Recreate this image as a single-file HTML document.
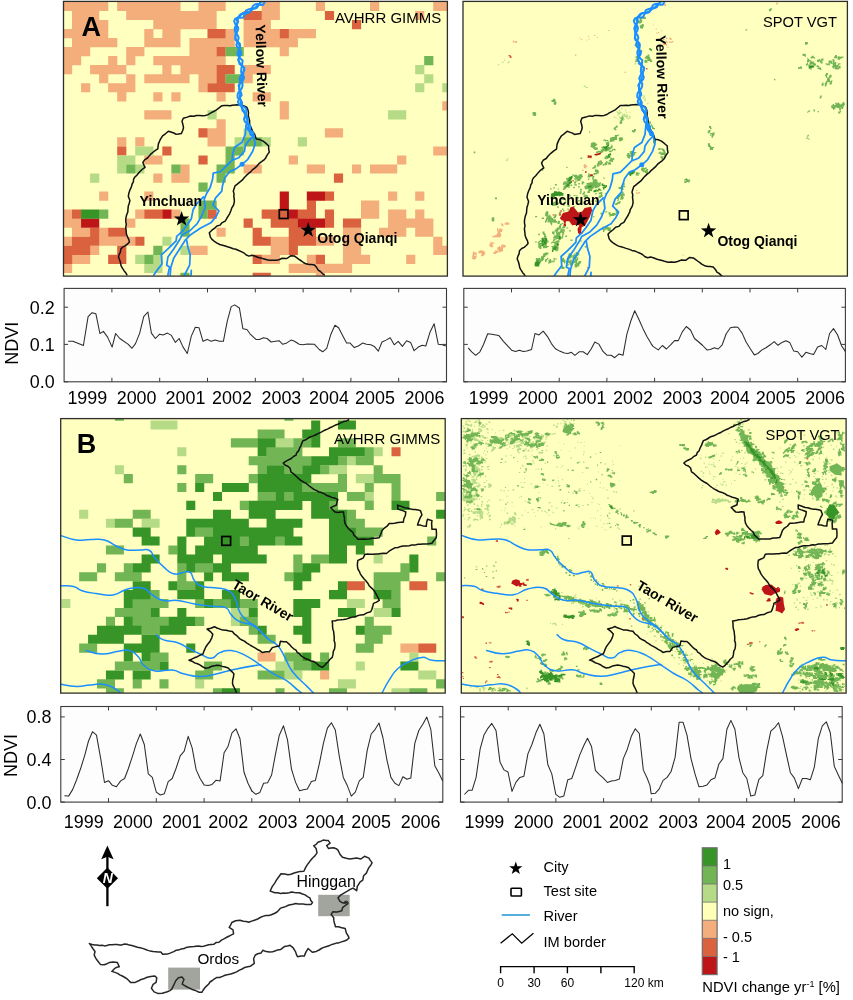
<!DOCTYPE html>
<html><head><meta charset="utf-8"><title>NDVI change maps</title>
<style>html,body{margin:0;padding:0;background:#fff}svg{display:block}text{font-family:'Liberation Sans', Arial, sans-serif}</style>
</head><body>
<svg width="853" height="1000" viewBox="0 0 853 1000">
<rect width="853" height="1000" fill="#fff"/>
<defs><clipPath id="cAL"><rect x="63.5" y="1.4" width="383.9" height="274.7"/></clipPath><clipPath id="cAR"><rect x="463.0" y="1.4" width="384.4" height="274.7"/></clipPath><clipPath id="cBL"><rect x="60.7" y="418.6" width="384.5" height="274.5"/></clipPath><clipPath id="cBR"><rect x="461.3" y="418.6" width="384.8" height="274.5"/></clipPath></defs>
<g id="mapAL">
<rect x="63.5" y="1.4" width="383.9" height="274.7" fill="#ffffc0"/>
<g clip-path="url(#cAL)">
<path fill="#f3ae7b" d="M63.00 1.90h45.30v9.18h-45.30zM117.18 1.90h63.36v9.18h-63.36zM198.45 1.90h27.24v9.18h-27.24zM261.66 1.90h18.21v9.18h-18.21zM315.84 1.90h9.18v9.18h-9.18zM370.02 1.90h9.18v9.18h-9.18zM433.23 1.90h18.21v9.18h-18.21zM72.03 10.93h27.24v9.18h-27.24zM126.21 10.93h90.45v9.18h-90.45zM261.66 10.93h18.21v9.18h-18.21zM415.17 10.93h9.18v9.18h-9.18zM72.03 19.96h36.27v9.18h-36.27zM153.30 19.96h63.36v9.18h-63.36zM243.60 19.96h27.24v9.18h-27.24zM63.00 28.99h45.30v9.18h-45.30zM144.27 28.99h9.18v9.18h-9.18zM162.33 28.99h18.21v9.18h-18.21zM225.54 28.99h9.18v9.18h-9.18zM243.60 28.99h36.27v9.18h-36.27zM288.75 28.99h27.24v9.18h-27.24zM72.03 38.02h45.30v9.18h-45.30zM144.27 38.02h36.27v9.18h-36.27zM189.42 38.02h45.30v9.18h-45.30zM243.60 38.02h54.33v9.18h-54.33zM63.00 47.05h27.24v9.18h-27.24zM126.21 47.05h18.21v9.18h-18.21zM189.42 47.05h27.24v9.18h-27.24zM279.72 47.05h9.18v9.18h-9.18zM63.00 56.08h18.21v9.18h-18.21zM108.15 56.08h9.18v9.18h-9.18zM126.21 56.08h9.18v9.18h-9.18zM153.30 56.08h72.39v9.18h-72.39zM63.00 65.11h9.18v9.18h-9.18zM90.09 65.11h36.27v9.18h-36.27zM162.33 65.11h9.18v9.18h-9.18zM180.39 65.11h36.27v9.18h-36.27zM243.60 65.11h27.24v9.18h-27.24zM99.12 74.14h9.18v9.18h-9.18zM126.21 74.14h9.18v9.18h-9.18zM144.27 74.14h45.30v9.18h-45.30zM198.45 74.14h18.21v9.18h-18.21zM243.60 74.14h9.18v9.18h-9.18zM81.06 83.17h9.18v9.18h-9.18zM108.15 83.17h27.24v9.18h-27.24zM198.45 83.17h9.18v9.18h-9.18zM117.18 92.20h9.18v9.18h-9.18zM153.30 92.20h9.18v9.18h-9.18zM171.36 92.20h9.18v9.18h-9.18zM216.51 92.20h9.18v9.18h-9.18zM252.63 92.20h18.21v9.18h-18.21zM279.72 101.23h9.18v9.18h-9.18zM442.26 101.23h9.18v9.18h-9.18zM144.27 110.26h27.24v9.18h-27.24zM279.72 110.26h9.18v9.18h-9.18zM216.51 119.29h9.18v9.18h-9.18zM207.48 128.32h18.21v9.18h-18.21zM324.87 128.32h18.21v9.18h-18.21zM117.18 137.35h9.18v9.18h-9.18zM135.24 137.35h9.18v9.18h-9.18zM207.48 137.35h18.21v9.18h-18.21zM433.23 146.38h18.21v9.18h-18.21zM144.27 155.41h18.21v9.18h-18.21zM288.75 155.41h9.18v9.18h-9.18zM397.11 155.41h9.18v9.18h-9.18zM180.39 164.44h9.18v9.18h-9.18zM243.60 164.44h18.21v9.18h-18.21zM306.81 164.44h18.21v9.18h-18.21zM351.96 164.44h9.18v9.18h-9.18zM370.02 164.44h27.24v9.18h-27.24zM153.30 173.47h9.18v9.18h-9.18zM171.36 173.47h18.21v9.18h-18.21zM99.12 191.53h9.18v9.18h-9.18zM144.27 191.53h9.18v9.18h-9.18zM388.08 191.53h9.18v9.18h-9.18zM415.17 191.53h9.18v9.18h-9.18zM360.99 200.56h18.21v9.18h-18.21zM63.00 209.59h9.18v9.18h-9.18zM135.24 209.59h9.18v9.18h-9.18zM171.36 209.59h9.18v9.18h-9.18zM360.99 209.59h18.21v9.18h-18.21zM388.08 209.59h18.21v9.18h-18.21zM415.17 209.59h9.18v9.18h-9.18zM63.00 218.62h18.21v9.18h-18.21zM126.21 218.62h9.18v9.18h-9.18zM388.08 218.62h45.30v9.18h-45.30zM72.03 227.65h18.21v9.18h-18.21zM99.12 227.65h9.18v9.18h-9.18zM216.51 227.65h9.18v9.18h-9.18zM342.93 227.65h18.21v9.18h-18.21zM379.05 227.65h27.24v9.18h-27.24zM415.17 227.65h18.21v9.18h-18.21zM63.00 236.68h9.18v9.18h-9.18zM99.12 236.68h36.27v9.18h-36.27zM270.69 236.68h18.21v9.18h-18.21zM315.84 236.68h18.21v9.18h-18.21zM342.93 236.68h18.21v9.18h-18.21zM433.23 236.68h9.18v9.18h-9.18zM90.09 245.71h9.18v9.18h-9.18zM189.42 245.71h18.21v9.18h-18.21zM270.69 245.71h18.21v9.18h-18.21zM342.93 245.71h18.21v9.18h-18.21zM433.23 245.71h18.21v9.18h-18.21zM72.03 254.74h18.21v9.18h-18.21zM261.66 254.74h18.21v9.18h-18.21zM306.81 254.74h9.18v9.18h-9.18zM342.93 254.74h27.24v9.18h-27.24zM406.14 254.74h9.18v9.18h-9.18zM63.00 263.77h9.18v9.18h-9.18zM288.75 263.77h63.36v9.18h-63.36zM315.84 272.80h9.18v9.18h-9.18z"/>
<path fill="#da623e" d="M243.60 10.93h18.21v9.18h-18.21zM324.87 10.93h9.18v9.18h-9.18zM351.96 19.96h9.18v9.18h-9.18zM207.48 28.99h18.21v9.18h-18.21zM279.72 28.99h9.18v9.18h-9.18zM216.51 47.05h9.18v9.18h-9.18zM216.51 65.11h18.21v9.18h-18.21zM216.51 74.14h9.18v9.18h-9.18zM207.48 83.17h27.24v9.18h-27.24zM198.45 128.32h9.18v9.18h-9.18zM117.18 146.38h9.18v9.18h-9.18zM162.33 146.38h9.18v9.18h-9.18zM198.45 155.41h9.18v9.18h-9.18zM333.90 173.47h9.18v9.18h-9.18zM324.87 191.53h9.18v9.18h-9.18zM306.81 200.56h9.18v9.18h-9.18zM72.03 209.59h9.18v9.18h-9.18zM144.27 209.59h18.21v9.18h-18.21zM207.48 209.59h9.18v9.18h-9.18zM261.66 209.59h27.24v9.18h-27.24zM297.78 209.59h18.21v9.18h-18.21zM324.87 209.59h9.18v9.18h-9.18zM243.60 218.62h9.18v9.18h-9.18zM270.69 218.62h27.24v9.18h-27.24zM324.87 218.62h9.18v9.18h-9.18zM342.93 218.62h18.21v9.18h-18.21zM90.09 227.65h9.18v9.18h-9.18zM108.15 227.65h18.21v9.18h-18.21zM252.63 227.65h9.18v9.18h-9.18zM288.75 227.65h27.24v9.18h-27.24zM72.03 236.68h27.24v9.18h-27.24zM135.24 236.68h9.18v9.18h-9.18zM252.63 236.68h18.21v9.18h-18.21zM288.75 236.68h27.24v9.18h-27.24zM63.00 245.71h27.24v9.18h-27.24zM117.18 245.71h9.18v9.18h-9.18zM288.75 245.71h9.18v9.18h-9.18zM63.00 254.74h9.18v9.18h-9.18zM108.15 254.74h18.21v9.18h-18.21zM252.63 254.74h9.18v9.18h-9.18zM315.84 254.74h9.18v9.18h-9.18zM252.63 272.80h18.21v9.18h-18.21z"/>
<path fill="#be1519" d="M279.72 191.53h9.18v9.18h-9.18zM306.81 191.53h18.21v9.18h-18.21zM279.72 200.56h9.18v9.18h-9.18zM162.33 209.59h9.18v9.18h-9.18zM288.75 209.59h9.18v9.18h-9.18zM81.06 218.62h18.21v9.18h-18.21zM297.78 218.62h27.24v9.18h-27.24z"/>
<path fill="#b5db86" d="M415.17 65.11h9.18v9.18h-9.18zM424.20 74.14h9.18v9.18h-9.18zM415.17 83.17h9.18v9.18h-9.18zM442.26 83.17h9.18v9.18h-9.18zM207.48 110.26h9.18v9.18h-9.18zM388.08 110.26h18.21v9.18h-18.21zM243.60 128.32h9.18v9.18h-9.18zM234.57 137.35h9.18v9.18h-9.18zM261.66 137.35h9.18v9.18h-9.18zM297.78 137.35h9.18v9.18h-9.18zM135.24 146.38h18.21v9.18h-18.21zM117.18 155.41h18.21v9.18h-18.21zM117.18 164.44h9.18v9.18h-9.18zM135.24 164.44h9.18v9.18h-9.18zM90.09 173.47h9.18v9.18h-9.18zM162.33 236.68h9.18v9.18h-9.18zM180.39 245.71h9.18v9.18h-9.18zM135.24 254.74h9.18v9.18h-9.18zM153.30 254.74h9.18v9.18h-9.18zM144.27 263.77h18.21v9.18h-18.21z"/>
<path fill="#72b554" d="M225.54 47.05h18.21v9.18h-18.21zM424.20 56.08h9.18v9.18h-9.18zM225.54 74.14h18.21v9.18h-18.21zM243.60 137.35h18.21v9.18h-18.21zM225.54 146.38h18.21v9.18h-18.21zM225.54 155.41h9.18v9.18h-9.18zM126.21 164.44h9.18v9.18h-9.18zM171.36 164.44h9.18v9.18h-9.18zM216.51 164.44h18.21v9.18h-18.21zM216.51 173.47h9.18v9.18h-9.18zM198.45 182.50h9.18v9.18h-9.18zM198.45 200.56h18.21v9.18h-18.21zM99.12 209.59h9.18v9.18h-9.18zM198.45 209.59h9.18v9.18h-9.18zM180.39 218.62h9.18v9.18h-9.18zM180.39 227.65h9.18v9.18h-9.18zM153.30 245.71h9.18v9.18h-9.18zM144.27 254.74h9.18v9.18h-9.18zM180.39 272.80h9.18v9.18h-9.18z"/>
<path fill="#379427" d="M81.06 209.59h18.21v9.18h-18.21z"/>
<g fill="none" stroke="#111" stroke-width="1.5" stroke-linejoin="round" stroke-linecap="round">
<path d="M240.6 105.0L237.7 104.8L235.1 105.0L232.1 105.3L230.2 105.8L227.3 105.4L224.4 105.6L221.6 105.8L218.7 108.2L216.5 109.9L213.6 111.5L210.6 113.0L208.2 114.6L205.4 115.5L202.4 115.8L199.4 115.5L196.4 115.5L193.9 116.3L190.5 116.0L187.2 117.1L183.3 118.2L182.0 121.3L182.9 124.5L183.5 127.7L182.8 130.2L181.4 133.5L178.5 133.9L175.8 134.2L173.8 133.0L170.8 132.0L168.4 131.2L165.4 133.8L162.6 135.8L160.2 139.7L158.4 143.9L157.8 148.9L155.4 150.3L153.3 152.0L151.1 153.8L149.6 155.4L147.5 158.0L144.6 159.8L142.9 162.4L143.9 165.1L145.1 167.3L142.0 169.5L139.3 172.3L137.0 175.1L134.9 177.0L133.6 179.2L133.4 181.8L132.1 184.0L131.5 186.7L130.1 189.6L128.9 192.9L128.3 196.3L129.9 200.6L129.1 203.8L128.3 206.1L128.0 208.8L127.8 212.0L126.6 215.0L125.9 218.1L125.7 221.4L126.3 224.4L125.7 227.3L126.1 230.4L126.4 233.8L127.1 236.1L128.8 239.3L129.4 242.0L127.6 243.9L125.4 245.7L123.0 246.9L120.8 249.0L120.4 252.1L119.1 254.6L118.5 257.3L119.7 260.0L120.5 262.9L121.1 265.9L122.4 268.2L124.2 270.9L125.5 272.4L126.9 274.9"/>
<path d="M242.3 105.2L246.8 107.3L248.1 110.3L248.5 113.2L248.2 115.4L249.0 118.1L249.6 120.9L249.6 124.4L250.9 127.0L251.6 129.1L253.1 132.2L254.6 134.2L256.3 139.0L259.6 139.6L262.7 140.9L265.4 142.9L268.6 145.7L268.7 149.2L269.3 152.1L267.1 155.1L265.7 157.9L263.7 160.2L261.2 161.9L258.7 163.9L256.6 166.4L254.4 168.4L252.3 169.9L250.7 171.9L248.2 173.7L246.4 175.4L244.6 177.3L242.2 180.2L239.7 182.1L237.3 184.1L235.0 185.9L234.0 188.9L233.3 191.2L234.1 194.1L233.8 196.2L234.2 199.2L234.4 201.6L233.6 205.0L231.7 208.1L230.9 210.8L229.6 213.8L228.0 216.4L226.7 218.5L225.2 221.1L222.2 222.6L220.1 225.1L216.9 226.0L214.7 228.1L211.9 230.2L209.3 232.8L210.5 237.4L212.3 239.7L214.4 241.3L217.1 243.1L219.8 244.5L222.4 245.2L224.5 245.8L227.4 246.8L230.0 247.5L233.2 248.7L235.9 249.2L238.1 250.2L241.3 251.6L243.7 252.8L246.3 255.0L249.0 256.1L251.9 255.3L254.6 256.0L258.4 257.5L261.2 258.1L264.2 259.0L266.8 259.8L269.4 260.3L272.5 260.3L276.0 260.3L278.9 259.7L282.3 258.3L286.9 258.5L291.0 255.7L294.6 256.1L297.0 257.9L298.9 259.3L301.5 261.0L303.4 262.5L305.9 263.8L309.2 264.5L311.7 264.6L314.5 265.0L316.7 267.5L318.2 270.2L320.4 271.5L322.5 273.5L324.3 275.0"/>
</g>
<g fill="none" stroke="#1b8fff" stroke-width="2.0" stroke-linejoin="round" stroke-linecap="round">
<path d="M266.0 0.9L263.1 0.1L261.0 0.8L259.8 3.0L258.5 5.2L257.1 7.5L255.0 8.5L252.4 8.6L250.2 9.1L248.0 9.6L246.1 10.4L245.4 13.0L244.4 15.2L243.3 17.5L240.8 17.7L238.0 17.4L235.1 19.0L234.1 21.3L235.1 23.7L237.4 26.1L238.3 28.2L237.7 30.8L236.2 33.4L235.4 35.9L235.1 38.6L235.9 40.5L238.2 42.1L239.8 43.8L240.2 45.7L239.7 48.0L238.5 50.4L237.6 52.7L237.8 54.9L239.0 57.1L240.7 58.8L242.6 60.5L242.3 63.1L242.1 65.7L241.5 67.6L241.3 69.9L241.1 72.1L242.4 74.6L244.1 77.1L243.6 79.3L241.8 81.4L239.9 83.4L238.6 85.5L239.2 87.9L239.9 90.2L241.1 92.8L241.6 95.3L240.1 97.1L238.8 99.5L238.0 101.8L238.9 104.4L241.0 105.9L244.0 106.8L245.9 108.4L246.6 111.4L245.8 114.0L244.8 116.5L244.0 119.1L244.9 121.9L247.1 123.3L249.4 124.7L250.4 126.7L250.1 129.0L249.9 132.1L250.6 134.7L253.5 135.8"/>
<path d="M265.6 0.2L264.4 2.5L263.2 4.7L260.9 5.0L257.9 4.1L255.3 4.3L253.3 5.5L252.0 8.0L251.0 10.2L249.9 12.1L248.0 13.1L245.8 13.5L243.1 13.2L241.0 14.0L239.4 15.5L238.2 17.8L237.7 19.2L238.1 21.5L237.1 23.8L235.5 26.0L234.6 28.5L235.1 31.0L236.1 33.4L237.9 35.7L238.7 37.9L238.0 40.1L237.3 42.3L236.4 44.5L236.8 46.5L238.4 48.1L239.8 50.3L241.2 52.4L240.9 54.7L239.3 57.1L238.3 59.8L239.0 62.0L239.7 64.2L242.0 65.8L244.3 68.0L244.3 70.2L243.3 72.4L241.4 74.5L240.4 76.6L239.5 78.8L240.4 81.2L242.5 83.7L242.5 86.0L241.8 88.2L240.4 90.3L238.5 92.4L237.6 94.6L237.6 97.6L239.9 99.3L241.3 101.1L242.1 102.5L241.9 105.3L241.8 108.2L242.5 110.5L243.7 111.7L244.9 114.1L246.8 116.3L247.9 118.7L247.6 120.8L246.9 123.4L246.1 126.0L247.2 127.9L248.4 130.1L251.6 131.0L253.3 132.9L253.5 135.8"/>
<path d="M265.4 -0.2L261.5 1.8L258.3 4.8L255.6 7.1L252.8 9.2L250.1 11.3L246.8 12.6L243.1 13.2L240.9 15.1L238.8 17.3L236.4 19.1L237.5 22.3L236.9 25.3L236.3 28.4L235.4 31.8L235.6 35.1L235.7 38.5L237.1 41.6L239.0 44.6L239.7 48.0L239.5 51.8L239.3 55.6L238.3 59.8L239.6 62.6L241.8 65.0L244.2 67.9L243.4 71.7L243.1 75.5L241.5 79.1L240.0 82.7L239.4 86.4L239.2 90.1L240.1 93.9L239.8 97.1L240.9 100.1L240.4 103.5L241.2 106.6L243.0 109.2L244.7 111.6L245.8 114.8L246.2 118.0L247.4 120.9L247.9 123.8L248.4 126.7L248.5 130.0L250.6 133.2L253.5 135.8" stroke-width="1.8"/>
<path d="M253.5 135.8L248.6 140.8L245.3 145.6L244.5 151.2L238.8 157.7L232.2 160.2L227.3 165.0L220.7 171.5L213.3 173.1L212.5 179.6L210.1 187.7L206.6 193.5L204.2 199.2L205.2 207.3L201.9 215.5L197.2 223.6L190.2 230.5L182.0 235.1L179.6 239.8L173.7 248.9L167.9 257.1L166.7 265.2L169.6 266.9L167.9 275.0" stroke-width="1.75"/>
<path d="M253.5 135.8L255.2 143.9L252.7 151.2L247.8 159.3L242.1 164.3L235.5 169.1L229.7 171.5L224.8 178.0L222.4 186.1L221.8 191.1L215.4 198.1L213.0 205.0L218.9 210.8L216.0 216.6L211.3 222.4L200.7 228.1L190.2 235.1L185.5 239.8L179.6 248.9L173.7 258.2L170.8 267.5L170.2 275.0" stroke-width="1.75"/>
<path d="M246.2 125.0L245.3 134.3L242.1 142.3L234.7 147.2L232.7 153.7L232.2 160.2" stroke-width="1.75"/>
<path d="M203.6 196.9L196.6 203.8L193.1 209.7L191.3 218.9L186.6 225.8L182.0 231.7L176.7 236.3L176.1 240.8L167.9 248.9L161.4 254.8L162.0 264.0L157.3 269.9L153.8 275.0" stroke-width="1.75"/>
<path d="M186.6 239.8L187.8 246.7L190.2 254.8L189.6 265.2L184.5 275.0" stroke-width="1.75"/>
<path d="M191.3 270.4L191.1 275.0" stroke-width="1.75"/>
<circle cx="242.1" cy="164.3" r="2.5" fill="#1b8fff" stroke="none"/>
</g>
</g>
<rect x="279.3" y="209.8" width="8.7" height="8.7" fill="none" stroke="#000" stroke-width="1.7"/>
<path d="M181.6 210.9L183.5 216.4L189.3 216.5L184.7 220.0L186.4 225.6L181.6 222.2L176.8 225.6L178.5 220.0L173.9 216.5L179.7 216.4z" fill="#000"/>
<path d="M308.2 222.1L310.1 227.6L315.9 227.7L311.3 231.2L313.0 236.8L308.2 233.4L303.4 236.8L305.1 231.2L300.5 227.7L306.3 227.6z" fill="#000"/>
<text x="139.6" y="205.5" font-size="14" font-weight="bold">Yinchuan</text>
<text x="317.3" y="242.6" font-size="14" font-weight="bold">Otog Qianqi</text>
<text transform="translate(255.4,24.6) rotate(88.3)" font-size="14" font-weight="bold">Yellow River</text>
<text x="441.3" y="23.3" font-size="15" text-anchor="end">AVHRR GIMMS</text>
<text x="81.5" y="36" font-size="27" font-weight="bold">A</text>
<rect x="63.5" y="1.4" width="383.9" height="274.7" fill="none" stroke="#2e2e2a" stroke-width="1.3"/>
</g>
<g id="mapAR">
<rect x="463.0" y="1.4" width="384.4" height="274.7" fill="#ffffc0"/>
<g clip-path="url(#cAR)">
<path fill="#b5db86" d="M502.1 61.7h1.4v1.2h-1.4zM507.6 61.9h1.1v1.3h-1.1zM504.1 59.6h1.0v1.2h-1.0zM498.1 63.9h1.1v1.4h-1.1zM508.0 61.4h1.7v1.1h-1.7zM585.4 86.5h1.0v1.1h-1.0zM583.7 85.5h1.5v1.5h-1.5zM586.1 87.0h1.7v1.0h-1.7zM625.3 115.5h0.9v1.0h-0.9zM622.2 119.5h1.4v0.9h-1.4zM618.3 112.9h0.9v1.4h-0.9zM621.6 117.1h0.9v1.2h-0.9zM626.2 111.7h1.2v1.0h-1.2zM627.1 115.8h1.4v1.0h-1.4zM618.5 112.8h1.7v1.3h-1.7zM621.7 121.9h0.8v1.1h-0.8zM619.1 116.6h0.9v1.3h-0.9zM626.2 115.8h1.7v0.9h-1.7zM623.1 119.3h1.3v1.2h-1.3zM622.4 113.8h1.1v1.0h-1.1zM629.2 117.3h1.6v1.3h-1.6zM628.9 115.7h1.5v1.1h-1.5zM621.3 112.3h1.0v0.9h-1.0zM621.6 116.2h1.1v1.3h-1.1zM618.6 110.1h1.5v1.0h-1.5zM617.2 114.4h1.6v1.1h-1.6zM620.6 119.8h1.8v0.9h-1.8zM622.0 115.2h1.1v1.0h-1.1zM620.9 108.3h1.5v1.0h-1.5zM624.1 113.5h1.0v1.4h-1.0zM617.1 111.9h1.5v1.4h-1.5zM613.7 116.4h1.5v1.3h-1.5zM615.4 117.4h1.4v1.0h-1.4zM622.9 119.4h0.9v1.4h-0.9zM622.1 115.9h0.9v1.4h-0.9zM620.3 117.0h0.8v0.8h-0.8zM619.3 111.4h1.5v1.3h-1.5zM626.3 116.9h1.2v1.3h-1.2zM625.1 109.6h0.9v1.4h-0.9zM629.8 111.8h0.9v0.9h-0.9zM622.0 115.9h1.6v1.3h-1.6zM616.3 111.3h1.4v1.0h-1.4zM622.7 116.3h1.6v0.9h-1.6zM619.8 118.4h0.8v1.0h-0.8zM620.1 120.2h1.2v1.0h-1.2zM625.8 114.6h1.7v1.2h-1.7zM625.4 116.0h1.2v1.3h-1.2zM617.8 119.4h1.3v0.9h-1.3zM622.3 114.5h1.6v0.9h-1.6zM623.9 115.3h1.6v1.4h-1.6zM626.0 115.4h1.3v1.3h-1.3zM623.3 118.5h1.1v1.3h-1.1zM620.8 122.7h1.1v0.9h-1.1zM620.1 112.0h0.9v1.2h-0.9zM627.4 117.9h1.5v1.3h-1.5zM618.8 113.4h1.2v1.1h-1.2zM622.5 114.8h1.7v0.8h-1.7zM622.0 117.7h1.7v1.1h-1.7zM641.8 68.4h1.6v1.5h-1.6zM636.5 50.0h1.8v1.5h-1.8zM640.5 66.5h1.5v1.4h-1.5zM634.4 63.3h1.6v1.2h-1.6zM639.4 62.2h1.5v1.0h-1.5zM637.9 59.9h1.5v1.3h-1.5zM634.7 56.8h1.0v1.5h-1.0zM636.0 60.5h1.7v1.5h-1.7zM637.2 63.2h2.0v1.0h-2.0zM637.2 53.9h1.0v1.4h-1.0zM637.0 48.7h1.3v1.6h-1.3zM636.2 59.1h1.9v1.0h-1.9zM647.3 102.8h1.1v1.5h-1.1zM644.3 99.7h1.7v1.1h-1.7zM644.4 98.0h1.1v1.5h-1.1zM643.5 95.6h1.7v1.1h-1.7zM642.6 96.9h1.5v1.6h-1.5zM505.8 159.6h1.1v1.1h-1.1zM507.2 158.1h1.2v1.1h-1.2zM506.6 159.5h1.0v1.4h-1.0z"/>
<path fill="#72b554" d="M806.9 62.7h1.1v1.7h-1.1zM805.9 63.8h1.1v1.7h-1.1zM807.2 64.4h1.6v1.1h-1.6zM808.5 64.7h1.6v2.1h-1.6zM809.5 65.4h1.8v1.5h-1.8zM811.4 64.9h1.1v2.1h-1.1zM810.9 66.8h1.2v1.2h-1.2zM809.8 68.2h2.1v1.2h-2.1zM808.6 67.2h1.8v1.5h-1.8zM810.0 61.6h1.9v1.6h-1.9zM809.5 63.0h1.8v1.6h-1.8zM810.7 56.7h1.7v1.7h-1.7zM811.7 55.8h1.9v1.4h-1.9zM813.0 63.3h1.2v1.6h-1.2zM814.1 63.5h1.9v2.0h-1.9zM812.6 63.1h2.1v1.4h-2.1zM812.2 61.5h1.8v1.8h-1.8zM810.6 61.8h2.1v2.2h-2.1zM807.0 59.9h1.8v2.3h-1.8zM807.9 59.0h1.4v1.5h-1.4zM807.3 57.7h1.0v1.6h-1.0zM808.0 59.4h1.2v1.1h-1.2zM811.0 63.1h2.1v1.1h-2.1zM809.8 63.0h1.7v2.1h-1.7zM810.3 62.0h2.1v1.4h-2.1zM800.5 66.2h1.2v1.2h-1.2zM800.7 67.5h1.3v1.6h-1.3zM799.3 67.0h1.3v1.0h-1.3zM798.0 67.3h1.5v1.7h-1.5zM799.4 66.8h1.9v1.7h-1.9zM807.1 60.0h2.0v2.1h-2.0zM807.8 58.9h1.5v1.5h-1.5zM808.8 60.1h1.8v1.1h-1.8zM810.4 60.7h1.3v1.2h-1.3zM809.6 62.1h1.1v1.0h-1.1zM812.5 62.8h2.1v1.8h-2.1zM813.8 64.2h1.3v1.5h-1.3zM816.6 65.3h1.6v1.6h-1.6zM818.1 66.1h1.1v1.4h-1.1zM817.4 67.7h2.1v1.2h-2.1zM818.8 67.6h2.2v1.7h-2.2zM819.8 69.0h1.7v1.0h-1.7zM820.2 60.5h1.3v1.5h-1.3zM820.6 61.7h2.0v1.7h-2.0zM821.1 60.3h1.4v1.3h-1.4zM821.2 58.5h2.3v2.1h-2.3zM812.3 56.8h1.7v1.5h-1.7zM814.1 57.1h1.0v1.4h-1.0zM802.6 53.8h2.2v2.3h-2.2zM804.4 53.9h1.5v1.3h-1.5zM804.7 55.4h1.3v1.3h-1.3zM819.8 60.3h1.0v2.3h-1.0zM818.6 59.1h1.7v2.2h-1.7zM817.0 59.8h2.1v2.1h-2.1zM838.7 63.3h1.8v1.3h-1.8zM837.7 63.6h1.2v2.2h-1.2zM836.6 65.0h1.6v1.8h-1.6zM837.7 56.3h1.7v1.7h-1.7zM839.3 56.7h1.6v1.2h-1.6zM840.5 56.7h2.0v1.2h-2.0zM838.9 56.7h1.9v1.7h-1.9zM838.3 58.0h1.7v1.7h-1.7zM839.2 66.5h1.4v2.0h-1.4zM837.5 66.5h1.7v2.0h-1.7zM838.9 65.8h1.6v1.8h-1.6zM837.5 57.8h1.7v1.6h-1.7zM838.8 57.0h1.9v2.1h-1.9zM840.5 56.7h1.3v1.7h-1.3zM841.4 56.5h2.1v1.2h-2.1zM832.8 61.8h1.1v1.9h-1.1zM832.6 60.6h2.2v1.2h-2.2zM832.4 59.2h1.9v1.2h-1.9zM834.0 65.6h1.5v1.6h-1.5zM835.2 65.7h2.1v1.2h-2.1zM834.0 66.2h1.7v1.4h-1.7zM834.6 67.4h1.4v1.9h-1.4zM835.9 67.7h1.7v1.6h-1.7zM837.5 67.6h1.4v1.8h-1.4zM836.0 67.2h1.1v2.3h-1.1zM832.7 64.6h1.1v2.0h-1.1zM832.4 66.4h1.2v1.5h-1.2zM833.3 65.6h2.1v1.3h-2.1zM833.0 67.4h1.1v1.1h-1.1zM832.2 66.0h1.6v1.1h-1.6zM833.5 65.0h1.8v2.0h-1.8zM834.6 66.4h2.1v1.1h-2.1zM835.8 65.1h1.6v1.4h-1.6zM833.9 64.8h2.2v1.3h-2.2zM829.9 60.9h1.2v1.1h-1.2zM830.3 62.2h1.4v1.4h-1.4zM830.4 60.5h1.4v1.7h-1.4zM832.8 62.6h1.0v2.0h-1.0zM831.3 62.3h1.2v1.6h-1.2zM832.8 61.5h1.1v2.1h-1.1zM834.0 56.4h1.7v1.9h-1.7zM835.7 56.2h1.4v2.1h-1.4zM835.0 55.0h1.8v1.5h-1.8zM834.4 56.5h1.1v1.2h-1.1zM833.8 62.8h1.1v2.1h-1.1zM834.4 62.1h1.9v1.4h-1.9zM834.7 63.5h1.4v1.6h-1.4zM828.6 60.6h2.3v1.7h-2.3zM828.7 62.2h2.3v1.4h-2.3zM828.4 63.3h1.0v1.5h-1.0zM826.6 63.5h1.7v1.3h-1.7zM825.5 63.3h1.0v1.3h-1.0zM826.7 64.1h1.5v1.1h-1.5zM828.4 64.1h1.4v1.3h-1.4zM829.4 74.7h1.9v2.1h-1.9zM829.1 76.0h1.4v2.3h-1.4zM830.5 75.1h1.1v2.1h-1.1zM825.9 76.0h1.2v1.7h-1.2zM825.1 74.4h2.1v1.8h-2.1zM826.0 73.1h1.9v1.9h-1.9zM825.5 81.8h1.7v1.8h-1.7zM826.3 80.7h1.9v1.6h-1.9zM827.8 80.2h1.7v1.7h-1.7zM828.8 78.9h1.1v2.0h-1.1zM824.8 83.1h2.3v1.6h-2.3zM824.8 84.5h1.6v1.9h-1.6zM825.9 83.5h1.1v1.2h-1.1zM827.0 79.0h1.0v1.1h-1.0zM827.2 77.5h1.9v1.4h-1.9zM828.7 76.8h1.6v1.6h-1.6zM819.7 96.5h1.6v2.1h-1.6zM820.3 95.4h1.6v1.3h-1.6zM829.4 83.2h2.2v1.2h-2.2zM830.3 81.4h1.7v2.2h-1.7zM830.9 80.6h1.6v1.0h-1.6zM822.3 82.5h1.2v1.4h-1.2zM821.6 83.6h2.0v2.1h-2.0zM828.9 81.0h1.4v1.5h-1.4zM827.9 79.7h1.5v1.6h-1.5zM826.7 80.2h1.1v1.1h-1.1zM827.6 79.0h1.3v1.3h-1.3zM837.9 106.2h2.1v2.1h-2.1zM836.8 105.0h2.2v2.2h-2.2zM835.6 105.2h1.9v1.1h-1.9zM835.7 103.3h1.6v2.0h-1.6zM835.0 102.7h1.4v1.1h-1.4zM840.6 106.0h1.4v2.0h-1.4zM842.2 105.9h1.3v1.9h-1.3zM841.4 107.5h1.7v1.5h-1.7zM838.2 105.8h1.6v1.3h-1.6zM839.1 104.8h2.3v1.6h-2.3zM840.5 106.3h1.3v1.1h-1.3zM839.7 107.4h1.1v1.3h-1.1zM839.2 108.4h1.7v2.2h-1.7zM831.4 105.6h1.5v1.4h-1.5zM832.9 105.8h1.4v2.3h-1.4zM833.7 107.1h1.7v1.8h-1.7zM834.8 106.1h1.3v1.4h-1.3zM831.1 105.5h2.1v2.1h-2.1zM833.2 105.8h1.0v1.9h-1.0zM834.0 105.0h1.6v1.8h-1.6zM835.4 104.8h1.5v2.2h-1.5zM835.6 103.5h2.1v2.3h-2.1zM838.5 104.8h1.9v2.2h-1.9zM838.3 103.4h1.8v2.0h-1.8zM836.9 104.4h1.7v1.1h-1.7zM837.5 102.4h1.3v2.2h-1.3zM835.1 105.3h1.8v1.9h-1.8zM836.7 106.4h1.1v1.7h-1.1zM835.1 105.8h1.5v1.3h-1.5zM840.5 104.2h2.2v1.8h-2.2zM842.0 103.5h1.6v1.3h-1.6zM841.6 104.7h2.2v1.9h-2.2zM842.6 104.7h1.5v1.3h-1.5zM841.5 103.4h2.2v1.3h-2.2zM843.4 103.7h1.4v1.5h-1.4zM842.9 102.1h1.3v2.0h-1.3zM832.6 103.9h1.4v2.1h-1.4zM832.8 105.5h1.3v2.0h-1.3zM831.9 107.0h2.2v1.6h-2.2zM833.0 108.3h1.3v1.5h-1.3zM831.7 107.0h2.2v1.2h-2.2zM839.9 111.0h1.1v1.1h-1.1zM838.2 111.4h2.2v2.1h-2.2zM840.3 104.5h2.2v1.2h-2.2zM842.3 104.0h1.3v1.5h-1.3zM842.5 102.6h2.1v1.6h-2.1zM808.2 110.6h1.9v1.1h-1.9zM807.3 111.6h1.0v1.2h-1.0zM813.4 109.3h1.0v1.0h-1.0zM817.6 110.9h1.3v1.4h-1.3zM813.6 109.8h1.3v1.6h-1.3zM805.1 43.3h1.8v1.5h-1.8zM805.0 42.3h1.5v1.5h-1.5zM805.8 42.1h2.0v2.1h-2.0zM805.0 41.9h2.1v1.2h-2.1zM805.3 42.4h1.7v2.2h-1.7zM806.3 42.5h1.6v1.5h-1.6zM707.7 131.3h2.0v2.0h-2.0zM708.4 130.1h2.0v1.8h-2.0zM710.0 134.4h1.1v1.3h-1.1zM710.0 132.9h1.3v1.1h-1.3zM711.3 133.2h1.7v1.4h-1.7zM712.5 132.6h2.1v2.3h-2.1zM712.7 134.8h1.1v1.1h-1.1zM710.0 127.4h1.5v1.8h-1.5zM709.0 125.9h2.0v2.1h-2.0zM711.5 135.9h1.7v1.5h-1.7zM711.6 134.5h1.3v1.3h-1.3zM711.7 135.6h1.2v2.1h-1.2zM709.7 148.6h1.7v1.3h-1.7zM710.2 146.7h1.8v2.3h-1.8zM711.5 147.8h1.6v2.1h-1.6zM711.9 147.0h2.2v1.1h-2.2zM711.9 148.5h1.2v1.2h-1.2zM707.9 143.3h2.1v1.6h-2.1zM707.9 144.5h2.0v2.2h-2.0zM709.2 145.6h1.8v1.8h-1.8zM710.0 147.1h1.3v1.8h-1.3zM709.1 146.3h1.3v1.0h-1.3zM807.1 135.6h1.3v1.1h-1.3zM807.8 134.7h1.1v1.1h-1.1zM806.2 137.6h1.6v1.1h-1.6zM808.1 138.4h1.4v1.2h-1.4zM770.3 8.0h1.4v2.0h-1.4zM769.8 9.1h1.7v1.5h-1.7zM768.9 9.3h1.9v2.0h-1.9zM745.5 29.2h1.6v1.2h-1.6zM774.0 79.1h1.4v1.2h-1.4zM685.9 180.4h1.1v1.6h-1.1zM685.9 179.1h2.3v1.3h-2.3zM686.9 179.8h2.2v2.3h-2.2zM685.9 180.0h1.1v2.2h-1.1zM684.2 181.2h2.2v1.8h-2.2zM688.1 180.4h1.5v2.1h-1.5zM689.0 179.5h1.2v1.3h-1.2zM684.4 178.9h1.3v1.9h-1.3zM685.7 178.1h1.1v1.7h-1.1zM551.5 100.1h2.4v1.8h-2.4zM552.6 100.0h2.3v1.4h-2.3zM552.9 99.0h2.3v1.3h-2.3zM552.2 99.9h2.1v1.4h-2.1zM553.4 98.8h1.5v2.2h-1.5zM553.9 99.7h1.8v2.3h-1.8zM554.2 101.1h1.5v1.8h-1.5zM553.8 102.3h1.2v1.4h-1.2zM553.7 102.8h2.3v2.0h-2.3zM555.0 101.9h1.4v2.1h-1.4zM534.4 113.3h1.8v2.0h-1.8zM533.5 114.2h2.2v1.9h-2.2zM532.6 113.9h2.3v1.3h-2.3zM533.9 113.7h2.0v1.7h-2.0zM534.4 112.3h1.5v2.4h-1.5zM533.5 112.0h1.6v2.1h-1.6zM532.7 112.4h1.4v2.1h-1.4zM533.4 113.1h2.2v1.5h-2.2zM532.6 112.1h2.4v1.9h-2.4zM620.2 122.3h1.6v1.7h-1.6zM620.0 120.7h2.0v1.8h-2.0zM619.4 122.3h1.4v1.2h-1.4zM621.5 117.9h1.6v2.0h-1.6zM620.4 117.4h1.2v1.6h-1.2zM621.5 116.6h1.3v1.2h-1.3zM622.3 117.6h1.2v1.3h-1.2zM621.3 119.0h1.7v1.2h-1.7zM620.9 119.7h1.2v2.3h-1.2zM641.3 25.6h1.9v1.8h-1.9zM641.5 27.2h1.6v1.6h-1.6zM640.4 26.0h1.5v1.9h-1.5zM642.0 25.3h1.2v1.9h-1.2zM642.1 23.9h1.5v1.6h-1.5zM641.8 24.6h2.0v2.2h-2.0zM640.7 24.7h1.1v1.7h-1.1zM639.6 21.2h2.1v1.7h-2.1zM638.2 22.2h2.2v1.3h-2.2zM638.0 20.5h1.5v2.0h-1.5zM638.8 21.8h2.3v1.5h-2.3zM640.0 26.7h1.5v1.5h-1.5zM639.6 25.4h1.5v1.3h-1.5zM637.2 44.5h1.3v2.0h-1.3zM636.0 45.9h1.3v1.2h-1.3zM635.9 44.0h2.1v1.8h-2.1zM634.6 44.6h1.7v1.3h-1.7zM635.7 58.7h2.1v1.6h-2.1zM635.4 60.4h1.7v1.2h-1.7zM636.3 58.6h1.5v2.1h-1.5zM636.1 60.5h1.5v1.3h-1.5zM634.9 61.2h1.2v1.0h-1.2zM637.0 57.2h1.6v1.6h-1.6zM635.9 56.1h1.9v1.5h-1.9zM637.2 55.6h2.1v1.1h-2.1zM639.1 50.2h2.1v1.8h-2.1zM641.2 50.1h1.0v2.2h-1.0zM637.3 55.8h1.3v2.0h-1.3zM636.5 57.0h1.2v2.2h-1.2zM647.2 55.8h2.1v1.5h-2.1zM646.0 55.8h1.7v2.0h-1.7zM646.5 57.5h1.6v1.5h-1.6zM644.8 57.0h2.1v1.4h-2.1zM645.7 60.5h1.7v2.3h-1.7zM644.7 59.7h2.0v1.4h-2.0zM644.4 61.0h1.4v1.8h-1.4zM648.1 58.4h2.2v1.7h-2.2zM649.9 59.3h1.4v1.0h-1.4zM650.0 60.3h2.2v1.8h-2.2zM649.1 58.7h2.0v2.2h-2.0zM648.0 57.9h1.8v1.8h-1.8zM647.6 56.4h1.8v1.9h-1.8zM647.1 57.0h1.1v1.2h-1.1zM648.1 56.9h2.0v2.2h-2.0zM647.4 55.6h1.5v2.1h-1.5zM647.6 54.6h1.7v1.3h-1.7zM647.2 56.1h1.5v1.4h-1.5zM645.7 56.4h1.8v2.2h-1.8zM647.3 58.8h2.1v1.7h-2.1zM648.9 58.5h1.6v1.0h-1.6zM647.6 58.9h1.8v2.2h-1.8zM643.5 16.9h2.3v2.1h-2.3zM642.2 17.4h1.7v1.3h-1.7zM639.6 18.0h2.1v2.3h-2.1zM640.1 20.0h1.0v1.3h-1.0zM640.7 21.4h1.1v1.1h-1.1zM638.8 20.4h2.1v1.6h-2.1zM640.2 20.1h2.2v1.1h-2.2zM643.5 17.4h1.3v1.7h-1.3zM642.1 16.2h2.2v1.9h-2.2zM641.3 17.5h1.6v1.2h-1.6zM642.5 17.2h2.3v1.3h-2.3zM644.5 17.5h1.3v1.5h-1.3zM491.7 217.6h1.5v1.8h-1.5zM492.6 217.2h1.7v2.1h-1.7zM492.6 218.3h1.6v1.9h-1.6zM492.8 219.1h1.5v2.1h-1.5zM491.5 219.4h2.0v1.4h-2.0zM492.2 220.2h1.6v1.4h-1.6zM473.7 151.6h1.6v1.6h-1.6zM494.9 197.5h2.1v1.8h-2.1zM567.2 179.3h1.9v1.5h-1.9zM566.6 180.1h1.1v2.2h-1.1zM566.5 181.7h2.2v1.9h-2.2zM567.7 180.8h1.6v1.1h-1.6zM563.7 185.8h1.2v2.0h-1.2zM565.1 185.8h1.3v1.7h-1.3zM566.0 184.9h1.8v1.7h-1.8zM565.0 186.3h1.5v1.3h-1.5zM564.0 187.0h1.2v1.9h-1.2zM562.9 188.4h1.7v1.6h-1.7zM563.6 187.0h1.5v1.4h-1.5zM564.8 185.6h1.4v2.1h-1.4zM565.2 184.7h2.0v1.2h-2.0zM564.6 185.8h2.0v2.1h-2.0zM564.7 187.6h1.4v1.5h-1.4zM566.7 183.1h1.1v1.4h-1.1zM565.0 183.4h1.5v1.2h-1.5zM565.9 182.4h2.0v1.1h-2.0zM566.8 181.0h2.3v1.7h-2.3zM565.9 181.7h1.2v1.7h-1.2zM564.1 182.4h2.2v1.8h-2.2zM564.5 181.2h1.3v1.3h-1.3zM569.2 180.1h1.4v1.2h-1.4zM569.4 178.2h1.2v2.0h-1.2zM569.0 177.0h2.0v1.4h-2.0zM567.9 177.8h1.5v1.7h-1.5zM566.1 178.1h2.1v1.3h-2.1zM567.8 177.5h2.1v1.9h-2.1zM568.9 176.8h2.2v1.6h-2.2zM568.5 178.6h1.8v1.1h-1.8zM569.8 177.3h1.2v1.6h-1.2zM568.4 178.5h1.6v1.2h-1.6zM569.1 179.2h2.0v1.6h-2.0zM570.1 177.9h1.5v1.4h-1.5zM568.4 177.9h1.9v2.1h-1.9zM567.4 179.0h1.6v1.7h-1.6zM566.9 180.7h1.3v1.1h-1.3zM567.2 178.7h2.2v2.1h-2.2zM568.7 178.3h2.3v1.8h-2.3zM570.0 177.5h1.8v1.4h-1.8zM570.5 176.2h2.2v1.6h-2.2zM569.8 178.0h2.2v1.0h-2.2zM563.0 183.2h1.9v1.5h-1.9zM563.5 181.7h1.7v1.5h-1.7zM563.0 182.9h1.2v2.2h-1.2zM563.7 182.0h1.3v1.1h-1.3zM566.6 184.4h1.3v1.7h-1.3zM568.0 183.9h1.1v1.5h-1.1zM566.4 184.3h1.6v2.1h-1.6zM566.5 182.7h1.1v2.3h-1.1zM567.2 181.5h1.1v2.1h-1.1zM567.5 180.3h1.7v2.0h-1.7zM566.2 181.9h2.0v1.1h-2.0zM565.3 183.1h1.8v1.3h-1.8zM575.5 175.4h1.8v2.1h-1.8zM573.9 174.8h2.2v2.1h-2.2zM574.9 176.5h2.0v1.4h-2.0zM575.1 174.7h1.9v2.1h-1.9zM576.4 175.8h1.5v2.0h-1.5zM577.6 175.8h1.9v1.1h-1.9zM578.5 178.0h1.1v2.2h-1.1zM577.7 177.1h1.3v1.3h-1.3zM575.9 177.4h2.1v1.8h-2.1zM577.7 178.8h1.0v1.1h-1.0zM578.1 177.0h1.2v1.7h-1.2zM577.4 178.7h1.9v1.5h-1.9zM577.7 175.6h2.1v2.2h-2.1zM579.6 176.2h1.4v1.2h-1.4zM577.6 175.8h2.1v2.0h-2.1zM579.5 176.1h1.2v2.1h-1.2zM578.7 174.9h1.5v1.6h-1.5zM595.4 183.8h1.8v1.1h-1.8zM596.5 182.8h1.8v1.1h-1.8zM595.1 182.7h1.5v1.6h-1.5zM594.7 184.0h1.0v1.8h-1.0zM593.7 185.2h1.0v1.6h-1.0zM591.9 185.7h1.9v1.4h-1.9zM590.9 186.4h1.7v1.3h-1.7zM591.2 185.0h2.3v1.0h-2.3zM592.5 183.2h2.0v2.1h-2.0zM594.3 183.0h1.5v1.4h-1.5zM594.2 181.1h2.1v2.2h-2.1zM595.4 180.4h2.0v1.7h-2.0zM590.5 187.3h1.1v1.4h-1.1zM590.1 188.9h1.5v1.3h-1.5zM589.8 187.4h1.5v1.2h-1.5zM588.8 185.9h1.6v1.7h-1.6zM587.7 187.0h1.2v1.1h-1.2zM588.7 185.5h1.7v2.2h-1.7zM587.0 185.7h2.2v1.8h-2.2zM588.6 185.7h2.3v1.5h-2.3zM585.9 186.7h1.6v2.2h-1.6zM584.9 188.0h1.2v1.3h-1.2zM586.4 187.8h1.3v1.5h-1.3zM587.6 187.6h1.8v1.3h-1.8zM588.7 187.9h2.3v1.8h-2.3zM596.6 184.3h1.7v2.1h-1.7zM597.9 184.5h2.2v1.3h-2.2zM598.9 182.8h1.5v1.9h-1.5zM597.7 182.4h1.1v1.5h-1.1zM596.0 181.7h1.6v1.8h-1.6zM594.5 182.6h1.6v1.0h-1.6zM591.0 188.0h1.4v1.1h-1.4zM589.6 187.9h1.2v2.0h-1.2zM588.1 187.2h1.7v1.8h-1.7zM589.7 187.4h1.9v1.8h-1.9zM589.0 188.7h1.9v2.0h-1.9zM590.7 189.3h1.4v2.0h-1.4zM589.1 188.8h1.7v2.2h-1.7zM588.3 189.9h1.0v1.6h-1.0zM587.2 191.4h2.3v1.3h-2.3zM588.0 189.8h1.1v1.0h-1.1zM589.3 189.1h1.7v1.2h-1.7zM591.5 185.8h2.0v2.2h-2.0zM593.2 185.1h1.3v2.3h-1.3zM591.5 186.1h1.8v1.4h-1.8zM589.8 186.7h2.2v1.1h-2.2zM590.9 184.8h1.1v1.8h-1.1zM590.8 186.6h1.7v1.5h-1.7zM598.6 184.4h1.3v1.3h-1.3zM597.5 185.4h2.0v1.8h-2.0zM595.9 186.1h2.3v1.3h-2.3zM597.0 184.8h2.1v1.3h-2.1zM598.3 183.8h2.1v1.4h-2.1zM599.7 182.3h1.2v1.9h-1.2zM588.3 185.7h1.3v2.1h-1.3zM588.7 184.2h1.2v2.1h-1.2zM590.0 185.5h1.4v1.0h-1.4zM588.6 184.2h2.2v1.2h-2.2zM590.3 185.3h1.1v1.2h-1.1zM588.5 185.9h2.2v1.9h-2.2zM589.4 185.2h2.3v1.0h-2.3zM591.4 184.4h1.0v1.7h-1.0zM589.8 183.7h1.6v1.1h-1.6zM589.5 182.3h2.1v1.2h-2.1zM588.4 182.7h1.2v1.6h-1.2zM586.5 182.9h2.0v1.7h-2.0zM590.4 187.2h1.5v1.3h-1.5zM591.4 188.4h1.4v1.2h-1.4zM590.5 189.6h1.1v1.1h-1.1zM590.8 188.0h1.5v1.0h-1.5zM591.9 186.9h1.8v1.7h-1.8zM591.7 185.2h2.1v1.9h-2.1zM591.0 186.6h1.4v1.5h-1.4zM589.4 186.6h1.5v1.2h-1.5zM590.9 185.4h1.0v1.8h-1.0zM592.2 185.7h1.5v1.3h-1.5zM591.2 186.4h1.2v2.1h-1.2zM589.3 187.1h1.9v1.4h-1.9zM590.2 184.5h1.0v2.0h-1.0zM591.1 184.8h2.3v1.3h-2.3zM591.7 183.3h2.0v1.5h-2.0zM592.9 182.2h1.8v1.9h-1.8zM592.2 183.8h1.8v1.7h-1.8zM590.4 184.4h2.2v1.6h-2.2zM592.0 185.1h1.7v1.6h-1.7zM593.3 184.4h1.7v1.7h-1.7zM594.4 184.4h2.1v1.3h-2.1zM592.8 183.9h1.8v2.1h-1.8zM593.7 185.3h2.1v1.1h-2.1zM594.1 183.7h1.2v1.2h-1.2zM592.5 183.1h1.1v1.5h-1.1zM588.5 186.9h1.9v1.6h-1.9zM586.9 186.9h2.0v2.0h-2.0zM585.6 187.1h1.7v1.3h-1.7zM584.5 186.5h1.4v1.5h-1.4zM586.4 186.6h1.1v1.2h-1.1zM587.7 185.8h1.4v1.4h-1.4zM586.2 186.2h1.8v2.1h-1.8zM585.4 185.2h1.6v2.0h-1.6zM584.7 186.8h1.6v1.5h-1.6zM585.9 185.6h1.4v1.5h-1.4zM585.5 187.0h1.5v1.8h-1.5zM585.8 185.2h1.2v2.3h-1.2zM587.1 184.9h1.4v1.1h-1.4zM589.4 186.7h2.2v2.0h-2.2zM588.3 186.0h1.6v2.1h-1.6zM586.9 186.6h1.6v2.2h-1.6zM587.2 185.3h2.1v1.9h-2.1zM589.1 185.4h1.5v1.1h-1.5zM589.8 184.3h2.0v1.2h-2.0zM589.9 185.4h1.1v2.1h-1.1zM591.0 185.6h1.7v1.1h-1.7zM599.6 189.6h1.9v1.5h-1.9zM598.1 188.5h2.3v2.1h-2.3zM601.3 191.9h1.0v2.3h-1.0zM600.9 193.9h1.3v1.4h-1.3zM600.5 195.2h2.1v1.7h-2.1zM599.3 195.2h1.5v1.1h-1.5zM598.6 196.0h2.1v2.0h-2.1zM600.1 192.3h1.7v1.5h-1.7zM598.7 192.5h1.6v1.8h-1.6zM592.2 145.1h1.7v1.1h-1.7zM591.6 146.3h1.7v1.5h-1.7zM590.4 145.7h1.4v1.4h-1.4zM590.9 143.9h1.4v1.9h-1.4zM591.3 142.7h1.8v1.6h-1.8zM592.8 141.9h1.6v2.1h-1.6zM594.2 142.8h1.6v1.8h-1.6zM595.3 143.7h2.1v1.1h-2.1zM593.5 147.5h2.0v1.6h-2.0zM592.9 146.3h1.9v1.4h-1.9zM593.2 147.9h2.1v1.2h-2.1zM594.9 147.2h1.3v1.1h-1.3zM595.8 147.5h2.0v2.2h-2.0zM594.4 148.8h1.9v1.3h-1.9zM591.2 145.2h1.9v1.1h-1.9zM592.2 143.8h1.4v1.3h-1.4zM590.9 142.9h1.4v1.7h-1.4zM593.5 144.8h1.2v2.0h-1.2zM594.9 145.1h1.5v1.0h-1.5zM593.5 146.0h1.8v1.3h-1.8zM592.4 145.4h1.1v1.6h-1.1zM592.0 143.8h1.6v1.9h-1.6zM593.0 145.2h2.1v1.2h-2.1zM594.2 143.9h2.3v2.2h-2.3zM593.1 144.1h1.4v1.5h-1.4zM599.4 151.2h1.6v2.1h-1.6zM599.1 153.0h1.2v1.4h-1.2zM599.5 151.6h2.1v1.3h-2.1zM600.8 151.0h2.3v1.4h-2.3zM604.8 150.1h1.6v1.3h-1.6zM606.2 149.5h1.4v1.1h-1.4zM607.1 147.9h1.1v1.7h-1.1zM605.6 148.5h1.0v1.7h-1.0zM605.0 150.3h1.8v1.2h-1.8zM603.8 149.9h2.2v1.4h-2.2zM604.8 148.6h2.1v1.6h-2.1zM606.7 148.2h1.2v1.6h-1.2zM608.0 147.8h1.2v1.6h-1.2zM608.0 149.4h1.3v1.2h-1.3zM606.1 149.4h2.1v1.7h-2.1zM607.8 148.6h1.6v2.0h-1.6zM608.9 148.1h1.9v1.3h-1.9zM608.0 148.8h1.0v1.5h-1.0zM608.7 147.3h1.4v2.2h-1.4zM607.1 144.8h1.1v1.3h-1.1zM607.1 143.5h2.3v1.1h-2.3zM607.8 141.6h1.4v2.1h-1.4zM606.9 143.7h2.2v1.0h-2.2zM605.9 143.4h1.1v1.3h-1.1zM606.7 142.5h1.9v1.2h-1.9zM605.9 143.5h1.3v1.4h-1.3zM606.9 143.0h2.3v2.0h-2.3zM605.7 157.4h1.3v1.8h-1.3zM606.0 156.3h2.0v1.1h-2.0zM604.6 157.0h2.3v1.9h-2.3zM605.8 155.5h1.2v2.1h-1.2zM606.3 156.8h2.1v2.0h-2.1zM607.2 155.4h1.6v2.1h-1.6zM605.3 156.0h2.2v1.7h-2.2zM610.2 158.8h1.3v2.1h-1.3zM608.9 159.7h1.3v1.6h-1.3zM610.2 159.5h1.9v1.9h-1.9zM610.3 157.8h1.9v2.2h-1.9zM612.0 158.8h1.5v1.1h-1.5zM611.3 159.8h1.8v2.1h-1.8zM611.6 158.4h1.0v1.6h-1.0zM612.7 158.1h1.5v1.8h-1.5zM611.3 159.1h1.4v1.3h-1.4zM608.9 150.7h1.9v1.6h-1.9zM610.3 150.6h2.0v1.2h-2.0zM611.9 149.6h1.2v1.4h-1.2zM612.8 148.7h1.5v1.3h-1.5zM614.1 149.0h1.5v1.6h-1.5zM597.5 150.8h2.1v1.2h-2.1zM596.1 151.4h2.2v1.6h-2.2zM597.9 150.7h1.3v1.5h-1.3zM599.3 151.0h1.7v1.5h-1.7zM608.0 147.1h1.8v1.6h-1.8zM609.5 147.3h1.8v1.5h-1.8zM610.6 146.0h1.9v2.2h-1.9zM611.4 144.7h1.1v2.1h-1.1zM602.4 149.3h2.2v1.9h-2.2zM601.5 149.9h1.2v2.2h-1.2zM602.8 149.1h1.2v1.8h-1.2zM601.2 150.1h2.0v1.8h-2.0zM600.0 151.2h2.0v1.4h-2.0zM600.8 149.3h1.8v2.0h-1.8zM602.2 148.2h1.5v2.3h-1.5zM601.3 149.6h1.2v1.7h-1.2zM605.8 146.9h1.7v2.1h-1.7zM604.4 147.3h1.4v1.1h-1.4zM603.1 146.1h1.5v2.3h-1.5zM601.3 146.8h2.2v1.3h-2.2zM611.5 139.8h1.5v1.5h-1.5zM609.7 139.6h2.2v1.6h-2.2zM611.4 138.8h1.8v2.0h-1.8zM612.9 138.4h1.6v1.7h-1.6zM614.2 138.7h2.0v1.4h-2.0zM619.6 137.9h2.0v1.1h-2.0zM621.1 138.3h1.7v1.5h-1.7zM619.9 138.0h1.1v1.7h-1.1zM620.9 137.5h1.9v1.5h-1.9zM619.3 137.4h1.8v2.3h-1.8zM610.1 137.5h2.2v2.0h-2.2zM611.8 137.0h1.5v1.2h-1.5zM613.1 137.1h1.7v1.7h-1.7zM612.0 138.5h1.4v1.1h-1.4zM611.3 139.4h1.7v2.1h-1.7zM610.0 140.5h1.7v1.4h-1.7zM614.5 136.4h1.9v2.0h-1.9zM614.8 134.9h2.0v2.1h-2.0zM616.1 135.0h2.1v1.2h-2.1zM617.8 134.4h1.4v1.1h-1.4zM614.6 138.3h1.3v1.1h-1.3zM615.5 136.8h1.5v1.9h-1.5zM615.0 138.6h2.1v1.4h-2.1zM614.0 138.1h1.4v1.1h-1.4zM606.1 139.9h2.1v1.1h-2.1zM604.9 139.8h1.4v1.7h-1.4zM603.3 139.4h2.0v1.3h-2.0zM607.5 142.4h1.7v1.6h-1.7zM605.9 142.3h1.8v1.9h-1.8zM607.2 141.7h1.8v1.3h-1.8zM620.4 137.5h1.4v2.3h-1.4zM618.8 137.4h1.6v1.9h-1.6zM620.4 137.6h1.6v1.4h-1.6zM619.1 137.5h1.3v2.0h-1.3zM620.5 138.1h1.6v1.3h-1.6zM619.0 138.3h1.7v1.9h-1.7zM620.2 137.3h2.0v2.2h-2.0zM622.0 138.5h1.1v1.3h-1.1zM620.2 139.0h2.1v1.9h-2.1zM619.3 139.8h1.2v1.8h-1.2zM612.9 139.3h1.5v2.2h-1.5zM611.6 139.9h1.1v1.2h-1.1zM612.5 138.3h1.6v2.3h-1.6zM610.9 138.2h2.1v1.2h-2.1zM614.7 127.0h1.3v1.0h-1.3zM615.7 125.6h1.9v2.2h-1.9zM613.7 127.6h2.1v2.1h-2.1zM615.3 129.1h1.0v1.3h-1.0zM613.7 128.4h1.5v1.0h-1.5zM632.0 130.2h2.0v1.7h-2.0zM633.5 129.9h1.3v1.5h-1.3zM633.9 129.1h2.1v1.7h-2.1zM633.2 130.2h2.1v1.6h-2.1zM632.7 131.3h1.8v1.3h-1.8zM633.4 130.2h1.8v1.9h-1.8zM550.4 220.6h1.6v1.5h-1.6zM550.1 221.9h1.8v1.9h-1.8zM551.0 223.1h1.2v2.2h-1.2zM547.7 220.5h2.0v2.1h-2.0zM548.4 219.6h2.0v1.0h-2.0zM550.3 220.2h1.0v1.1h-1.0zM548.1 220.3h2.2v1.3h-2.2zM547.9 218.8h2.2v1.3h-2.2zM549.4 219.8h1.0v2.0h-1.0zM550.6 220.9h1.7v1.1h-1.7zM551.9 220.3h2.2v2.2h-2.2zM553.4 220.8h2.1v1.7h-2.1zM554.1 219.2h1.8v2.0h-1.8zM548.3 217.6h2.0v1.0h-2.0zM549.6 216.6h2.1v1.6h-2.1zM548.4 217.5h1.6v1.1h-1.6zM546.7 217.0h1.9v2.1h-1.9zM546.0 218.2h1.4v2.0h-1.4zM545.4 219.5h1.8v2.3h-1.8zM545.0 220.9h1.1v1.9h-1.1zM546.5 217.6h1.8v1.8h-1.8zM547.8 217.2h2.2v2.1h-2.2zM548.3 215.8h1.0v1.9h-1.0zM549.3 214.7h1.2v2.2h-1.2zM548.8 216.8h1.9v1.3h-1.9zM548.6 218.2h1.1v1.6h-1.1zM546.0 211.2h2.1v2.3h-2.1zM545.5 213.1h1.5v1.0h-1.5zM545.2 214.0h2.2v2.2h-2.2zM545.2 212.4h2.2v2.0h-2.2zM547.3 212.1h1.1v2.1h-1.1zM546.7 213.5h1.7v2.3h-1.7zM545.2 214.0h1.7v1.8h-1.7zM546.1 214.8h2.2v1.9h-2.2zM548.8 219.8h2.2v1.0h-2.2zM549.9 218.1h1.2v1.6h-1.2zM551.1 217.9h1.9v2.0h-1.9zM550.6 219.3h1.0v1.9h-1.0zM550.3 220.6h1.3v2.3h-1.3zM541.1 241.1h1.1v1.1h-1.1zM539.8 240.0h1.5v1.2h-1.5zM538.4 241.0h1.9v1.4h-1.9zM537.8 242.2h1.2v1.1h-1.2zM538.3 243.1h1.6v1.9h-1.6zM543.5 243.6h1.0v2.1h-1.0zM542.7 245.5h1.9v1.4h-1.9zM544.4 245.5h1.2v2.2h-1.2zM543.0 247.0h1.9v1.2h-1.9zM544.8 245.8h1.1v2.3h-1.1zM546.0 247.0h1.3v1.1h-1.3zM546.7 245.9h2.1v1.2h-2.1zM545.8 246.3h1.2v2.0h-1.2zM545.2 244.9h1.5v1.7h-1.5zM543.0 244.6h1.3v1.3h-1.3zM544.1 243.6h1.5v1.5h-1.5zM545.2 244.6h1.1v1.9h-1.1zM546.2 246.0h1.3v1.0h-1.3zM545.0 244.5h1.9v1.1h-1.9zM545.4 243.0h1.6v1.2h-1.6zM545.7 241.4h1.1v1.5h-1.1zM546.3 240.7h2.2v1.7h-2.2zM542.3 238.9h2.1v1.1h-2.1zM543.6 239.9h1.7v1.3h-1.7zM545.1 239.0h1.1v1.3h-1.1zM543.2 238.4h1.6v2.0h-1.6zM544.6 237.6h1.3v1.9h-1.3zM545.3 236.1h1.2v2.3h-1.2zM544.0 235.3h1.8v1.7h-1.8zM544.1 233.8h1.6v2.0h-1.6zM543.0 232.9h1.8v1.8h-1.8zM542.5 231.5h2.0v2.2h-2.0zM539.6 246.7h1.8v2.2h-1.8zM539.4 245.9h1.3v1.0h-1.3zM538.3 244.3h2.0v1.8h-2.0zM538.3 245.8h1.5v1.9h-1.5zM539.3 247.1h1.6v1.7h-1.6zM538.5 245.5h1.3v2.1h-1.3zM539.9 244.8h1.3v2.2h-1.3zM538.8 246.5h1.5v1.4h-1.5zM538.8 244.6h1.2v2.1h-1.2zM538.2 243.6h1.8v1.3h-1.8zM539.9 244.2h1.2v1.3h-1.2zM539.9 242.9h2.2v1.2h-2.2zM556.4 235.8h1.5v1.9h-1.5zM556.8 237.5h1.2v1.6h-1.2zM555.2 237.3h1.5v2.3h-1.5zM555.8 236.2h2.1v1.8h-2.1zM556.1 234.6h1.3v2.0h-1.3zM556.4 236.1h1.3v2.1h-1.3zM555.5 235.1h1.8v1.3h-1.8zM552.3 241.4h1.1v1.0h-1.1zM551.0 242.2h1.3v1.3h-1.3zM552.0 241.9h2.3v1.0h-2.3zM554.1 241.7h1.2v1.4h-1.2zM555.4 241.4h1.4v1.5h-1.4zM555.3 243.6h1.8v1.9h-1.8zM554.2 244.7h2.0v1.9h-2.0zM554.0 246.3h2.2v1.7h-2.2zM553.2 246.7h1.2v1.9h-1.2zM557.2 244.0h1.8v1.2h-1.8zM556.3 242.2h2.0v2.0h-2.0zM557.3 241.4h1.7v1.2h-1.7zM556.2 242.7h1.8v1.1h-1.8zM554.4 238.7h1.0v1.9h-1.0zM553.0 239.8h1.4v1.8h-1.4zM553.5 238.5h1.3v1.4h-1.3zM553.1 237.1h1.3v1.2h-1.3zM553.8 235.5h1.9v2.2h-1.9zM555.6 236.0h1.4v1.4h-1.4zM556.4 235.0h1.1v1.1h-1.1zM556.7 233.2h1.2v2.2h-1.2zM553.7 244.6h1.5v1.9h-1.5zM554.7 244.2h2.0v1.1h-2.0zM553.7 244.6h1.3v1.9h-1.3zM552.6 245.9h1.4v1.6h-1.4zM552.1 247.0h1.6v2.2h-1.6zM551.4 246.0h1.8v1.1h-1.8zM552.3 246.9h1.0v2.3h-1.0zM556.8 244.9h1.4v1.1h-1.4zM556.2 246.0h1.1v1.5h-1.1zM556.4 247.5h2.3v1.1h-2.3zM556.6 248.8h1.1v1.1h-1.1zM554.8 248.2h1.7v2.1h-1.7zM555.9 247.2h1.6v1.4h-1.6zM555.0 247.6h1.3v2.3h-1.3zM555.9 247.2h2.2v1.8h-2.2zM556.7 248.5h1.6v1.9h-1.6zM555.6 250.2h2.2v1.1h-2.2zM556.4 248.5h1.4v1.3h-1.4zM557.2 246.7h1.2v2.1h-1.2zM555.7 247.3h1.2v2.0h-1.2zM556.6 244.6h1.0v2.0h-1.0zM555.2 243.2h2.2v2.2h-2.2zM555.6 242.1h1.3v1.5h-1.3zM554.1 242.3h1.5v1.5h-1.5zM555.3 241.2h1.5v1.8h-1.5zM556.2 240.6h2.0v1.3h-2.0zM557.7 240.3h1.9v2.0h-1.9zM560.9 237.3h2.1v1.2h-2.1zM559.7 236.5h1.4v2.1h-1.4zM558.6 237.8h2.1v2.1h-2.1zM560.3 236.6h1.2v2.2h-1.2zM559.3 231.5h2.1v1.7h-2.1zM558.2 231.8h1.4v2.0h-1.4zM562.5 233.4h1.3v1.1h-1.3zM562.0 234.3h1.0v2.0h-1.0zM562.2 236.2h1.1v1.1h-1.1zM562.0 234.3h1.3v1.6h-1.3zM563.1 229.2h1.8v2.2h-1.8zM561.4 229.6h2.2v2.0h-2.2zM560.9 231.1h2.1v1.7h-2.1zM562.4 231.8h1.8v2.1h-1.8zM558.5 234.6h1.9v1.3h-1.9zM557.7 235.2h1.5v2.2h-1.5zM557.4 233.8h1.2v2.2h-1.2zM558.6 234.4h1.8v1.6h-1.8zM558.4 233.2h1.6v1.1h-1.6zM556.7 232.6h2.1v2.0h-2.1zM540.5 260.0h1.2v1.8h-1.2zM541.8 259.2h1.3v1.8h-1.3zM541.1 257.6h2.0v1.9h-2.0zM541.0 256.2h1.4v2.1h-1.4zM542.4 255.6h1.1v2.2h-1.1zM540.9 258.9h1.9v1.2h-1.9zM539.4 258.7h1.8v2.3h-1.8zM538.6 260.5h2.0v1.3h-2.0zM539.6 261.7h1.2v1.5h-1.2zM538.5 260.7h1.4v1.2h-1.4zM539.1 262.1h1.1v1.3h-1.1zM538.6 257.8h1.6v2.3h-1.6zM536.8 258.3h2.2v1.6h-2.2zM537.6 259.9h1.8v1.2h-1.8zM538.7 260.8h1.1v1.9h-1.1zM538.4 259.4h1.5v1.9h-1.5zM537.3 260.2h1.2v2.1h-1.2zM536.1 259.5h1.0v2.1h-1.0zM535.8 258.1h1.5v1.8h-1.5zM538.0 259.6h1.7v1.9h-1.7zM537.6 258.4h2.2v1.2h-2.2zM536.6 259.2h2.1v2.0h-2.1zM569.3 211.6h1.7v1.5h-1.7zM570.2 212.7h1.2v2.2h-1.2zM570.7 211.5h1.0v1.4h-1.0zM568.9 211.7h1.6v1.5h-1.6zM570.2 210.7h1.5v1.7h-1.5zM568.8 211.4h1.5v1.8h-1.5zM569.2 210.0h1.3v1.5h-1.3zM568.0 210.7h1.5v2.2h-1.5zM570.1 214.8h1.2v1.9h-1.2zM571.6 215.4h1.3v1.1h-1.3zM572.1 213.9h1.2v1.3h-1.2zM573.3 214.2h1.3v2.0h-1.3zM572.4 212.6h2.2v2.2h-2.2zM575.2 256.6h1.6v1.3h-1.6zM574.5 257.4h1.1v2.1h-1.1zM573.7 255.8h1.8v2.3h-1.8zM573.1 257.1h1.0v1.9h-1.0zM574.1 256.2h1.1v1.2h-1.1zM574.8 255.1h2.3v1.5h-2.3zM576.5 254.7h1.6v1.5h-1.6zM577.0 253.3h2.3v1.9h-2.3zM574.6 259.5h2.0v1.1h-2.0zM575.0 260.6h1.6v2.0h-1.6zM575.7 259.1h1.6v2.1h-1.6zM575.0 260.6h2.2v2.1h-2.2zM575.7 259.5h1.7v1.2h-1.7zM576.4 264.7h1.7v1.0h-1.7zM577.3 263.0h1.5v1.9h-1.5zM577.1 264.4h2.2v2.2h-2.2zM577.7 263.4h1.8v1.4h-1.8zM578.0 261.7h2.0v2.0h-2.0zM578.9 260.9h2.3v1.9h-2.3zM578.7 262.9h1.8v1.2h-1.8zM572.4 257.1h1.1v2.2h-1.1zM573.0 255.9h1.7v2.2h-1.7zM573.6 254.5h1.6v2.2h-1.6zM572.1 255.5h1.4v1.1h-1.4zM573.3 254.5h1.6v1.9h-1.6zM574.3 253.5h1.1v1.6h-1.1zM575.7 253.4h1.3v1.9h-1.3zM575.8 252.0h2.2v2.3h-2.2zM570.1 253.8h1.6v2.1h-1.6zM570.9 255.3h1.2v2.0h-1.2zM569.0 256.0h1.9v1.1h-1.9zM570.9 255.0h1.2v1.8h-1.2zM570.0 256.2h1.3v2.1h-1.3zM568.2 256.6h2.1v2.2h-2.1zM567.5 257.8h1.6v1.6h-1.6zM570.0 259.8h2.1v1.2h-2.1zM569.5 261.0h1.7v1.4h-1.7zM567.9 261.5h2.0v1.3h-2.0zM574.8 265.6h2.3v2.0h-2.3zM575.5 264.5h1.6v1.1h-1.6zM575.5 262.7h2.0v1.9h-2.0zM574.6 263.9h2.1v2.3h-2.1zM575.4 262.7h1.2v1.9h-1.2zM575.2 264.5h1.2v1.6h-1.2zM573.7 260.9h2.0v1.8h-2.0zM572.2 261.3h2.2v2.3h-2.2zM571.0 261.4h1.8v2.3h-1.8zM571.3 263.3h1.0v1.3h-1.0zM570.0 263.7h1.4v1.8h-1.4zM569.4 262.1h1.5v2.2h-1.5zM569.5 255.0h1.5v1.8h-1.5zM568.8 256.8h2.3v1.1h-2.3zM567.6 256.2h1.7v1.3h-1.7zM568.1 254.4h1.9v1.9h-1.9zM568.9 253.2h2.3v1.9h-2.3zM568.4 254.3h1.6v2.3h-1.6zM567.5 256.3h1.7v1.0h-1.7zM577.1 257.3h1.2v2.1h-1.2zM575.8 258.9h2.2v1.3h-2.2zM574.5 259.5h2.3v1.5h-2.3zM575.5 257.7h1.1v2.1h-1.1zM551.9 203.7h1.9v2.2h-1.9zM553.2 203.9h2.3v1.8h-2.3zM552.8 202.6h1.2v1.9h-1.2zM553.8 201.7h1.2v1.2h-1.2zM554.4 202.5h1.8v2.0h-1.8zM555.2 203.9h1.7v1.7h-1.7zM556.6 202.1h1.1v1.5h-1.1zM556.3 203.7h2.0v1.3h-2.0zM553.9 204.3h1.5v1.4h-1.5zM554.1 202.6h1.3v1.9h-1.3zM554.7 201.5h1.6v1.7h-1.6zM585.3 194.5h1.1v1.4h-1.1zM586.2 195.3h1.8v1.6h-1.8zM583.6 191.8h1.2v1.4h-1.2zM582.5 192.9h2.2v1.9h-2.2zM583.6 195.3h2.1v1.8h-2.1zM584.6 197.0h1.8v1.1h-1.8zM577.1 197.0h1.9v1.5h-1.9zM583.5 191.4h1.8v1.3h-1.8zM573.5 194.9h2.1v1.0h-2.1zM564.9 199.7h1.2v1.1h-1.2zM598.5 184.8h1.4v1.2h-1.4zM541.8 169.3h1.5v1.5h-1.5zM571.1 184.6h1.1v1.4h-1.1zM545.3 242.6h1.1v1.4h-1.1zM578.0 186.2h1.8v1.4h-1.8zM567.6 205.1h2.1v1.6h-2.1zM569.3 183.2h1.6v1.1h-1.6zM580.0 188.7h1.7v1.7h-1.7zM535.1 216.1h2.0v1.1h-2.0zM578.1 200.1h1.7v1.5h-1.7zM586.2 185.2h1.4v1.5h-1.4zM591.7 201.0h1.5v1.0h-1.5zM584.8 246.0h2.0v1.5h-2.0zM566.4 227.4h1.9v1.1h-1.9zM604.8 192.9h1.0v1.0h-1.0zM598.5 184.8h2.2v1.2h-2.2zM570.5 239.5h2.0v1.4h-2.0zM541.8 217.6h2.1v1.4h-2.1zM562.9 204.5h1.6v1.3h-1.6zM595.1 193.1h1.7v1.2h-1.7zM583.6 202.4h1.6v1.3h-1.6zM588.8 202.7h1.6v1.2h-1.6zM562.2 198.5h1.9v1.4h-1.9zM553.3 187.2h1.6v1.3h-1.6zM600.5 212.8h1.9v1.6h-1.9zM603.4 177.5h1.3v1.3h-1.3zM580.2 190.7h1.4v1.6h-1.4zM579.9 203.2h1.3v1.6h-1.3zM574.3 178.2h1.8v1.5h-1.8zM557.7 188.6h1.4v1.0h-1.4zM559.8 223.8h1.8v1.7h-1.8zM564.9 201.6h1.4v1.1h-1.4zM557.4 202.4h1.6v1.3h-1.6zM554.9 183.9h1.9v1.7h-1.9zM569.3 230.1h1.5v1.3h-1.5zM566.3 166.8h1.2v1.1h-1.2zM605.2 211.3h2.0v1.3h-2.0zM580.5 240.4h1.5v1.1h-1.5zM550.3 188.1h1.1v1.7h-1.1zM572.2 174.5h1.7v1.2h-1.7zM562.8 220.7h1.5v1.0h-1.5zM587.9 178.6h1.4v1.5h-1.4zM591.4 200.6h1.0v1.5h-1.0zM574.4 183.7h1.2v1.7h-1.2zM557.1 206.3h1.7v1.4h-1.7zM568.3 193.9h1.4v1.5h-1.4zM586.6 183.7h1.1v1.2h-1.1zM568.1 186.2h1.4v1.7h-1.4zM554.2 247.2h1.3v1.7h-1.3zM593.0 216.2h1.5v1.0h-1.5zM579.8 219.5h1.3v1.6h-1.3zM589.1 131.5h1.1v1.3h-1.1zM572.9 205.9h1.9v1.6h-1.9zM599.1 193.2h2.0v1.1h-2.0zM569.2 194.8h1.5v1.8h-1.5zM578.4 230.2h1.3v1.0h-1.3zM573.5 210.9h1.4v1.3h-1.4zM584.5 186.0h1.8v1.4h-1.8zM562.9 210.1h1.6v1.4h-1.6zM588.3 173.2h1.3v1.7h-1.3zM594.9 200.4h1.7v1.4h-1.7zM580.2 203.4h2.1v1.3h-2.1zM561.7 223.0h1.6v1.2h-1.6zM594.1 190.2h1.4v1.3h-1.4zM579.0 229.9h1.5v1.1h-1.5zM578.3 183.1h1.5v1.3h-1.5zM554.3 192.6h1.5v1.6h-1.5zM606.5 192.3h1.0v1.2h-1.0zM565.3 235.6h1.8v1.4h-1.8zM575.6 184.2h1.2v1.5h-1.2zM575.9 195.4h1.8v1.1h-1.8zM568.9 185.0h1.6v1.2h-1.6zM573.2 186.7h1.6v1.5h-1.6zM561.8 208.4h1.8v1.4h-1.8zM595.2 180.8h1.7v1.2h-1.7zM580.5 157.4h1.7v1.6h-1.7zM587.8 191.3h2.2v1.6h-2.2zM584.1 201.1h1.7v1.0h-1.7zM535.0 241.4h1.9v1.2h-1.9zM554.1 197.2h2.0v1.4h-2.0zM538.3 233.6h1.5v1.6h-1.5zM579.4 192.5h2.0v1.2h-2.0zM548.9 203.7h1.0v1.3h-1.0zM560.3 201.6h1.7v1.1h-1.7zM567.4 208.6h1.3v1.7h-1.3zM557.4 235.8h2.2v1.3h-2.2zM628.3 154.7h2.1v2.0h-2.1zM629.0 156.1h1.1v2.2h-1.1zM627.2 155.6h1.8v2.1h-1.8zM628.1 157.0h1.9v1.6h-1.9zM628.6 155.6h1.6v1.3h-1.6zM630.2 154.8h1.4v2.0h-1.4zM630.9 153.5h1.3v1.9h-1.3zM629.1 154.5h1.5v1.7h-1.5zM627.8 154.3h1.0v2.0h-1.0zM627.3 153.1h2.1v1.5h-2.1zM628.1 154.4h1.5v2.0h-1.5zM627.3 153.2h1.5v1.7h-1.5zM627.9 154.6h2.2v1.6h-2.2zM626.5 154.7h2.0v1.3h-2.0zM631.4 150.8h1.4v1.8h-1.4zM629.8 151.0h1.5v1.8h-1.5zM632.5 153.8h1.3v2.1h-1.3zM630.9 153.4h1.8v1.8h-1.8zM631.9 154.8h2.0v1.4h-2.0zM632.9 153.3h2.0v1.9h-2.0zM633.7 152.0h1.6v1.9h-1.6zM635.2 152.0h1.2v1.1h-1.2zM630.0 152.5h2.1v1.5h-2.1zM631.3 153.6h1.2v1.8h-1.2zM631.6 155.0h1.6v1.7h-1.6zM637.4 172.7h2.2v1.5h-2.2zM637.4 173.7h1.1v2.2h-1.1zM635.6 173.9h1.6v1.6h-1.6zM635.7 172.3h2.1v1.6h-2.1zM644.8 167.5h1.9v1.7h-1.9zM643.4 168.1h1.7v1.3h-1.7zM641.9 167.6h2.1v1.1h-2.1zM641.0 168.2h2.1v2.3h-2.1zM646.5 168.9h1.6v1.2h-1.6zM645.9 170.0h1.9v1.9h-1.9zM646.4 171.4h1.8v1.9h-1.8zM646.0 170.2h1.0v1.6h-1.0zM645.0 171.5h1.8v1.4h-1.8zM646.0 172.5h1.9v1.4h-1.9zM642.4 169.4h1.2v2.0h-1.2zM643.2 170.5h2.2v1.0h-2.2zM643.3 168.8h1.5v1.2h-1.5zM642.0 169.7h1.7v1.5h-1.7zM643.0 170.8h1.7v1.4h-1.7zM644.6 170.3h1.5v1.6h-1.5zM662.2 152.8h2.1v1.5h-2.1zM662.6 151.5h1.4v1.1h-1.4zM664.0 151.5h1.6v2.1h-1.6zM664.4 153.1h1.6v2.0h-1.6zM664.2 154.7h1.2v1.7h-1.2zM660.4 156.2h1.7v1.5h-1.7zM661.9 156.2h1.6v2.2h-1.6zM661.3 157.7h1.8v1.9h-1.8zM659.3 151.8h1.9v1.0h-1.9zM658.6 152.5h1.2v1.6h-1.2zM660.2 152.8h1.2v1.3h-1.2zM661.5 153.5h1.1v1.3h-1.1zM660.5 154.0h1.3v1.3h-1.3zM661.4 152.4h1.1v2.0h-1.1zM662.1 153.5h2.2v1.5h-2.2zM660.8 152.9h2.1v1.1h-2.1zM662.9 148.8h1.4v1.6h-1.4zM663.4 150.3h1.6v1.4h-1.6zM662.2 149.5h1.4v1.4h-1.4zM661.4 147.9h1.1v2.0h-1.1zM659.9 148.5h1.3v1.1h-1.3zM658.3 148.0h1.7v1.9h-1.7zM647.0 122.4h2.3v2.2h-2.3zM648.5 122.7h2.2v1.3h-2.2zM649.3 121.4h1.8v1.3h-1.8zM651.1 124.2h1.1v2.1h-1.1zM651.7 125.7h1.3v1.8h-1.3zM652.0 127.0h1.6v1.9h-1.6zM653.1 128.1h1.9v1.1h-1.9zM647.2 124.6h1.2v2.2h-1.2zM645.9 126.0h1.6v1.5h-1.6zM618.4 195.0h1.6v1.9h-1.6zM618.6 187.1h2.3v1.9h-2.3zM622.2 191.8h1.4v1.7h-1.4zM621.8 184.2h1.4v1.8h-1.4zM622.8 185.8h2.4v1.5h-2.4zM621.1 185.2h1.8v1.5h-1.8zM623.5 183.1h1.2v2.0h-1.2zM621.5 184.8h1.3v1.8h-1.3zM621.8 187.8h1.6v2.1h-1.6zM619.2 201.1h1.4v1.9h-1.4zM619.6 193.7h2.2v1.7h-2.2zM614.9 203.5h1.6v1.6h-1.6zM620.9 195.5h2.3v1.8h-2.3zM616.2 202.8h2.0v1.5h-2.0zM616.0 202.9h1.7v1.8h-1.7zM617.5 201.9h2.5v1.9h-2.5zM617.0 196.2h1.6v1.3h-1.6zM615.7 209.3h1.9v2.2h-1.9zM617.1 210.6h1.2v1.6h-1.2zM615.7 211.5h2.2v2.3h-2.2zM613.0 213.1h2.3v1.2h-2.3zM614.7 213.9h1.6v1.0h-1.6zM613.1 213.5h1.5v2.2h-1.5zM613.3 214.3h1.3v1.4h-1.3zM611.7 214.2h1.5v1.8h-1.5zM610.3 214.2h1.4v1.8h-1.4zM612.0 214.3h1.3v1.4h-1.3zM613.7 214.6h1.1v1.1h-1.1zM612.8 213.7h2.1v1.8h-2.1zM612.0 213.1h1.0v1.5h-1.0zM611.6 214.9h1.8v1.1h-1.8zM610.4 214.2h1.5v1.6h-1.5zM609.4 214.8h1.1v2.0h-1.1zM609.8 213.7h1.8v1.2h-1.8zM608.5 212.3h2.1v2.3h-2.1zM603.0 229.9h1.4v2.2h-1.4zM603.3 228.9h2.2v1.3h-2.2zM602.3 228.3h1.5v1.4h-1.5zM602.2 226.8h1.8v1.4h-1.8zM607.6 228.6h1.7v2.3h-1.7zM609.2 229.2h1.6v1.7h-1.6zM608.5 227.6h2.3v1.8h-2.3zM607.2 227.9h1.8v1.7h-1.8zM606.6 226.9h2.2v1.0h-2.2zM605.1 227.5h1.0v1.8h-1.0zM605.4 226.2h1.3v1.5h-1.3zM605.3 227.7h1.9v1.7h-1.9zM604.3 226.7h1.4v1.8h-1.4zM605.5 226.1h2.0v2.2h-2.0zM561.3 217.3h1.7v2.0h-1.7zM561.9 215.7h1.4v2.2h-1.4zM560.8 217.4h1.4v1.2h-1.4zM557.2 222.5h2.2v1.0h-2.2zM557.9 220.9h2.1v1.5h-2.1zM557.7 222.6h1.9v1.3h-1.9zM558.2 220.7h1.2v1.9h-1.2zM557.9 222.7h1.4v1.2h-1.4zM563.9 225.3h2.1v1.2h-2.1zM563.4 226.5h2.0v1.6h-2.0zM562.0 227.2h2.2v1.4h-2.2zM562.7 225.8h2.2v1.3h-2.2zM555.7 231.5h1.8v1.1h-1.8zM555.7 229.5h1.1v2.0h-1.1zM556.3 228.3h1.5v2.0h-1.5zM555.8 230.2h2.2v1.5h-2.2zM553.8 221.7h1.6v1.1h-1.6zM555.2 221.1h1.9v1.6h-1.9zM557.2 234.0h1.8v1.0h-1.8zM558.6 232.9h1.6v1.8h-1.6zM557.1 234.2h2.2v1.4h-2.2zM557.4 235.2h1.2v2.3h-1.2zM556.0 232.5h1.2v1.5h-1.2zM556.2 231.0h1.0v1.5h-1.0zM554.8 229.5h2.2v2.1h-2.2zM556.9 229.4h1.1v1.9h-1.1zM559.2 211.7h2.1v1.5h-2.1zM558.8 213.0h1.3v1.6h-1.3zM554.2 216.1h1.3v1.0h-1.3zM553.3 217.3h1.4v1.2h-1.4zM553.9 215.4h1.6v2.1h-1.6zM554.7 214.3h1.9v2.0h-1.9zM554.3 216.0h1.7v1.8h-1.7zM561.2 229.5h2.0v2.3h-2.0zM560.1 230.5h1.9v2.0h-1.9zM561.3 229.7h2.0v1.7h-2.0zM560.5 228.4h1.9v1.8h-1.9zM560.3 230.0h2.0v1.7h-2.0zM563.1 216.0h1.5v1.6h-1.5zM561.5 217.2h2.3v1.1h-2.3zM560.3 216.8h1.6v1.8h-1.6zM558.9 225.5h2.2v1.4h-2.2zM558.8 226.7h2.2v2.1h-2.2zM558.3 227.8h1.3v1.9h-1.3zM557.2 228.7h1.3v2.0h-1.3zM556.9 227.5h2.1v1.1h-2.1zM551.0 220.7h2.0v1.1h-2.0zM552.0 219.2h1.9v1.6h-1.9zM552.0 231.5h1.3v2.2h-1.3zM553.4 231.2h1.2v1.3h-1.2zM552.9 232.3h1.6v2.1h-1.6zM580.7 175.8h2.2v1.4h-2.2zM580.0 176.8h1.8v1.8h-1.8zM579.5 178.2h1.0v1.2h-1.0zM578.4 178.9h1.8v2.2h-1.8zM579.8 177.8h1.3v1.8h-1.3zM594.5 179.1h1.2v1.3h-1.2zM592.9 179.0h1.3v1.4h-1.3zM592.7 180.5h1.6v1.5h-1.6zM594.0 180.3h2.2v1.6h-2.2zM595.7 179.6h1.7v1.9h-1.7zM581.8 181.2h1.5v1.9h-1.5zM581.6 182.9h1.2v1.4h-1.2zM582.7 182.3h1.7v1.0h-1.7zM581.9 183.3h1.3v1.3h-1.3zM582.0 181.6h1.7v1.4h-1.7zM587.9 174.9h1.9v2.2h-1.9zM589.7 175.7h1.1v1.1h-1.1zM590.6 174.7h2.1v1.8h-2.1zM589.3 174.9h1.3v2.3h-1.3zM587.6 176.3h2.3v1.3h-2.3zM589.5 183.2h2.2v1.4h-2.2zM590.8 182.4h2.3v1.8h-2.3zM592.6 182.0h1.4v1.4h-1.4zM592.7 176.1h1.6v2.2h-1.6zM592.1 177.6h1.2v1.8h-1.2zM575.4 180.5h1.3v1.7h-1.3zM574.2 181.6h1.7v1.9h-1.7zM577.5 179.5h1.2v1.8h-1.2zM578.6 178.6h1.2v1.4h-1.2zM576.7 178.6h1.9v2.0h-1.9zM588.2 184.3h1.2v1.2h-1.2zM587.0 185.2h1.7v1.7h-1.7zM585.6 186.2h2.0v1.1h-2.0zM596.3 185.1h2.0v1.7h-2.0zM596.0 186.8h1.3v1.1h-1.3zM594.5 187.2h1.7v1.1h-1.7zM595.1 185.4h2.0v2.0h-2.0zM578.1 179.8h1.4v1.2h-1.4zM578.0 177.9h1.6v2.1h-1.6zM578.6 176.7h2.0v2.1h-2.0zM579.5 175.3h2.0v1.7h-2.0zM580.3 174.2h2.0v1.4h-2.0zM579.2 174.3h1.3v2.3h-1.3zM580.4 175.2h1.7v1.7h-1.7zM579.0 176.1h1.7v1.1h-1.7zM597.9 161.2h1.9v2.2h-1.9zM598.2 163.2h1.0v1.3h-1.0zM598.9 162.3h2.0v1.2h-2.0zM599.6 160.5h2.2v2.0h-2.2zM599.0 162.0h2.2v2.0h-2.2zM596.3 170.4h2.0v1.5h-2.0zM594.9 170.1h1.7v2.0h-1.7zM595.1 169.2h2.2v1.0h-2.2zM594.3 165.3h1.9v2.1h-1.9zM593.2 166.7h2.3v1.8h-2.3zM592.2 167.4h1.7v1.4h-1.7zM597.0 164.7h2.1v1.7h-2.1zM597.9 163.0h1.5v2.3h-1.5zM599.0 162.4h1.9v2.1h-1.9zM597.9 163.4h1.2v1.5h-1.2zM598.7 162.3h2.1v2.2h-2.1zM602.8 163.9h1.4v1.9h-1.4zM603.9 163.4h1.8v1.4h-1.8zM605.0 162.2h1.6v1.6h-1.6zM605.2 163.8h1.1v1.6h-1.1zM597.0 170.1h1.6v1.2h-1.6zM596.8 171.1h2.0v2.3h-2.0zM595.8 172.2h1.5v1.8h-1.5zM594.4 173.1h2.1v1.4h-2.1zM593.5 172.9h1.2v2.3h-1.2zM599.8 162.6h2.0v2.3h-2.0zM598.3 163.5h2.3v1.7h-2.3zM599.9 162.7h1.3v1.0h-1.3zM601.3 162.0h1.5v1.8h-1.5zM608.6 161.8h2.1v1.0h-2.1zM609.5 162.9h1.5v1.8h-1.5zM607.7 162.7h1.9v1.8h-1.9zM605.8 162.6h1.1v2.3h-1.1zM606.0 161.3h1.6v2.0h-1.6zM596.9 163.3h1.9v1.9h-1.9zM598.6 163.4h1.5v1.7h-1.5zM600.1 162.7h1.0v1.7h-1.0zM600.7 161.2h1.2v2.2h-1.2zM599.5 163.0h1.8v1.6h-1.8zM551.3 260.4h1.3v2.0h-1.3zM550.0 260.8h1.0v2.0h-1.0zM547.0 257.7h1.3v1.8h-1.3zM545.4 258.9h1.9v1.1h-1.9zM545.0 259.7h1.6v2.3h-1.6zM549.6 259.1h1.4v2.0h-1.4zM548.5 260.0h1.1v1.8h-1.1zM549.1 261.0h2.0v1.9h-2.0zM548.4 261.9h1.2v1.8h-1.2zM544.0 255.0h1.2v1.6h-1.2zM543.2 253.2h2.2v2.3h-2.2zM543.3 255.0h1.8v2.0h-1.8zM542.7 243.1h2.2v1.6h-2.2zM543.4 244.3h1.4v2.3h-1.4zM544.1 245.9h1.4v1.6h-1.4zM543.2 257.1h1.0v1.6h-1.0zM542.2 258.3h1.7v1.8h-1.7zM552.8 261.0h1.7v1.3h-1.7zM553.7 259.6h1.0v1.3h-1.0zM553.6 258.1h1.0v1.4h-1.0zM554.6 258.5h2.1v1.1h-2.1zM544.0 253.1h2.2v2.2h-2.2zM545.2 252.6h1.9v1.2h-1.9zM546.7 252.6h1.8v1.4h-1.8zM545.4 253.6h2.2v1.7h-2.2zM544.5 254.1h1.1v2.3h-1.1zM621.5 193.5h1.1v1.9h-1.1zM622.4 192.8h1.2v1.0h-1.2zM622.6 193.7h2.1v2.1h-2.1zM620.8 198.1h2.3v1.5h-2.3zM621.8 196.8h2.0v1.8h-2.0zM621.1 196.7h1.3v1.4h-1.3zM620.2 198.3h2.3v1.1h-2.3zM620.7 196.3h1.6v1.9h-1.6zM621.2 195.2h2.0v1.4h-2.0zM620.6 193.9h2.2v1.4h-2.2zM621.0 186.6h1.7v1.1h-1.7zM620.3 187.4h1.1v1.9h-1.1zM620.9 186.4h1.8v1.3h-1.8zM618.6 195.5h1.3v1.2h-1.3zM619.6 194.1h1.8v2.2h-1.8zM620.7 193.3h1.1v1.4h-1.1zM617.8 195.6h1.8v1.8h-1.8zM616.9 196.9h2.3v2.0h-2.3zM617.7 198.7h1.1v1.3h-1.1zM617.2 200.2h1.6v1.0h-1.6zM620.6 197.1h1.3v1.3h-1.3zM620.4 198.7h1.4v1.0h-1.4zM621.2 186.9h1.3v2.2h-1.3zM620.8 185.9h2.2v1.2h-2.2zM563.7 260.5h1.8v1.9h-1.8zM564.1 262.4h1.1v1.0h-1.1zM563.5 260.3h2.1v2.2h-2.1zM567.3 259.8h2.1v2.1h-2.1zM566.1 261.2h2.2v1.3h-2.2zM566.9 262.7h1.5v1.1h-1.5zM567.3 261.1h1.2v1.2h-1.2zM567.6 259.1h1.7v2.1h-1.7zM566.3 265.0h1.3v1.2h-1.3zM567.3 264.2h1.9v1.1h-1.9zM562.3 259.1h1.1v1.7h-1.1zM562.7 257.7h1.3v1.8h-1.3zM561.3 267.3h1.6v1.7h-1.6zM562.8 267.0h1.7v1.9h-1.7zM561.2 266.0h2.2v2.3h-2.2zM563.3 259.0h1.3v1.9h-1.3zM562.2 260.2h1.6v1.9h-1.6zM562.3 258.9h2.0v1.3h-2.0zM561.1 258.1h1.6v2.2h-1.6zM561.2 259.9h1.6v1.7h-1.6z"/>
<path fill="#379427" d="M808.9 66.0h2.1v2.0h-2.1zM810.2 65.7h1.3v1.9h-1.3zM810.8 65.7h2.0v2.0h-2.0zM811.8 65.5h1.5v2.0h-1.5zM812.6 65.8h1.6v1.6h-1.6zM811.7 65.5h1.3v1.4h-1.3zM812.2 65.4h2.0v1.3h-2.0zM649.2 48.2h1.6v1.5h-1.6zM649.9 48.9h1.7v1.4h-1.7zM650.7 49.7h1.2v1.2h-1.2zM558.0 191.5h2.0v2.9h-2.0zM559.0 192.2h2.9v1.9h-2.9zM557.6 191.9h2.8v2.2h-2.8zM559.2 192.1h2.4v2.0h-2.4zM558.1 192.3h1.8v2.7h-1.8zM559.2 192.0h2.2v2.0h-2.2zM560.1 192.7h1.9v3.0h-1.9zM561.4 192.9h2.0v2.8h-2.0zM559.5 192.8h2.7v2.5h-2.7zM558.6 193.3h1.9v3.0h-1.9zM556.8 193.5h2.7v1.8h-2.7zM558.0 192.4h2.1v1.7h-2.1zM556.9 193.1h2.0v1.8h-2.0zM555.1 193.1h3.1v2.8h-3.1zM556.2 192.5h3.0v1.8h-3.0zM557.8 191.8h2.7v2.2h-2.7zM556.4 191.8h2.7v2.7h-2.7zM555.1 192.7h2.6v1.9h-2.6zM554.0 191.2h3.1v2.8h-3.1zM553.5 192.2h1.9v1.9h-1.9zM552.3 193.0h2.2v1.7h-2.2zM551.1 193.4h2.9v2.5h-2.9zM553.2 194.1h2.0v2.3h-2.0zM551.8 194.5h2.9v2.8h-2.9zM551.7 195.3h1.7v3.0h-1.7zM550.8 195.9h1.8v2.9h-1.8zM544.3 242.8h1.2v1.8h-1.2zM543.8 241.1h1.5v2.2h-1.5zM545.2 241.9h1.3v2.2h-1.3zM543.8 242.1h1.1v2.2h-1.1zM543.3 240.6h1.5v1.7h-1.5zM542.2 239.2h2.0v1.8h-2.0zM541.6 238.0h1.9v1.8h-1.9zM541.6 239.4h2.2v2.3h-2.2zM541.7 241.5h1.7v1.2h-1.7zM541.4 242.8h1.3v1.3h-1.3zM542.7 243.4h1.1v2.0h-1.1zM541.3 244.3h1.6v1.9h-1.6zM543.3 240.2h1.2v2.2h-1.2zM544.7 240.7h1.3v1.6h-1.3zM545.1 239.2h2.3v2.2h-2.3zM544.9 238.1h2.0v1.5h-2.0zM543.9 237.4h1.3v1.3h-1.3zM542.5 237.4h1.0v1.2h-1.0zM534.6 263.7h1.8v2.6h-1.8zM535.0 262.3h1.8v2.8h-1.8zM536.2 262.7h2.2v2.1h-2.2zM535.4 261.6h2.9v1.8h-2.9zM535.3 262.6h2.0v2.6h-2.0zM535.6 264.1h2.3v2.3h-2.3zM535.2 262.5h1.7v2.9h-1.7zM536.2 262.7h2.3v2.7h-2.3zM536.4 264.2h2.9v2.3h-2.9zM536.4 263.0h2.8v2.0h-2.8zM538.0 262.7h1.8v1.5h-1.8zM535.9 262.1h2.8v2.9h-2.8zM537.4 261.7h2.3v2.9h-2.3zM536.3 261.6h1.7v2.4h-1.7zM536.4 260.4h2.1v2.4h-2.1zM536.4 262.1h1.9v2.1h-1.9zM534.8 262.3h2.2v1.6h-2.2zM536.2 262.0h2.0v2.6h-2.0zM629.9 171.7h2.1v2.6h-2.1zM628.7 173.0h2.7v1.7h-2.7zM630.3 172.9h2.2v1.7h-2.2zM631.5 171.8h1.8v2.4h-1.8zM632.4 171.3h1.9v2.1h-1.9zM630.8 171.4h2.3v2.4h-2.3zM632.3 170.8h1.5v2.6h-1.5zM633.4 170.9h1.5v1.7h-1.5zM631.8 171.5h2.1v1.8h-2.1zM630.7 172.1h2.0v1.9h-2.0zM629.8 173.0h1.7v1.4h-1.7zM629.6 173.7h1.6v2.4h-1.6zM654.0 140.1h1.9v1.9h-1.9zM653.3 140.7h1.8v1.7h-1.8zM653.5 141.3h2.1v2.2h-2.1zM653.7 140.6h2.2v1.7h-2.2zM654.6 139.6h1.4v1.9h-1.4zM568.3 183.4h1.9v1.2h-1.9zM568.9 181.9h2.0v1.4h-2.0zM570.4 180.8h1.6v2.1h-1.6zM569.3 182.2h1.1v1.5h-1.1zM567.7 183.3h2.0v1.1h-2.0zM566.7 184.3h2.1v1.5h-2.1zM566.3 185.3h1.3v2.0h-1.3zM567.0 184.3h2.0v1.7h-2.0zM566.4 185.7h1.4v1.4h-1.4zM567.2 184.2h1.3v1.4h-1.3zM568.0 180.0h2.2v1.6h-2.2zM569.1 179.0h2.1v1.3h-2.1zM570.1 178.0h2.0v1.2h-2.0zM568.6 178.8h2.3v1.6h-2.3zM569.0 177.6h1.5v1.2h-1.5zM570.2 176.8h2.0v2.2h-2.0zM571.1 175.9h1.4v1.6h-1.4zM601.7 183.6h1.6v2.3h-1.6zM602.8 184.7h2.1v1.5h-2.1zM604.4 185.3h1.0v2.1h-1.0zM605.6 184.9h1.3v2.0h-1.3zM604.7 186.6h1.5v1.3h-1.5zM602.7 186.7h2.3v1.3h-2.3zM603.0 187.9h1.5v1.7h-1.5zM589.8 185.5h1.7v1.8h-1.7zM588.0 186.0h2.3v1.5h-2.3zM598.2 188.8h1.6v1.3h-1.6zM597.1 189.9h1.6v1.6h-1.6zM596.1 189.4h1.1v1.2h-1.1zM594.5 189.8h2.0v2.2h-2.0zM593.4 190.6h1.7v1.7h-1.7zM609.6 153.3h1.5v2.2h-1.5zM608.1 153.9h1.7v1.9h-1.7zM607.7 155.3h1.1v1.6h-1.1zM608.9 156.1h1.4v1.6h-1.4zM607.6 156.6h1.2v1.2h-1.2zM603.6 147.1h1.9v1.5h-1.9zM605.2 147.4h1.2v2.3h-1.2zM606.1 146.6h1.1v1.4h-1.1zM605.1 148.3h2.1v1.0h-2.1zM604.6 146.6h1.9v1.4h-1.9zM605.7 147.8h1.5v2.0h-1.5zM605.5 146.1h1.5v2.3h-1.5zM604.5 148.2h2.1v1.0h-2.1zM605.5 146.6h1.4v1.3h-1.4zM606.5 145.4h1.7v2.0h-1.7zM607.8 144.7h1.3v1.6h-1.3zM554.9 246.6h1.8v1.6h-1.8zM554.4 247.9h1.7v1.8h-1.7zM554.1 246.6h1.3v1.4h-1.3zM553.2 247.9h1.9v1.8h-1.9zM552.3 249.2h2.0v1.2h-2.0zM551.9 250.2h1.3v1.7h-1.3zM558.5 237.3h2.0v1.9h-2.0zM558.5 236.3h2.2v1.0h-2.2zM558.4 237.6h1.4v1.3h-1.4zM556.7 243.6h2.2v1.4h-2.2zM557.1 245.1h1.2v1.5h-1.2z"/>
<path fill="#f3ae7b" d="M776.2 3.8h1.2v1.0h-1.2zM776.4 2.6h1.8v1.2h-1.8zM776.7 2.6h1.2v1.0h-1.2zM515.3 41.1h1.6v1.8h-1.6zM512.8 40.7h1.8v1.7h-1.8zM597.1 37.0h0.9v0.9h-0.9zM594.3 35.1h1.2v0.9h-1.2zM586.3 39.7h0.9v0.9h-0.9zM581.2 39.1h1.0v1.1h-1.0zM579.2 37.7h1.2v0.9h-1.2zM588.7 38.5h1.0v1.0h-1.0zM588.2 36.0h1.1v1.0h-1.1zM575.0 54.6h1.4v1.2h-1.4zM624.4 71.7h1.4v1.1h-1.4zM608.1 30.0h1.2v1.1h-1.2zM666.9 46.8h1.8v0.8h-1.8zM670.6 41.8h1.9v0.9h-1.9zM666.0 44.2h1.0v1.6h-1.0zM666.5 41.4h1.3v1.4h-1.3zM664.0 42.3h1.0v1.6h-1.0zM664.8 43.6h1.7v1.2h-1.7zM663.6 43.5h2.1v1.6h-2.1zM665.7 40.5h0.9v1.7h-0.9zM666.0 37.7h1.3v1.4h-1.3zM671.8 40.9h1.6v1.1h-1.6zM662.6 43.1h1.3v1.5h-1.3zM662.8 38.9h1.9v1.1h-1.9zM669.3 41.3h1.4v1.4h-1.4zM669.7 37.4h0.9v1.6h-0.9zM669.1 37.7h1.6v1.1h-1.6zM669.8 38.2h1.8v1.7h-1.8zM655.7 28.5h1.1v1.0h-1.1zM657.9 32.3h1.3v0.9h-1.3zM652.9 24.8h1.0v0.8h-1.0zM656.3 32.5h1.2v0.9h-1.2zM661.0 30.4h1.2v0.9h-1.2zM664.3 4.9h1.4v1.3h-1.4zM661.9 4.5h1.1v1.0h-1.1zM664.9 3.8h1.1v1.4h-1.1zM663.4 3.5h1.6v1.2h-1.6zM501.6 224.4h1.9v1.9h-1.9zM500.6 223.5h2.2v1.1h-2.2zM497.0 229.3h1.4v1.7h-1.4zM497.2 227.9h1.1v1.4h-1.1zM497.1 229.4h1.1v1.6h-1.1zM497.8 231.0h1.3v1.2h-1.3zM497.2 229.2h1.0v1.9h-1.0zM504.8 222.8h2.1v2.0h-2.1zM506.5 222.1h1.2v1.5h-1.2zM507.2 222.8h2.1v2.0h-2.1zM497.4 234.6h1.6v1.8h-1.6zM498.5 236.2h1.3v1.1h-1.3zM497.9 234.6h1.7v1.2h-1.7zM499.1 233.3h1.3v1.5h-1.3zM499.9 234.4h1.3v2.0h-1.3zM499.1 235.9h1.2v1.6h-1.2zM500.1 229.2h1.1v2.1h-1.1zM499.3 228.2h1.3v1.6h-1.3zM499.0 229.9h1.3v1.2h-1.3zM497.6 230.5h2.2v2.2h-2.2zM499.6 230.2h1.1v1.3h-1.1zM500.8 229.0h1.1v1.9h-1.1zM499.8 230.9h2.2v1.0h-2.2zM498.8 232.6h2.0v1.6h-2.0zM499.6 233.8h1.5v2.1h-1.5zM497.6 232.8h1.9v1.9h-1.9zM498.5 234.6h1.1v1.1h-1.1zM497.1 233.5h1.6v1.3h-1.6zM495.2 235.3h1.7v1.2h-1.7zM496.5 235.7h1.9v1.5h-1.9zM496.6 234.0h1.1v2.0h-1.1zM495.3 235.3h2.0v2.0h-2.0zM494.3 235.3h1.0v2.1h-1.0zM492.3 235.9h2.0v1.3h-2.0zM499.5 228.8h1.4v1.7h-1.4zM500.9 228.9h1.6v1.5h-1.6zM499.6 228.6h1.1v1.9h-1.1zM502.5 244.6h1.5v1.9h-1.5zM503.7 245.1h2.0v2.1h-2.0zM502.3 245.3h1.6v1.6h-1.6zM501.1 244.7h1.0v2.2h-1.0zM501.3 246.7h1.2v1.1h-1.2zM501.0 248.2h2.0v1.0h-2.0zM499.9 247.3h1.7v1.7h-1.7zM498.4 247.3h1.8v1.1h-1.8zM500.7 247.1h1.6v1.6h-1.6zM500.7 248.7h1.1v1.5h-1.1zM501.4 249.5h1.7v2.0h-1.7zM495.6 251.0h2.0v2.1h-2.0zM494.7 252.1h1.5v2.0h-1.5zM493.3 251.7h1.5v2.1h-1.5zM500.5 248.7h1.5v2.2h-1.5zM500.8 247.4h2.1v2.0h-2.1zM502.1 246.4h1.1v1.6h-1.1zM503.0 246.3h2.1v1.3h-2.1zM498.8 248.7h1.1v1.5h-1.1zM497.3 248.8h1.0v1.2h-1.0zM498.4 248.0h1.9v2.1h-1.9zM497.4 246.9h2.0v2.1h-2.0zM499.0 246.1h1.0v1.8h-1.0zM499.2 247.6h2.1v1.7h-2.1zM499.4 249.2h1.6v1.5h-1.6zM501.0 248.8h1.3v1.4h-1.3zM500.1 247.3h1.1v1.7h-1.1zM501.3 247.1h1.6v1.3h-1.6zM499.6 249.0h1.2v1.4h-1.2zM498.2 249.9h1.3v1.3h-1.3zM499.4 250.3h1.7v2.0h-1.7zM496.4 250.8h1.9v1.6h-1.9zM495.0 250.4h1.7v1.6h-1.7zM494.7 252.0h1.3v1.3h-1.3zM474.5 255.5h1.4v2.0h-1.4zM474.5 257.3h1.7v1.6h-1.7zM481.9 252.1h1.2v1.1h-1.2zM482.8 251.0h1.5v1.1h-1.5zM481.6 251.6h1.5v1.9h-1.5zM482.9 252.5h1.3v2.2h-1.3zM482.8 251.3h1.2v1.4h-1.2zM481.5 252.4h1.8v1.7h-1.8zM479.8 251.0h1.9v1.9h-1.9zM478.3 251.2h1.9v1.9h-1.9zM480.0 250.3h1.2v2.0h-1.2zM481.2 250.6h1.9v1.7h-1.9zM479.5 250.6h2.2v1.7h-2.2zM478.3 251.2h1.9v2.0h-1.9zM475.0 255.4h1.9v1.4h-1.9zM473.9 256.3h1.7v1.5h-1.7zM473.2 257.4h1.9v2.0h-1.9zM472.0 257.7h1.5v1.2h-1.5zM482.3 252.9h1.1v2.1h-1.1zM481.1 254.3h2.0v2.0h-2.0zM483.0 254.1h1.2v1.5h-1.2zM484.4 253.5h1.0v1.1h-1.0zM482.6 252.4h1.6v2.1h-1.6zM482.8 250.9h1.7v2.2h-1.7zM482.0 252.2h1.6v2.0h-1.6zM482.9 253.4h1.4v2.2h-1.4zM483.5 252.5h1.6v1.1h-1.6zM474.3 252.3h2.1v1.5h-2.1zM475.5 253.5h1.3v1.6h-1.3zM474.0 253.6h1.2v1.2h-1.2zM472.8 252.3h1.7v1.4h-1.7zM474.4 252.4h1.8v1.1h-1.8zM473.0 253.1h1.9v1.4h-1.9zM473.0 251.6h1.0v1.4h-1.0zM472.5 254.2h1.6v1.7h-1.6zM472.3 255.8h1.8v1.6h-1.8zM473.8 255.7h1.7v1.5h-1.7zM493.3 242.6h1.1v1.2h-1.1zM491.4 242.2h1.8v1.6h-1.8zM490.6 242.0h1.3v1.7h-1.3zM489.8 243.4h1.2v1.3h-1.2zM490.7 244.1h1.9v1.6h-1.9zM490.0 245.3h1.4v1.4h-1.4zM491.2 245.6h1.9v1.6h-1.9zM489.2 244.4h1.0v1.9h-1.0zM490.0 243.2h1.3v1.9h-1.3zM636.1 189.9h1.1v1.2h-1.1zM636.1 192.2h1.4v1.2h-1.4zM638.1 192.6h1.2v1.2h-1.2zM636.6 193.0h1.1v1.1h-1.1zM638.9 192.1h1.1v0.9h-1.1zM636.1 192.3h1.4v1.1h-1.4zM629.8 212.2h1.1v0.8h-1.1zM630.2 211.8h0.9v1.1h-0.9zM682.7 254.6h1.0v1.1h-1.0zM588.4 264.9h1.3v1.0h-1.3zM588.7 262.0h1.4v0.9h-1.4zM587.4 266.8h1.0v1.0h-1.0zM584.0 164.2h1.8v1.0h-1.8zM584.8 167.4h1.4v1.2h-1.4zM582.3 169.8h1.4v1.3h-1.4zM585.6 165.6h1.6v1.5h-1.6zM583.9 166.8h2.0v1.3h-2.0zM583.8 166.0h1.7v1.2h-1.7zM583.5 165.1h1.9v1.2h-1.9zM600.5 159.8h0.9v1.2h-0.9zM598.6 164.5h1.2v1.2h-1.2zM599.6 162.6h0.9v1.0h-0.9z"/>
<path fill="#da623e" d="M508.5 54.9h1.8v1.3h-1.8zM509.4 55.4h1.7v1.4h-1.7zM509.7 56.6h1.9v1.3h-1.9zM510.5 56.2h1.1v1.1h-1.1zM645.8 67.9h1.5v1.1h-1.5zM646.5 68.6h1.1v1.1h-1.1zM587.3 266.9h1.5v1.1h-1.5zM587.6 267.3h1.1v1.4h-1.1zM590.3 156.9h1.3v1.3h-1.3zM587.4 156.5h1.7v1.5h-1.7zM588.4 156.5h1.2v1.5h-1.2zM590.0 156.2h1.6v1.4h-1.6zM569.6 180.7h1.1v1.1h-1.1zM572.4 179.9h1.4v1.5h-1.4zM552.6 214.3h1.7v1.1h-1.7zM559.4 214.0h1.7v1.5h-1.7zM559.7 213.0h1.0v1.7h-1.0zM558.9 214.6h2.0v1.1h-2.0zM560.3 210.2h1.7v1.5h-1.7zM591.2 203.7h1.9v1.2h-1.9zM589.2 202.8h2.0v1.4h-2.0zM592.2 203.6h1.3v1.3h-1.3z"/>
<path fill="#be1519" d="M593.8 154.2L601.6 152.4L600.2 154.6L596 155.8zM587.5 155.3L592 155.8L591.2 157.8L588.3 157.2zM589.8 174.2L593 174.4L592.6 176.3L590.6 175.9zM585.0 171.3h1.6v1.5h-1.6zM560.0 218.4L562.9 213.1L568.8 211.4L570.5 207.3L573.4 206.7L578.1 212.5L582.2 211.4L584.6 207.9L591.0 206.7L592.2 210.2L589.9 216.7L587.5 221.3L585.2 225.4L581.7 227.2L581.1 231.9L578.1 233.1L577.5 229.0L579.3 225.4L575.8 224.3L572.3 225.4L569.3 221.3L565.2 221.3L561.7 220.2zM576.2 217.6h3.2v2.2h-3.2zM575.6 215.2h2.5v2.1h-2.5zM576.4 218.7h3.3v2.4h-3.3zM566.5 216.3h3.2v2.7h-3.2zM572.0 216.4h3.2v1.7h-3.2zM573.9 219.0h2.5v2.3h-2.5zM568.6 217.9h1.8v2.4h-1.8zM569.2 215.8h3.2v2.7h-3.2zM587.0 211.6h1.6v2.0h-1.6zM569.8 217.6h3.0v2.7h-3.0zM577.1 220.3h3.4v2.7h-3.4zM571.6 217.5h2.4v2.2h-2.4zM574.7 214.1h2.1v2.8h-2.1zM581.0 217.2h1.7v2.5h-1.7zM563.9 220.9h1.9v2.6h-1.9zM574.4 218.4h1.7v1.6h-1.7zM563.7 223.7h2.2v2.4h-2.2zM579.6 218.2h2.6v1.6h-2.6zM569.2 214.6h2.2v2.6h-2.2zM573.2 215.3h1.7v1.6h-1.7zM572.7 222.3h3.4v2.8h-3.4zM575.2 215.2h3.1v2.5h-3.1zM580.0 232.1h2.1v1.9h-2.1zM578.8 232.0h1.7v1.8h-1.7zM579.4 232.4h1.8v1.9h-1.8zM578.1 231.7h2.5v1.8h-2.5z"/>
<g fill="none" stroke="#111" stroke-width="1.5" stroke-linejoin="round" stroke-linecap="round">
<path d="M639.3 104.8L636.4 104.6L633.8 104.7L630.8 105.1L628.9 105.6L626.0 105.2L623.1 105.4L620.3 105.6L617.4 108.0L615.2 109.8L612.3 111.3L609.3 112.9L606.9 114.5L604.1 115.4L601.1 115.8L598.1 115.4L595.1 115.4L592.6 116.2L589.2 115.9L585.9 117.1L582.0 118.1L580.7 121.3L581.6 124.5L582.2 127.7L581.5 130.3L580.1 133.6L577.2 134.0L574.5 134.4L572.5 133.1L569.5 132.1L567.1 131.3L564.1 133.9L561.3 136.0L558.9 139.9L557.1 144.1L556.5 149.2L554.1 150.7L552.0 152.4L549.8 154.3L548.3 155.8L546.2 158.5L543.3 160.2L541.6 162.9L542.6 165.7L543.8 167.9L540.7 170.1L538.0 172.9L535.7 175.8L533.6 177.7L532.3 180.0L532.1 182.6L530.8 184.8L530.2 187.6L528.8 190.5L527.6 193.8L527.0 197.3L528.6 201.6L527.8 204.8L527.0 207.2L526.7 210.0L526.5 213.1L525.3 216.2L524.6 219.4L524.4 222.7L525.0 225.7L524.4 228.7L524.8 231.8L525.1 235.3L525.8 237.6L527.5 240.9L528.1 243.6L526.3 245.5L524.1 247.3L521.7 248.5L519.5 250.7L519.1 253.8L517.8 256.3L517.2 259.0L518.4 261.8L519.2 264.8L519.8 267.8L521.1 270.1L522.9 272.9L524.2 274.3L525.6 276.9"/>
<path d="M641.0 105.0L645.5 107.1L646.8 110.1L647.2 113.0L646.9 115.3L647.7 118.0L648.3 120.9L648.3 124.4L649.6 127.0L650.3 129.2L651.8 132.3L653.3 134.3L655.0 139.2L658.3 139.8L661.4 141.1L664.1 143.2L667.3 146.0L667.4 149.6L668.0 152.4L665.8 155.6L664.4 158.4L662.4 160.6L659.9 162.4L657.4 164.4L655.3 166.9L653.1 168.9L651.0 170.6L649.4 172.5L646.9 174.4L645.1 176.1L643.3 178.0L640.9 180.9L638.4 182.9L636.0 184.9L633.7 186.7L632.7 189.8L632.0 192.1L632.8 195.0L632.5 197.2L632.9 200.2L633.1 202.7L632.3 206.1L630.4 209.3L629.6 212.0L628.3 215.0L626.7 217.6L625.4 219.7L623.9 222.4L620.9 223.9L618.8 226.4L615.6 227.3L613.4 229.5L610.6 231.6L608.0 234.3L609.2 238.9L611.0 241.2L613.1 242.8L615.8 244.7L618.5 246.1L621.1 246.8L623.2 247.4L626.1 248.4L628.7 249.1L631.9 250.4L634.6 250.9L636.8 251.9L640.0 253.2L642.4 254.5L645.0 256.7L647.7 257.8L650.6 257.1L653.3 257.8L657.1 259.2L659.9 259.9L662.9 260.7L665.5 261.6L668.1 262.2L671.2 262.1L674.7 262.2L677.6 261.5L681.0 260.1L685.6 260.3L689.7 257.4L693.3 257.9L695.7 259.6L697.6 261.0L700.2 262.8L702.1 264.3L704.6 265.7L707.9 266.4L710.4 266.4L713.2 266.9L715.4 269.4L716.9 272.2L719.1 273.4L721.2 275.4L723.0 277.0"/>
</g>
<g fill="none" stroke="#1b8fff" stroke-width="2.0" stroke-linejoin="round" stroke-linecap="round">
<path d="M665.7 0.6L662.8 -0.2L660.7 0.5L659.5 2.7L658.2 4.9L656.8 7.2L654.7 8.2L652.1 8.3L649.9 8.8L647.7 9.3L645.8 10.1L645.1 12.7L644.1 14.9L643.0 17.2L640.5 17.4L637.7 17.1L634.8 18.7L633.8 21.0L634.8 23.4L637.1 25.8L638.0 27.9L637.4 30.5L635.9 33.1L635.1 35.6L634.8 38.3L635.6 40.2L637.9 41.8L639.5 43.5L639.9 45.4L639.4 47.7L638.2 50.1L637.3 52.4L637.5 54.6L638.7 56.8L640.4 58.5L642.3 60.2L642.0 62.8L641.8 65.4L641.2 67.3L641.0 69.6L640.8 71.8L642.1 74.3L643.8 76.8L643.3 79.0L641.5 81.1L639.6 83.1L638.3 85.2L638.9 87.6L639.6 89.9L640.8 92.5L641.3 95.0L639.8 96.8L638.5 99.2L637.7 101.5L638.6 104.1L640.7 105.7L643.7 106.6L645.6 108.3L646.3 111.3L645.5 113.8L644.5 116.4L643.7 119.0L644.6 121.8L646.8 123.3L649.1 124.8L650.1 126.8L649.8 129.1L649.6 132.2L650.3 134.8L653.2 136.0"/>
<path d="M665.3 -0.1L664.1 2.2L662.9 4.4L660.6 4.7L657.6 3.8L655.0 4.0L653.0 5.2L651.7 7.7L650.7 9.9L649.6 11.8L647.7 12.8L645.5 13.2L642.8 12.9L640.7 13.7L639.1 15.2L637.9 17.5L637.4 18.9L637.8 21.2L636.8 23.5L635.2 25.7L634.3 28.2L634.8 30.7L635.8 33.1L637.6 35.4L638.4 37.6L637.7 39.8L637.0 42.0L636.1 44.2L636.5 46.2L638.1 47.8L639.5 50.0L640.9 52.1L640.6 54.4L639.0 56.8L638.0 59.5L638.7 61.7L639.4 63.9L641.7 65.5L644.0 67.7L644.0 69.9L643.0 72.1L641.1 74.2L640.1 76.3L639.2 78.5L640.1 80.9L642.2 83.4L642.2 85.7L641.5 87.9L640.1 90.0L638.2 92.1L637.3 94.3L637.3 97.3L639.6 99.0L641.0 100.9L641.8 102.2L641.6 105.1L641.5 108.0L642.2 110.3L643.4 111.5L644.6 113.9L646.5 116.3L647.6 118.7L647.3 120.8L646.6 123.4L645.8 126.1L646.9 128.0L648.1 130.2L651.3 131.1L653.0 133.1L653.2 136.0"/>
<path d="M665.1 -0.5L661.2 1.5L658.0 4.5L655.3 6.8L652.5 8.9L649.8 11.0L646.5 12.3L642.8 12.9L640.6 14.8L638.5 17.0L636.1 18.8L637.2 22.0L636.6 25.0L636.0 28.1L635.1 31.5L635.3 34.8L635.4 38.2L636.8 41.3L638.7 44.3L639.4 47.7L639.2 51.5L639.0 55.3L638.0 59.5L639.3 62.3L641.5 64.7L643.9 67.6L643.1 71.4L642.8 75.2L641.2 78.8L639.7 82.4L639.1 86.1L638.9 89.8L639.8 93.6L639.5 96.8L640.6 99.9L640.1 103.2L640.9 106.4L642.7 109.1L644.4 111.5L645.5 114.7L645.9 118.0L647.1 120.8L647.6 123.8L648.1 126.8L648.2 130.0L650.3 133.3L653.2 136.0" stroke-width="1.8"/>
<path d="M653.2 136.0L648.3 141.0L645.0 145.9L644.2 151.6L638.5 158.2L631.9 160.7L627.0 165.6L620.4 172.1L613.0 173.8L612.2 180.3L609.8 188.6L606.3 194.4L603.9 200.2L604.9 208.4L601.6 216.7L596.9 224.9L589.9 231.9L581.7 236.6L579.3 241.3L573.4 250.6L567.6 258.9L566.4 267.1L569.3 268.8L567.6 277.0" stroke-width="1.75"/>
<path d="M653.2 136.0L654.9 144.2L652.4 151.6L647.5 159.8L641.8 164.8L635.2 169.7L629.4 172.1L624.5 178.7L622.1 186.9L621.5 192.0L615.1 199.1L612.7 206.1L618.6 212.0L615.7 217.8L611.0 223.7L600.4 229.5L589.9 236.6L585.2 241.3L579.3 250.6L573.4 260.0L570.5 269.4L569.9 277.0" stroke-width="1.75"/>
<path d="M645.9 125.0L645.0 134.4L641.8 142.6L634.4 147.5L632.4 154.1L631.9 160.7" stroke-width="1.75"/>
<path d="M603.3 197.9L596.3 204.9L592.8 210.8L591.0 220.2L586.3 227.2L581.7 233.1L576.4 237.8L575.8 242.4L567.6 250.6L561.1 256.5L561.7 265.9L557.0 271.8L553.5 277.0" stroke-width="1.75"/>
<path d="M586.3 241.3L587.5 248.3L589.9 256.5L589.3 267.1L584.2 277.0" stroke-width="1.75"/>
<path d="M591.0 272.3L590.8 277.0" stroke-width="1.75"/>
<circle cx="641.8" cy="164.8" r="2.5" fill="#1b8fff" stroke="none"/>
</g>
</g>
<rect x="679.4" y="210.9" width="8.7" height="8.7" fill="none" stroke="#000" stroke-width="1.7"/>
<path d="M580.5 211.7L582.4 217.2L588.2 217.3L583.6 220.8L585.3 226.4L580.5 223.0L575.7 226.4L577.4 220.8L572.8 217.3L578.6 217.2z" fill="#000"/>
<path d="M708.6 222.8L710.5 228.3L716.3 228.4L711.7 231.9L713.4 237.5L708.6 234.1L703.8 237.5L705.5 231.9L700.9 228.4L706.7 228.3z" fill="#000"/>
<text x="537.2" y="204.9" font-size="14" font-weight="bold">Yinchuan</text>
<text x="717.4" y="246.0" font-size="14" font-weight="bold">Otog Qianqi</text>
<text transform="translate(655.7,35.2) rotate(88.3)" font-size="14.2" font-weight="bold">Yellow River</text>
<text x="836.9" y="26.6" font-size="14.7" text-anchor="end">SPOT VGT</text>
<rect x="463.0" y="1.4" width="384.4" height="274.7" fill="none" stroke="#2e2e2a" stroke-width="1.3"/>
</g>
<g id="chartsA">
<rect x="64.1" y="288.4" width="382.4" height="93.4" fill="#fdfdfd" stroke="#3a3a3a" stroke-width="1.1"/>
<path d="M111.9 288.4v4M111.9 381.8v-4M159.7 288.4v4M159.7 381.8v-4M207.5 288.4v4M207.5 381.8v-4M255.3 288.4v4M255.3 381.8v-4M303.1 288.4v4M303.1 381.8v-4M350.9 288.4v4M350.9 381.8v-4M398.7 288.4v4M398.7 381.8v-4M64.1 307.2h4M446.5 307.2h-4M64.1 344.4h4M446.5 344.4h-4M64.1 381.8h4M446.5 381.8h-4" stroke="#3a3a3a" stroke-width="1" fill="none"/>
<path d="M68.2 341.3L72.9 341.3L83.4 345.5L88.1 316.7L92.1 312.7L95.9 313.8L99.9 333.5L103.4 331.4L107.6 337.1L112.1 347.1L115.6 333.5L119.8 338.5L128.0 344.1L132.0 348.3L135.5 343.6L139.7 333.1L143.7 316.7L147.9 312.0L151.4 333.1L155.4 338.5L159.6 334.2L163.2 334.9L167.4 333.1L171.4 335.4L175.4 342.4L179.1 338.5L183.1 347.1L187.3 353.5L191.3 336.1L195.3 327.2L199.0 327.7L203.0 341.3L207.2 339.4L211.2 341.3L215.2 340.1L219.4 341.3L223.4 341.3L227.2 321.3L231.2 306.6L234.7 304.9L239.4 308.0L242.9 328.8L246.9 329.5L250.0 333.8L255.9 339.4L259.4 339.4L263.4 337.8L267.1 338.5L271.1 342.0L275.3 341.3L279.3 340.8L282.8 344.3L286.8 342.9L291.0 340.1L294.5 341.3L299.2 344.3L302.8 344.8L307.4 344.1L314.5 344.3L319.2 349.5L322.7 351.8L326.7 348.3L330.9 334.2L334.9 325.3L338.6 327.7L342.6 335.4L346.6 342.9L350.1 343.1L354.3 347.6L358.3 346.0L362.5 343.1L366.5 344.3L370.8 344.8L374.3 346.4L378.3 351.1L382.0 342.0L386.0 340.1L390.2 337.8L394.2 344.8L398.2 341.3L402.4 346.4L406.6 340.8L410.6 342.4L414.1 350.7L418.3 347.1L422.3 345.3L425.8 346.0L430.1 331.9L434.1 323.7L438.3 344.3L442.3 344.8L445.8 346.0" stroke="#2b2b2b" stroke-width="1.05" fill="none" stroke-linejoin="round"/>
<text x="87.3" y="404.3" font-size="17.9" text-anchor="middle">1999</text>
<text x="136.6" y="404.3" font-size="17.9" text-anchor="middle">2000</text>
<text x="185.5" y="404.3" font-size="17.9" text-anchor="middle">2001</text>
<text x="232.0" y="404.3" font-size="17.9" text-anchor="middle">2002</text>
<text x="281.4" y="404.3" font-size="17.9" text-anchor="middle">2003</text>
<text x="329.0" y="404.3" font-size="17.9" text-anchor="middle">2004</text>
<text x="375.0" y="404.3" font-size="17.9" text-anchor="middle">2005</text>
<text x="424.5" y="404.3" font-size="17.9" text-anchor="middle">2006</text>
<text x="54.7" y="313.6" font-size="17.9" text-anchor="end">0.2</text>
<text x="54.7" y="350.8" font-size="17.9" text-anchor="end">0.1</text>
<text x="54.7" y="388.2" font-size="17.9" text-anchor="end">0.0</text>
<text transform="translate(18.0,343.3) rotate(-90)" font-size="18" text-anchor="middle">NDVI</text>
<rect x="463.8" y="288.4" width="381.6" height="93.4" fill="#fdfdfd" stroke="#3a3a3a" stroke-width="1.1"/>
<path d="M511.5 288.4v4M511.5 381.8v-4M559.2 288.4v4M559.2 381.8v-4M606.9 288.4v4M606.9 381.8v-4M654.6 288.4v4M654.6 381.8v-4M702.3 288.4v4M702.3 381.8v-4M750.0 288.4v4M750.0 381.8v-4M797.7 288.4v4M797.7 381.8v-4M463.8 307.2h4M845.4 307.2h-4M463.8 344.4h4M845.4 344.4h-4M463.8 381.8h4M845.4 381.8h-4" stroke="#3a3a3a" stroke-width="1" fill="none"/>
<path d="M468.2 347.8L471.7 351.8L475.7 355.3L479.9 351.8L483.4 344.8L487.7 333.8L491.7 334.2L498.7 335.4L503.4 341.3L508.1 346.4L511.6 350.2L515.6 351.4L519.3 350.2L523.3 351.6L526.8 351.1L531.5 349.5L535.0 333.5L539.0 334.9L543.2 331.2L547.5 336.6L551.4 343.6L555.4 348.8L559.6 351.1L564.3 353.0L567.9 353.5L571.4 352.3L574.9 355.3L579.1 351.8L583.1 351.8L587.3 354.6L591.3 348.8L594.8 342.0L598.8 344.1L603.0 351.4L607.2 355.3L611.2 355.3L614.7 357.7L619.0 353.9L623.0 355.3L626.9 334.2L630.7 321.3L634.7 310.8L638.7 319.0L642.9 328.4L646.9 336.6L651.1 343.6L653.0 346.4L658.2 349.9L662.4 345.5L666.4 349.0L670.6 344.8L674.6 340.6L678.3 340.6L682.3 331.9L686.3 326.5L690.5 330.0L694.5 338.5L698.7 342.0L702.7 345.5L706.9 349.9L710.4 349.5L714.4 347.8L718.2 349.0L722.2 344.8L726.2 333.8L730.4 327.7L734.4 327.0L737.9 327.2L742.1 333.1L746.1 342.0L750.3 348.8L754.3 354.9L757.8 353.5L762.0 349.9L766.0 347.8L770.2 344.8L774.2 341.7L778.0 345.3L782.0 342.4L785.9 340.8L789.7 342.4L793.7 351.1L797.7 351.8L801.9 357.2L805.9 352.3L809.6 353.5L813.6 354.6L817.6 347.1L821.8 345.5L825.8 349.5L829.6 333.5L833.5 328.6L837.5 334.7L841.7 346.0L845.3 351.4" stroke="#2b2b2b" stroke-width="1.05" fill="none" stroke-linejoin="round"/>
<text x="488.6" y="404.3" font-size="17.9" text-anchor="middle">1999</text>
<text x="537.8" y="404.3" font-size="17.9" text-anchor="middle">2000</text>
<text x="586.6" y="404.3" font-size="17.9" text-anchor="middle">2001</text>
<text x="633.0" y="404.3" font-size="17.9" text-anchor="middle">2002</text>
<text x="682.3" y="404.3" font-size="17.9" text-anchor="middle">2003</text>
<text x="729.8" y="404.3" font-size="17.9" text-anchor="middle">2004</text>
<text x="775.7" y="404.3" font-size="17.9" text-anchor="middle">2005</text>
<text x="825.1" y="404.3" font-size="17.9" text-anchor="middle">2006</text>
</g>
<g id="mapBL">
<rect x="60.7" y="418.6" width="384.5" height="274.5" fill="#ffffc0"/>
<g clip-path="url(#cBL)">
<path fill="#f3ae7b" d="M400.41 643.62h18.00v9.07h-18.00zM257.63 652.55h18.00v9.07h-18.00zM320.10 670.40h9.07v9.07h-9.07z"/>
<path fill="#da623e" d="M391.49 447.30h9.07v9.07h-9.07zM346.87 581.16h18.00v9.07h-18.00zM409.34 581.16h18.00v9.07h-18.00zM418.26 643.62h18.00v9.07h-18.00zM445.03 643.62h9.07v9.07h-9.07z"/>
<path fill="#b5db86" d="M150.54 420.52h26.92v9.07h-26.92zM275.48 438.37h18.00v9.07h-18.00zM177.31 447.30h9.07v9.07h-9.07zM373.64 447.30h9.07v9.07h-9.07zM346.87 456.22h9.07v9.07h-9.07zM114.84 465.14h9.07v9.07h-9.07zM329.02 465.14h18.00v9.07h-18.00zM355.79 474.07h18.00v9.07h-18.00zM364.72 491.92h9.07v9.07h-9.07zM79.15 509.76h9.07v9.07h-9.07zM105.92 518.69h9.07v9.07h-9.07zM141.62 518.69h18.00v9.07h-18.00zM373.64 554.38h9.07v9.07h-9.07zM61.30 599.00h9.07v9.07h-9.07zM346.87 599.00h18.00v9.07h-18.00zM230.86 607.93h18.00v9.07h-18.00zM373.64 607.93h18.00v9.07h-18.00zM230.86 616.85h9.07v9.07h-9.07zM409.34 652.55h9.07v9.07h-9.07zM275.48 661.47h18.00v9.07h-18.00zM355.79 661.47h9.07v9.07h-9.07zM284.40 670.40h18.00v9.07h-18.00zM418.26 670.40h18.00v9.07h-18.00zM195.16 679.32h9.07v9.07h-9.07zM337.94 679.32h18.00v9.07h-18.00zM391.49 688.24h18.00v9.07h-18.00z"/>
<path fill="#72b554" d="M114.84 411.60h9.07v9.07h-9.07zM284.40 411.60h9.07v9.07h-9.07zM257.63 429.45h26.92v9.07h-26.92zM230.86 438.37h26.92v9.07h-26.92zM293.32 438.37h18.00v9.07h-18.00zM337.94 438.37h18.00v9.07h-18.00zM266.55 447.30h35.85v9.07h-35.85zM364.72 447.30h9.07v9.07h-9.07zM248.70 456.22h62.62v9.07h-62.62zM337.94 456.22h9.07v9.07h-9.07zM355.79 456.22h18.00v9.07h-18.00zM177.31 465.14h9.07v9.07h-9.07zM257.63 465.14h9.07v9.07h-9.07zM284.40 465.14h18.00v9.07h-18.00zM320.10 465.14h9.07v9.07h-9.07zM373.64 465.14h9.07v9.07h-9.07zM123.77 474.07h9.07v9.07h-9.07zM195.16 474.07h18.00v9.07h-18.00zM248.70 474.07h9.07v9.07h-9.07zM337.94 474.07h9.07v9.07h-9.07zM373.64 474.07h26.92v9.07h-26.92zM177.31 482.99h9.07v9.07h-9.07zM302.25 482.99h44.77v9.07h-44.77zM364.72 482.99h9.07v9.07h-9.07zM391.49 482.99h9.07v9.07h-9.07zM257.63 491.92h18.00v9.07h-18.00zM284.40 491.92h9.07v9.07h-9.07zM346.87 491.92h18.00v9.07h-18.00zM391.49 491.92h9.07v9.07h-9.07zM436.11 491.92h9.07v9.07h-9.07zM239.78 500.84h9.07v9.07h-9.07zM329.02 500.84h9.07v9.07h-9.07zM364.72 500.84h9.07v9.07h-9.07zM132.69 509.76h18.00v9.07h-18.00zM346.87 509.76h9.07v9.07h-9.07zM114.84 518.69h18.00v9.07h-18.00zM346.87 518.69h18.00v9.07h-18.00zM195.16 527.61h18.00v9.07h-18.00zM355.79 527.61h26.92v9.07h-26.92zM239.78 536.54h9.07v9.07h-9.07zM275.48 536.54h9.07v9.07h-9.07zM427.18 536.54h9.07v9.07h-9.07zM105.92 545.46h18.00v9.07h-18.00zM168.39 545.46h9.07v9.07h-9.07zM293.32 554.38h9.07v9.07h-9.07zM311.17 554.38h18.00v9.07h-18.00zM97.00 563.31h9.07v9.07h-9.07zM123.77 563.31h9.07v9.07h-9.07zM177.31 563.31h9.07v9.07h-9.07zM195.16 563.31h18.00v9.07h-18.00zM293.32 563.31h9.07v9.07h-9.07zM400.41 563.31h9.07v9.07h-9.07zM79.15 572.23h18.00v9.07h-18.00zM114.84 572.23h26.92v9.07h-26.92zM177.31 572.23h9.07v9.07h-9.07zM284.40 572.23h9.07v9.07h-9.07zM373.64 572.23h35.85v9.07h-35.85zM436.11 572.23h9.07v9.07h-9.07zM177.31 581.16h18.00v9.07h-18.00zM373.64 581.16h26.92v9.07h-26.92zM150.54 590.08h9.07v9.07h-9.07zM391.49 590.08h9.07v9.07h-9.07zM132.69 599.00h35.85v9.07h-35.85zM195.16 599.00h9.07v9.07h-9.07zM213.01 599.00h18.00v9.07h-18.00zM239.78 599.00h18.00v9.07h-18.00zM382.56 599.00h18.00v9.07h-18.00zM114.84 607.93h35.85v9.07h-35.85zM105.92 616.85h9.07v9.07h-9.07zM132.69 616.85h35.85v9.07h-35.85zM195.16 616.85h9.07v9.07h-9.07zM239.78 616.85h18.00v9.07h-18.00zM364.72 616.85h9.07v9.07h-9.07zM141.62 625.78h18.00v9.07h-18.00zM248.70 625.78h9.07v9.07h-9.07zM364.72 625.78h26.92v9.07h-26.92zM257.63 634.70h18.00v9.07h-18.00zM364.72 634.70h18.00v9.07h-18.00zM79.15 643.62h18.00v9.07h-18.00zM355.79 643.62h18.00v9.07h-18.00zM150.54 652.55h18.00v9.07h-18.00zM284.40 652.55h18.00v9.07h-18.00zM320.10 652.55h9.07v9.07h-9.07zM114.84 661.47h44.77v9.07h-44.77zM204.08 661.47h18.00v9.07h-18.00zM293.32 661.47h18.00v9.07h-18.00zM195.16 670.40h18.00v9.07h-18.00zM257.63 670.40h26.92v9.07h-26.92zM97.00 679.32h18.00v9.07h-18.00zM132.69 679.32h9.07v9.07h-9.07zM159.46 679.32h9.07v9.07h-9.07zM436.11 679.32h9.07v9.07h-9.07zM105.92 688.24h18.00v9.07h-18.00zM213.01 688.24h9.07v9.07h-9.07zM275.48 688.24h9.07v9.07h-9.07zM329.02 688.24h18.00v9.07h-18.00zM409.34 688.24h18.00v9.07h-18.00z"/>
<path fill="#379427" d="M311.17 420.52h9.07v9.07h-9.07zM337.94 420.52h18.00v9.07h-18.00zM302.25 429.45h18.00v9.07h-18.00zM257.63 438.37h18.00v9.07h-18.00zM311.17 438.37h9.07v9.07h-9.07zM257.63 447.30h9.07v9.07h-9.07zM329.02 447.30h35.85v9.07h-35.85zM311.17 456.22h26.92v9.07h-26.92zM266.55 465.14h18.00v9.07h-18.00zM302.25 465.14h18.00v9.07h-18.00zM257.63 474.07h53.69v9.07h-53.69zM195.16 482.99h9.07v9.07h-9.07zM221.93 482.99h26.92v9.07h-26.92zM257.63 482.99h44.77v9.07h-44.77zM213.01 491.92h9.07v9.07h-9.07zM275.48 491.92h9.07v9.07h-9.07zM293.32 491.92h44.77v9.07h-44.77zM186.24 500.84h9.07v9.07h-9.07zM248.70 500.84h53.69v9.07h-53.69zM311.17 500.84h18.00v9.07h-18.00zM391.49 500.84h18.00v9.07h-18.00zM213.01 509.76h18.00v9.07h-18.00zM248.70 509.76h26.92v9.07h-26.92zM311.17 509.76h35.85v9.07h-35.85zM436.11 509.76h9.07v9.07h-9.07zM186.24 518.69h62.62v9.07h-62.62zM266.55 518.69h35.85v9.07h-35.85zM329.02 518.69h18.00v9.07h-18.00zM132.69 527.61h18.00v9.07h-18.00zM186.24 527.61h9.07v9.07h-9.07zM213.01 527.61h80.47v9.07h-80.47zM329.02 527.61h26.92v9.07h-26.92zM141.62 536.54h18.00v9.07h-18.00zM177.31 536.54h9.07v9.07h-9.07zM204.08 536.54h35.85v9.07h-35.85zM248.70 536.54h26.92v9.07h-26.92zM284.40 536.54h18.00v9.07h-18.00zM329.02 536.54h44.77v9.07h-44.77zM177.31 545.46h9.07v9.07h-9.07zM195.16 545.46h62.62v9.07h-62.62zM329.02 545.46h18.00v9.07h-18.00zM355.79 545.46h9.07v9.07h-9.07zM141.62 554.38h18.00v9.07h-18.00zM177.31 554.38h35.85v9.07h-35.85zM221.93 554.38h44.77v9.07h-44.77zM329.02 554.38h18.00v9.07h-18.00zM409.34 554.38h9.07v9.07h-9.07zM132.69 563.31h18.00v9.07h-18.00zM186.24 563.31h9.07v9.07h-9.07zM213.01 563.31h18.00v9.07h-18.00zM302.25 563.31h18.00v9.07h-18.00zM409.34 563.31h9.07v9.07h-9.07zM204.08 572.23h9.07v9.07h-9.07zM221.93 572.23h26.92v9.07h-26.92zM293.32 572.23h18.00v9.07h-18.00zM132.69 581.16h18.00v9.07h-18.00zM168.39 581.16h9.07v9.07h-9.07zM195.16 581.16h9.07v9.07h-9.07zM293.32 581.16h9.07v9.07h-9.07zM337.94 581.16h9.07v9.07h-9.07zM123.77 590.08h26.92v9.07h-26.92zM177.31 590.08h26.92v9.07h-26.92zM221.93 590.08h18.00v9.07h-18.00zM329.02 590.08h18.00v9.07h-18.00zM373.64 590.08h18.00v9.07h-18.00zM123.77 599.00h9.07v9.07h-9.07zM204.08 599.00h9.07v9.07h-9.07zM230.86 599.00h9.07v9.07h-9.07zM293.32 599.00h26.92v9.07h-26.92zM150.54 607.93h9.07v9.07h-9.07zM177.31 607.93h9.07v9.07h-9.07zM248.70 607.93h9.07v9.07h-9.07zM293.32 607.93h18.00v9.07h-18.00zM337.94 607.93h18.00v9.07h-18.00zM391.49 607.93h9.07v9.07h-9.07zM123.77 616.85h9.07v9.07h-9.07zM168.39 616.85h26.92v9.07h-26.92zM302.25 616.85h9.07v9.07h-9.07zM97.00 625.78h44.77v9.07h-44.77zM159.46 625.78h26.92v9.07h-26.92zM257.63 625.78h9.07v9.07h-9.07zM293.32 625.78h18.00v9.07h-18.00zM355.79 625.78h9.07v9.07h-9.07zM88.07 634.70h35.85v9.07h-35.85zM141.62 634.70h18.00v9.07h-18.00zM302.25 634.70h9.07v9.07h-9.07zM123.77 643.62h35.85v9.07h-35.85zM186.24 643.62h9.07v9.07h-9.07zM123.77 652.55h9.07v9.07h-9.07zM141.62 652.55h9.07v9.07h-9.07zM302.25 652.55h9.07v9.07h-9.07zM159.46 661.47h9.07v9.07h-9.07zM311.17 661.47h18.00v9.07h-18.00zM400.41 661.47h18.00v9.07h-18.00zM105.92 670.40h18.00v9.07h-18.00zM132.69 670.40h18.00v9.07h-18.00zM221.93 688.24h18.00v9.07h-18.00z"/>
<g fill="none" stroke="#1b8fff" stroke-width="1.5" stroke-linejoin="round" stroke-linecap="round">
<path d="M61.0 535.6C65.1 536.8 68.5 539.0 76.4 540.0C84.3 541.0 83.0 539.5 90.5 539.5C98.0 539.5 97.8 538.3 104.5 540.0C111.2 541.7 109.8 543.1 115.8 545.7C121.8 548.3 120.3 548.8 127.0 549.9C133.7 551.0 135.1 549.7 141.1 549.9C147.1 550.1 145.7 548.3 149.5 550.5C153.3 552.7 151.4 554.0 155.2 558.3C159.0 562.6 158.7 562.7 163.6 566.8C168.5 570.9 168.2 572.3 173.5 573.8C178.8 575.3 178.8 572.8 183.3 572.4C187.8 572.0 187.3 570.2 190.3 572.4C193.3 574.6 191.2 577.0 194.6 580.8C198.0 584.6 197.0 584.6 203.0 586.5C209.0 588.4 210.4 586.8 217.1 587.9C223.8 589.0 223.4 587.7 228.3 590.7C233.2 593.7 232.4 593.5 235.4 599.1C238.4 604.7 236.6 606.2 239.6 611.8C242.6 617.4 242.1 616.1 246.6 620.2C251.1 624.3 250.9 622.4 256.5 627.3C262.1 632.2 262.1 633.6 267.7 638.5C273.3 643.4 273.1 640.7 277.6 645.6C282.1 650.5 281.2 650.8 284.6 656.8C288.0 662.8 287.0 662.9 290.2 668.1C293.4 673.3 292.2 671.5 296.5 676.2C300.8 680.9 301.9 681.4 306.5 685.9C311.1 690.4 311.7 691.3 313.6 693.2"/>
<path d="M61.0 585.8C64.4 586.0 68.0 585.2 73.6 586.5C79.2 587.8 76.0 588.8 82.0 590.7C88.0 592.6 87.8 592.4 96.1 593.5C104.4 594.6 104.8 596.0 113.0 594.9C121.2 593.8 119.1 591.2 127.0 589.3C134.9 587.4 135.7 586.4 142.5 587.9C149.3 589.4 146.8 591.5 152.4 594.9C158.0 598.3 156.9 599.0 163.6 600.5C170.3 602.0 169.4 599.6 177.7 600.5C186.0 601.4 185.6 602.4 194.6 603.9C203.6 605.4 203.2 605.2 211.4 606.2C219.6 607.2 220.2 605.4 225.5 607.6C230.8 609.8 227.3 610.9 231.1 614.6C234.9 618.3 233.6 618.6 239.6 621.6C245.6 624.6 246.1 621.4 253.6 625.9C261.1 630.4 263.9 635.1 267.7 638.5"/>
<path d="M86.2 650.6C90.3 651.5 93.1 653.8 101.7 654.0C110.3 654.2 111.1 652.1 118.6 651.2C126.1 650.3 124.5 649.1 129.8 650.6C135.1 652.1 134.5 652.9 138.3 656.8C142.1 660.7 139.4 661.5 143.9 665.3C148.4 669.1 147.7 669.6 155.2 670.9C162.7 672.2 164.6 669.3 172.1 670.0C179.6 670.7 175.8 672.0 183.3 673.7C190.8 675.4 191.2 676.5 200.2 676.5C209.2 676.5 208.1 675.6 217.1 673.7C226.1 671.8 223.4 671.7 233.9 669.5C244.4 667.3 249.4 666.4 256.5 665.3C263.6 664.2 259.6 665.3 260.7 665.3"/>
<path d="M156.6 634.9C158.5 636.2 158.0 637.8 163.6 639.9C169.2 642.0 171.0 640.4 177.7 642.7C184.4 645.0 182.9 645.4 188.9 648.4C194.9 651.4 194.2 651.4 200.2 654.0C206.2 656.6 206.1 658.6 211.4 658.2C216.7 657.8 214.6 654.6 219.9 652.6C225.2 650.6 224.4 649.9 231.1 650.6C237.8 651.3 237.3 651.5 245.2 655.4C253.1 659.3 253.2 660.4 260.7 665.3C268.2 670.2 266.4 669.6 273.3 673.7C280.2 677.8 279.9 676.3 286.5 680.7C293.1 685.1 293.7 686.9 297.9 690.2C302.1 693.5 301.1 692.4 302.2 693.2"/>
<path d="M61.0 684.2C65.1 684.8 68.5 686.2 76.4 686.4C84.3 686.6 83.0 685.5 90.5 685.0C98.0 684.5 97.8 683.3 104.5 684.4C111.2 685.5 111.7 686.9 115.8 689.2C119.9 691.5 118.9 692.1 120.0 693.2"/>
<path d="M382.0 693.2C383.9 689.7 384.9 686.7 389.1 680.2C393.3 673.7 392.4 673.7 397.7 668.8C403.0 663.9 402.6 664.7 409.1 661.7C415.6 658.7 415.8 657.8 421.9 657.4C428.0 657.0 425.6 659.4 431.9 660.3C438.2 661.2 441.9 660.7 445.5 660.9"/>
</g>
<path d="M349.2 419.5L346.6 420.9L343.5 421.6L340.2 423.1L337.8 424.3L335.0 425.3L332.4 426.7L330.4 427.5L327.9 428.9L325.2 430.0L323.4 430.9L320.8 432.4L318.5 433.4L315.3 435.0L313.4 435.9L310.2 436.9L308.2 438.2L305.9 439.7L302.9 440.8L301.7 443.6L301.0 445.6L299.6 448.2L298.6 450.9L296.7 452.8L296.0 455.2L293.5 456.5L291.3 458.5L288.0 460.2L285.7 461.4L283.3 463.2L285.3 465.3L287.9 466.2L290.1 468.2L291.0 472.0L293.7 473.9L296.1 476.2L298.7 478.6L300.8 480.3L303.7 482.2L306.6 483.7L309.2 486.0L311.5 487.7L313.9 489.3L316.6 490.7L319.0 492.0L321.5 492.6L324.4 493.9L326.7 495.5L329.2 496.3L331.8 497.4L334.8 498.1L337.8 499.4L336.9 502.1L336.5 505.0L333.3 506.4L330.7 507.7L332.7 509.8L335.1 512.1L338.0 512.5L341.0 512.0L343.5 512.1L343.8 514.9L344.5 518.2L344.4 520.2L345.0 523.4L346.5 526.1L348.5 528.4L350.7 530.7L352.8 532.4L354.0 535.3L356.1 537.0L357.9 539.3L360.6 539.2L363.1 539.1L366.0 539.3L369.2 539.1L372.6 538.3L375.5 538.3L379.2 537.8L380.7 534.3L381.9 530.7L384.0 528.3L387.1 526.2L389.2 523.5L392.1 523.5L394.5 523.3L398.0 522.6L400.8 522.3L403.3 522.2L403.8 519.0L405.4 515.2L405.8 512.0L403.4 510.9L400.8 510.1L397.8 509.1L397.6 505.1L401.4 506.4L404.7 507.7L407.3 507.9L410.5 509.0L413.1 509.4L415.1 509.4L418.1 509.9L420.5 510.7L421.9 514.8L420.4 517.4L419.3 519.9L418.4 522.2L417.5 524.9L420.4 525.1L423.1 525.9L426.3 526.3L426.6 522.6L427.5 519.2L432.0 520.6L431.6 523.3L431.8 526.3L431.9 529.3L436.2 529.2L436.4 532.2L436.5 534.8L436.2 537.8L433.7 540.7L431.9 543.3L428.6 543.8L425.8 544.0L423.0 543.9L420.1 544.3L417.9 544.2L414.8 545.1L411.8 544.9L409.3 545.7L405.9 546.0L403.0 546.0L400.9 546.4L398.0 547.5L394.8 547.8L392.1 549.4L389.1 551.2L386.4 553.5L383.9 553.3L381.0 553.4L378.5 554.0L376.0 554.0L373.1 554.2L369.9 554.2L367.2 554.1L364.8 554.4L363.4 557.8L361.1 559.0L357.9 560.4L357.5 562.9L357.4 565.8L357.9 569.0L359.3 571.3L360.3 573.8L362.0 576.3L363.9 578.7L366.0 581.0L367.8 583.2L369.2 585.8L371.1 587.6L373.4 589.8L375.0 592.0L376.3 594.4L377.9 597.5L379.3 600.4L376.5 602.1L373.5 603.4L372.9 605.8L371.9 609.3L370.7 611.8L366.8 612.9L363.5 614.8L360.5 614.9L357.6 615.7L355.0 617.0L352.4 617.1L349.2 618.0L346.7 618.9L343.5 619.5L340.7 619.8L337.8 619.9L335.4 620.8L332.1 621.1L332.6 624.0L332.5 626.1L332.9 629.2L333.7 631.7L333.9 634.3L334.3 637.7L334.1 640.8L334.9 642.8L335.0 645.9L334.5 649.2L333.3 651.4L332.9 654.9L332.2 657.4L329.8 659.5L328.1 661.7L326.2 663.6L324.6 665.5L322.3 667.3L318.9 665.6L316.4 663.2L313.9 661.6L311.1 661.0L308.7 659.8L305.8 658.8L303.6 657.5L301.3 655.9L299.6 653.9L297.2 652.3L296.0 650.2L293.7 648.8L291.7 647.0L289.1 644.1L286.4 641.7L283.6 641.8L280.4 641.3L279.4 645.9L275.9 646.6L272.3 647.6L269.4 651.8L266.0 651.7L262.4 652.6L260.1 650.8L258.0 649.8L255.4 648.1L252.7 646.6L250.7 645.5L248.2 643.8L246.5 642.9L244.4 641.1L242.0 640.0L239.5 638.6L237.1 635.9L234.6 634.2L232.4 631.5L229.3 630.9L226.1 630.2L222.7 630.1L220.0 629.1L216.9 628.0L214.4 626.7L210.9 628.3L207.1 629.1L210.4 631.6L212.8 634.3L211.8 637.8L210.1 641.2L207.7 644.3L205.8 647.0L204.4 650.1L202.9 654.0L200.2 655.1L197.3 656.7L194.4 657.8L191.6 659.2L189.0 660.3L192.0 661.2L194.6 662.9L197.5 663.8L199.8 664.9L203.0 667.0L205.7 668.2L208.8 667.7L211.8 666.3L214.5 665.7L217.0 665.3L219.9 665.6L222.5 666.4L225.2 667.0L228.2 668.0L230.0 669.9L232.2 671.9L233.9 673.7L233.5 676.7L232.7 680.0L232.5 683.5L233.3 685.9L234.7 688.5L235.8 690.9L236.7 693.3" fill="none" stroke="#111" stroke-width="1.5" stroke-linejoin="round"/>
</g>
<rect x="221.8" y="536.5" width="8.8" height="8.8" fill="none" stroke="#000" stroke-width="1.7"/>
<text transform="translate(230.9,587.3) rotate(30.5)" font-size="14" font-weight="bold">Taor River</text>
<text x="440.3" y="443.9" font-size="15" text-anchor="end">AVHRR GIMMS</text>
<text x="76.8" y="453.2" font-size="27" font-weight="bold">B</text>
<rect x="60.7" y="418.6" width="384.5" height="274.5" fill="none" stroke="#2e2e2a" stroke-width="1.3"/>
</g>
<g id="mapBR">
<rect x="461.3" y="418.6" width="384.8" height="274.5" fill="#ffffc0"/>
<g clip-path="url(#cBR)">
<path fill="#b5db86" d="M473.6 475.4h2.1v1.2h-2.1zM475.7 478.1h1.1v1.3h-1.1zM479.2 498.8h0.9v1.1h-0.9zM463.7 500.5h1.8v0.8h-1.8zM488.6 515.8h1.7v1.4h-1.7zM465.6 421.1h1.5v0.9h-1.5zM466.9 443.6h0.8v1.2h-0.8zM473.6 503.5h1.5v1.4h-1.5zM475.3 485.7h1.4v1.1h-1.4zM488.9 518.8h2.0v1.5h-2.0zM470.2 442.5h1.2v0.9h-1.2zM482.5 459.5h2.0v1.2h-2.0zM488.4 504.2h0.8v1.0h-0.8zM486.4 466.4h2.2v1.2h-2.2zM463.1 482.4h1.9v1.1h-1.9zM463.4 452.5h2.1v1.5h-2.1zM464.8 444.2h0.9v0.9h-0.9zM483.5 437.2h1.6v1.2h-1.6zM466.8 492.5h1.0v1.4h-1.0zM464.7 461.5h1.1v1.1h-1.1zM488.6 499.5h1.2v1.6h-1.2zM466.9 458.7h2.0v1.4h-2.0zM464.3 518.4h1.1v1.0h-1.1zM483.0 452.5h1.2v0.9h-1.2zM464.0 477.6h1.1v1.4h-1.1zM471.3 464.7h2.1v1.3h-2.1zM477.6 506.2h1.1v0.9h-1.1zM486.9 501.3h1.1v1.0h-1.1zM482.2 513.2h1.1v1.7h-1.1zM486.0 479.9h1.4v0.9h-1.4zM462.5 515.5h1.1v1.5h-1.1zM468.4 501.8h1.6v1.1h-1.6zM466.5 491.5h0.9v1.0h-0.9zM476.8 504.7h1.7v1.1h-1.7zM487.3 439.9h0.8v1.1h-0.8zM474.0 425.5h1.0v1.2h-1.0zM477.4 432.3h1.3v1.7h-1.3zM488.6 485.0h1.8v1.4h-1.8zM465.5 422.7h0.8v1.7h-0.8zM481.2 515.6h0.8v1.4h-0.8zM474.9 492.2h1.2v1.8h-1.2zM463.2 473.8h1.8v1.7h-1.8zM481.7 489.5h1.9v1.7h-1.9zM470.8 487.7h2.1v1.6h-2.1zM472.7 498.4h2.0v1.3h-2.0zM478.7 457.5h1.6v1.4h-1.6zM463.2 483.1h2.2v1.6h-2.2zM481.5 458.2h1.8v1.4h-1.8zM473.9 503.1h0.9v1.5h-0.9zM462.1 479.6h1.5v1.0h-1.5zM480.7 468.9h1.7v1.7h-1.7zM468.6 420.4h1.2v1.5h-1.2zM466.6 436.2h2.1v1.4h-2.1zM473.7 508.5h1.3v1.4h-1.3zM466.6 462.3h1.9v1.7h-1.9zM485.8 457.9h1.6v1.1h-1.6zM464.8 468.8h2.0v1.6h-2.0zM481.3 514.5h1.2v1.0h-1.2zM474.1 446.9h1.1v1.2h-1.1zM478.9 468.6h1.2v1.6h-1.2zM489.0 464.8h0.9v0.8h-0.9zM485.5 423.5h1.8v1.3h-1.8zM470.2 498.7h0.8v0.9h-0.8zM473.8 422.0h2.0v1.0h-2.0zM465.1 424.1h1.7v1.2h-1.7zM478.7 484.6h1.9v1.7h-1.9zM480.4 439.4h1.5v1.0h-1.5zM468.7 453.9h1.8v1.3h-1.8zM478.5 494.8h1.4v1.6h-1.4zM486.3 428.0h2.1v1.5h-2.1zM464.8 464.5h1.7v1.7h-1.7zM471.5 476.1h2.0v1.6h-2.0zM487.6 465.9h1.7v1.0h-1.7zM481.4 501.1h1.7v1.5h-1.7zM466.9 509.1h2.2v1.7h-2.2zM476.4 498.2h1.2v1.7h-1.2zM485.5 454.2h0.9v1.2h-0.9zM476.7 496.4h1.5v0.8h-1.5zM483.7 425.9h1.9v1.0h-1.9zM470.9 498.3h1.0v0.9h-1.0zM475.5 491.6h2.0v1.5h-2.0zM487.4 468.8h2.1v0.9h-2.1zM467.6 471.9h1.2v1.5h-1.2zM478.9 471.6h2.0v1.3h-2.0zM469.7 457.3h2.0v1.7h-2.0zM466.8 504.4h2.2v1.3h-2.2zM477.3 439.5h1.6v1.3h-1.6zM477.9 422.1h2.2v1.3h-2.2zM472.4 499.5h1.6v1.3h-1.6zM480.6 426.0h1.6v1.2h-1.6zM488.2 511.7h1.2v1.3h-1.2zM464.6 462.5h1.9v1.7h-1.9zM474.8 451.0h1.1v1.4h-1.1zM487.0 432.5h1.9v0.8h-1.9zM466.6 442.2h1.8v1.1h-1.8zM471.5 481.2h0.9v1.5h-0.9zM464.9 470.6h1.2v1.0h-1.2zM476.2 463.1h1.3v1.2h-1.3zM476.3 435.3h1.1v1.4h-1.1zM478.9 472.3h2.0v1.4h-2.0zM485.1 442.5h1.8v1.6h-1.8zM486.7 450.7h1.2v1.7h-1.2zM467.1 519.4h2.0v0.9h-2.0zM468.1 492.2h1.2v0.9h-1.2zM484.3 461.7h1.9v0.9h-1.9zM472.9 488.0h0.8v1.0h-0.8zM480.0 510.7h2.2v0.9h-2.2zM475.4 495.1h1.5v1.5h-1.5zM466.8 426.6h0.9v0.8h-0.9zM476.6 471.0h1.6v0.9h-1.6zM466.2 439.5h2.0v1.8h-2.0zM487.5 428.7h0.9v1.7h-0.9zM474.3 495.8h1.3v1.2h-1.3zM475.6 462.6h1.6v0.8h-1.6zM481.1 503.8h1.1v1.2h-1.1zM482.2 460.1h1.1v1.0h-1.1zM475.3 420.8h2.1v1.6h-2.1zM480.9 505.5h1.7v1.2h-1.7zM477.7 469.6h2.2v1.6h-2.2zM468.3 510.4h1.8v1.5h-1.8zM483.8 459.7h2.1v1.6h-2.1zM480.5 496.1h1.9v1.2h-1.9zM481.6 426.4h1.3v1.3h-1.3zM467.6 513.9h1.7v1.1h-1.7zM479.7 476.4h1.5v1.2h-1.5zM489.1 483.5h1.8v1.5h-1.8zM488.6 421.5h1.7v1.5h-1.7zM468.8 459.7h0.9v1.0h-0.9zM471.9 429.0h1.2v1.7h-1.2zM476.3 470.1h2.2v1.3h-2.2zM488.9 483.4h1.9v0.9h-1.9zM478.3 495.1h0.9v1.7h-0.9zM466.0 466.5h1.0v1.3h-1.0zM478.1 425.3h2.1v1.2h-2.1zM476.1 479.2h1.3v1.1h-1.3zM479.7 475.3h1.2v1.5h-1.2zM469.7 421.0h1.1v0.8h-1.1zM465.7 494.6h1.3v1.7h-1.3zM481.9 424.2h2.2v1.7h-2.2zM463.4 509.9h1.4v1.3h-1.4zM488.5 443.5h1.5v1.7h-1.5zM481.2 466.0h2.2v1.6h-2.2zM478.1 430.9h1.7v1.2h-1.7zM466.9 424.7h1.5v0.9h-1.5zM473.7 486.3h1.4v1.1h-1.4zM477.4 461.3h1.9v1.3h-1.9zM489.0 514.7h1.8v1.0h-1.8zM464.2 508.6h1.9v1.4h-1.9zM471.2 446.5h1.8v1.3h-1.8zM477.6 482.8h1.9v1.0h-1.9zM467.9 517.2h2.1v1.6h-2.1zM462.5 425.5h1.2v1.2h-1.2zM478.7 429.8h1.6v0.9h-1.6zM463.6 486.9h1.6v1.4h-1.6zM471.9 467.3h1.1v1.1h-1.1zM482.4 503.4h0.9v0.9h-0.9zM483.7 481.9h1.9v1.0h-1.9zM472.9 445.2h1.9v1.2h-1.9zM479.7 518.3h1.3v1.3h-1.3zM482.2 511.5h1.4v1.2h-1.4zM464.3 507.1h0.9v0.9h-0.9zM476.9 467.9h1.8v1.1h-1.8zM483.2 426.9h1.1v1.4h-1.1zM463.4 449.6h1.8v1.5h-1.8zM469.3 433.5h1.3v1.5h-1.3zM471.4 431.1h1.8v1.3h-1.8zM486.7 513.4h2.1v1.2h-2.1zM483.9 449.9h1.2v1.2h-1.2zM487.6 508.9h1.1v1.1h-1.1zM471.6 455.7h1.4v1.2h-1.4zM466.5 475.7h1.9v1.3h-1.9zM484.9 475.5h1.0v1.5h-1.0zM486.2 447.5h0.8v1.3h-0.8zM476.2 476.0h2.2v1.4h-2.2zM483.7 425.6h1.6v1.6h-1.6zM463.4 427.3h1.8v1.7h-1.8zM463.9 482.7h1.0v1.5h-1.0zM479.6 443.8h1.1v1.5h-1.1zM475.9 495.9h1.4v1.1h-1.4zM488.4 486.6h1.5v1.3h-1.5zM481.1 490.2h2.1v1.2h-2.1zM484.1 485.9h2.0v1.6h-2.0zM484.3 508.2h2.1v1.4h-2.1zM475.7 490.4h1.9v1.2h-1.9zM472.9 433.7h1.8v1.8h-1.8zM472.0 436.2h1.1v1.2h-1.1zM469.7 516.4h0.9v1.1h-0.9zM464.3 484.3h1.9v1.0h-1.9zM462.9 465.0h1.6v1.7h-1.6zM462.5 430.4h1.1v1.0h-1.1zM467.8 491.2h1.6v1.0h-1.6zM466.7 447.3h1.0v1.5h-1.0zM469.8 474.2h1.9v1.3h-1.9zM468.3 508.2h2.1v1.1h-2.1zM476.6 515.2h1.5v1.0h-1.5zM462.4 514.2h1.9v1.2h-1.9zM476.2 470.7h1.2v1.8h-1.2zM480.0 443.1h0.8v1.3h-0.8zM464.5 500.1h1.8v1.2h-1.8zM462.8 499.5h2.1v1.7h-2.1zM464.2 500.2h2.3v1.3h-2.3zM466.3 499.4h1.0v2.1h-1.0zM467.2 499.8h2.1v1.1h-2.1zM465.8 499.7h1.6v1.6h-1.6zM463.0 430.8h1.3v1.7h-1.3zM464.5 430.4h1.2v2.1h-1.2zM462.8 430.9h1.4v1.6h-1.4zM466.5 496.5h1.5v1.6h-1.5zM467.6 497.8h1.0v1.5h-1.0zM468.9 497.3h1.3v1.7h-1.3zM473.6 467.5h1.4v1.5h-1.4zM475.0 467.0h1.4v1.4h-1.4zM473.7 467.6h1.3v2.0h-1.3zM471.9 467.0h2.2v1.7h-2.2zM474.0 467.2h1.1v1.2h-1.1zM467.1 419.4h1.2v1.2h-1.2zM477.0 467.1h1.4v1.5h-1.4zM476.0 468.1h1.5v1.9h-1.5zM476.9 469.7h1.8v1.0h-1.8zM475.6 469.3h1.4v1.8h-1.4zM477.6 474.4h1.2v2.0h-1.2zM478.3 473.5h1.7v1.5h-1.7zM479.4 473.1h2.3v1.7h-2.3zM480.9 473.3h2.1v1.3h-2.1zM480.0 472.4h1.1v1.3h-1.1zM471.2 435.9h1.5v1.6h-1.5zM470.0 434.6h2.2v1.7h-2.2zM471.2 436.0h1.7v1.3h-1.7zM471.5 437.6h1.8v1.2h-1.8zM472.7 435.9h1.4v2.2h-1.4zM474.2 436.2h1.2v1.7h-1.2zM473.0 435.5h1.0v1.2h-1.0zM471.9 445.3h1.5v1.8h-1.5zM473.3 446.5h1.0v1.3h-1.0zM471.4 446.9h1.7v1.2h-1.7zM473.2 446.6h1.3v1.7h-1.3zM471.4 447.4h1.9v1.2h-1.9zM472.7 447.9h1.8v1.6h-1.8zM478.0 463.5h2.3v2.1h-2.3zM479.4 462.6h1.5v1.6h-1.5zM480.1 461.4h1.7v1.6h-1.7zM481.5 461.1h1.4v1.1h-1.4zM479.4 430.9h2.0v1.3h-2.0zM480.5 429.3h1.7v2.2h-1.7zM479.4 428.4h1.7v2.2h-1.7zM478.2 428.1h1.3v1.4h-1.3zM475.4 473.5h1.8v1.1h-1.8zM473.8 474.0h2.2v1.4h-2.2zM474.7 472.7h1.6v1.3h-1.6zM473.0 472.2h2.2v2.2h-2.2zM485.4 443.2h2.3v1.3h-2.3zM487.5 442.9h1.2v2.1h-1.2zM488.8 443.2h1.4v2.2h-1.4zM489.9 443.8h1.9v1.2h-1.9zM488.7 444.3h1.1v1.3h-1.1zM487.5 445.6h1.9v1.3h-1.9zM477.6 468.4h2.1v1.8h-2.1zM476.6 468.9h1.4v2.2h-1.4zM478.3 468.5h1.1v2.3h-1.1zM476.6 469.3h1.7v1.7h-1.7zM475.6 468.2h1.3v2.0h-1.3zM470.7 510.3h1.4v1.7h-1.4zM472.3 511.0h1.0v1.6h-1.0zM472.8 511.9h1.5v2.2h-1.5zM473.0 443.8h2.0v1.7h-2.0zM474.4 443.1h2.1v1.9h-2.1zM473.8 444.9h2.0v1.2h-2.0zM475.6 444.5h1.3v1.6h-1.3zM477.0 444.6h1.3v1.6h-1.3zM465.9 444.0h1.8v1.9h-1.8zM465.3 445.7h1.2v1.0h-1.2zM466.1 474.4h2.0v1.1h-2.0zM467.4 475.1h2.0v1.3h-2.0zM466.2 475.7h1.4v1.1h-1.4zM481.9 457.7h2.1v1.2h-2.1zM481.2 456.4h1.2v1.9h-1.2zM462.1 437.3h2.3v1.1h-2.3zM462.8 437.3h1.1v1.3h-1.1zM477.6 484.7h1.6v1.1h-1.6zM477.3 486.1h2.0v1.3h-2.0zM476.0 485.5h1.7v1.3h-1.7zM477.8 419.3h2.1v1.5h-2.1zM474.7 481.2h1.4v1.6h-1.4zM475.9 482.3h1.3v1.5h-1.3zM474.0 482.3h1.9v1.5h-1.9zM472.8 482.2h1.3v1.5h-1.3zM472.2 437.7h1.2v2.2h-1.2zM473.0 437.5h2.2v1.0h-2.2zM472.1 436.6h1.5v1.1h-1.5zM473.4 437.2h1.7v1.1h-1.7zM473.3 470.1h1.8v1.0h-1.8zM475.0 469.4h1.2v1.9h-1.2zM473.2 468.7h1.9v1.9h-1.9zM476.7 454.3h2.1v1.3h-2.1zM475.7 455.0h1.4v1.3h-1.4zM477.2 454.7h1.7v2.1h-1.7zM478.8 454.8h1.4v1.9h-1.4zM471.0 423.7h1.3v1.8h-1.3zM470.1 425.2h1.6v1.5h-1.6zM468.8 424.5h1.6v1.4h-1.6zM467.4 424.1h1.5v1.6h-1.5zM466.4 423.6h1.1v1.4h-1.1zM465.4 422.6h1.2v1.8h-1.2zM465.0 490.8h1.1v1.5h-1.1zM463.2 490.6h1.6v1.8h-1.6zM462.2 491.4h1.0v1.5h-1.0zM463.5 491.6h1.7v1.3h-1.7zM466.5 434.2h2.3v1.4h-2.3zM465.4 434.8h1.9v1.9h-1.9zM466.3 435.8h2.3v2.1h-2.3zM465.2 435.5h1.7v1.5h-1.7zM463.9 434.4h2.0v1.7h-2.0zM462.8 434.4h1.2v1.7h-1.2zM475.5 465.8h1.9v1.1h-1.9zM474.8 466.4h1.2v2.1h-1.2zM476.4 467.2h1.1v1.3h-1.1zM472.7 456.4h1.4v1.4h-1.4zM473.8 455.6h2.1v2.1h-2.1zM475.2 454.9h1.8v2.1h-1.8zM476.9 454.9h1.2v1.5h-1.2zM475.3 455.1h1.0v1.8h-1.0zM476.0 455.0h2.3v1.2h-2.3zM485.9 505.0h1.6v1.2h-1.6zM487.7 504.6h1.2v1.8h-1.2zM486.0 504.5h1.3v1.6h-1.3zM477.5 519.6h1.1v1.2h-1.1zM475.5 519.0h2.3v1.3h-2.3zM474.3 518.4h2.0v1.5h-2.0zM473.2 518.9h1.7v1.9h-1.7zM469.0 524.6h2.1v1.9h-2.1zM469.0 526.4h1.0v1.2h-1.0zM467.1 526.0h2.0v1.4h-2.0zM469.1 526.2h1.0v1.3h-1.0zM473.0 480.6h1.5v2.0h-1.5zM473.8 479.4h2.0v2.3h-2.0zM472.9 478.6h1.9v1.3h-1.9zM474.5 479.5h1.0v1.7h-1.0zM472.5 479.3h1.9v2.1h-1.9zM471.2 479.0h1.8v1.5h-1.8zM488.3 483.5h1.3v2.0h-1.3zM489.5 484.2h1.9v1.2h-1.9zM488.1 484.0h1.6v1.0h-1.6zM489.6 484.1h1.5v1.4h-1.5zM488.7 485.5h2.1v1.4h-2.1zM490.6 484.5h1.1v2.3h-1.1zM467.5 490.2h1.0v2.3h-1.0zM465.9 490.1h1.4v1.2h-1.4zM465.0 491.1h1.7v1.6h-1.7zM466.3 490.4h1.7v1.3h-1.7zM471.7 494.6h1.6v2.1h-1.6zM473.0 494.5h2.0v2.0h-2.0zM474.8 494.9h1.2v1.2h-1.2zM473.3 494.7h1.0v2.1h-1.0zM471.2 495.1h2.1v1.8h-2.1zM468.8 494.9h1.2v1.1h-1.2zM467.3 494.3h1.2v1.7h-1.2zM466.2 493.3h1.2v1.7h-1.2zM465.1 494.1h1.1v1.8h-1.1zM463.6 494.5h1.4v1.0h-1.4zM462.4 493.2h1.7v2.2h-1.7zM463.5 498.1h1.9v2.2h-1.9zM462.1 497.6h2.0v2.0h-2.0zM463.6 498.2h2.2v1.2h-2.2zM465.2 496.6h1.1v2.3h-1.1zM465.9 498.0h2.1v1.5h-2.1zM466.8 496.4h1.8v2.2h-1.8zM469.7 489.3h1.2v1.5h-1.2zM471.3 488.8h1.1v1.8h-1.1zM469.5 489.0h1.4v1.8h-1.4zM470.6 489.5h2.3v1.3h-2.3zM469.4 488.8h1.9v1.2h-1.9zM471.1 489.2h1.4v1.0h-1.4zM469.8 489.5h1.0v1.4h-1.0zM471.2 488.8h1.1v1.9h-1.1zM470.8 487.3h1.6v1.9h-1.6zM469.7 486.6h1.4v1.5h-1.4zM468.5 487.9h2.0v1.6h-2.0zM465.8 497.1h1.2v1.0h-1.2zM464.3 496.8h1.2v1.9h-1.2zM465.6 496.2h1.1v1.1h-1.1zM463.9 496.3h1.6v2.1h-1.6zM465.6 496.4h1.5v1.1h-1.5zM467.1 495.5h1.0v1.3h-1.0zM465.2 495.2h1.7v1.2h-1.7zM466.6 495.2h2.1v1.4h-2.1zM470.0 497.9h2.1v1.9h-2.1zM471.8 497.2h1.4v2.0h-1.4zM470.2 498.1h1.6v1.3h-1.6zM471.5 497.3h1.7v1.7h-1.7zM472.8 497.4h1.9v2.3h-1.9zM474.5 497.9h1.4v1.6h-1.4zM472.9 499.1h2.2v1.6h-2.2zM471.5 499.2h1.6v1.5h-1.6zM467.4 499.5h1.2v1.6h-1.2zM468.4 500.0h2.0v1.6h-2.0zM470.2 500.1h1.3v1.0h-1.3zM471.3 500.7h1.6v1.2h-1.6zM472.5 501.2h1.1v1.9h-1.1zM463.0 496.1h2.2v1.4h-2.2zM462.3 495.1h1.0v1.8h-1.0zM462.6 494.6h1.6v1.4h-1.6zM468.0 499.4h2.2v2.2h-2.2zM469.5 499.0h2.2v2.0h-2.2zM468.2 499.9h1.7v1.2h-1.7zM469.0 498.3h1.3v1.7h-1.3zM469.7 500.0h1.4v1.5h-1.4zM468.4 500.6h1.2v1.1h-1.2zM466.9 501.4h2.1v1.6h-2.1zM466.0 501.4h1.2v2.3h-1.2zM467.6 500.9h1.2v1.9h-1.2zM468.7 500.0h1.8v2.1h-1.8zM470.3 499.5h1.5v1.8h-1.5zM468.7 500.3h1.8v1.5h-1.8zM467.2 499.4h2.1v2.0h-2.1zM466.0 500.4h1.8v1.3h-1.8zM471.6 498.5h1.4v1.5h-1.4zM472.7 499.0h2.2v1.1h-2.2zM471.3 498.6h2.0v1.3h-2.0zM470.2 498.1h1.3v1.4h-1.3zM468.8 498.3h1.4v1.9h-1.4zM470.0 499.6h1.4v1.2h-1.4zM468.8 499.0h1.1v2.0h-1.1zM467.1 499.3h1.8v1.4h-1.8zM465.9 499.4h1.5v1.5h-1.5zM467.2 499.9h2.1v1.7h-2.1zM466.0 500.2h2.1v1.1h-2.1zM530.1 443.2h2.0v1.7h-2.0zM528.7 444.0h2.1v1.5h-2.1zM530.8 443.8h1.1v1.6h-1.1zM517.0 448.8h1.7v2.0h-1.7zM518.4 448.5h1.6v1.2h-1.6zM520.1 447.9h1.1v1.4h-1.1zM518.1 448.5h2.0v1.6h-2.0zM519.8 448.3h1.4v1.5h-1.4zM518.8 447.4h1.1v1.0h-1.1zM519.0 448.4h2.2v1.7h-2.2zM531.9 442.0h1.5v1.8h-1.5zM530.5 442.8h1.6v1.6h-1.6zM532.1 443.7h1.1v1.3h-1.1zM530.0 443.5h2.3v1.8h-2.3zM531.6 442.8h2.0v2.3h-2.0zM528.9 444.0h1.7v2.0h-1.7zM530.5 444.2h1.7v1.9h-1.7zM531.5 445.2h1.8v1.6h-1.8zM511.0 440.7h2.0v1.7h-2.0zM512.3 441.8h1.8v1.2h-1.8zM514.0 441.8h1.2v1.7h-1.2zM521.3 440.1h1.8v1.9h-1.8zM519.7 439.9h2.2v1.6h-2.2zM528.6 432.2h1.4v1.1h-1.4zM529.8 432.1h2.0v1.8h-2.0zM528.5 431.2h2.0v1.8h-2.0zM530.2 432.2h1.1v1.5h-1.1zM528.4 431.9h1.5v2.1h-1.5zM530.0 432.0h1.3v1.1h-1.3zM494.7 441.3h1.2v1.4h-1.2zM495.9 442.5h1.0v1.2h-1.0zM493.6 447.0h2.2v1.7h-2.2zM492.4 446.2h2.0v1.8h-2.0zM493.7 447.0h2.3v1.6h-2.3zM492.7 447.8h1.8v2.0h-1.8zM491.8 449.0h2.2v2.1h-2.2zM491.2 450.0h1.0v1.8h-1.0zM491.9 448.5h1.9v2.0h-1.9zM511.3 435.1h1.4v1.5h-1.4zM509.9 434.9h1.1v2.0h-1.1zM510.7 434.0h2.1v2.0h-2.1zM524.2 436.8h1.0v1.6h-1.0zM523.2 435.5h1.0v1.8h-1.0zM521.6 436.3h1.7v1.7h-1.7zM520.7 441.7h1.5v1.8h-1.5zM522.3 441.3h1.3v2.0h-1.3zM520.6 441.9h1.8v2.0h-1.8zM521.8 442.1h2.3v2.0h-2.3zM517.2 445.7h1.2v1.1h-1.2zM518.2 445.0h2.0v1.7h-2.0zM517.1 445.9h1.4v1.1h-1.4zM538.5 451.8h2.0v1.6h-2.0zM540.5 451.9h1.1v1.6h-1.1zM541.7 451.6h1.4v1.9h-1.4zM540.3 452.2h1.1v1.1h-1.1zM484.4 437.1h1.7v2.0h-1.7zM485.9 437.4h1.7v1.2h-1.7zM484.5 436.7h1.4v2.2h-1.4zM482.7 437.0h2.0v1.2h-2.0zM481.9 435.5h1.8v1.8h-1.8zM481.0 434.9h1.5v1.2h-1.5zM505.6 439.6h1.5v2.2h-1.5zM507.2 439.7h1.3v1.6h-1.3zM505.9 438.8h1.2v1.7h-1.2zM507.4 438.9h1.3v1.8h-1.3zM540.9 441.8h1.4v1.8h-1.4zM539.2 442.7h2.2v1.3h-2.2zM537.7 442.9h2.2v1.2h-2.2zM498.8 437.2h1.3v1.8h-1.3zM499.9 437.1h2.1v2.0h-2.1zM501.8 437.6h1.3v1.4h-1.3zM507.2 436.4h1.1v1.1h-1.1zM508.8 435.6h1.1v2.1h-1.1zM509.8 436.6h1.8v1.0h-1.8zM511.1 442.5h1.3v1.0h-1.3zM509.3 442.7h2.2v2.2h-2.2zM523.5 435.3h2.0v1.5h-2.0zM522.2 435.5h1.5v1.1h-1.5zM523.7 434.6h1.3v1.6h-1.3zM524.9 434.8h1.9v1.9h-1.9zM526.1 433.8h1.9v2.2h-1.9zM527.3 433.0h1.7v2.2h-1.7zM525.5 444.0h1.9v1.8h-1.9zM527.2 444.5h1.5v1.9h-1.5zM525.8 444.5h1.1v1.9h-1.1zM526.9 444.8h1.8v1.8h-1.8zM474.1 438.4h1.6v2.1h-1.6zM475.7 438.1h1.1v1.3h-1.1zM474.0 438.8h2.1v2.2h-2.1zM475.6 439.1h1.9v1.8h-1.9zM476.7 440.2h2.2v1.1h-2.2zM478.0 440.6h2.0v1.4h-2.0zM541.4 434.6h1.1v1.8h-1.1zM542.8 434.8h1.4v1.1h-1.4zM542.3 436.0h1.3v1.7h-1.3zM540.5 436.0h1.9v2.1h-1.9zM539.1 435.4h1.7v2.3h-1.7zM541.0 434.8h1.0v2.1h-1.0zM541.9 435.8h2.0v1.4h-2.0zM521.3 445.0h1.2v1.2h-1.2zM519.4 444.2h2.0v1.7h-2.0zM518.1 444.3h1.8v1.9h-1.8zM517.1 444.8h1.1v1.4h-1.1zM515.9 445.1h1.1v1.8h-1.1zM517.3 445.3h1.8v2.2h-1.8zM516.0 444.7h2.1v1.8h-2.1zM551.4 433.7h1.6v1.1h-1.6zM552.9 433.3h1.5v1.0h-1.5zM554.5 432.9h1.2v1.3h-1.2zM518.5 439.0h1.5v0.9h-1.5zM511.6 437.2h1.1v1.2h-1.1zM517.7 432.5h1.9v1.1h-1.9zM512.7 437.4h1.7v1.1h-1.7zM528.2 440.0h1.3v1.5h-1.3zM529.5 430.9h1.4v1.3h-1.4zM530.3 439.4h1.7v0.9h-1.7zM535.8 435.8h1.1v1.1h-1.1zM523.1 441.6h0.8v1.0h-0.8zM539.0 439.1h1.8v1.3h-1.8zM529.6 441.5h1.0v1.1h-1.0zM513.6 429.8h1.8v1.5h-1.8zM517.8 440.6h1.2v1.1h-1.2zM519.9 443.9h1.0v1.5h-1.0zM520.1 440.3h1.0v1.5h-1.0zM533.1 443.6h1.1v1.0h-1.1zM530.3 447.4h1.7v1.1h-1.7zM518.4 452.3h1.6v1.0h-1.6zM513.5 445.2h1.4v1.5h-1.4zM525.5 448.4h1.1v1.6h-1.1zM519.2 438.2h1.0v1.6h-1.0zM516.3 441.9h1.6v0.8h-1.6zM493.9 443.3h1.7v1.2h-1.7zM513.8 433.2h1.9v1.5h-1.9zM520.9 431.8h1.0v1.1h-1.0zM538.6 438.9h1.3v0.8h-1.3zM523.8 448.6h1.4v0.8h-1.4zM513.7 438.9h1.2v0.9h-1.2zM547.0 433.6h1.0v1.1h-1.0zM528.6 431.5h1.3v1.6h-1.3zM510.3 438.9h0.9v1.5h-0.9zM545.7 436.3h1.8v1.5h-1.8zM516.3 446.5h2.0v1.1h-2.0zM543.4 441.5h1.5v1.1h-1.5zM494.4 435.7h1.7v1.6h-1.7zM546.3 445.4h1.6v1.0h-1.6zM527.8 449.8h1.7v1.4h-1.7zM523.6 436.9h1.8v0.9h-1.8zM534.2 437.9h1.4v1.6h-1.4zM494.8 432.4h1.0v1.1h-1.0zM494.7 437.7h1.7v1.6h-1.7zM537.2 447.6h2.0v1.4h-2.0zM502.6 439.2h1.3v1.2h-1.3zM512.4 448.0h1.2v1.0h-1.2zM540.6 444.6h1.2v1.6h-1.2zM529.3 436.1h1.0v0.8h-1.0zM506.6 436.8h1.4v1.2h-1.4zM499.2 430.3h0.9v1.0h-0.9zM538.0 440.6h1.2v1.1h-1.2zM506.1 437.0h0.9v1.2h-0.9zM545.1 438.4h1.7v1.1h-1.7zM505.1 437.7h1.2v1.2h-1.2zM514.4 435.1h0.8v1.2h-0.8zM508.0 442.0h1.0v1.3h-1.0zM510.0 439.6h0.9v1.3h-0.9zM526.6 445.6h1.5v1.5h-1.5zM500.8 441.5h1.3v1.6h-1.3zM508.9 446.2h1.6v1.1h-1.6zM511.4 443.1h1.1v1.3h-1.1zM526.8 435.7h1.9v0.8h-1.9zM500.7 439.9h1.2v1.5h-1.2zM526.5 430.7h1.0v1.1h-1.0zM524.9 440.6h1.7v1.3h-1.7zM506.7 438.5h1.2v1.6h-1.2zM515.8 436.5h2.0v1.3h-2.0zM528.3 437.5h1.5v1.1h-1.5zM502.1 438.7h1.1v1.4h-1.1zM532.4 441.3h1.4v1.6h-1.4zM523.3 441.0h1.7v1.0h-1.7zM496.0 438.6h1.4v0.8h-1.4zM519.2 441.3h1.2v1.2h-1.2zM524.9 439.6h0.9v1.6h-0.9zM525.8 450.5h1.0v1.0h-1.0zM516.2 440.0h1.0v1.3h-1.0zM517.1 450.6h1.8v1.1h-1.8zM511.0 438.0h1.9v1.6h-1.9zM481.8 440.1h1.6v1.1h-1.6zM491.2 429.3h1.5v0.8h-1.5zM502.8 429.8h1.7v1.2h-1.7zM530.0 447.0h1.1v1.4h-1.1zM555.8 425.8h2.0v1.4h-2.0zM562.5 419.9h1.9v0.9h-1.9zM571.5 427.2h0.8v1.2h-0.8zM556.1 426.7h1.5v1.0h-1.5zM570.5 424.5h1.5v1.2h-1.5zM563.8 422.8h1.2v1.5h-1.2zM564.7 424.8h1.0v1.6h-1.0zM568.9 421.6h1.2v1.1h-1.2zM573.1 419.6h1.9v1.5h-1.9zM564.0 422.4h1.9v0.9h-1.9zM565.3 421.0h0.8v1.3h-0.8zM565.2 428.6h1.0v1.3h-1.0zM564.0 423.8h1.1v1.0h-1.1zM566.4 419.3h1.9v0.9h-1.9zM566.6 425.9h1.2v1.0h-1.2zM565.3 423.3h1.4v0.9h-1.4zM563.7 425.1h1.4v1.6h-1.4zM564.5 420.9h2.0v1.0h-2.0zM567.8 426.6h1.7v1.4h-1.7zM557.4 423.0h1.2v1.6h-1.2zM553.3 424.4h1.3v1.6h-1.3zM562.8 426.1h1.5v1.2h-1.5zM570.9 419.3h1.0v1.4h-1.0zM560.5 422.8h0.9v1.5h-0.9zM573.3 423.3h1.5v0.9h-1.5zM524.7 500.7h1.1v1.4h-1.1zM566.5 484.1h1.5v1.1h-1.5zM553.3 455.0h1.6v1.2h-1.6zM555.0 528.3h1.2v1.2h-1.2zM518.9 471.9h1.4v0.9h-1.4zM618.8 528.5h1.4v1.2h-1.4zM531.7 509.0h1.6v1.0h-1.6zM567.4 498.5h1.0v0.7h-1.0zM521.2 486.6h1.4v1.3h-1.4zM531.6 454.7h1.2v0.8h-1.2zM530.3 483.6h1.5v0.8h-1.5zM520.2 482.0h1.3v0.8h-1.3zM578.3 490.1h1.8v1.4h-1.8zM574.7 447.5h1.3v0.9h-1.3zM532.7 446.2h1.5v1.2h-1.5zM532.1 460.2h1.8v1.1h-1.8zM582.8 461.5h1.7v1.2h-1.7zM560.5 449.7h1.2v0.7h-1.2zM524.8 509.9h0.8v0.9h-0.8zM540.5 526.6h0.9v1.0h-0.9zM563.2 443.7h1.3v0.8h-1.3zM537.5 468.5h1.8v1.0h-1.8zM535.4 469.2h1.0v0.8h-1.0zM537.4 501.8h1.1v0.9h-1.1zM504.1 510.4h1.0v0.9h-1.0zM601.1 526.8h1.3v0.8h-1.3zM600.0 508.2h0.7v0.9h-0.7zM599.8 482.1h0.9v1.4h-0.9zM524.7 455.5h1.5v1.4h-1.5zM584.5 441.4h0.7v0.9h-0.7zM579.4 525.7h0.8v1.2h-0.8zM580.2 442.2h1.7v0.9h-1.7zM544.3 510.7h1.3v1.2h-1.3zM506.5 495.4h0.9v1.3h-0.9zM592.2 497.7h1.4v1.4h-1.4zM599.0 504.1h1.1v0.7h-1.1zM619.6 445.2h0.7v1.1h-0.7zM618.6 479.7h0.9v0.7h-0.9zM518.8 472.2h1.1v0.9h-1.1zM604.6 529.5h1.8v0.8h-1.8zM583.0 454.2h1.2v1.1h-1.2zM537.4 509.9h0.9v1.3h-0.9zM591.5 496.2h0.8v0.8h-0.8zM596.3 525.7h1.0v1.2h-1.0zM590.5 517.8h0.8v0.9h-0.8zM507.0 501.8h1.1v1.2h-1.1zM519.3 496.9h1.0v1.0h-1.0zM570.4 524.9h0.9v1.3h-0.9zM505.3 455.6h1.5v0.8h-1.5zM600.5 519.4h0.9v1.2h-0.9zM577.3 527.5h1.2v1.0h-1.2zM604.5 463.5h1.7v1.0h-1.7zM548.1 514.8h1.5v0.8h-1.5zM578.5 528.4h1.1v1.1h-1.1zM578.2 504.3h1.1v1.0h-1.1zM520.7 495.7h1.1v1.3h-1.1zM504.8 507.7h0.9v1.3h-0.9zM598.3 471.6h0.8v0.9h-0.8zM524.1 527.7h1.6v0.7h-1.6zM500.4 489.8h1.2v1.1h-1.2zM600.5 514.7h0.8v1.4h-0.8zM554.7 481.9h0.9v0.9h-0.9zM521.7 464.8h1.3v0.9h-1.3zM531.9 449.3h0.8v1.4h-0.8zM552.2 480.0h0.8v1.4h-0.8zM501.2 510.1h0.7v0.9h-0.7zM557.6 480.4h1.5v1.1h-1.5zM583.7 445.6h1.0v0.9h-1.0zM557.4 477.3h0.8v0.8h-0.8zM506.6 444.2h1.4v1.4h-1.4zM570.5 457.3h1.4v1.1h-1.4zM533.5 511.9h1.0v0.9h-1.0zM504.6 461.3h1.7v1.1h-1.7zM587.0 483.6h1.0v1.0h-1.0zM560.5 467.4h1.3v0.7h-1.3zM545.9 449.8h1.2v1.1h-1.2zM608.5 518.0h1.7v1.0h-1.7zM535.0 515.8h0.8v1.0h-0.8zM506.7 512.5h1.5v1.4h-1.5zM521.6 514.7h1.5v1.1h-1.5zM552.6 511.8h1.2v1.4h-1.2zM610.4 472.6h1.3v1.0h-1.3zM607.6 516.4h1.1v1.0h-1.1zM537.4 499.2h1.4v1.2h-1.4zM562.2 499.9h0.7v1.1h-0.7zM582.4 505.2h1.6v0.9h-1.6zM610.5 526.6h1.4v1.3h-1.4zM523.2 456.4h0.9v1.1h-0.9zM606.3 470.8h1.7v1.3h-1.7zM504.4 442.1h1.8v1.1h-1.8zM592.9 517.2h1.0v0.7h-1.0zM603.4 523.2h1.1v1.2h-1.1zM500.7 523.8h1.4v1.4h-1.4zM582.2 471.8h0.9v1.1h-0.9zM603.1 487.6h1.3v0.9h-1.3zM517.1 460.9h1.0v1.0h-1.0zM612.6 463.8h1.0v1.2h-1.0zM612.0 460.7h1.0v1.0h-1.0zM506.6 447.9h1.3v0.9h-1.3zM527.4 511.9h1.2v1.1h-1.2zM577.9 506.1h1.7v1.4h-1.7zM513.1 506.2h0.7v0.8h-0.7zM530.3 451.2h0.9v0.9h-0.9zM596.9 510.2h1.3v1.1h-1.3zM589.3 492.7h0.8v1.0h-0.8zM523.4 481.9h1.8v0.8h-1.8zM538.0 491.9h1.4v0.9h-1.4zM546.5 484.5h1.7v0.7h-1.7zM606.0 489.6h1.7v1.0h-1.7zM577.6 441.5h0.9v1.2h-0.9zM538.7 486.0h1.8v1.1h-1.8zM579.8 490.1h1.0v1.4h-1.0zM545.0 441.6h1.2v1.0h-1.2zM524.3 477.8h0.8v1.4h-0.8zM561.8 465.2h1.3v1.1h-1.3zM546.1 512.2h1.2v1.4h-1.2zM591.5 501.7h0.9v1.2h-0.9zM617.2 512.7h0.7v0.9h-0.7zM499.4 499.2h1.7v1.2h-1.7zM578.9 488.3h1.5v1.1h-1.5zM595.3 453.4h1.2v1.2h-1.2zM507.4 490.2h1.7v0.8h-1.7zM587.3 504.0h1.7v1.4h-1.7zM575.9 493.3h1.2v1.0h-1.2zM571.4 469.9h1.6v1.1h-1.6zM551.4 485.7h1.5v1.3h-1.5zM597.3 503.5h1.0v0.7h-1.0zM513.9 447.2h1.3v0.8h-1.3zM556.2 507.4h1.2v1.3h-1.2zM542.7 483.2h1.0v0.8h-1.0zM568.9 450.7h0.9v0.9h-0.9zM586.9 527.7h0.9v0.9h-0.9zM615.6 491.5h1.6v1.4h-1.6zM578.3 461.6h1.8v1.4h-1.8zM499.6 526.7h1.4v0.9h-1.4zM556.1 466.6h1.6v1.0h-1.6zM509.8 519.6h1.1v0.8h-1.1zM583.3 451.2h1.4v1.0h-1.4zM513.8 525.6h1.5v0.7h-1.5zM607.2 497.4h1.6v1.3h-1.6zM520.0 467.6h0.9v1.3h-0.9zM613.0 490.9h1.4v1.4h-1.4zM562.0 478.9h1.0v1.4h-1.0zM513.8 456.8h1.6v0.7h-1.6zM523.3 487.1h1.0v1.0h-1.0zM502.7 499.7h0.8v0.9h-0.8zM511.7 502.1h0.9v1.1h-0.9zM503.5 490.3h1.1v1.4h-1.1zM522.4 466.3h1.7v0.7h-1.7zM558.4 483.3h1.0v0.8h-1.0zM559.5 442.2h0.7v0.9h-0.7zM544.6 462.7h1.5v1.0h-1.5zM572.3 492.4h1.5v1.4h-1.5zM566.7 502.1h1.3v0.8h-1.3zM599.7 487.0h0.7v1.2h-0.7zM559.6 524.7h1.2v1.0h-1.2zM606.7 523.0h1.5v1.0h-1.5zM550.9 505.7h1.7v1.0h-1.7zM583.6 490.1h1.3v0.9h-1.3zM532.9 462.6h1.8v0.7h-1.8zM525.5 457.7h1.6v1.2h-1.6zM536.3 449.0h1.4v1.3h-1.4zM576.3 504.0h1.4v0.7h-1.4zM595.0 517.9h0.9v1.0h-0.9zM617.2 527.2h1.6v1.3h-1.6zM518.1 518.3h1.6v0.8h-1.6zM608.6 512.5h1.7v1.4h-1.7zM510.3 454.8h1.6v0.8h-1.6zM541.0 510.5h1.6v1.0h-1.6zM548.6 502.0h1.8v1.2h-1.8zM512.7 518.2h1.4v1.7h-1.4zM511.7 519.3h1.5v1.8h-1.5zM513.4 518.8h1.1v1.5h-1.1zM512.5 517.2h2.0v1.8h-2.0zM512.7 519.0h1.0v1.3h-1.0zM510.8 518.2h2.2v1.8h-2.2zM507.5 521.4h1.6v1.8h-1.6zM506.1 521.0h1.3v2.2h-1.3zM507.5 521.7h1.5v2.2h-1.5zM506.1 521.4h1.5v1.3h-1.5zM504.9 522.2h2.0v1.9h-2.0zM503.8 521.4h2.2v1.5h-2.2zM503.8 522.5h1.8v2.2h-1.8zM514.6 513.9h1.8v1.3h-1.8zM513.9 512.2h2.0v2.0h-2.0zM509.8 519.4h1.9v1.7h-1.9zM508.4 519.0h2.0v1.6h-2.0zM508.9 520.2h2.2v2.0h-2.2zM507.7 520.6h1.7v1.3h-1.7zM508.3 521.7h1.1v1.9h-1.1zM508.8 520.5h1.3v1.3h-1.3zM510.3 523.2h1.3v1.5h-1.3zM510.9 522.2h1.9v1.2h-1.9zM512.3 523.1h1.1v1.9h-1.1zM512.7 520.1h1.1v2.0h-1.1zM513.0 519.1h1.9v1.4h-1.9zM512.7 517.5h2.2v1.7h-2.2zM511.8 516.3h1.8v2.2h-1.8zM513.3 516.5h1.9v1.6h-1.9zM514.4 517.8h1.6v1.6h-1.6zM508.8 518.3h2.0v1.7h-2.0zM509.3 516.9h1.3v1.6h-1.3zM510.5 518.1h1.2v1.5h-1.2zM512.8 517.5h1.1v2.2h-1.1zM513.5 518.8h2.1v1.4h-2.1zM513.0 519.7h1.1v1.8h-1.1zM514.0 520.4h1.9v1.7h-1.9zM513.7 521.6h1.8v1.9h-1.8zM485.9 508.1h2.2v1.4h-2.2zM487.2 508.8h1.6v2.2h-1.6zM486.7 507.5h1.1v2.0h-1.1zM487.0 506.2h1.6v1.8h-1.6zM488.1 505.1h1.6v2.0h-1.6zM486.4 504.5h2.0v2.1h-2.0zM481.3 515.2h1.4v1.0h-1.4zM479.4 515.5h2.3v1.5h-2.3zM480.2 516.8h1.5v1.8h-1.5zM481.9 517.0h1.2v1.7h-1.2zM478.2 509.5h2.2v2.0h-2.2zM477.5 508.7h1.8v1.3h-1.8zM473.5 513.0h1.7v1.1h-1.7zM475.1 512.3h1.3v1.5h-1.3zM475.1 510.9h2.2v1.5h-2.2zM473.6 511.4h2.1v1.6h-2.1zM480.2 513.6h1.1v2.2h-1.1zM480.5 512.7h2.1v1.4h-2.1zM480.5 510.6h1.5v2.0h-1.5zM479.5 509.1h2.3v2.3h-2.3zM478.4 508.5h2.2v1.8h-2.2zM479.1 510.3h1.7v1.3h-1.7zM479.7 509.7h1.8v2.0h-1.8zM480.6 511.3h1.8v1.1h-1.8zM479.4 511.8h1.5v1.5h-1.5zM478.0 512.7h1.7v1.1h-1.7zM476.9 511.9h1.1v1.9h-1.1zM478.5 511.0h2.2v2.0h-2.2zM477.4 511.5h1.6v2.0h-1.6zM478.9 512.3h1.5v1.6h-1.5zM479.5 513.7h1.6v1.5h-1.6zM480.4 514.7h1.8v1.6h-1.8zM481.4 515.7h1.7v1.3h-1.7zM735.6 421.4h0.9v1.2h-0.9zM747.9 428.9h1.9v1.6h-1.9zM734.8 425.1h1.4v1.1h-1.4zM728.3 433.2h1.2v1.0h-1.2zM737.9 422.6h1.1v0.9h-1.1zM746.6 436.3h1.4v1.4h-1.4zM742.0 423.5h2.0v0.9h-2.0zM735.8 441.6h1.5v1.4h-1.5zM739.9 423.2h1.3v1.3h-1.3zM739.9 435.6h1.0v1.0h-1.0zM734.9 429.5h1.7v1.6h-1.7zM736.6 427.6h2.0v1.2h-2.0zM739.3 442.7h1.1v1.4h-1.1zM739.5 439.3h0.8v1.5h-0.8zM748.0 440.3h1.7v0.8h-1.7zM740.6 434.2h1.1v1.1h-1.1zM753.4 443.9h1.1v1.3h-1.1zM742.6 446.0h0.8v0.9h-0.8zM738.5 435.6h0.9v0.9h-0.9zM743.8 434.3h1.8v1.1h-1.8zM743.2 429.9h1.1v0.8h-1.1zM744.3 452.0h1.4v1.5h-1.4zM753.6 444.1h1.6v1.0h-1.6zM750.2 449.7h1.2v1.6h-1.2zM759.1 455.3h1.3v1.3h-1.3zM747.3 449.9h1.9v1.2h-1.9zM746.9 445.6h1.9v1.5h-1.9zM754.9 445.3h1.0v1.5h-1.0zM744.3 445.9h1.5v1.0h-1.5zM734.4 439.1h1.6v1.2h-1.6zM755.0 451.2h1.2v0.8h-1.2zM747.7 436.5h1.6v0.9h-1.6zM756.3 448.2h1.0v1.1h-1.0zM740.9 449.7h1.7v1.5h-1.7zM753.3 440.5h0.9v0.9h-0.9zM757.2 455.6h1.6v1.4h-1.6zM747.8 452.3h1.6v1.1h-1.6zM747.9 453.0h1.0v1.2h-1.0zM755.8 450.3h2.0v1.4h-2.0zM753.4 455.8h1.2v1.0h-1.2zM756.4 455.4h2.0v0.8h-2.0zM741.2 462.9h1.2v1.0h-1.2zM747.8 446.9h1.6v0.9h-1.6zM760.6 456.1h1.8v1.5h-1.8zM762.4 455.2h1.6v1.4h-1.6zM748.9 450.4h1.6v1.1h-1.6zM763.5 466.5h1.9v1.1h-1.9zM772.0 457.8h1.6v1.1h-1.6zM755.1 468.2h1.2v1.2h-1.2zM772.0 470.1h1.5v1.3h-1.5zM764.5 474.7h1.5v1.1h-1.5zM760.6 460.7h1.1v0.9h-1.1zM762.1 459.6h1.1v0.9h-1.1zM763.9 462.6h1.5v1.1h-1.5zM765.2 471.1h1.1v1.1h-1.1zM777.7 471.0h1.1v0.8h-1.1zM766.2 463.7h1.1v1.0h-1.1zM765.6 472.1h1.7v1.1h-1.7zM767.4 460.9h1.3v1.1h-1.3zM771.3 469.3h1.6v1.5h-1.6zM783.0 482.8h1.2v1.5h-1.2zM773.8 473.4h1.2v1.0h-1.2zM776.5 467.4h1.6v1.3h-1.6zM769.1 461.0h2.0v1.4h-2.0zM776.9 473.1h1.0v1.0h-1.0zM770.7 461.3h1.5v1.5h-1.5zM771.4 469.7h0.9v1.2h-0.9zM779.3 476.1h1.0v1.0h-1.0zM771.9 466.3h1.1v1.4h-1.1zM773.6 477.0h1.7v1.5h-1.7zM788.6 473.9h0.8v0.9h-0.8zM768.7 475.5h1.1v1.0h-1.1zM769.9 479.4h1.7v1.4h-1.7zM776.1 473.4h1.1v1.2h-1.1zM773.6 489.6h0.9v1.0h-0.9zM774.5 477.9h1.2v0.8h-1.2zM771.0 475.7h1.7v1.1h-1.7zM782.8 479.0h0.9v1.1h-0.9zM779.8 477.9h0.9v1.2h-0.9zM777.4 480.7h1.1v1.1h-1.1zM764.4 479.1h1.9v1.3h-1.9zM773.9 477.0h1.4v1.3h-1.4zM775.5 484.2h0.9v1.4h-0.9zM774.4 488.2h1.6v1.3h-1.6zM779.9 472.5h1.8v1.3h-1.8zM777.2 489.1h1.9v1.1h-1.9zM781.9 498.8h2.0v1.3h-2.0zM786.9 490.3h1.0v1.3h-1.0zM781.8 506.0h1.9v0.9h-1.9zM781.9 489.3h1.0v1.3h-1.0zM779.3 501.6h1.6v0.9h-1.6zM781.0 494.8h1.3v0.8h-1.3zM797.6 495.9h2.0v1.5h-2.0zM783.2 490.5h1.2v1.2h-1.2zM776.0 478.3h1.3v0.8h-1.3zM732.1 456.5h1.0v1.0h-1.0zM702.7 472.3h1.6v1.4h-1.6zM730.6 459.5h1.7v1.2h-1.7zM740.4 457.9h0.9v0.9h-0.9zM700.8 470.7h1.3v1.4h-1.3zM731.5 469.4h0.8v1.4h-0.8zM722.3 452.6h1.4v1.4h-1.4zM702.3 475.8h1.4v0.8h-1.4zM712.1 455.7h1.3v1.1h-1.3zM714.3 476.7h1.6v0.8h-1.6zM718.7 459.9h1.3v1.0h-1.3zM735.4 465.6h1.0v1.3h-1.0zM713.0 465.8h1.6v1.0h-1.6zM706.8 466.5h0.9v1.2h-0.9zM699.9 457.7h1.6v1.2h-1.6zM722.0 483.7h0.9v1.0h-0.9zM712.7 478.7h1.2v0.8h-1.2zM716.0 453.5h0.9v1.1h-0.9zM744.6 463.6h1.4v1.1h-1.4zM724.4 481.4h1.0v0.9h-1.0zM710.7 464.3h1.1v0.9h-1.1zM709.4 473.1h1.2v1.2h-1.2zM708.5 463.6h1.0v1.3h-1.0zM713.1 462.3h0.9v1.2h-0.9zM713.1 475.9h1.2v1.2h-1.2zM725.8 484.6h1.0v1.3h-1.0zM708.7 471.5h1.5v0.8h-1.5zM714.9 466.1h1.0v1.3h-1.0zM705.1 466.6h1.0v1.3h-1.0zM734.1 479.9h1.3v1.2h-1.3zM744.4 466.5h1.7v1.0h-1.7zM720.3 483.3h0.9v1.1h-0.9zM735.6 472.6h0.8v1.0h-0.8zM740.8 467.3h1.1v1.0h-1.1zM736.7 453.1h1.6v1.0h-1.6zM723.3 481.3h1.6v1.3h-1.6zM707.8 456.5h1.7v1.2h-1.7zM713.7 465.8h1.2v1.3h-1.2zM737.3 467.1h1.5v1.3h-1.5zM713.1 458.5h1.3v0.8h-1.3zM735.7 463.7h1.2v1.4h-1.2zM710.6 455.9h1.7v0.8h-1.7zM745.3 472.1h0.9v1.3h-0.9zM712.5 464.3h1.7v0.9h-1.7zM716.5 484.8h1.3v1.2h-1.3zM701.3 487.1h1.4v1.4h-1.4zM705.0 456.6h1.1v1.3h-1.1zM701.9 485.0h1.7v1.0h-1.7zM719.0 473.9h1.4v0.9h-1.4zM720.5 455.6h1.8v0.9h-1.8zM742.3 470.0h1.3v1.0h-1.3zM742.9 467.0h1.0v1.1h-1.0zM703.7 462.4h1.1v1.4h-1.1zM722.6 478.7h0.8v1.0h-0.8zM738.9 473.7h1.8v1.1h-1.8zM743.0 457.4h1.3v1.1h-1.3zM721.6 484.3h1.7v1.2h-1.7zM746.4 461.9h1.1v1.4h-1.1zM715.3 487.0h0.9v1.0h-0.9zM731.1 483.0h0.8v0.9h-0.8zM785.1 461.6h1.3v1.1h-1.3zM810.6 450.2h1.0v1.3h-1.0zM803.5 489.2h1.9v1.5h-1.9zM794.1 455.1h1.1v1.1h-1.1zM793.5 445.8h0.9v1.6h-0.9zM822.0 446.9h1.8v1.2h-1.8zM813.1 475.9h1.8v0.9h-1.8zM826.3 456.8h0.8v1.1h-0.8zM822.5 453.7h1.6v0.9h-1.6zM823.0 474.2h0.8v1.0h-0.8zM784.5 489.0h1.5v1.4h-1.5zM784.9 440.4h1.9v0.8h-1.9zM789.9 472.2h1.4v1.2h-1.4zM817.6 485.4h1.3v1.3h-1.3zM787.0 492.2h1.8v0.9h-1.8zM795.4 436.4h1.4v0.9h-1.4zM814.2 455.9h0.9v0.8h-0.9zM791.0 470.9h0.9v1.1h-0.9zM800.2 465.1h2.0v1.5h-2.0zM816.4 498.1h0.9v1.3h-0.9zM827.6 430.5h1.9v1.3h-1.9zM836.3 445.9h1.0v1.3h-1.0zM789.0 470.0h1.2v0.9h-1.2zM791.3 491.4h1.0v0.9h-1.0zM803.2 444.7h1.4v1.4h-1.4zM835.4 476.6h1.2v1.0h-1.2zM805.4 449.7h1.5v1.2h-1.5zM831.5 483.6h1.5v1.6h-1.5zM832.8 448.4h1.8v1.5h-1.8zM825.9 493.1h0.9v1.6h-0.9zM818.5 442.3h1.7v1.5h-1.7zM814.5 495.8h1.6v1.3h-1.6zM829.4 497.1h1.8v1.2h-1.8zM820.9 446.9h1.0v0.9h-1.0zM801.6 483.9h1.6v1.4h-1.6zM796.2 451.7h1.9v0.9h-1.9zM833.2 486.8h1.2v1.5h-1.2zM835.7 470.1h1.7v0.9h-1.7zM836.3 432.2h1.6v1.4h-1.6zM822.8 446.6h1.5v1.0h-1.5zM795.0 482.2h1.8v1.0h-1.8zM827.4 469.8h1.4v1.1h-1.4zM817.4 470.4h1.0v1.5h-1.0zM830.9 474.7h1.5v1.5h-1.5zM814.9 478.0h1.3v0.9h-1.3zM835.2 495.4h1.7v1.4h-1.7zM784.5 483.5h1.8v1.1h-1.8zM799.4 432.8h1.4v1.5h-1.4zM828.6 463.0h1.9v1.3h-1.9zM788.9 457.0h1.8v1.3h-1.8zM789.6 444.0h1.6v1.2h-1.6zM793.4 444.1h0.9v1.5h-0.9zM826.4 486.2h1.7v0.9h-1.7zM783.8 479.1h1.6v1.5h-1.6zM825.5 459.1h1.5v1.6h-1.5zM782.0 472.9h1.4v1.2h-1.4zM818.9 457.8h1.0v1.4h-1.0zM835.7 463.0h1.8v1.5h-1.8zM812.9 490.2h1.2v1.1h-1.2zM808.9 461.8h1.0v0.9h-1.0zM815.7 444.3h1.4v1.1h-1.4zM803.8 454.7h1.9v0.8h-1.9zM786.7 430.2h1.0v1.3h-1.0zM803.9 494.2h1.0v1.1h-1.0zM835.8 463.9h1.2v1.3h-1.2zM836.6 487.3h1.3v1.5h-1.3zM837.8 453.2h1.2v1.5h-1.2zM803.9 434.5h1.2v1.4h-1.2zM792.1 468.9h0.9v1.1h-0.9zM819.0 434.8h1.5v1.0h-1.5zM805.9 477.1h0.8v1.2h-0.8zM812.1 498.1h1.4v1.5h-1.4zM832.2 490.4h1.4v0.9h-1.4zM796.3 435.8h0.9v1.2h-0.9zM822.0 478.9h1.7v1.0h-1.7zM787.5 431.7h1.4v1.0h-1.4zM824.1 482.4h1.2v1.0h-1.2zM809.3 489.5h1.9v1.4h-1.9zM822.2 476.0h0.8v1.4h-0.8zM780.3 430.8h1.1v1.0h-1.1zM825.4 478.3h1.1v1.6h-1.1zM780.4 466.5h1.8v0.9h-1.8zM817.6 448.9h1.5v0.8h-1.5zM823.9 470.4h1.3v0.9h-1.3zM787.0 456.0h1.3v1.1h-1.3zM794.1 461.6h1.2v1.3h-1.2zM802.6 431.1h1.0v0.8h-1.0zM803.7 462.0h1.2v1.2h-1.2zM823.1 461.6h1.5v1.5h-1.5zM779.7 447.5h0.9v1.2h-0.9zM828.6 471.6h1.7v1.1h-1.7zM835.5 477.6h1.8v0.9h-1.8zM792.2 478.7h1.1v1.4h-1.1zM812.4 497.6h1.4v1.2h-1.4zM800.0 491.6h1.0v0.9h-1.0zM836.4 496.9h1.2v0.9h-1.2zM803.1 445.5h1.3v1.3h-1.3zM805.8 468.8h1.2v1.4h-1.2zM803.6 448.9h1.3v1.2h-1.3zM818.9 499.3h1.2v1.2h-1.2zM789.6 483.6h1.7v1.2h-1.7zM793.8 438.4h1.3v1.0h-1.3zM830.7 459.3h1.9v1.5h-1.9zM811.4 436.0h1.7v1.1h-1.7zM839.2 473.9h1.6v1.2h-1.6zM783.2 437.9h1.3v1.0h-1.3zM779.4 488.1h1.3v1.3h-1.3zM838.5 479.9h1.3v1.1h-1.3zM797.4 455.7h0.9v0.9h-0.9zM798.5 453.3h1.8v0.9h-1.8zM830.7 444.6h0.8v1.3h-0.8zM795.5 445.0h1.5v1.0h-1.5zM789.5 483.6h1.8v1.5h-1.8zM795.1 456.8h1.4v1.0h-1.4zM796.7 464.4h0.9v1.2h-0.9zM802.9 498.6h1.2v0.8h-1.2zM813.7 473.0h1.9v1.3h-1.9zM792.3 451.5h1.1v1.4h-1.1zM812.1 458.8h1.8v1.4h-1.8zM803.7 441.0h1.0v1.1h-1.0zM718.3 498.2h1.3v1.8h-1.3zM716.8 498.7h1.7v2.3h-1.7zM718.3 498.4h1.8v2.2h-1.8zM717.0 498.5h1.4v1.8h-1.4zM718.3 498.7h1.9v1.9h-1.9zM717.0 499.6h1.7v1.2h-1.7zM715.7 500.2h1.7v1.2h-1.7zM718.2 501.4h1.2v1.2h-1.2zM719.3 501.0h2.0v1.2h-2.0zM724.3 499.0h2.0v1.3h-2.0zM723.1 499.9h2.3v1.3h-2.3zM725.0 500.8h1.1v1.0h-1.1zM725.7 499.4h2.0v1.7h-2.0zM727.5 499.7h1.3v2.0h-1.3zM727.9 501.2h1.9v1.5h-1.9zM729.2 500.9h1.8v1.5h-1.8zM714.3 501.0h1.2v2.1h-1.2zM712.7 501.8h1.7v1.2h-1.7zM711.3 501.0h1.7v1.6h-1.7zM714.7 501.8h2.2v1.9h-2.2zM716.1 501.1h1.7v1.3h-1.7zM714.9 500.4h1.4v1.2h-1.4zM721.2 499.1h2.1v1.5h-2.1zM720.1 499.2h1.4v1.8h-1.4zM718.9 498.7h1.2v1.1h-1.2zM717.7 498.6h1.0v1.8h-1.0zM719.1 499.6h1.2v1.5h-1.2zM722.3 499.6h1.1v1.8h-1.1zM720.5 500.0h1.8v1.8h-1.8zM721.9 499.6h2.2v2.0h-2.2zM721.9 498.3h1.5v1.7h-1.5zM712.0 498.6h1.8v2.3h-1.8zM713.7 498.9h1.6v1.6h-1.6zM715.0 499.5h1.5v1.5h-1.5zM716.4 500.3h1.2v1.1h-1.2zM717.1 500.7h2.1v1.8h-2.1zM718.7 501.6h1.0v1.2h-1.0zM817.2 552.5h1.4v1.2h-1.4zM802.4 552.6h0.8v1.4h-0.8zM807.0 549.3h1.8v1.0h-1.8zM819.1 552.6h0.8v1.3h-0.8zM820.1 551.6h1.7v1.4h-1.7zM824.2 553.1h2.0v1.5h-2.0zM795.3 552.4h1.9v1.2h-1.9zM793.5 550.3h1.2v1.6h-1.2zM799.5 550.2h1.5v1.0h-1.5zM821.4 551.4h1.8v0.9h-1.8zM787.4 551.5h1.6v1.3h-1.6zM814.8 554.9h1.1v1.2h-1.1zM811.9 550.5h1.1v1.6h-1.1zM822.9 550.0h1.6v1.5h-1.6zM819.9 547.6h0.9v1.3h-0.9zM800.9 552.5h1.7v1.1h-1.7zM788.5 554.7h1.7v1.4h-1.7zM815.9 554.9h1.3v1.5h-1.3zM805.0 552.3h1.9v1.0h-1.9zM819.6 553.4h1.2v1.1h-1.2zM811.7 557.4h1.6v0.9h-1.6zM827.1 544.5h0.9v1.5h-0.9zM802.1 550.6h1.9v1.6h-1.9zM835.1 555.7h0.8v1.2h-0.8zM817.0 552.6h1.5v0.9h-1.5zM824.0 554.2h1.3v1.4h-1.3zM832.0 552.9h1.9v1.5h-1.9zM804.9 550.6h1.9v1.4h-1.9zM801.7 552.0h1.0v1.4h-1.0zM816.3 550.4h0.8v1.1h-0.8zM804.5 556.9h1.0v1.4h-1.0zM818.2 548.3h1.6v0.9h-1.6zM824.5 545.0h1.7v0.9h-1.7zM814.4 546.3h1.9v1.4h-1.9zM816.8 550.8h1.2v1.0h-1.2zM802.5 551.2h1.1v1.2h-1.1zM828.7 548.9h1.9v1.1h-1.9zM827.5 554.0h1.6v1.4h-1.6zM800.9 553.7h1.9v1.0h-1.9zM819.6 553.1h1.4v1.4h-1.4zM819.7 549.7h1.2v1.0h-1.2zM793.6 546.9h0.9v1.3h-0.9zM814.6 549.2h1.6v1.4h-1.6zM829.3 554.0h0.9v1.4h-0.9zM814.9 553.8h0.9v0.8h-0.9zM830.0 547.6h0.9v1.2h-0.9zM808.0 554.1h1.6v1.1h-1.6zM785.9 551.4h1.8v1.1h-1.8zM817.3 548.8h1.9v1.4h-1.9zM787.6 555.2h1.6v0.9h-1.6zM829.6 578.8h1.3v1.6h-1.3zM805.4 559.6h1.1v0.9h-1.1zM816.8 582.2h1.4v1.0h-1.4zM829.7 603.4h0.9v1.3h-0.9zM790.6 567.7h1.5v1.1h-1.5zM812.5 584.1h1.9v1.5h-1.9zM812.6 562.2h1.2v0.9h-1.2zM796.2 599.5h1.7v1.1h-1.7zM829.3 578.3h0.8v1.4h-0.8zM820.0 605.0h1.2v0.8h-1.2zM832.0 580.8h1.6v1.4h-1.6zM837.3 571.9h1.0v1.2h-1.0zM805.5 599.8h1.8v1.2h-1.8zM829.7 580.2h1.8v1.0h-1.8zM838.7 606.9h1.3v1.4h-1.3zM795.2 606.5h1.7v1.4h-1.7zM811.1 574.8h2.0v1.0h-2.0zM829.1 590.2h1.8v1.2h-1.8zM797.3 583.6h1.1v1.6h-1.1zM829.2 574.3h1.3v0.9h-1.3zM791.9 584.2h1.5v0.9h-1.5zM803.9 576.6h1.7v0.9h-1.7zM830.1 601.1h1.4v1.2h-1.4zM802.9 570.1h1.1v1.5h-1.1zM826.1 599.2h1.7v1.3h-1.7zM808.1 566.0h1.6v1.4h-1.6zM795.9 588.0h1.6v0.8h-1.6zM828.5 580.3h0.9v0.9h-0.9zM838.9 593.7h1.9v1.6h-1.9zM833.2 564.2h1.4v1.5h-1.4zM827.4 595.6h1.1v0.8h-1.1zM825.8 560.1h1.5v1.2h-1.5zM816.9 591.2h1.9v1.2h-1.9zM834.7 597.2h1.5v1.2h-1.5zM796.5 598.2h0.9v0.8h-0.9zM831.2 563.7h1.1v1.5h-1.1zM826.7 580.3h1.5v1.2h-1.5zM832.5 591.8h0.8v1.3h-0.8zM823.5 566.5h1.3v1.0h-1.3zM804.3 573.3h1.1v1.4h-1.1zM827.5 570.7h1.0v0.9h-1.0zM799.1 602.2h2.0v1.3h-2.0zM823.0 598.8h1.6v1.6h-1.6zM796.0 564.8h1.3v1.4h-1.3zM818.6 585.7h1.2v1.1h-1.2zM824.8 586.4h1.9v1.1h-1.9zM807.0 608.4h1.8v1.5h-1.8zM812.4 598.7h1.4v0.9h-1.4zM809.5 564.5h1.5v1.5h-1.5zM821.1 580.9h1.5v1.3h-1.5zM807.5 597.3h0.9v1.0h-0.9zM815.5 607.0h1.4v1.2h-1.4zM826.3 570.5h1.3v1.1h-1.3zM793.8 602.2h1.4v1.2h-1.4zM810.1 592.4h1.4v1.4h-1.4zM813.8 585.9h1.3v1.2h-1.3zM835.0 607.1h1.8v1.3h-1.8zM827.7 594.3h1.7v1.4h-1.7zM797.5 609.0h1.4v1.3h-1.4zM820.0 589.9h1.5v1.2h-1.5zM805.0 603.8h1.1v0.9h-1.1zM829.2 593.3h1.5v1.1h-1.5zM835.5 597.8h1.7v1.3h-1.7zM798.4 570.7h1.5v1.3h-1.5zM799.7 585.4h1.5v1.3h-1.5zM797.8 582.4h1.8v1.2h-1.8zM805.5 577.9h1.9v1.2h-1.9zM836.4 589.5h1.7v0.9h-1.7zM820.4 606.5h1.7v0.9h-1.7zM817.7 563.6h1.0v1.4h-1.0zM818.9 580.9h1.7v1.4h-1.7zM802.8 597.1h1.6v0.8h-1.6zM810.8 594.7h1.8v1.4h-1.8zM831.5 579.4h1.2v1.5h-1.2zM831.3 583.2h1.5v1.4h-1.5zM816.5 597.4h1.7v1.1h-1.7zM837.1 602.6h1.0v1.3h-1.0zM830.8 574.9h1.9v1.0h-1.9zM809.9 587.6h1.1v1.6h-1.1zM798.6 582.7h1.3v1.2h-1.3zM716.4 673.3h1.6v1.2h-1.6zM731.3 667.6h1.5v1.0h-1.5zM711.1 679.4h1.7v1.2h-1.7zM718.7 666.5h1.3v1.5h-1.3zM712.2 672.4h0.9v1.2h-0.9zM715.1 670.7h1.3v1.2h-1.3zM700.6 671.7h1.1v1.2h-1.1zM716.5 672.8h1.6v1.2h-1.6zM724.0 672.0h1.8v1.1h-1.8zM711.0 678.5h1.5v1.3h-1.5zM711.7 672.6h1.3v1.4h-1.3zM713.5 662.0h1.5v1.2h-1.5zM719.1 674.7h1.5v1.1h-1.5zM712.0 680.4h1.8v1.5h-1.8zM703.0 662.9h1.1v1.2h-1.1zM714.7 674.2h1.1v0.9h-1.1zM713.7 672.2h1.8v1.6h-1.8zM707.3 680.2h1.2v1.3h-1.2zM714.8 663.8h1.6v0.9h-1.6zM707.2 671.8h1.2v1.0h-1.2zM720.1 669.6h1.4v1.0h-1.4zM717.9 676.6h1.3v0.8h-1.3zM714.8 660.8h1.3v1.3h-1.3zM709.9 669.3h1.3v1.2h-1.3zM707.3 661.5h0.8v1.2h-0.8zM715.5 664.2h1.5v0.9h-1.5zM720.4 680.5h1.4v1.1h-1.4zM711.1 658.6h1.9v1.1h-1.9zM715.0 674.4h1.3v1.2h-1.3zM710.2 668.9h1.4v1.5h-1.4zM724.0 671.1h1.0v1.3h-1.0zM709.1 673.4h1.2v1.2h-1.2zM718.5 670.3h1.4v1.2h-1.4zM734.0 666.5h2.0v0.9h-2.0zM710.3 670.6h1.3v0.9h-1.3zM726.4 669.8h0.8v1.4h-0.8zM714.0 663.8h1.0v0.9h-1.0zM718.7 669.4h1.8v1.0h-1.8zM709.8 674.1h1.8v1.2h-1.8zM712.7 671.5h1.8v1.3h-1.8zM810.2 686.6h1.7v0.9h-1.7zM809.3 688.8h0.8v1.2h-0.8zM833.6 665.4h1.9v1.1h-1.9zM817.2 667.6h1.6v1.5h-1.6zM829.0 671.7h1.3v1.2h-1.3zM844.3 684.2h1.0v1.2h-1.0zM844.0 685.9h1.3v1.1h-1.3zM818.4 678.8h0.9v1.5h-0.9zM814.8 662.8h1.0v1.1h-1.0zM805.9 677.7h1.9v0.9h-1.9zM804.4 670.5h0.9v1.3h-0.9zM805.2 685.3h1.8v1.6h-1.8zM800.7 664.3h1.3v1.0h-1.3zM798.4 682.4h1.0v1.1h-1.0zM805.0 688.9h1.4v1.0h-1.4zM828.1 685.0h1.9v1.0h-1.9zM835.4 684.2h1.7v1.3h-1.7zM821.7 672.9h1.2v1.0h-1.2zM833.1 681.6h1.7v0.8h-1.7zM821.3 665.9h1.5v1.4h-1.5zM814.0 667.4h1.5v1.4h-1.5zM813.1 665.6h1.3v1.3h-1.3zM805.3 676.9h1.3v0.9h-1.3zM800.2 686.0h1.5v1.0h-1.5zM823.9 676.4h1.7v1.6h-1.7zM830.1 686.3h2.0v1.0h-2.0zM798.7 687.8h2.0v1.2h-2.0zM828.3 679.4h1.7v0.9h-1.7zM797.6 672.6h1.8v1.4h-1.8zM813.7 667.7h1.9v1.5h-1.9zM813.0 682.8h0.9v1.2h-0.9zM803.7 667.9h1.0v1.4h-1.0zM839.2 674.5h1.0v0.8h-1.0zM813.7 667.7h1.3v1.4h-1.3zM811.7 666.0h1.4v1.4h-1.4zM828.3 690.9h1.2v0.8h-1.2zM811.5 669.8h1.6v1.0h-1.6zM797.7 679.5h1.8v1.0h-1.8zM834.2 679.5h1.4v1.2h-1.4zM821.9 682.6h1.7v0.9h-1.7zM805.8 667.7h1.5v0.9h-1.5zM815.7 674.0h1.6v1.0h-1.6zM799.5 674.9h1.2v1.4h-1.2zM811.0 686.7h0.9v1.3h-0.9zM819.8 684.3h1.2v1.6h-1.2zM801.4 674.3h0.9v1.6h-0.9zM820.3 683.1h1.6v1.5h-1.6zM816.7 665.9h1.6v1.2h-1.6zM803.5 687.1h1.2v0.8h-1.2zM799.3 690.8h1.9v1.3h-1.9zM832.0 681.1h0.9v1.6h-0.9zM828.4 684.0h1.0v1.4h-1.0zM842.1 689.2h1.9v1.0h-1.9zM824.8 690.2h1.5v1.2h-1.5zM801.7 663.5h1.1v1.5h-1.1zM817.4 689.8h2.0v1.2h-2.0zM826.6 674.9h1.0v0.9h-1.0zM807.7 681.1h1.7v1.4h-1.7zM820.9 674.4h1.6v1.0h-1.6zM842.6 684.8h1.4v0.9h-1.4zM802.7 664.4h1.0v1.2h-1.0zM820.5 682.0h1.9v1.3h-1.9zM815.1 675.5h0.9v1.3h-0.9zM810.3 672.9h1.7v1.3h-1.7zM805.7 680.4h1.8v1.5h-1.8zM798.7 669.8h1.1v1.0h-1.1zM812.6 669.0h1.4v0.9h-1.4zM826.4 681.5h1.0v1.4h-1.0zM807.0 665.8h1.5v0.9h-1.5zM837.0 666.6h1.3v1.2h-1.3zM838.8 670.4h1.5v0.8h-1.5zM808.9 677.9h1.1v1.0h-1.1zM837.9 688.3h1.7v1.3h-1.7zM798.4 672.2h1.6v1.2h-1.6zM661.4 625.3h1.7v0.8h-1.7zM662.9 631.8h1.1v1.4h-1.1zM649.5 622.4h1.4v1.0h-1.4zM654.8 625.3h1.7v1.6h-1.7zM651.7 630.3h1.9v1.3h-1.9zM649.8 630.9h1.7v1.6h-1.7zM647.6 618.5h1.5v0.9h-1.5zM665.0 631.1h1.2v1.1h-1.2zM649.6 624.6h1.4v1.4h-1.4zM646.5 633.3h1.0v0.9h-1.0zM670.8 645.6h1.0v1.4h-1.0zM661.6 639.8h2.0v1.5h-2.0zM664.0 641.3h1.3v0.9h-1.3zM668.8 643.9h1.9v1.5h-1.9zM667.1 635.1h1.2v0.9h-1.2zM660.5 635.7h1.7v0.8h-1.7zM653.8 635.4h1.9v1.5h-1.9zM662.4 632.7h1.3v1.3h-1.3zM659.4 630.5h1.9v1.0h-1.9zM655.4 640.0h1.1v1.5h-1.1zM667.2 637.2h1.1v1.4h-1.1zM663.1 631.6h0.8v0.8h-0.8zM669.3 644.4h1.1v0.9h-1.1zM673.3 643.5h1.5v1.1h-1.5zM673.8 645.6h1.1v1.3h-1.1zM673.6 657.1h1.2v1.5h-1.2zM674.8 650.7h1.5v1.1h-1.5zM674.7 640.1h1.5v1.2h-1.5zM674.0 646.5h0.9v1.4h-0.9zM690.7 653.4h1.9v1.3h-1.9zM661.4 639.5h0.9v1.6h-0.9zM669.4 636.8h1.8v1.1h-1.8zM683.4 655.0h1.5v0.8h-1.5zM681.9 654.2h1.8v1.2h-1.8zM691.9 672.1h1.7v1.1h-1.7zM678.1 663.5h1.6v1.1h-1.6zM681.5 658.0h1.7v1.0h-1.7zM678.9 651.8h1.7v0.9h-1.7zM680.2 659.8h1.8v0.8h-1.8zM684.3 653.9h1.9v1.1h-1.9zM689.5 655.3h0.9v0.9h-0.9zM686.3 661.6h1.9v1.3h-1.9zM685.0 652.5h1.8v0.9h-1.8zM691.5 675.3h1.3v1.2h-1.3zM688.3 669.6h0.8v1.3h-0.8zM686.9 668.9h0.9v1.5h-0.9zM698.0 674.9h1.6v1.5h-1.6zM682.9 664.7h1.0v1.5h-1.0zM689.4 658.4h1.9v1.3h-1.9zM689.6 675.9h1.2v1.3h-1.2zM689.8 666.1h1.7v1.4h-1.7zM692.8 662.9h1.1v1.3h-1.1zM698.9 666.6h0.8v1.5h-0.8zM695.1 664.8h1.5v1.0h-1.5zM691.7 668.6h0.9v0.9h-0.9zM573.7 595.7h1.7v1.4h-1.7zM564.9 598.5h1.7v1.3h-1.7zM575.4 596.9h1.4v1.2h-1.4zM561.1 592.1h1.5v0.8h-1.5zM574.5 600.9h1.0v1.5h-1.0zM571.0 602.5h1.1v1.4h-1.1zM575.2 594.3h1.2v1.3h-1.2zM572.3 602.4h1.7v1.4h-1.7zM573.0 599.1h1.0v1.4h-1.0zM567.5 600.3h1.7v1.0h-1.7zM569.6 600.6h1.9v1.2h-1.9zM568.6 599.5h1.7v1.3h-1.7zM581.8 606.1h1.8v1.5h-1.8zM580.2 602.4h1.2v0.8h-1.2zM584.0 600.5h1.1v1.1h-1.1zM579.7 598.3h1.1v1.0h-1.1zM587.3 604.7h1.8v1.2h-1.8zM589.2 599.1h1.7v1.2h-1.7zM578.5 599.7h1.8v1.5h-1.8zM589.5 601.6h1.9v0.8h-1.9zM593.7 608.6h1.2v0.8h-1.2zM579.8 603.9h1.0v1.3h-1.0zM584.4 599.9h1.1v1.0h-1.1zM578.5 602.4h1.7v1.2h-1.7zM575.8 600.8h1.7v1.0h-1.7zM609.0 607.5h1.1v1.2h-1.1zM609.4 603.7h1.3v1.5h-1.3zM613.8 609.1h0.9v1.4h-0.9zM594.8 610.3h0.8v1.5h-0.8zM599.7 603.5h1.2v1.5h-1.2zM608.8 606.6h1.0v1.4h-1.0zM612.0 598.4h1.4v1.4h-1.4zM607.9 607.0h0.9v0.8h-0.9zM601.0 605.7h1.1v1.3h-1.1zM600.2 602.9h1.8v1.3h-1.8zM594.2 610.2h1.8v1.4h-1.8zM595.9 597.9h1.0v0.9h-1.0zM604.5 604.8h1.4v0.8h-1.4zM617.8 605.9h1.0v0.9h-1.0zM614.5 607.3h0.8v1.3h-0.8zM619.4 599.7h2.0v1.0h-2.0zM615.4 602.2h1.8v1.6h-1.8zM613.4 607.6h1.6v0.8h-1.6zM613.4 606.6h1.4v1.4h-1.4zM617.8 604.8h1.2v1.0h-1.2zM617.6 611.2h1.7v1.3h-1.7zM610.4 606.1h1.4v1.5h-1.4zM615.6 610.7h1.3v1.3h-1.3zM622.9 606.8h2.0v1.3h-2.0zM632.6 613.3h1.6v0.9h-1.6zM627.0 613.3h0.8v1.2h-0.8zM636.0 612.4h1.7v0.9h-1.7zM634.3 606.6h1.6v1.5h-1.6zM633.7 607.6h1.0v1.0h-1.0zM628.9 612.1h1.9v0.8h-1.9zM562.0 623.9h0.9v1.1h-0.9zM550.0 623.1h1.0v0.8h-1.0zM553.4 623.2h1.3v0.8h-1.3zM555.6 624.8h1.4v1.0h-1.4zM554.6 623.8h1.3v1.2h-1.3zM554.8 623.0h1.3v1.0h-1.3zM552.0 623.6h1.3v1.0h-1.3zM553.2 622.7h1.3v0.9h-1.3zM482.0 687.0h1.8v1.6h-1.8zM494.2 688.7h1.5v1.4h-1.5zM501.7 688.6h2.0v1.5h-2.0zM481.4 686.3h2.0v1.1h-2.0zM482.3 686.5h1.5v1.7h-1.5zM494.8 688.9h1.4v1.5h-1.4zM491.3 690.2h2.0v1.7h-2.0zM479.5 690.0h1.1v1.8h-1.1zM504.1 690.0h1.5v1.1h-1.5zM483.2 689.3h1.3v1.7h-1.3zM526.2 687.6h1.6v1.6h-1.6zM499.3 688.2h1.5v1.6h-1.5zM493.0 687.8h1.6v1.0h-1.6zM492.8 689.9h1.4v1.1h-1.4zM500.2 689.3h0.9v1.0h-0.9zM483.7 687.4h1.8v1.5h-1.8zM489.6 687.0h2.2v1.0h-2.2zM490.4 687.0h1.5v1.1h-1.5zM503.3 687.6h1.4v1.3h-1.4zM498.0 687.7h1.3v1.4h-1.3zM470.0 686.7h1.2v1.1h-1.2zM494.4 690.1h1.6v1.1h-1.6zM474.5 685.8h1.7v1.7h-1.7zM479.0 688.6h2.1v1.6h-2.1zM504.4 687.7h1.0v0.9h-1.0zM499.2 686.9h1.2v1.5h-1.2zM479.6 689.6h1.1v1.2h-1.1zM483.3 687.9h1.4v0.9h-1.4zM476.5 687.1h2.1v1.1h-2.1z"/>
<path fill="#72b554" d="M738.5 433.2L739.2 435.0L740.5 436.4L741.8 437.8L740.0 440.8L743.0 441.4L744.5 443.0L743.5 446.2L746.0 447.0L746.2 449.3L746.6 451.5L747.9 453.1L750.8 454.2L752.7 455.1L753.4 457.2L753.9 459.5L755.4 460.8L758.2 460.8L759.0 462.8L759.4 465.2L762.2 465.2L763.7 466.5L764.3 467.9L766.0 469.4L765.8 472.1L766.8 474.1L770.1 474.3L769.3 477.3L770.4 479.0L771.7 480.7L772.2 482.1L774.9 483.0L774.9 485.1L776.8 486.4L777.3 488.4L778.9 489.8L778.8 492.1L778.3 494.5L784.9 491.1L783.6 489.6L784.6 486.9L783.0 485.4L783.5 483.1L781.5 482.0L778.8 481.1L780.8 478.0L777.8 476.7L776.5 475.1L775.1 473.5L774.9 471.1L774.7 468.4L771.9 467.8L771.9 465.1L770.6 463.5L768.5 461.7L766.3 461.1L764.4 460.2L763.1 458.7L761.6 457.4L760.0 456.2L759.9 453.5L758.2 452.4L757.8 450.0L755.3 449.7L754.3 448.6L752.0 447.8L751.3 445.8L750.1 444.1L749.4 442.1L747.5 440.9L747.2 439.3L748.9 436.4L746.9 435.3L744.5 434.4L744.6 432.3L744.4 430.3z"/>
<path fill="#72b554" d="M478.9 421.3h1.4v1.9h-1.4zM480.2 422.2h1.4v1.2h-1.4zM479.0 423.3h1.8v1.5h-1.8zM473.9 487.7h2.1v1.8h-2.1zM472.7 488.6h2.1v1.9h-2.1zM471.3 488.8h1.9v1.5h-1.9zM473.0 488.2h1.7v1.7h-1.7zM471.5 487.9h1.8v1.6h-1.8zM473.3 487.1h1.2v1.6h-1.2zM471.5 432.6h2.3v1.5h-2.3zM473.3 433.0h1.6v1.3h-1.6zM474.6 432.3h1.8v2.2h-1.8zM475.6 433.5h2.3v1.1h-2.3zM476.7 432.2h1.9v1.3h-1.9zM477.8 432.6h2.1v1.3h-2.1zM470.5 446.5h2.0v1.6h-2.0zM472.1 446.5h2.0v1.7h-2.0zM472.9 448.0h2.0v1.2h-2.0zM471.6 447.7h1.4v2.1h-1.4zM473.2 448.3h1.2v1.2h-1.2zM479.9 462.0h1.3v1.8h-1.3zM481.1 462.1h1.9v1.3h-1.9zM479.8 462.4h1.4v1.4h-1.4zM481.2 461.5h1.4v1.8h-1.4zM479.3 461.8h1.9v1.6h-1.9zM478.3 461.9h1.2v2.2h-1.2zM476.3 462.6h2.3v1.9h-2.3zM469.1 470.7h1.2v1.8h-1.2zM467.9 471.9h1.6v1.7h-1.6zM469.4 472.3h1.5v1.9h-1.5zM467.5 472.4h2.1v1.4h-2.1zM469.3 429.3h1.5v2.0h-1.5zM467.9 430.3h1.5v1.4h-1.5zM466.2 430.7h2.2v1.4h-2.2zM465.2 431.2h1.5v1.2h-1.5zM466.7 429.9h1.3v1.5h-1.3zM467.9 429.1h1.8v1.7h-1.8zM466.7 428.3h2.2v1.1h-2.2zM476.3 443.3h2.2v1.0h-2.2zM478.0 442.5h1.6v1.5h-1.6zM479.2 441.5h1.8v2.3h-1.8zM480.3 442.1h2.3v1.5h-2.3zM481.6 442.9h2.3v1.1h-2.3zM480.5 443.4h1.5v1.9h-1.5zM489.8 444.9h2.0v1.1h-2.0zM488.4 444.3h1.8v1.8h-1.8zM489.9 444.2h2.0v2.0h-2.0zM488.7 445.3h1.6v1.0h-1.6zM462.7 477.3h1.4v1.7h-1.4zM474.1 444.4h1.2v2.3h-1.2zM474.9 443.7h2.1v2.3h-2.1zM473.9 444.4h1.0v1.2h-1.0zM475.3 444.6h1.2v1.7h-1.2zM474.1 445.8h1.1v1.4h-1.1zM475.3 446.7h1.1v1.5h-1.1zM472.1 466.3h1.4v1.6h-1.4zM473.2 465.5h1.7v1.7h-1.7zM474.2 464.5h1.5v1.4h-1.5zM472.6 464.5h1.6v1.6h-1.6zM471.1 465.2h1.6v1.6h-1.6zM470.2 464.0h1.7v1.7h-1.7zM469.0 464.0h1.3v1.1h-1.3zM476.3 459.4h1.0v1.5h-1.0zM477.3 460.4h1.0v1.8h-1.0zM478.4 461.2h1.5v1.4h-1.5zM479.6 460.9h1.8v1.4h-1.8zM472.4 464.4h1.4v2.0h-1.4zM470.5 464.6h2.1v1.5h-2.1zM469.0 464.5h2.3v2.1h-2.3zM467.5 496.6h1.8v1.1h-1.8zM469.1 496.1h1.7v2.2h-1.7zM470.9 495.8h1.0v2.2h-1.0zM468.7 496.2h2.0v1.5h-2.0zM469.7 494.9h2.3v2.2h-2.3zM468.7 494.3h2.0v1.5h-2.0zM469.2 459.3h2.0v1.1h-2.0zM470.5 460.3h1.7v1.1h-1.7zM469.4 458.8h1.4v2.2h-1.4zM468.6 460.3h1.5v1.7h-1.5zM481.2 489.8h1.0v1.6h-1.0zM482.2 488.9h1.6v1.9h-1.6zM480.6 488.5h2.0v1.1h-2.0zM482.5 488.4h1.3v1.5h-1.3zM467.5 481.2h1.5v1.7h-1.5zM468.9 481.3h1.6v2.3h-1.6zM467.3 482.4h1.9v1.3h-1.9zM469.1 482.4h1.3v1.1h-1.3zM470.0 483.0h1.5v1.9h-1.5zM475.6 508.5h1.6v1.3h-1.6zM477.3 508.2h1.1v1.4h-1.1zM478.5 508.2h1.7v1.7h-1.7zM477.1 508.1h1.2v2.2h-1.2zM469.3 502.1h1.3v1.3h-1.3zM468.1 501.2h1.4v1.3h-1.4zM466.5 501.1h1.6v1.4h-1.6zM467.9 501.1h2.1v1.2h-2.1zM469.3 501.4h2.1v1.8h-2.1zM470.5 500.2h1.9v2.2h-1.9zM472.1 462.3h1.5v2.0h-1.5zM470.4 462.1h1.9v2.2h-1.9zM471.9 463.3h1.7v1.5h-1.7zM470.1 462.9h2.2v1.9h-2.2zM469.7 461.8h2.2v1.1h-2.2zM471.7 461.0h1.4v2.1h-1.4zM470.0 461.7h1.9v1.1h-1.9zM473.6 435.0h1.7v1.1h-1.7zM474.8 433.5h1.2v1.7h-1.2zM473.0 434.1h1.9v1.5h-1.9zM472.0 433.4h1.1v1.6h-1.1zM472.6 432.2h1.2v1.4h-1.2zM470.9 432.6h1.9v2.2h-1.9zM470.0 491.0h1.6v1.8h-1.6zM470.8 489.8h1.8v1.8h-1.8zM470.9 460.0h2.1v2.2h-2.1zM469.9 460.2h1.0v2.1h-1.0zM471.0 459.8h2.0v2.1h-2.0zM481.7 472.6h2.1v1.5h-2.1zM480.2 473.1h2.0v1.3h-2.0zM481.9 473.6h1.7v1.4h-1.7zM480.2 474.0h2.1v1.2h-2.1zM479.3 474.5h1.3v1.6h-1.3zM477.7 474.4h1.9v1.3h-1.9zM479.5 473.3h1.3v2.1h-1.3zM476.0 434.8h2.0v1.7h-2.0zM474.8 434.1h2.0v1.3h-2.0zM476.7 434.2h1.5v1.5h-1.5zM477.6 434.9h2.3v1.5h-2.3zM479.2 435.5h1.4v2.0h-1.4zM470.3 486.6h1.6v2.1h-1.6zM469.3 485.7h1.1v2.2h-1.1zM467.8 485.7h1.3v2.1h-1.3zM466.8 484.8h2.2v1.2h-2.2zM468.4 484.5h2.2v1.3h-2.2zM470.0 484.8h1.9v2.2h-1.9zM469.8 463.5h2.2v1.1h-2.2zM468.7 463.2h1.4v1.2h-1.4zM467.2 462.4h1.7v1.7h-1.7zM468.3 464.0h1.1v1.4h-1.1zM469.2 463.8h2.2v1.7h-2.2zM471.0 464.0h1.4v2.0h-1.4zM464.3 462.9h1.6v1.2h-1.6zM463.7 461.3h2.0v1.5h-2.0zM462.8 462.2h1.2v1.2h-1.2zM467.7 475.0h1.4v1.5h-1.4zM466.2 474.2h1.7v1.6h-1.7zM464.6 475.0h2.2v1.3h-2.2zM466.2 476.0h1.2v1.7h-1.2zM467.6 475.6h1.4v1.2h-1.4zM468.1 487.3h1.1v1.9h-1.1zM467.0 486.2h1.7v1.6h-1.7zM466.1 485.5h1.0v1.6h-1.0zM464.9 438.3h1.1v1.6h-1.1zM465.9 437.3h1.4v1.6h-1.4zM464.0 437.4h2.0v1.3h-2.0zM462.6 436.6h2.2v1.7h-2.2zM477.3 495.0h1.3v2.2h-1.3zM475.7 494.3h2.0v1.8h-2.0zM477.1 494.5h2.2v1.8h-2.2zM475.9 493.4h2.3v2.1h-2.3zM475.5 489.5h2.3v1.8h-2.3zM474.3 488.6h2.1v2.0h-2.1zM475.6 489.6h2.1v1.7h-2.1zM474.7 488.8h1.5v1.5h-1.5zM473.5 488.9h1.2v2.0h-1.2zM474.8 489.3h1.9v1.7h-1.9zM471.5 469.8h1.9v2.2h-1.9zM473.0 469.0h1.4v2.2h-1.4zM473.4 470.5h2.3v2.0h-2.3zM475.1 470.6h1.6v1.0h-1.6zM476.3 470.8h1.7v1.6h-1.7zM467.0 435.2h1.1v1.1h-1.1zM465.3 434.9h1.7v2.2h-1.7zM464.1 435.6h1.3v1.6h-1.3zM465.7 435.0h1.2v1.6h-1.2zM466.9 434.2h1.8v2.2h-1.8zM470.1 438.9h1.7v1.2h-1.7zM468.6 438.8h1.7v1.4h-1.7zM470.0 438.5h1.9v1.4h-1.9zM471.7 438.6h1.6v1.6h-1.6zM470.5 439.2h1.6v2.2h-1.6zM469.1 439.2h1.4v1.9h-1.4zM467.7 439.5h1.2v1.6h-1.2zM466.4 440.3h1.8v1.9h-1.8zM468.4 439.6h1.1v1.9h-1.1zM467.0 439.8h1.0v1.1h-1.0zM467.9 436.4h2.1v1.6h-2.1zM469.8 435.9h1.2v1.4h-1.2zM467.7 436.2h2.1v1.7h-2.1zM469.5 435.4h1.3v2.0h-1.3zM470.8 436.1h1.6v1.5h-1.6zM469.2 436.8h1.8v1.5h-1.8zM467.6 436.4h2.0v1.6h-2.0zM467.0 437.4h1.5v2.2h-1.5zM468.3 438.0h2.0v1.5h-2.0zM466.9 438.1h1.9v2.2h-1.9zM468.0 434.1h1.3v2.0h-1.3zM467.4 436.1h1.9v1.0h-1.9zM465.9 436.4h2.0v1.3h-2.0zM464.4 436.7h2.3v1.3h-2.3zM466.6 436.0h1.1v1.8h-1.1zM465.0 435.2h1.8v1.9h-1.8zM466.0 434.1h2.0v1.8h-2.0zM467.7 433.9h1.7v2.3h-1.7zM470.6 434.6h2.2v1.4h-2.2zM469.9 435.2h1.2v1.8h-1.2zM471.1 435.0h1.9v1.4h-1.9zM469.6 434.6h1.8v1.6h-1.8zM470.8 433.8h2.3v1.7h-2.3zM472.7 434.6h1.1v1.4h-1.1zM473.8 434.1h1.9v2.1h-1.9zM472.3 435.0h1.7v1.0h-1.7zM468.5 434.9h2.1v2.2h-2.1zM467.5 435.0h1.1v2.0h-1.1zM468.9 435.7h1.3v1.6h-1.3zM470.1 435.8h2.1v1.3h-2.1zM471.6 435.5h1.9v1.4h-1.9zM472.9 459.2h1.7v1.8h-1.7zM474.5 460.2h1.3v1.3h-1.3zM475.8 459.7h1.4v1.6h-1.4zM473.9 459.7h2.1v2.2h-2.1zM472.4 460.3h1.9v1.3h-1.9zM473.8 459.8h2.1v1.3h-2.1zM475.8 459.1h1.1v1.9h-1.1zM473.7 458.8h2.1v1.7h-2.1zM472.4 458.9h1.5v2.3h-1.5zM476.5 459.8h1.0v1.9h-1.0zM477.6 460.3h1.9v1.4h-1.9zM476.4 459.6h1.4v1.7h-1.4zM474.9 460.3h1.4v1.3h-1.4zM473.2 466.5h1.1v2.1h-1.1zM471.4 467.4h2.2v2.0h-2.2zM473.1 467.6h1.9v1.9h-1.9zM471.9 468.5h1.7v1.6h-1.7zM473.5 468.2h1.7v2.0h-1.7zM473.1 461.0h1.8v1.4h-1.8zM471.4 460.4h2.1v2.1h-2.1zM473.2 460.2h1.6v1.5h-1.6zM474.1 458.9h2.1v2.3h-2.1zM473.4 457.9h1.3v2.3h-1.3zM474.6 457.8h1.7v1.4h-1.7zM476.2 458.0h1.1v2.3h-1.1zM474.7 459.2h1.2v1.5h-1.2zM475.6 459.1h2.2v1.6h-2.2zM470.2 457.7h1.6v2.2h-1.6zM468.7 458.3h1.7v1.4h-1.7zM470.1 458.0h1.8v1.0h-1.8zM469.0 457.3h1.1v2.0h-1.1zM480.6 459.8h1.8v1.3h-1.8zM482.5 460.4h1.1v1.0h-1.1zM483.5 459.3h1.2v1.3h-1.2zM481.4 458.8h2.2v1.4h-2.2zM476.5 458.4h1.8v2.2h-1.8zM475.1 457.9h2.1v1.3h-2.1zM477.1 458.1h1.2v1.6h-1.2zM475.1 457.4h2.2v1.9h-2.2zM474.2 457.9h1.2v1.3h-1.2zM475.2 457.3h2.3v1.9h-2.3zM476.6 458.5h1.5v1.9h-1.5zM465.7 481.0h1.8v2.2h-1.8zM467.1 481.4h2.0v1.8h-2.0zM468.4 480.3h1.2v1.7h-1.2zM466.6 480.0h1.7v1.9h-1.7zM467.8 480.1h2.1v1.1h-2.1zM466.9 481.0h1.1v1.2h-1.1zM465.2 480.1h1.6v1.7h-1.6zM463.6 480.5h2.0v1.4h-2.0zM462.5 479.9h1.7v1.1h-1.7zM464.1 478.9h1.1v1.3h-1.1zM462.9 478.1h1.6v1.3h-1.6zM464.6 478.7h1.1v1.2h-1.1zM466.0 478.4h1.0v2.3h-1.0zM466.9 479.7h1.5v1.2h-1.5zM464.3 484.9h1.3v1.9h-1.3zM465.9 485.3h1.1v1.2h-1.1zM467.1 484.6h1.4v1.6h-1.4zM465.8 483.3h1.6v2.0h-1.6zM467.1 483.2h1.8v2.2h-1.8zM468.2 484.4h1.2v2.3h-1.2zM466.4 484.4h1.4v1.6h-1.4zM467.1 485.7h1.9v1.3h-1.9zM463.2 488.6h1.5v2.2h-1.5zM464.5 489.3h2.1v1.1h-2.1zM463.3 489.3h1.3v1.1h-1.3zM462.1 487.9h1.5v1.7h-1.5zM464.0 484.6h1.1v1.4h-1.1zM462.2 484.9h1.6v1.0h-1.6zM463.9 485.0h1.5v1.6h-1.5zM462.1 485.1h2.0v1.7h-2.0zM466.1 491.7h1.6v1.7h-1.6zM467.4 490.8h1.7v2.1h-1.7zM468.8 491.2h1.8v1.8h-1.8zM470.5 491.1h1.1v1.6h-1.1zM469.0 492.5h1.7v1.2h-1.7zM469.9 493.2h1.6v2.0h-1.6zM468.5 493.7h1.3v2.0h-1.3zM468.8 495.1h2.0v1.4h-2.0zM468.4 497.2h1.0v1.6h-1.0zM467.0 496.3h1.1v2.2h-1.1zM465.4 496.1h1.4v1.9h-1.4zM464.0 496.5h1.4v1.5h-1.4zM465.2 495.4h2.2v2.2h-2.2zM466.9 496.1h2.1v1.3h-2.1zM468.6 496.1h1.8v1.5h-1.8zM466.2 485.1h1.3v2.0h-1.3zM464.6 485.0h1.3v2.0h-1.3zM466.2 485.2h1.3v1.1h-1.3zM466.5 486.3h1.6v2.0h-1.6zM464.1 484.0h1.9v1.4h-1.9zM465.9 483.8h1.3v1.3h-1.3zM466.8 483.0h2.2v2.2h-2.2zM468.2 484.4h1.7v1.1h-1.7zM468.9 482.8h2.1v2.1h-2.1zM470.4 483.0h1.6v2.2h-1.6zM471.6 483.3h1.6v1.9h-1.6zM501.9 438.8h1.9v2.0h-1.9zM500.7 439.2h1.3v1.6h-1.3zM499.5 439.7h1.0v1.5h-1.0zM498.2 440.6h1.3v1.3h-1.3zM499.3 439.7h1.9v1.0h-1.9zM500.9 439.8h1.8v2.0h-1.8zM499.9 440.3h1.1v1.9h-1.1zM498.1 440.5h1.9v2.2h-1.9zM499.6 440.0h2.2v2.1h-2.2zM501.3 439.6h1.6v1.0h-1.6zM502.5 438.6h1.8v1.5h-1.8zM527.4 432.7h1.8v2.1h-1.8zM525.8 432.7h2.2v1.5h-2.2zM526.1 434.2h1.4v1.5h-1.4zM524.6 433.6h1.9v1.1h-1.9zM523.4 433.6h1.5v1.2h-1.5zM525.1 432.4h1.4v2.3h-1.4zM523.6 433.3h1.7v1.3h-1.7zM525.3 433.8h1.4v1.6h-1.4zM527.0 433.8h1.3v1.7h-1.3zM525.3 432.9h2.1v2.0h-2.1zM527.0 433.1h1.8v2.1h-1.8zM514.7 437.9h2.0v1.2h-2.0zM515.6 436.4h1.8v1.8h-1.8zM516.8 437.4h1.3v2.3h-1.3zM516.0 436.3h1.1v1.9h-1.1zM514.1 436.7h1.8v1.4h-1.8zM515.3 436.8h2.2v2.3h-2.2zM514.4 436.3h2.1v1.1h-2.1zM516.0 435.3h1.1v1.1h-1.1zM517.1 435.9h1.7v1.0h-1.7zM518.8 435.3h1.1v2.2h-1.1zM517.2 435.2h1.0v1.9h-1.0zM490.4 440.2h1.2v1.9h-1.2zM491.6 440.2h1.8v1.5h-1.8zM493.1 439.6h1.4v1.4h-1.4zM494.3 440.3h1.5v1.2h-1.5zM492.2 440.4h2.3v2.0h-2.3zM491.4 439.9h1.2v1.1h-1.2zM492.6 439.2h1.8v2.2h-1.8zM491.3 440.0h1.2v1.0h-1.2zM489.6 439.3h1.5v1.5h-1.5zM515.6 436.3h1.8v2.1h-1.8zM514.0 436.8h1.9v1.3h-1.9zM515.8 436.3h1.3v1.2h-1.3zM516.3 434.6h2.2v2.2h-2.2zM518.5 437.9h1.1v2.1h-1.1zM517.0 438.3h1.1v1.5h-1.1zM518.2 438.7h1.9v1.1h-1.9zM519.9 439.2h1.1v1.6h-1.1zM521.2 439.4h1.3v1.5h-1.3zM522.6 438.7h1.0v1.7h-1.0zM514.5 437.4h1.6v1.4h-1.6zM516.1 436.6h1.1v1.9h-1.1zM514.0 436.7h2.2v2.1h-2.2zM515.9 436.8h1.5v2.3h-1.5zM517.4 438.0h1.3v1.0h-1.3zM539.6 436.8h1.6v1.1h-1.6zM538.0 436.8h1.8v1.8h-1.8zM539.4 436.7h2.1v1.2h-2.1zM538.4 436.4h1.0v2.1h-1.0zM539.5 437.1h2.1v1.6h-2.1zM540.5 438.3h2.0v1.3h-2.0zM539.6 438.6h1.1v2.0h-1.1zM539.2 439.9h1.6v2.1h-1.6zM519.8 431.8h1.4v1.8h-1.4zM520.8 433.1h1.7v1.2h-1.7zM522.5 433.3h1.1v1.6h-1.1zM523.3 433.6h2.0v2.1h-2.0zM521.8 433.7h1.6v1.1h-1.6zM520.4 433.1h1.2v1.6h-1.2zM519.1 434.2h1.2v1.1h-1.2zM520.3 433.2h1.8v2.1h-1.8zM522.1 433.7h1.2v1.4h-1.2zM523.1 434.3h1.8v1.1h-1.8zM521.8 434.5h1.6v2.1h-1.6zM513.3 441.2h2.2v1.3h-2.2zM512.4 441.1h1.0v1.0h-1.0zM511.1 440.2h1.0v1.7h-1.0zM510.0 441.3h1.8v2.2h-1.8zM511.9 441.3h1.4v2.0h-1.4zM510.2 442.0h2.1v1.9h-2.1zM512.0 442.7h1.8v1.3h-1.8zM516.9 438.8h1.8v1.3h-1.8zM515.7 437.8h2.0v1.4h-2.0zM514.3 436.7h2.2v2.1h-2.2zM515.5 438.0h2.2v1.8h-2.2zM514.0 440.0h1.3v1.8h-1.3zM512.8 439.5h1.0v1.5h-1.0zM511.1 440.2h2.1v1.7h-2.1zM512.5 439.3h1.9v1.7h-1.9zM514.4 439.5h1.3v1.2h-1.3zM515.2 438.0h1.4v1.7h-1.4zM516.5 438.9h1.6v1.2h-1.6zM514.9 438.9h1.4v1.3h-1.4zM533.0 436.6h1.8v1.8h-1.8zM534.7 436.1h1.4v1.6h-1.4zM536.0 435.4h1.3v2.0h-1.3zM536.3 434.0h1.7v2.0h-1.7zM535.1 435.3h1.5v1.6h-1.5zM499.4 446.7h2.3v1.8h-2.3zM498.6 447.7h1.1v1.0h-1.1zM499.4 446.4h2.0v1.6h-2.0zM500.9 445.7h1.8v1.8h-1.8zM502.3 444.7h1.1v1.9h-1.1zM503.5 444.3h1.6v2.3h-1.6zM504.8 444.5h1.5v1.2h-1.5zM528.6 439.1h1.7v2.3h-1.7zM527.3 438.0h2.3v2.2h-2.3zM526.3 437.6h1.8v1.6h-1.8zM524.8 437.6h2.1v1.1h-2.1zM526.6 438.0h1.6v1.7h-1.6zM502.8 442.5h1.7v2.1h-1.7zM501.2 443.0h1.8v1.6h-1.8zM499.9 443.2h1.6v1.5h-1.6zM501.6 443.5h1.4v1.8h-1.4zM502.7 442.0h1.3v2.3h-1.3zM504.2 442.7h1.4v1.3h-1.4zM505.5 438.9h2.1v1.6h-2.1zM504.8 437.6h1.8v1.7h-1.8zM506.0 437.1h2.0v1.1h-2.0zM508.0 436.9h1.0v1.1h-1.0zM506.3 436.5h1.2v1.6h-1.2zM507.8 436.3h1.0v1.2h-1.0zM518.4 430.6h2.1v1.8h-2.1zM520.0 430.9h1.9v1.3h-1.9zM518.4 431.3h2.2v1.6h-2.2zM517.2 430.5h1.6v2.0h-1.6zM516.0 431.0h1.3v1.2h-1.3zM517.0 431.9h1.9v1.3h-1.9zM518.4 431.4h2.3v1.4h-2.3zM520.0 430.4h1.6v1.7h-1.6zM521.6 430.9h1.1v1.0h-1.1zM510.7 437.9h2.0v1.6h-2.0zM512.2 438.6h1.8v1.6h-1.8zM513.3 439.2h1.9v2.1h-1.9zM515.1 439.7h1.1v1.2h-1.1zM516.3 438.8h1.2v1.7h-1.2zM514.1 438.9h2.1v2.2h-2.1zM520.8 434.0h1.2v1.9h-1.2zM519.3 433.2h1.7v1.5h-1.7zM517.8 434.0h2.0v1.0h-2.0zM516.7 434.7h2.0v1.3h-2.0zM515.7 434.4h1.3v1.8h-1.3zM514.4 435.4h2.0v1.7h-2.0zM513.4 435.0h1.6v1.3h-1.6zM549.3 433.1h1.2v1.3h-1.2zM547.9 433.0h1.0v2.2h-1.0zM546.2 432.5h2.0v1.9h-2.0zM544.8 433.1h2.0v1.1h-2.0zM546.8 432.9h1.3v1.7h-1.3zM547.7 434.1h1.8v1.7h-1.8zM546.3 433.8h1.7v1.8h-1.7zM544.9 433.5h1.8v1.7h-1.8zM546.6 432.8h1.7v2.1h-1.7zM529.0 432.1h1.7v1.3h-1.7zM527.7 431.1h1.8v1.7h-1.8zM529.3 432.0h1.6v1.3h-1.6zM530.8 431.5h1.4v1.4h-1.4zM529.5 430.4h1.6v1.8h-1.6zM530.8 430.3h1.9v2.3h-1.9zM529.9 431.7h1.6v1.8h-1.6zM528.4 432.3h1.7v1.7h-1.7zM527.8 431.3h1.0v1.4h-1.0zM524.8 442.3h1.4v1.0h-1.4zM526.0 441.0h1.1v1.4h-1.1zM526.6 442.1h2.1v1.2h-2.1zM528.5 441.6h1.1v1.5h-1.1zM527.0 443.0h1.9v1.2h-1.9zM525.8 442.6h1.1v1.8h-1.1zM524.0 443.4h2.2v1.9h-2.2zM525.4 443.1h2.1v1.2h-2.1zM526.8 442.5h2.2v1.9h-2.2zM525.5 441.7h2.2v1.6h-2.2zM540.4 436.2h1.6v1.6h-1.6zM539.0 437.1h1.8v1.2h-1.8zM537.6 436.7h1.7v2.0h-1.7zM536.0 436.4h2.2v1.8h-2.2zM538.1 435.9h1.5v2.1h-1.5zM536.4 436.5h2.2v1.9h-2.2zM537.8 432.9h1.5v1.2h-1.5zM536.5 432.0h1.1v2.0h-1.1zM534.7 432.7h2.3v2.1h-2.3zM536.1 433.6h2.1v2.2h-2.1zM538.1 434.6h1.1v1.5h-1.1zM536.2 435.0h1.8v1.0h-1.8zM513.7 433.0h1.2v1.9h-1.2zM511.9 433.1h1.8v1.5h-1.8zM510.8 432.0h1.4v2.2h-1.4zM509.5 432.5h1.3v1.7h-1.3zM508.4 433.2h1.4v1.9h-1.4zM507.6 434.6h1.9v1.9h-1.9zM506.7 434.6h1.4v1.2h-1.4zM505.6 434.5h1.1v1.0h-1.1zM505.0 435.1h1.1v1.9h-1.1zM533.2 444.0h1.6v2.1h-1.6zM531.7 444.4h1.4v1.4h-1.4zM533.1 444.3h1.8v2.2h-1.8zM532.2 443.6h1.4v1.5h-1.4zM533.4 443.9h2.1v1.7h-2.1zM534.4 442.8h2.1v1.7h-2.1zM536.2 442.6h1.2v1.0h-1.2zM536.6 441.4h2.1v1.2h-2.1zM535.5 440.5h1.2v1.9h-1.2zM536.6 439.6h1.2v2.2h-1.2zM537.9 440.3h1.2v1.9h-1.2zM538.1 443.4h1.3v2.1h-1.3zM536.4 444.6h2.2v1.0h-2.2zM537.2 445.7h2.2v1.4h-2.2zM535.9 446.1h2.1v1.6h-2.1zM538.0 445.8h1.0v1.2h-1.0zM536.5 445.4h1.0v1.5h-1.0zM535.1 443.8h2.1v2.1h-2.1zM540.1 444.4h1.6v1.6h-1.6zM538.9 445.2h1.7v1.9h-1.7zM540.2 444.8h1.9v1.3h-1.9zM539.1 443.7h1.4v2.2h-1.4zM539.2 443.6h1.7v2.2h-1.7zM540.5 443.1h1.8v1.9h-1.8zM542.0 442.8h1.6v1.9h-1.6zM543.5 442.7h1.3v1.5h-1.3zM541.6 442.5h1.6v2.3h-1.6zM541.7 444.3h2.1v1.7h-2.1zM540.4 443.8h1.5v1.6h-1.5zM538.5 443.2h2.3v1.7h-2.3zM540.4 443.6h1.7v1.5h-1.7zM531.7 445.0h1.1v1.6h-1.1zM529.7 444.7h2.0v2.3h-2.0zM531.0 445.9h1.8v1.7h-1.8zM530.0 444.9h1.5v1.8h-1.5zM528.4 444.2h2.1v1.7h-2.1zM527.4 444.1h1.4v1.7h-1.4zM528.9 443.8h1.8v2.2h-1.8zM530.5 443.7h1.7v1.3h-1.7zM496.1 439.7h2.2v2.1h-2.2zM497.9 440.6h1.4v1.2h-1.4zM496.3 441.2h2.1v1.7h-2.1zM497.4 442.4h1.8v1.5h-1.8zM498.7 442.3h2.1v1.2h-2.1zM497.4 441.2h2.0v1.5h-2.0zM498.8 440.3h1.7v1.8h-1.7zM493.9 436.8h1.1v1.7h-1.1zM492.3 436.2h1.8v1.2h-1.8zM490.9 436.0h1.7v2.1h-1.7zM492.4 436.6h1.8v2.0h-1.8zM494.1 436.0h1.3v2.0h-1.3zM495.1 437.0h2.1v1.1h-2.1zM493.7 436.4h1.8v1.5h-1.8zM492.2 436.5h1.8v1.7h-1.8zM495.3 439.7h2.1v1.6h-2.1zM496.8 438.9h1.1v1.1h-1.1zM495.1 439.8h2.2v1.4h-2.2zM493.9 439.1h1.6v2.3h-1.6zM495.5 439.8h1.5v1.4h-1.5zM493.7 439.3h2.2v1.6h-2.2zM495.8 438.7h1.1v1.9h-1.1zM494.0 439.2h1.7v1.4h-1.7zM495.4 440.9h1.5v1.0h-1.5zM493.9 440.5h1.5v1.7h-1.5zM492.5 441.2h1.6v1.2h-1.6zM494.0 441.4h1.7v1.7h-1.7zM492.3 441.7h2.2v1.2h-2.2zM491.5 442.2h1.5v1.5h-1.5zM490.1 441.7h1.7v1.8h-1.7zM489.6 440.7h1.6v1.2h-1.6zM490.7 439.6h2.2v1.1h-2.2zM489.6 439.8h1.9v1.5h-1.9zM495.0 441.0h2.1v1.6h-2.1zM496.5 441.3h2.0v1.5h-2.0zM494.8 441.3h2.2v2.1h-2.2zM496.5 440.5h1.3v2.0h-1.3zM495.0 439.9h1.7v1.5h-1.7zM496.6 439.9h1.6v2.0h-1.6zM495.2 440.6h1.3v1.4h-1.3zM493.6 440.8h1.7v2.0h-1.7zM496.3 438.9h1.0v1.8h-1.0zM497.6 438.6h1.5v2.3h-1.5zM496.1 438.8h1.3v2.0h-1.3zM497.5 438.9h1.5v2.1h-1.5zM498.8 439.2h1.7v2.0h-1.7zM497.0 438.8h2.2v1.8h-2.2zM495.7 439.0h1.7v2.2h-1.7zM495.0 440.6h2.0v1.8h-2.0zM496.7 441.7h1.1v1.0h-1.1zM497.4 442.2h2.1v1.7h-2.1zM498.6 441.3h2.2v1.8h-2.2zM500.2 441.1h1.6v2.1h-1.6zM493.5 437.4h1.1v1.7h-1.1zM492.8 436.1h1.8v1.4h-1.8zM494.4 436.5h1.3v2.2h-1.3zM495.6 436.3h1.7v1.6h-1.7zM496.8 437.2h1.5v1.6h-1.5zM495.1 437.7h1.6v1.3h-1.6zM493.5 437.2h1.9v1.1h-1.9zM565.9 433.2L562.4 431.5L563.3 428.6L565.6 425.7L570.1 426.7L574.8 428.2L571.9 431.2L569.5 432.8zM571.0 426.7h1.8v1.5h-1.8zM569.8 426.5h1.4v1.7h-1.4zM568.6 425.5h2.1v1.3h-2.1zM567.5 424.5h1.7v2.1h-1.7zM572.5 424.6h1.5v2.3h-1.5zM571.1 424.0h1.7v2.0h-1.7zM569.9 423.2h1.7v1.9h-1.7zM570.0 425.2h1.5v1.0h-1.5zM569.6 423.2h2.1v2.0h-2.1zM567.0 428.2h2.2v1.1h-2.2zM568.1 427.2h2.0v1.2h-2.0zM568.5 428.4h2.0v1.8h-2.0zM570.1 428.9h1.7v1.2h-1.7zM566.9 428.8h1.0v2.2h-1.0zM567.6 428.4h1.9v1.0h-1.9zM569.3 427.5h1.3v1.8h-1.3zM569.1 426.4h1.7v1.2h-1.7zM568.9 428.0h2.0v1.2h-2.0zM570.3 428.2h1.8v1.5h-1.8zM570.9 426.4h1.5v2.1h-1.5zM571.7 425.3h1.2v1.7h-1.2zM572.6 433.3h1.8v1.1h-1.8zM573.8 432.4h2.3v1.9h-2.3zM575.0 433.7h1.9v1.6h-1.9zM573.7 434.1h1.3v1.2h-1.3zM574.3 432.5h1.8v2.0h-1.8zM563.5 431.1h1.9v1.6h-1.9zM564.0 429.6h1.4v1.5h-1.4zM565.5 430.5h1.1v1.3h-1.1zM566.7 430.6h1.6v1.5h-1.6zM576.7 431.2h2.1v1.5h-2.1zM576.9 432.7h1.8v1.5h-1.8zM578.8 432.6h1.2v1.9h-1.2zM569.9 429.1h1.4v1.7h-1.4zM569.6 430.3h1.5v2.2h-1.5zM569.6 431.8h1.6v2.2h-1.6zM567.9 432.3h2.1v1.7h-2.1zM567.2 433.3h1.9v1.8h-1.9zM566.0 434.5h2.3v1.1h-2.3zM567.3 432.6h1.9v1.9h-1.9zM566.9 428.5h2.1v1.5h-2.1zM566.9 426.9h1.9v1.7h-1.9zM567.3 425.7h1.6v1.2h-1.6zM565.6 425.6h2.0v1.2h-2.0zM564.1 426.2h2.1v1.0h-2.1zM565.6 425.0h1.5v1.5h-1.5zM565.0 423.8h1.7v1.4h-1.7zM598.3 423.9h1.5v1.5h-1.5zM597.2 424.8h1.1v1.2h-1.1zM597.5 421.7h1.5v1.6h-1.5zM598.0 422.8h2.0v2.2h-2.0zM596.7 421.7h2.2v2.1h-2.2zM595.6 421.4h1.7v1.9h-1.7zM601.5 423.5h1.9v1.1h-1.9zM602.6 421.8h1.1v1.7h-1.1zM603.1 423.4h1.4v1.3h-1.4zM601.6 422.0h1.9v2.1h-1.9zM600.5 422.6h1.1v1.0h-1.1zM601.8 423.3h1.2v1.2h-1.2zM602.0 425.1h1.6v2.0h-1.6zM602.7 427.0h1.7v1.1h-1.7zM600.9 426.7h2.2v1.7h-2.2zM600.6 428.2h1.8v1.7h-1.8zM555.9 456.8h2.1v1.4h-2.1zM557.3 456.8h1.6v1.8h-1.6zM558.2 456.6h1.9v1.4h-1.9zM556.9 456.8h2.0v1.4h-2.0zM556.1 456.8h1.3v1.8h-1.3zM557.1 457.1h1.6v1.7h-1.6zM556.0 456.9h1.5v1.3h-1.5zM527.3 463.0h1.3v1.9h-1.3zM528.5 463.1h1.5v1.5h-1.5zM529.7 463.1h1.3v1.4h-1.3zM530.7 463.3h1.5v1.9h-1.5zM529.0 463.3h2.1v1.7h-2.1zM527.9 463.1h1.6v1.8h-1.6zM526.6 463.0h1.7v1.8h-1.7zM541.9 459.1h2.2v1.7h-2.2zM540.9 458.6h1.9v2.0h-1.9zM542.4 459.4h1.2v1.3h-1.2zM540.8 458.7h2.1v2.0h-2.1zM539.8 459.7h2.1v1.2h-2.1zM538.9 459.8h1.7v1.2h-1.7zM541.1 468.6h1.0v1.3h-1.0zM585.5 467.2h1.7v1.3h-1.7zM568.1 491.7h1.3v0.8h-1.3zM563.6 502.2h1.9v1.6h-1.9zM576.8 462.3h1.8v1.1h-1.8zM615.2 525.1h0.9v0.8h-0.9zM505.2 503.4h1.4v1.3h-1.4zM538.5 497.0h0.9v1.0h-0.9zM587.6 467.6h0.9v1.3h-0.9zM617.1 524.2h1.9v1.4h-1.9zM500.2 461.9h1.5v1.2h-1.5zM599.7 452.0h1.6v0.9h-1.6zM589.9 456.4h1.4v1.4h-1.4zM617.3 513.2h1.7v1.0h-1.7zM576.0 492.7h1.4v1.3h-1.4zM552.5 479.6h1.7v1.3h-1.7zM616.1 523.7h1.8v0.9h-1.8zM559.5 489.0h1.7v1.5h-1.7zM522.7 450.0h1.8v1.6h-1.8zM539.9 497.5h1.3v1.1h-1.3zM575.5 504.8h1.9v1.1h-1.9zM558.3 485.4h2.0v1.2h-2.0zM609.7 526.8h0.8v1.4h-0.8zM512.6 489.4h1.6v0.9h-1.6zM568.8 504.7h1.2v1.2h-1.2zM547.0 461.4h1.1v1.6h-1.1zM575.5 492.5h1.8v1.5h-1.8zM590.0 481.5h1.4v1.1h-1.4zM507.3 523.4h0.9v1.1h-0.9zM601.3 474.4h1.9v0.8h-1.9zM517.2 485.1h1.6v1.4h-1.6zM607.1 514.8h1.0v1.6h-1.0zM504.9 486.9h1.2v0.8h-1.2zM523.4 529.0h2.0v1.1h-2.0zM619.6 508.4h0.8v1.3h-0.8zM523.8 471.8h1.7v1.0h-1.7zM541.7 449.9h1.2v1.0h-1.2zM513.0 457.3h1.3v0.9h-1.3zM611.7 470.2h1.2v0.9h-1.2zM597.0 464.6h0.9v1.1h-0.9zM608.8 522.8h1.4v1.3h-1.4zM507.9 521.7h1.7v1.0h-1.7zM600.1 462.3h1.4v1.0h-1.4zM567.4 469.6h1.5v1.0h-1.5zM501.0 458.5h1.7v1.2h-1.7zM560.9 502.3h1.1v1.0h-1.1zM548.1 509.5h1.7v1.2h-1.7zM571.9 469.7h1.9v1.3h-1.9zM595.7 478.8h1.5v1.4h-1.5zM563.3 510.1h1.1v1.4h-1.1zM528.0 498.1h1.5v2.2h-1.5zM529.3 498.7h1.9v1.9h-1.9zM533.4 456.0h1.7v1.4h-1.7zM534.7 456.5h1.6v2.0h-1.6zM566.7 484.4h1.8v1.4h-1.8zM567.8 485.1h2.1v1.8h-2.1zM566.6 485.9h1.7v1.4h-1.7zM568.2 486.0h1.4v1.6h-1.4zM527.4 501.6h2.1v1.1h-2.1zM528.7 502.6h2.0v1.2h-2.0zM573.8 490.2h1.3v1.6h-1.3zM575.2 490.9h1.1v1.8h-1.1zM576.4 491.3h1.2v2.2h-1.2zM543.3 479.9h1.6v1.1h-1.6zM544.8 479.4h1.4v1.2h-1.4zM543.2 478.5h1.6v1.8h-1.6zM542.0 478.4h1.0v2.2h-1.0zM555.8 455.3h1.3v1.7h-1.3zM556.6 454.8h2.3v1.3h-2.3zM525.3 468.2h1.6v1.1h-1.6zM525.5 469.2h1.1v2.1h-1.1zM555.7 452.5h1.4v2.0h-1.4zM554.6 451.1h2.0v2.3h-2.0zM534.4 486.6h1.1v1.9h-1.1zM535.1 485.4h1.6v2.0h-1.6zM536.3 485.6h2.2v2.3h-2.2zM537.3 497.7h1.6v1.1h-1.6zM536.0 498.2h2.1v2.2h-2.1zM537.0 499.3h2.2v2.3h-2.2zM540.7 473.0h2.1v1.7h-2.1zM542.3 473.4h1.8v2.2h-1.8zM536.2 455.8h1.6v1.1h-1.6zM537.1 456.9h1.1v1.6h-1.1zM535.4 456.7h1.3v1.6h-1.3zM538.6 507.1h2.1v1.5h-2.1zM537.4 507.1h1.5v1.0h-1.5zM612.0 482.9h1.8v1.1h-1.8zM612.7 483.8h2.1v1.8h-2.1zM612.0 485.3h2.1v1.4h-2.1zM610.6 485.3h2.0v2.1h-2.0zM611.4 483.0h1.7v1.7h-1.7zM609.9 482.5h1.6v2.0h-1.6zM610.0 484.1h1.6v1.9h-1.6zM610.3 484.3h1.3v1.7h-1.3zM611.7 483.6h1.3v2.1h-1.3zM612.6 482.9h1.6v1.5h-1.6zM613.6 483.7h1.7v2.1h-1.7zM609.0 474.8h1.7v2.0h-1.7zM607.6 474.8h1.4v1.8h-1.4zM606.8 468.3h2.0v1.2h-2.0zM606.7 469.5h1.9v1.8h-1.9zM608.1 468.8h1.6v1.1h-1.6zM612.4 471.7h1.0v2.2h-1.0zM613.6 472.3h1.5v2.0h-1.5zM610.2 476.2h2.1v1.5h-2.1zM609.2 475.3h2.2v1.1h-2.2zM652.1 490.9h1.8v2.2h-1.8zM651.0 491.5h1.8v1.4h-1.8zM649.7 491.7h2.2v1.4h-2.2zM651.0 491.7h2.1v1.5h-2.1zM652.3 491.8h1.6v2.2h-1.6zM610.0 505.6h2.0v1.1h-2.0zM612.1 508.0h1.4v1.2h-1.4zM610.7 507.7h1.4v1.6h-1.4zM612.9 507.7h1.5v1.1h-1.5zM614.2 507.7h1.3v1.3h-1.3zM608.5 504.0h1.8v1.3h-1.8zM616.4 509.6h1.2v1.9h-1.2zM623.0 514.5h2.2v1.0h-2.2zM620.2 512.6h1.8v1.0h-1.8zM621.0 513.7h1.4v1.8h-1.4zM615.4 511.2h2.4v1.9h-2.4zM617.4 510.6h1.2v1.3h-1.2zM623.0 515.0h1.6v1.5h-1.6zM625.2 517.6h1.4v1.0h-1.4zM639.0 526.0h1.6v1.5h-1.6zM636.0 522.0h2.3v1.3h-2.3zM633.1 521.8h2.4v1.5h-2.4zM633.6 522.9h1.9v1.2h-1.9zM639.0 524.1h2.1v1.3h-2.1zM635.2 522.2h1.4v1.3h-1.4zM630.9 520.0h1.8v1.7h-1.8zM625.8 516.9h1.7v1.2h-1.7zM638.3 524.9h2.1v1.3h-2.1zM625.5 516.0h1.5v1.9h-1.5zM627.1 516.6h1.5v1.3h-1.5zM625.9 514.6h1.5v1.9h-1.5zM649.2 530.5h1.4v1.1h-1.4zM647.7 528.2h1.1v1.0h-1.1zM653.1 532.6h2.2v1.3h-2.2zM643.1 527.2h1.7v1.0h-1.7zM647.9 529.7h1.3v1.9h-1.3zM653.9 533.1h1.5v1.3h-1.5zM646.1 528.9h1.5v1.5h-1.5zM648.9 530.2h1.6v1.1h-1.6zM654.7 534.0h2.3v1.2h-2.3zM652.3 532.4h2.3v1.1h-2.3zM646.4 531.1h2.2v1.4h-2.2zM649.2 529.6h2.0v1.7h-2.0zM559.9 523.8h2.2v2.3h-2.2zM561.9 524.4h1.3v1.4h-1.3zM562.8 524.2h2.2v1.0h-2.2zM557.0 525.4h1.3v1.2h-1.3zM555.6 524.8h1.2v1.3h-1.2zM554.0 524.4h1.5v1.4h-1.5zM552.8 524.0h1.2v1.5h-1.2zM551.2 523.7h2.0v1.2h-2.0zM550.4 523.1h1.2v1.9h-1.2zM549.6 522.5h1.3v1.2h-1.3zM567.1 525.7h2.1v1.6h-2.1zM568.7 524.9h1.6v1.9h-1.6zM566.9 524.7h2.1v1.8h-2.1zM565.4 525.2h2.2v1.1h-2.2zM564.5 524.1h1.6v1.8h-1.6zM563.4 523.5h1.4v1.4h-1.4zM561.8 523.1h2.3v1.1h-2.3zM559.1 522.4h1.7v1.4h-1.7zM557.6 522.7h1.8v2.0h-1.8zM558.7 524.1h1.3v1.7h-1.3zM556.8 524.1h2.1v2.0h-2.1zM558.6 524.0h1.6v1.1h-1.6zM560.8 524.8h1.3v1.2h-1.3zM559.2 524.9h1.6v2.2h-1.6zM560.8 524.8h1.6v2.1h-1.6zM559.8 523.5h2.0v2.0h-2.0zM561.2 522.9h1.9v1.9h-1.9zM562.9 523.6h1.3v1.7h-1.3zM562.2 522.2h1.3v1.8h-1.3zM563.4 522.2h1.8v2.2h-1.8zM561.3 525.2h2.0v1.2h-2.0zM562.6 523.9h1.6v1.7h-1.6zM561.4 524.0h1.1v1.2h-1.1zM562.7 523.8h1.4v1.0h-1.4zM563.9 523.3h1.9v2.0h-1.9zM564.4 522.1h2.2v2.0h-2.2zM563.1 522.0h1.6v1.3h-1.6zM561.7 522.7h1.5v1.2h-1.5zM583.9 523.3h1.8v1.8h-1.8zM582.3 522.6h2.1v2.2h-2.1zM582.6 521.1h1.8v2.2h-1.8zM583.3 525.2h1.5v1.3h-1.5zM583.1 526.8h1.2v1.1h-1.2zM581.6 525.7h1.6v2.0h-1.6zM581.1 524.1h2.2v2.2h-2.2zM582.5 521.7h1.2v1.0h-1.2zM582.7 522.5h2.2v2.1h-2.2zM539.5 554.1h1.0v1.4h-1.0zM540.5 553.7h2.1v2.2h-2.1zM542.0 553.4h1.6v1.6h-1.6zM540.2 552.7h2.0v2.0h-2.0zM541.7 553.3h2.0v1.6h-2.0zM540.2 553.5h1.7v2.1h-1.7zM543.8 551.5h1.2v1.6h-1.2zM541.8 551.4h2.2v2.0h-2.2zM540.9 551.3h1.3v1.6h-1.3zM539.3 551.6h1.8v2.0h-1.8zM541.6 553.6h2.1v2.1h-2.1zM543.1 553.2h1.7v1.2h-1.7zM541.8 552.7h1.2v1.9h-1.2zM540.2 552.9h1.5v1.0h-1.5zM541.2 551.9h2.0v1.3h-2.0zM539.6 552.0h2.2v1.3h-2.2zM545.9 551.4h1.6v1.5h-1.6zM547.0 552.1h2.0v1.6h-2.0zM546.2 551.2h1.3v1.2h-1.3zM544.2 551.3h2.3v1.5h-2.3zM543.5 552.2h1.3v1.4h-1.3zM544.7 549.8h1.8v1.7h-1.8zM546.2 549.8h1.8v2.2h-1.8zM544.5 550.7h2.1v1.1h-2.1zM543.0 550.3h2.1v1.1h-2.1zM541.5 550.0h2.2v2.1h-2.2zM737.4 421.3h2.8v1.8h-2.8zM738.2 422.2h1.5v1.4h-1.5zM741.9 431.1h1.9v1.7h-1.9zM737.9 426.6h1.7v1.5h-1.7zM738.2 423.8h2.2v2.1h-2.2zM740.2 419.3h1.7v1.3h-1.7zM738.5 423.0h2.4v2.0h-2.4zM736.3 429.1h2.1v2.2h-2.1zM737.8 427.0h2.0v2.0h-2.0zM740.2 426.1h3.0v1.2h-3.0zM741.4 430.7h2.0v2.4h-2.0zM733.2 423.7h2.2v2.2h-2.2zM740.8 429.0h1.9v1.9h-1.9zM748.8 437.8h2.8v2.0h-2.8zM747.3 434.7h1.5v1.5h-1.5zM744.0 434.7h2.8v1.6h-2.8zM749.2 432.0h2.3v2.0h-2.3zM742.3 430.9h1.5v2.4h-1.5zM740.3 436.6h3.0v2.1h-3.0zM741.7 442.0h2.2v1.3h-2.2zM737.5 429.6h2.9v2.2h-2.9zM741.3 436.7h2.4v2.1h-2.4zM740.0 433.9h2.5v1.8h-2.5zM740.0 428.7h1.6v1.2h-1.6zM743.7 436.5h2.8v2.0h-2.8zM746.7 438.0h1.3v2.5h-1.3zM743.7 437.5h2.7v1.4h-2.7zM743.1 443.1h1.2v1.3h-1.2zM745.4 443.3h2.7v2.2h-2.7zM740.5 430.6h1.6v1.7h-1.6zM748.1 443.6h1.3v1.5h-1.3zM750.2 441.7h1.7v2.0h-1.7zM750.8 443.2h3.0v1.7h-3.0zM745.9 440.5h2.9v2.2h-2.9zM747.8 448.1h1.3v1.6h-1.3zM749.4 443.6h1.3v1.9h-1.3zM747.4 447.2h3.2v2.1h-3.2zM750.1 450.2h3.0v1.3h-3.0zM748.0 446.7h1.5v2.2h-1.5zM749.5 444.3h2.6v1.7h-2.6zM758.0 451.6h1.7v2.2h-1.7zM751.0 444.5h1.5v2.3h-1.5zM749.6 444.2h2.4v2.1h-2.4zM755.4 449.9h2.8v2.2h-2.8zM744.1 443.1h3.0v1.6h-3.0zM749.2 449.4h1.4v1.8h-1.4zM748.9 450.3h2.2v1.5h-2.2zM751.2 446.5h1.3v1.7h-1.3zM748.9 435.5h2.4v1.9h-2.4zM753.6 457.6h2.4v2.4h-2.4zM756.3 455.7h1.3v1.6h-1.3zM757.3 451.5h3.2v2.3h-3.2zM761.0 456.1h1.6v2.1h-1.6zM752.6 458.9h2.5v2.3h-2.5zM755.2 446.0h1.7v2.3h-1.7zM756.5 448.9h2.9v1.3h-2.9zM751.4 451.5h2.0v2.5h-2.0zM758.9 458.8h2.8v2.0h-2.8zM754.1 450.4h1.4v2.4h-1.4zM760.2 458.7h3.1v2.6h-3.1zM761.9 451.7h2.0v2.2h-2.0zM759.2 453.5h2.9v2.2h-2.9zM763.4 454.5h1.6v1.7h-1.6zM757.3 454.3h2.9v2.5h-2.9zM760.9 461.1h2.3v2.5h-2.3zM758.2 456.0h2.1v1.8h-2.1zM765.3 465.6h1.7v1.3h-1.7zM763.0 456.0h2.0v1.4h-2.0zM761.2 465.6h2.9v1.7h-2.9zM763.6 455.6h2.6v1.7h-2.6zM772.9 468.1h2.6v1.3h-2.6zM762.4 452.9h1.4v2.0h-1.4zM761.3 458.7h3.0v1.4h-3.0zM760.8 457.0h3.0v2.5h-3.0zM761.8 459.1h2.2v1.4h-2.2zM765.6 464.4h1.2v2.5h-1.2zM761.9 464.1h2.8v1.9h-2.8zM765.5 462.5h2.1v2.3h-2.1zM763.9 460.9h1.6v1.3h-1.6zM763.7 466.0h1.7v2.2h-1.7zM765.5 468.2h1.7v2.5h-1.7zM761.0 469.5h2.2v1.5h-2.2zM773.7 468.4h1.8v1.3h-1.8zM770.3 472.5h2.0v2.2h-2.0zM769.7 461.2h2.5v2.4h-2.5zM772.7 471.1h1.7v2.3h-1.7zM766.6 472.2h1.3v2.0h-1.3zM770.4 469.0h1.6v2.2h-1.6zM762.3 471.4h1.3v2.4h-1.3zM767.1 469.8h1.3v2.2h-1.3zM768.8 463.4h1.7v2.3h-1.7zM770.9 470.6h2.1v1.3h-2.1zM771.9 478.4h2.9v2.2h-2.9zM777.7 478.6h2.0v2.2h-2.0zM780.7 478.8h1.9v1.2h-1.9zM766.5 474.9h2.8v1.8h-2.8zM777.3 475.3h1.8v2.1h-1.8zM774.2 474.1h1.5v2.2h-1.5zM773.6 473.4h1.3v1.5h-1.3zM775.1 478.5h2.0v1.4h-2.0zM766.1 476.2h2.6v1.3h-2.6zM772.5 474.6h2.6v2.2h-2.6zM774.6 473.9h1.9v2.1h-1.9zM774.0 476.4h1.3v2.0h-1.3zM771.3 476.9h1.9v2.3h-1.9zM774.4 483.9h2.9v1.3h-2.9zM781.3 483.4h3.0v1.4h-3.0zM774.9 479.7h1.3v1.8h-1.3zM772.3 477.8h1.4v1.9h-1.4zM775.7 483.7h2.1v1.4h-2.1zM776.5 489.4h1.7v1.5h-1.7zM775.0 475.1h2.9v1.9h-2.9zM775.9 486.0h1.4v2.4h-1.4zM775.6 482.4h2.2v1.5h-2.2zM781.6 487.3h1.4v1.5h-1.4zM780.7 484.0h2.4v2.2h-2.4zM774.8 479.2h2.6v2.5h-2.6zM777.7 483.1h1.7v1.3h-1.7zM776.6 489.5h2.7v1.7h-2.7zM781.6 489.7h1.7v1.8h-1.7zM784.4 489.6h2.3v1.9h-2.3zM785.9 491.9h2.2v2.0h-2.2zM784.1 494.3h3.1v1.5h-3.1zM780.2 495.3h2.5v1.4h-2.5zM777.4 489.2h2.8v2.5h-2.8zM783.1 491.9h3.1v1.3h-3.1zM780.4 493.5h1.6v1.3h-1.6zM776.3 487.1h2.9v1.5h-2.9zM781.8 490.5h2.2v1.5h-2.2zM770.6 481.9h1.5v1.0h-1.5zM770.2 480.2h1.7v1.5h-1.7zM771.5 480.6h1.7v2.2h-1.7zM773.0 481.9h1.1v1.5h-1.1zM772.2 480.2h1.2v2.1h-1.2zM773.5 481.2h1.3v1.4h-1.3zM771.9 480.3h1.8v1.4h-1.8zM771.5 478.8h2.3v1.4h-2.3zM765.2 467.8h1.4v1.7h-1.4zM766.2 468.6h2.0v1.5h-2.0zM766.8 469.9h2.1v1.7h-2.1zM765.5 469.2h1.8v1.3h-1.8zM764.5 467.8h2.2v1.4h-2.2zM765.8 468.8h2.1v1.2h-2.1zM766.0 467.3h1.2v1.2h-1.2zM767.4 467.6h1.3v1.9h-1.3zM763.8 470.6h2.1v1.9h-2.1zM762.7 470.4h1.4v1.9h-1.4zM761.8 469.3h1.6v1.6h-1.6zM761.2 468.1h1.7v1.4h-1.7zM769.3 479.0h1.8v2.1h-1.8zM770.6 480.6h1.3v1.1h-1.3zM771.5 481.6h1.1v1.7h-1.1zM770.4 480.2h1.1v1.9h-1.1zM770.9 481.5h1.5v1.7h-1.5zM772.3 482.2h1.3v1.8h-1.3zM771.3 480.9h2.2v1.1h-2.2zM772.8 481.6h1.3v1.2h-1.3zM755.0 452.2h1.3v1.4h-1.3zM755.0 453.4h1.2v2.2h-1.2zM754.7 452.0h1.8v1.8h-1.8zM753.8 450.7h1.7v1.8h-1.7zM755.2 452.0h1.3v1.3h-1.3zM773.6 486.1h2.2v2.0h-2.2zM772.5 485.1h2.0v2.1h-2.0zM773.7 487.0h1.2v1.1h-1.2zM773.0 485.4h1.5v1.4h-1.5zM773.9 486.7h1.0v1.6h-1.0zM773.7 488.5h2.1v1.0h-2.1zM772.5 486.8h2.1v2.2h-2.1zM774.1 488.5h1.0v1.0h-1.0zM770.2 474.5h1.1v1.6h-1.1zM768.5 473.3h2.3v2.2h-2.3zM769.3 475.1h1.8v1.5h-1.8zM769.9 476.2h1.6v2.1h-1.6zM770.5 477.9h1.0v1.4h-1.0zM769.6 476.0h1.8v2.1h-1.8zM771.0 477.0h1.2v2.0h-1.2zM770.0 475.8h1.1v1.9h-1.1zM767.8 470.2h1.2v1.2h-1.2zM766.6 468.5h2.0v2.0h-2.0zM765.5 467.9h1.9v1.5h-1.9zM766.6 469.5h1.2v1.3h-1.2zM767.1 470.6h2.1v1.6h-2.1zM766.1 474.4h1.6v1.2h-1.6zM765.6 472.8h1.3v1.5h-1.3zM764.8 471.5h1.2v1.8h-1.2zM765.8 472.8h1.7v1.3h-1.7zM766.8 474.0h1.7v1.2h-1.7zM768.0 474.2h1.0v1.6h-1.0zM768.5 475.1h2.2v1.6h-2.2zM769.3 473.9h2.1v1.3h-2.1zM770.4 475.1h1.6v1.3h-1.6zM770.6 476.1h1.5v2.1h-1.5zM768.1 478.9h1.4v2.2h-1.4zM768.9 480.4h2.0v1.3h-2.0zM769.8 481.4h1.2v2.0h-1.2zM769.0 482.6h1.5v2.2h-1.5zM769.1 480.9h1.8v2.2h-1.8zM768.3 479.7h1.7v2.0h-1.7zM767.7 478.8h1.1v1.0h-1.1zM768.0 480.1h1.5v1.3h-1.5zM764.3 471.8h1.6v1.5h-1.6zM764.3 470.1h1.1v1.9h-1.1zM764.9 471.2h1.8v2.2h-1.8zM763.7 470.1h2.2v2.2h-2.2zM760.4 463.5h1.3v1.8h-1.3zM761.1 464.8h1.3v2.0h-1.3zM762.0 465.5h2.1v1.7h-2.1zM763.3 466.3h1.4v2.3h-1.4zM763.1 468.0h2.3v1.5h-2.3zM771.7 480.3h1.5v1.5h-1.5zM771.3 478.8h1.9v1.6h-1.9zM772.8 479.6h1.1v2.2h-1.1zM771.9 478.6h1.6v1.3h-1.6zM771.5 477.4h1.0v1.3h-1.0zM770.3 475.8h1.7v2.2h-1.7zM768.7 476.2h2.1v1.3h-2.1zM768.3 475.1h1.3v1.5h-1.3zM708.1 442.5h1.8v2.3h-1.8zM709.9 442.9h1.1v2.2h-1.1zM708.3 442.7h1.3v1.5h-1.3zM706.7 442.4h1.6v1.4h-1.6zM706.7 444.0h1.1v1.2h-1.1zM704.8 443.9h2.3v2.1h-2.3zM705.8 445.7h1.1v1.2h-1.1zM708.8 442.4h1.5v1.8h-1.5zM710.3 442.9h1.4v1.2h-1.4zM708.8 443.5h2.2v2.3h-2.2zM707.8 442.6h1.6v2.3h-1.6zM709.0 442.0h1.8v1.8h-1.8zM708.0 442.8h1.5v2.2h-1.5zM706.4 443.2h1.8v2.2h-1.8zM705.4 443.7h1.1v1.3h-1.1zM713.0 444.5h1.8v2.3h-1.8zM714.4 444.4h2.2v2.0h-2.2zM713.0 444.2h2.2v1.0h-2.2zM712.1 442.9h1.2v2.3h-1.2zM710.8 442.5h1.2v2.1h-1.2zM709.4 442.0h1.3v2.1h-1.3zM709.0 443.7h1.2v2.2h-1.2zM707.5 444.0h1.0v1.8h-1.0zM705.6 443.3h2.1v2.1h-2.1zM707.8 441.3h1.1v1.2h-1.1zM708.1 442.6h2.3v1.0h-2.3zM709.9 443.1h1.2v1.5h-1.2zM710.7 444.0h1.8v1.5h-1.8zM711.5 442.1h1.4v2.3h-1.4zM710.0 443.2h1.4v1.6h-1.4zM707.0 444.7h2.0v2.0h-2.0zM708.7 444.1h1.1v1.6h-1.1zM710.0 443.5h1.2v2.2h-1.2zM708.2 443.0h1.9v1.9h-1.9zM706.7 443.1h1.8v1.5h-1.8zM708.8 445.0h1.0v1.1h-1.0zM707.6 445.8h1.1v1.2h-1.1zM705.8 445.2h1.8v1.4h-1.8zM710.2 456.3h1.7v1.4h-1.7zM711.4 455.4h1.7v1.8h-1.7zM710.1 456.1h1.5v1.5h-1.5zM708.8 456.6h1.6v1.9h-1.6zM710.4 456.8h1.4v1.3h-1.4zM711.3 456.1h2.2v1.2h-2.2zM712.4 455.0h2.0v2.0h-2.0zM714.0 454.5h1.2v1.9h-1.2zM712.1 455.0h2.0v2.1h-2.0zM710.9 456.1h1.8v1.5h-1.8zM712.0 455.5h2.0v1.4h-2.0zM713.4 454.7h1.4v1.3h-1.4zM686.9 448.0h2.1v2.0h-2.1zM685.9 447.9h1.3v1.5h-1.3zM687.2 448.5h1.2v2.2h-1.2zM685.4 448.2h2.2v1.5h-2.2zM684.5 447.3h1.7v2.1h-1.7zM685.7 448.6h1.2v1.9h-1.2zM684.3 447.6h2.0v1.9h-2.0zM685.6 448.6h2.0v1.6h-2.0zM684.4 448.2h1.9v1.2h-1.9zM683.2 447.4h2.2v1.6h-2.2zM679.3 444.0h1.5v2.0h-1.5zM680.7 444.3h1.5v1.7h-1.5zM682.0 444.2h1.6v2.1h-1.6zM683.2 444.0h1.8v2.2h-1.8zM681.8 444.1h1.3v2.1h-1.3zM682.9 444.5h1.6v1.4h-1.6zM742.9 474.1h1.3v1.2h-1.3zM744.5 473.6h1.2v2.3h-1.2zM745.1 474.7h2.2v2.1h-2.2zM738.6 469.4h1.5v1.6h-1.5zM737.1 469.4h1.5v1.9h-1.5zM744.7 470.5h1.2v1.5h-1.2zM743.3 470.3h1.1v1.3h-1.1zM743.8 469.1h2.0v1.2h-2.0zM743.2 467.6h1.7v2.2h-1.7zM741.5 467.8h2.0v1.5h-2.0zM751.3 471.6h2.0v1.0h-2.0zM753.0 472.3h1.1v1.0h-1.1zM738.9 451.6h1.3v1.3h-1.3zM738.4 449.8h1.2v2.0h-1.2zM737.2 451.3h1.3v1.2h-1.3zM735.7 450.9h1.5v1.6h-1.5zM736.6 462.5h1.1v1.7h-1.1zM737.1 461.1h1.5v1.7h-1.5zM728.0 469.3h1.2v1.4h-1.2zM729.2 468.9h2.0v1.5h-2.0zM730.7 468.5h1.7v2.2h-1.7zM726.5 468.7h2.2v1.1h-2.2zM725.0 468.4h2.2v1.9h-2.2zM719.8 472.2h2.1v2.1h-2.1zM719.0 473.5h1.4v1.5h-1.4zM822.6 489.7L822.4 496.6L817.1 498.8L814.2 495.4L810.2 493.0L813.0 487.2L816.3 484.5L820.0 481.9L822.0 485.6zM819.4 486.7h1.1v1.6h-1.1zM817.8 486.5h1.3v1.9h-1.3zM819.3 486.1h1.2v1.3h-1.2zM819.6 487.5h1.5v1.6h-1.5zM807.8 484.9h1.2v1.7h-1.2zM806.0 484.7h1.6v1.3h-1.6zM805.1 485.5h1.4v1.8h-1.4zM806.7 485.5h1.6v1.5h-1.6zM808.3 486.2h1.2v1.3h-1.2zM806.5 485.5h1.8v1.5h-1.8zM821.0 488.6h1.7v1.3h-1.7zM822.0 489.4h1.6v1.9h-1.6zM820.7 490.4h1.9v1.9h-1.9zM822.4 490.7h1.5v1.8h-1.5zM823.0 489.2h1.2v1.8h-1.2zM821.6 490.5h2.2v1.7h-2.2zM823.2 490.2h2.0v1.7h-2.0zM822.8 491.6h1.3v1.3h-1.3zM825.4 488.0h1.2v2.2h-1.2zM823.6 488.3h1.8v1.3h-1.8zM825.4 487.4h1.0v1.5h-1.0zM823.4 488.0h2.2v1.7h-2.2zM822.4 487.5h1.6v1.9h-1.6zM823.7 487.6h2.1v2.2h-2.1zM811.4 490.7h2.0v2.0h-2.0zM810.9 491.8h1.3v2.2h-1.3zM811.4 493.3h2.0v1.7h-2.0zM811.7 495.0h1.3v1.2h-1.3zM810.2 494.1h1.7v1.1h-1.7zM809.1 492.9h1.2v2.2h-1.2zM817.5 496.8h1.2v1.8h-1.2zM818.6 496.1h1.9v2.2h-1.9zM817.3 495.7h2.0v1.2h-2.0zM819.1 496.0h1.2v2.0h-1.2zM820.2 495.3h1.2v1.6h-1.2zM814.7 484.1h2.0v1.1h-2.0zM813.6 482.9h1.7v1.8h-1.7zM812.0 482.3h2.0v2.0h-2.0zM813.3 483.5h2.2v1.6h-2.2zM814.0 482.1h1.3v1.5h-1.3zM812.2 482.4h2.3v2.2h-2.3zM812.4 481.3h1.4v1.5h-1.4zM812.5 482.8h2.0v1.8h-2.0zM816.2 489.6h1.4v1.5h-1.4zM815.5 490.6h1.4v2.1h-1.4zM817.0 491.1h1.4v1.7h-1.4zM816.3 492.4h1.9v2.0h-1.9zM815.3 493.7h1.9v1.4h-1.9zM817.6 486.3h1.6v2.0h-1.6zM817.7 487.9h1.9v1.7h-1.9zM818.6 486.6h2.1v2.1h-2.1zM817.4 486.2h1.4v2.1h-1.4zM816.1 487.3h1.4v1.4h-1.4zM817.5 485.9h1.2v2.1h-1.2zM817.8 481.1h1.0v1.7h-1.0zM817.2 479.3h1.4v2.2h-1.4zM818.3 480.9h1.6v1.2h-1.6zM817.1 479.7h2.0v1.2h-2.0zM818.5 478.3h1.6v2.1h-1.6zM816.8 478.2h2.0v1.4h-2.0zM815.8 478.8h1.5v2.2h-1.5zM815.6 480.6h2.0v1.9h-2.0zM842.1 466.9L840.9 470.3L842.0 475.5L834.9 474.7L829.6 470.4L829.5 466.3L832.9 465.1L836.9 463.4zM837.0 465.8h1.4v2.1h-1.4zM837.5 464.7h2.2v1.9h-2.2zM836.4 464.1h1.7v1.7h-1.7zM834.7 464.7h2.1v1.2h-2.1zM823.0 468.6h1.3v1.1h-1.3zM823.8 466.9h1.0v1.7h-1.0zM824.5 468.1h1.5v1.9h-1.5zM825.2 467.1h2.0v1.5h-2.0zM826.1 465.8h1.8v2.0h-1.8zM825.2 464.8h1.0v2.1h-1.0zM823.3 465.0h1.7v2.0h-1.7zM824.8 464.9h1.6v1.7h-1.6zM823.3 464.8h1.5v1.1h-1.5zM833.9 469.0h2.0v1.6h-2.0zM833.6 467.4h1.8v1.9h-1.8zM834.5 466.3h1.0v1.4h-1.0zM831.7 468.0h1.4v1.8h-1.4zM832.8 468.8h1.8v1.8h-1.8zM834.5 469.2h1.1v1.6h-1.1zM834.4 467.6h1.2v1.7h-1.2zM835.5 467.5h1.7v2.2h-1.7zM836.1 469.2h1.7v1.6h-1.7zM837.4 469.8h1.2v1.8h-1.2zM835.8 471.0h1.8v1.3h-1.8zM835.0 471.8h1.2v2.0h-1.2zM837.1 465.0h2.3v2.3h-2.3zM836.1 466.1h2.0v1.8h-2.0zM837.6 466.0h1.9v1.1h-1.9zM836.6 466.1h1.0v2.1h-1.0zM838.3 470.1h1.5v1.7h-1.5zM839.7 470.7h1.7v1.0h-1.7zM840.7 469.8h2.2v1.6h-2.2zM842.6 469.3h1.3v2.3h-1.3zM841.3 468.2h1.6v2.2h-1.6zM842.0 467.6h2.0v1.3h-2.0zM843.1 468.3h2.1v1.7h-2.1zM841.8 467.5h1.5v1.8h-1.5zM841.3 469.2h2.0v1.8h-2.0zM826.1 470.1h1.0v1.4h-1.0zM824.7 470.9h1.3v1.6h-1.3zM823.5 471.7h1.1v1.0h-1.1zM821.8 472.0h1.8v1.1h-1.8zM822.6 473.1h1.4v1.6h-1.4zM836.6 465.4h1.9v2.1h-1.9zM835.6 464.7h1.6v1.7h-1.6zM835.9 466.4h2.1v1.1h-2.1zM834.8 465.5h1.6v2.1h-1.6zM833.4 466.1h1.7v1.9h-1.7zM833.1 467.5h2.3v2.1h-2.3zM834.0 469.2h1.9v1.3h-1.9zM834.5 470.0h2.2v2.1h-2.2zM834.4 477.7h1.6v1.8h-1.6zM834.8 478.9h1.7v2.3h-1.7zM834.4 480.5h1.4v1.8h-1.4zM833.5 478.9h1.9v1.8h-1.9zM831.9 478.7h2.1v2.1h-2.1zM833.5 480.3h1.2v1.3h-1.2zM834.9 479.2h1.4v2.1h-1.4zM834.0 470.5h2.0v1.8h-2.0zM834.4 472.0h1.5v1.8h-1.5zM835.5 471.2h1.8v1.7h-1.8zM824.3 462.6h1.4v1.1h-1.4zM824.3 463.6h2.2v1.9h-2.2zM825.9 463.4h1.9v1.3h-1.9zM824.4 462.6h1.9v1.7h-1.9zM826.0 462.1h1.3v1.5h-1.3zM827.0 461.0h1.5v1.6h-1.5zM826.7 459.3h1.3v2.0h-1.3zM825.0 458.6h2.1v1.9h-2.1zM825.0 460.4h2.2v1.7h-2.2zM825.3 473.3h1.1v1.7h-1.1zM824.3 472.2h1.9v1.1h-1.9zM823.7 470.7h2.2v1.4h-2.2zM825.7 470.3h1.2v1.4h-1.2zM833.3 511.2h1.8v1.1h-1.8zM833.1 512.6h1.2v1.1h-1.2zM833.4 513.9h1.1v1.4h-1.1zM831.9 514.3h1.6v1.9h-1.6zM830.2 514.3h2.2v1.1h-2.2zM828.9 514.5h2.3v1.3h-2.3zM830.6 514.9h1.7v1.8h-1.7zM834.6 521.1h1.8v1.2h-1.8zM834.9 519.1h1.9v2.1h-1.9zM834.6 520.6h1.1v2.1h-1.1zM833.9 519.4h1.3v1.9h-1.3zM833.5 520.7h1.2v2.2h-1.2zM831.9 520.4h1.9v1.2h-1.9zM833.2 504.5h1.4v2.2h-1.4zM833.7 506.0h1.5v2.0h-1.5zM833.2 504.7h1.2v1.7h-1.2zM832.4 503.3h1.2v2.0h-1.2zM833.5 502.8h1.4v1.2h-1.4zM834.8 503.2h1.8v1.3h-1.8zM835.1 501.5h1.5v1.9h-1.5zM833.4 502.1h1.8v1.4h-1.8zM832.7 516.2h2.1v2.3h-2.1zM832.6 515.3h1.9v1.1h-1.9zM831.6 514.7h1.1v1.2h-1.1zM829.9 515.4h2.1v1.8h-2.1zM824.1 511.2h2.2v2.3h-2.2zM826.1 510.6h1.1v2.3h-1.1zM826.3 510.0h2.2v1.0h-2.2zM826.5 508.0h1.4v2.2h-1.4zM827.4 509.4h1.7v1.7h-1.7zM825.4 510.0h2.3v1.2h-2.3zM835.4 505.2h2.1v1.2h-2.1zM836.3 503.8h2.2v1.5h-2.2zM835.8 504.8h1.2v2.1h-1.2zM828.6 499.7h1.1v2.0h-1.1zM827.0 499.2h1.5v2.0h-1.5zM825.5 499.1h1.7v1.9h-1.7zM826.2 500.9h1.9v1.1h-1.9zM827.7 501.5h1.4v1.8h-1.4zM829.9 508.7h1.8v1.7h-1.8zM829.4 509.7h1.4v2.3h-1.4zM830.3 511.0h2.3v1.4h-2.3zM830.2 512.3h2.0v1.5h-2.0zM831.6 513.2h1.5v1.4h-1.5zM830.6 514.0h1.5v1.7h-1.5zM832.2 513.7h1.1v2.2h-1.1zM828.2 513.7h1.1v1.5h-1.1zM828.3 512.4h2.2v1.3h-2.2zM827.3 512.5h1.2v1.8h-1.2zM825.8 513.2h1.6v1.9h-1.6zM838.9 514.6h2.0v2.0h-2.0zM839.1 516.1h2.2v1.8h-2.2zM838.3 515.2h1.3v1.8h-1.3zM837.6 516.5h2.2v2.2h-2.2zM837.0 515.2h1.9v2.2h-1.9zM836.6 514.0h1.2v1.9h-1.2zM836.6 515.8h2.1v1.4h-2.1zM838.2 515.1h2.1v2.0h-2.1zM832.2 521.3h2.1v2.0h-2.1zM832.7 520.1h2.0v1.6h-2.0zM834.5 519.6h1.5v2.0h-1.5zM834.7 518.6h1.2v1.2h-1.2zM835.5 517.8h1.9v1.4h-1.9zM835.5 516.2h1.6v1.9h-1.6zM833.7 516.7h2.2v2.1h-2.2zM834.8 518.1h2.0v1.7h-2.0zM827.0 519.1h1.2v1.6h-1.2zM828.2 520.1h1.1v1.3h-1.1zM829.4 519.8h1.6v2.0h-1.6zM829.2 518.2h1.9v2.1h-1.9zM830.9 518.4h1.4v1.7h-1.4zM817.7 448.6h1.3v1.4h-1.3zM818.9 448.3h1.9v1.4h-1.9zM817.5 449.4h2.2v1.0h-2.2zM818.1 447.6h1.9v1.7h-1.9zM819.9 447.4h1.2v2.0h-1.2zM821.0 446.5h1.1v2.0h-1.1zM819.3 446.7h1.2v1.8h-1.2zM806.9 451.8h2.2v1.5h-2.2zM806.4 453.1h1.4v1.3h-1.4zM805.2 453.2h1.0v2.0h-1.0zM806.0 452.3h1.7v1.3h-1.7zM807.4 451.0h1.3v1.9h-1.3zM807.0 452.8h1.7v1.4h-1.7zM805.8 452.9h1.0v1.3h-1.0zM819.9 444.6h1.5v1.8h-1.5zM818.5 445.2h1.5v1.7h-1.5zM819.9 444.0h1.1v1.9h-1.1zM818.2 444.1h1.5v1.5h-1.5zM819.7 444.0h1.6v1.7h-1.6zM820.8 442.8h1.6v2.0h-1.6zM809.1 451.6h1.4v2.0h-1.4zM807.7 452.2h1.4v1.8h-1.4zM808.4 450.9h1.9v1.9h-1.9zM809.2 449.6h2.1v2.2h-2.1zM810.4 448.7h1.8v1.8h-1.8zM810.8 447.7h2.3v1.5h-2.3zM809.5 448.1h1.7v1.7h-1.7zM807.9 448.3h1.8v2.0h-1.8zM806.3 448.8h2.2v2.2h-2.2zM808.0 448.9h2.0v1.1h-2.0zM819.8 438.3h1.8v1.6h-1.8zM819.8 439.5h1.2v2.1h-1.2zM818.9 441.2h1.9v1.4h-1.9zM817.6 441.2h1.6v1.7h-1.6zM817.0 442.6h2.1v1.6h-2.1zM816.2 443.2h2.1v2.2h-2.1zM818.3 442.5h1.1v2.1h-1.1zM819.5 442.3h1.8v1.2h-1.8zM818.1 442.2h1.7v2.2h-1.7zM817.3 443.4h1.9v1.7h-1.9zM818.7 442.2h1.7v1.7h-1.7zM806.9 446.6h1.5v1.7h-1.5zM805.4 447.8h2.3v1.2h-2.3zM806.6 446.1h1.0v1.7h-1.0zM808.2 445.7h1.0v2.1h-1.0zM809.0 444.9h1.7v1.8h-1.7zM810.2 445.6h1.9v1.3h-1.9zM811.5 444.9h1.9v1.5h-1.9zM812.3 443.8h1.6v1.5h-1.6zM810.5 444.3h1.8v2.0h-1.8zM819.7 441.6h1.6v1.5h-1.6zM820.5 440.1h2.1v2.2h-2.1zM822.4 441.3h1.2v1.1h-1.2zM823.3 440.8h1.9v1.3h-1.9zM817.4 444.3h1.2v1.1h-1.2zM816.3 445.4h1.6v1.4h-1.6zM815.0 445.2h1.1v1.9h-1.1zM816.1 444.2h1.3v1.4h-1.3zM814.2 444.3h2.3v2.1h-2.3zM815.6 443.1h1.8v2.2h-1.8zM817.0 442.9h1.6v1.1h-1.6zM818.0 441.4h2.0v2.2h-2.0zM808.5 452.1h2.0v1.2h-2.0zM807.1 452.4h1.8v1.0h-1.8zM808.9 451.9h1.5v1.9h-1.5zM807.4 452.2h1.2v1.5h-1.2zM808.7 452.0h1.8v1.0h-1.8zM807.3 451.3h1.5v2.2h-1.5zM808.4 451.3h2.3v1.1h-2.3zM809.6 449.5h1.3v2.1h-1.3zM810.6 449.7h2.2v2.0h-2.2zM812.2 449.4h1.5v1.5h-1.5zM808.7 447.2h1.5v2.3h-1.5zM807.0 447.9h2.1v1.9h-2.1zM808.8 447.7h1.6v1.4h-1.6zM807.3 448.7h2.1v1.1h-2.1zM806.4 447.4h1.3v2.2h-1.3zM807.7 446.5h1.1v2.0h-1.1zM808.2 445.5h1.7v1.4h-1.7zM812.9 442.5h1.6v1.8h-1.6zM813.4 441.1h1.3v1.5h-1.3zM813.0 442.5h2.1v2.0h-2.1zM811.7 443.0h1.8v1.5h-1.8zM810.2 443.2h1.9v2.0h-1.9zM806.9 455.1h2.2v1.1h-2.2zM806.8 456.5h2.0v1.4h-2.0zM807.6 454.8h1.5v1.7h-1.5zM808.7 454.0h1.6v1.2h-1.6zM807.8 455.3h1.8v1.5h-1.8zM806.4 456.1h2.1v1.6h-2.1zM805.4 457.3h1.8v1.0h-1.8zM804.2 457.5h1.4v1.1h-1.4zM812.7 452.1h2.0v1.1h-2.0zM811.8 453.3h1.8v1.1h-1.8zM810.4 453.9h2.3v1.4h-2.3zM809.7 454.3h1.2v2.0h-1.2zM808.7 454.9h1.1v2.2h-1.1zM809.6 454.0h2.3v1.9h-2.3zM811.0 452.6h1.2v1.9h-1.2zM812.3 453.0h1.9v1.8h-1.9zM810.9 453.7h2.2v1.8h-2.2zM809.9 453.4h1.6v1.0h-1.6zM811.5 452.1h1.1v1.6h-1.1zM817.6 445.6h1.9v1.3h-1.9zM819.4 445.2h1.1v1.2h-1.1zM819.5 443.4h1.1v1.7h-1.1zM820.7 443.4h1.7v1.5h-1.7zM822.2 442.4h1.0v2.2h-1.0zM791.2 448.1h1.7v1.7h-1.7zM792.4 447.1h1.2v1.4h-1.2zM790.7 447.5h1.6v1.6h-1.6zM791.7 446.5h1.8v1.3h-1.8zM782.9 452.1h1.4v1.6h-1.4zM784.0 451.0h1.3v1.7h-1.3zM784.6 449.8h2.2v2.0h-2.2zM785.6 449.0h1.3v1.0h-1.3zM786.7 454.4h2.3v2.2h-2.3zM785.6 455.0h1.5v1.5h-1.5zM786.8 454.8h2.3v1.3h-2.3zM786.0 455.2h1.0v1.5h-1.0zM785.4 454.2h1.5v1.1h-1.5zM784.2 454.8h1.6v1.8h-1.6zM783.0 455.7h1.7v1.8h-1.7zM784.4 455.1h1.8v1.5h-1.8zM786.2 454.6h1.2v1.5h-1.2zM788.2 447.3h1.8v1.7h-1.8zM786.8 448.2h1.8v1.3h-1.8zM786.6 449.5h1.1v1.4h-1.1zM792.9 447.0h1.5v1.9h-1.5zM791.4 447.0h1.5v1.3h-1.5zM792.5 446.1h1.9v1.2h-1.9zM793.1 444.4h2.1v2.1h-2.1zM794.3 443.5h1.7v1.9h-1.7zM792.9 444.9h2.0v1.4h-2.0zM792.0 445.6h1.4v2.1h-1.4zM793.1 444.9h1.9v2.0h-1.9zM791.6 450.5h2.3v2.1h-2.3zM792.9 450.0h1.9v1.0h-1.9zM791.6 450.4h2.0v2.2h-2.0zM790.7 451.5h1.2v1.6h-1.2zM791.6 450.2h1.5v1.8h-1.5zM790.6 449.1h1.3v1.3h-1.3zM788.9 449.5h1.9v1.5h-1.9zM790.6 449.9h1.5v1.5h-1.5zM789.1 449.4h1.8v1.1h-1.8zM787.7 449.8h1.9v1.4h-1.9zM787.1 451.2h1.9v1.2h-1.9zM787.9 449.7h2.3v1.4h-2.3zM806.1 481.4h1.7v1.6h-1.7zM804.4 480.6h2.2v2.2h-2.2zM797.9 495.1h1.3v1.8h-1.3zM798.0 496.5h1.7v2.0h-1.7zM798.1 498.2h1.0v1.5h-1.0zM808.7 462.4h1.9v2.2h-1.9zM808.2 461.5h1.1v1.4h-1.1zM805.9 452.3h1.7v1.1h-1.7zM805.2 453.0h1.2v2.0h-1.2zM806.3 453.8h1.9v1.3h-1.9zM807.8 452.9h1.2v1.1h-1.2zM806.9 451.5h1.2v1.2h-1.2zM827.8 440.7h2.0v1.5h-2.0zM829.3 439.5h1.3v2.1h-1.3zM830.0 438.8h2.2v1.5h-2.2zM831.5 438.4h1.7v1.5h-1.7zM831.9 439.6h1.8v2.1h-1.8zM812.1 470.9h1.9v1.2h-1.9zM812.4 469.5h2.0v1.0h-2.0zM813.2 470.3h2.2v1.9h-2.2zM814.8 469.8h1.3v1.2h-1.3zM814.1 468.2h1.9v1.5h-1.9zM796.0 490.5h1.1v1.8h-1.1zM797.3 490.7h1.3v1.1h-1.3zM797.6 491.6h2.0v2.1h-2.0zM799.4 491.7h1.3v1.9h-1.3zM798.6 493.0h1.9v2.0h-1.9zM819.9 505.7h1.7v1.3h-1.7zM821.2 506.8h1.5v1.0h-1.5zM816.0 451.3h1.1v1.6h-1.1zM816.6 450.2h1.8v1.5h-1.8zM816.2 451.4h1.9v2.1h-1.9zM814.8 452.6h2.2v1.5h-2.2zM815.8 499.3h2.0v1.4h-2.0zM817.2 498.1h1.8v2.1h-1.8zM817.3 497.1h1.2v1.0h-1.2zM815.7 496.7h1.3v1.9h-1.3zM838.2 454.0h1.8v1.2h-1.8zM839.5 454.3h2.1v1.3h-2.1zM838.3 454.4h1.5v1.8h-1.5zM838.2 452.9h2.2v1.8h-2.2zM838.4 451.7h1.1v1.4h-1.1zM806.0 441.8h1.6v1.5h-1.6zM804.5 440.7h2.2v2.0h-2.2zM803.5 441.1h1.3v1.0h-1.3zM801.8 441.0h2.1v2.3h-2.1zM801.2 442.5h1.1v1.1h-1.1zM819.4 438.2h1.9v1.9h-1.9zM819.0 436.6h1.8v2.2h-1.8zM819.3 435.4h1.5v1.7h-1.5zM771.5 451.7h1.5v1.1h-1.5zM773.1 451.7h1.3v2.0h-1.3zM830.6 494.6h1.5v2.3h-1.5zM829.8 496.0h1.3v2.1h-1.3zM830.1 494.6h1.7v1.9h-1.7zM808.0 472.9h1.1v1.8h-1.1zM807.1 471.7h2.3v1.3h-2.3zM807.2 469.9h1.0v2.3h-1.0zM806.8 469.0h2.1v1.2h-2.1zM807.9 468.0h1.7v1.2h-1.7zM806.2 463.1h2.2v2.3h-2.2zM805.5 461.9h2.2v2.1h-2.2zM798.7 462.4h2.2v1.6h-2.2zM799.3 461.1h2.2v1.4h-2.2zM800.9 449.6h1.0v1.3h-1.0zM802.1 449.1h1.7v2.3h-1.7zM803.5 450.6h1.3v1.2h-1.3zM842.1 466.9h2.3v2.0h-2.3zM841.0 466.9h1.3v1.7h-1.3zM818.7 452.4h1.8v2.0h-1.8zM820.0 451.8h2.0v2.2h-2.0zM820.0 450.6h2.0v1.6h-2.0zM817.9 435.6h1.8v2.0h-1.8zM819.3 435.2h1.8v1.5h-1.8zM808.1 475.6h1.7v1.6h-1.7zM808.5 474.3h1.3v1.3h-1.3zM806.8 474.6h1.6v1.1h-1.6zM784.1 440.4h1.7v1.4h-1.7zM785.6 441.0h1.3v1.3h-1.3zM784.1 441.4h1.7v2.2h-1.7zM784.6 440.2h1.8v1.6h-1.8zM785.6 439.1h2.2v1.9h-2.2zM814.9 483.2h1.9v1.4h-1.9zM815.2 481.8h1.2v1.1h-1.2zM813.2 481.4h2.2v1.7h-2.2zM815.2 481.4h1.2v1.2h-1.2zM814.9 482.5h1.5v2.3h-1.5zM822.1 500.3h2.3v1.2h-2.3zM822.0 498.4h2.1v1.8h-2.1zM824.1 498.4h1.1v2.3h-1.1zM825.2 498.9h1.7v1.7h-1.7zM825.7 500.7h1.4v1.0h-1.4zM842.0 433.6h1.0v1.5h-1.0zM842.0 431.8h1.4v2.1h-1.4zM843.3 432.4h1.9v1.1h-1.9zM836.6 438.6h1.5v1.6h-1.5zM838.0 438.6h1.7v1.6h-1.7zM838.2 437.0h1.1v1.8h-1.1zM839.0 436.7h2.2v1.6h-2.2zM839.7 442.3h1.4v1.0h-1.4zM840.3 443.3h1.8v1.5h-1.8zM841.9 443.7h1.3v1.9h-1.3zM843.3 443.7h1.4v1.6h-1.4zM841.1 440.2h1.4v1.1h-1.4zM839.8 439.1h2.1v1.0h-2.1zM839.3 437.6h1.3v1.8h-1.3zM839.5 436.2h1.8v1.9h-1.8zM840.6 437.4h2.2v1.7h-2.2zM840.9 439.0h1.4v1.7h-1.4zM841.5 440.6h1.1v1.6h-1.1zM841.9 447.5h2.1v2.1h-2.1zM842.2 449.6h1.2v1.1h-1.2zM843.7 449.4h1.2v2.0h-1.2zM842.3 448.4h1.4v2.1h-1.4zM840.8 447.9h1.4v2.2h-1.4zM841.7 447.3h2.0v1.3h-2.0zM843.2 447.2h1.5v1.0h-1.5zM842.0 447.9h1.5v1.5h-1.5zM842.7 446.4h1.5v1.6h-1.5zM843.5 447.9h1.1v1.4h-1.1zM842.5 446.2h2.2v1.9h-2.2zM842.0 444.9h2.0v1.6h-2.0zM840.4 434.0h1.9v1.5h-1.9zM840.5 435.3h2.1v1.9h-2.1zM839.1 434.7h2.3v1.7h-2.3zM837.9 433.8h1.9v2.1h-1.9zM838.7 432.5h1.4v1.9h-1.4zM838.1 431.4h1.8v1.3h-1.8zM838.8 448.8h1.2v2.3h-1.2zM839.1 450.4h1.7v2.1h-1.7zM839.2 451.8h2.2v1.9h-2.2zM837.8 451.4h2.1v1.9h-2.1zM840.7 503.4h2.0v1.9h-2.0zM839.7 504.2h1.5v2.0h-1.5zM838.5 505.3h1.5v1.5h-1.5zM838.5 503.8h2.2v1.1h-2.2zM840.3 494.7h2.2v1.9h-2.2zM842.3 495.1h1.1v1.0h-1.1zM840.2 495.0h2.3v1.1h-2.3zM840.6 496.4h1.9v1.2h-1.9zM841.1 490.2h1.7v1.3h-1.7zM839.7 489.6h1.6v2.3h-1.6zM838.4 490.7h2.1v2.1h-2.1zM839.9 491.1h2.2v1.7h-2.2zM840.1 492.6h1.6v1.7h-1.6zM841.0 484.6h1.9v1.5h-1.9zM840.2 485.9h1.9v1.6h-1.9zM839.1 485.3h1.6v1.1h-1.6zM840.1 486.6h1.5v1.0h-1.5zM839.6 487.6h1.8v1.7h-1.8zM841.6 492.4h1.0v1.4h-1.0zM840.2 491.6h1.7v1.1h-1.7zM839.0 490.5h2.1v1.1h-2.1zM840.9 491.1h1.2v1.6h-1.2zM840.4 481.8h1.6v2.2h-1.6zM839.8 483.5h2.1v1.8h-2.1zM839.1 485.2h2.2v1.0h-2.2zM839.1 483.2h1.1v1.9h-1.1zM840.3 484.5h1.2v1.1h-1.2zM840.8 482.8h1.6v1.7h-1.6zM839.1 482.6h2.0v1.4h-2.0zM842.5 485.2h1.7v2.0h-1.7zM843.6 486.4h1.4v1.9h-1.4zM844.4 487.9h1.0v1.3h-1.0zM840.7 480.2h1.1v1.0h-1.1zM838.6 480.2h2.2v2.0h-2.2zM840.7 479.9h1.3v2.3h-1.3zM841.8 480.5h2.0v1.9h-2.0zM842.8 481.7h1.1v2.0h-1.1zM841.7 480.2h1.8v2.2h-1.8zM842.1 481.7h1.1v2.2h-1.1zM842.4 483.1h1.3v2.1h-1.3zM753.5 538.9h1.2v2.2h-1.2zM755.1 539.5h1.1v1.6h-1.1zM753.2 539.5h1.8v1.2h-1.8zM754.8 539.2h1.7v1.9h-1.7zM754.1 537.8h1.6v1.9h-1.6zM752.8 537.2h1.4v1.8h-1.4zM753.9 537.7h2.3v2.1h-2.3zM753.0 537.0h1.9v1.2h-1.9zM755.5 540.9h1.0v1.9h-1.0zM756.2 540.3h2.0v1.3h-2.0zM757.7 539.5h1.4v1.3h-1.4zM755.7 539.2h2.1v1.6h-2.1zM757.4 539.2h1.7v1.7h-1.7zM759.0 539.6h1.3v1.2h-1.3zM757.4 538.8h1.7v1.3h-1.7zM758.7 539.3h1.4v2.2h-1.4zM745.5 535.6h2.3v1.0h-2.3zM746.8 536.2h1.6v2.3h-1.6zM748.3 537.0h1.3v1.6h-1.3zM749.7 537.0h1.3v1.3h-1.3zM750.5 537.4h2.1v1.5h-2.1zM749.0 537.6h1.7v1.7h-1.7zM752.6 534.3h1.1v2.1h-1.1zM753.5 535.7h1.6v1.2h-1.6zM755.0 535.8h1.5v1.8h-1.5zM756.0 535.9h2.2v1.7h-2.2zM757.3 536.4h2.2v1.4h-2.2zM755.9 535.2h2.0v1.8h-2.0zM755.7 532.5h1.7v2.2h-1.7zM754.4 532.9h1.3v1.0h-1.3zM752.6 531.9h2.2v1.8h-2.2zM754.1 531.6h2.2v1.3h-2.2zM756.1 531.2h1.3v1.3h-1.3zM757.5 530.5h1.1v1.4h-1.1zM758.9 531.0h1.1v1.7h-1.1zM749.2 533.5h1.6v1.4h-1.6zM747.9 533.9h1.3v1.1h-1.3zM746.0 533.2h2.3v1.3h-2.3zM745.8 532.0h1.5v1.1h-1.5zM744.1 532.2h2.2v1.5h-2.2zM746.0 532.2h1.9v1.6h-1.9zM745.3 533.1h1.3v1.8h-1.3zM746.8 534.0h1.4v1.2h-1.4zM748.4 533.7h1.5v1.2h-1.5zM752.5 536.5h1.9v1.9h-1.9zM751.2 537.2h1.5v1.4h-1.5zM752.3 536.3h1.7v1.1h-1.7zM754.0 535.6h1.3v1.8h-1.3zM755.0 535.2h2.1v2.2h-2.1zM756.3 536.5h1.8v1.4h-1.8zM757.9 535.7h1.2v2.2h-1.2zM753.9 534.4h1.6v2.1h-1.6zM752.1 534.5h2.2v1.5h-2.2zM751.2 534.5h1.0v1.6h-1.0zM752.3 534.4h2.2v2.3h-2.2zM754.2 534.2h1.5v1.8h-1.5zM752.6 534.6h1.7v1.9h-1.7zM754.2 535.5h1.0v1.9h-1.0zM755.6 535.8h1.3v1.3h-1.3zM738.9 535.6h1.4v2.2h-1.4zM740.4 535.7h1.4v1.5h-1.4zM738.7 535.7h1.6v1.6h-1.6zM737.2 536.3h1.7v1.5h-1.7zM736.0 535.5h1.5v2.1h-1.5zM735.1 536.4h1.0v1.8h-1.0zM733.6 537.1h1.5v1.1h-1.5zM732.6 536.1h1.7v1.1h-1.7zM734.2 536.5h1.7v1.8h-1.7zM756.4 534.5h1.3v1.5h-1.3zM757.8 534.7h1.5v1.6h-1.5zM757.8 533.0h1.1v1.8h-1.1zM755.8 533.3h1.9v1.6h-1.9zM756.8 536.6h1.8v1.5h-1.8zM758.1 537.8h1.4v1.3h-1.4zM757.3 536.3h1.4v1.6h-1.4zM758.8 535.7h1.0v1.6h-1.0zM756.7 535.2h2.1v2.0h-2.1zM755.3 535.2h1.9v2.3h-1.9zM754.8 534.2h1.2v2.1h-1.2zM743.7 538.3h1.7v1.5h-1.7zM742.1 538.5h1.8v1.9h-1.8zM741.3 537.9h1.1v1.4h-1.1zM740.1 539.1h1.6v1.2h-1.6zM738.7 538.8h1.8v2.1h-1.8zM738.1 538.1h1.4v1.1h-1.4zM740.0 537.3h1.1v2.1h-1.1zM738.7 538.7h2.1v1.6h-2.1zM740.6 537.8h1.5v1.9h-1.5zM734.7 538.1h2.0v1.1h-2.0zM736.7 538.1h1.1v1.6h-1.1zM734.6 538.2h2.1v1.1h-2.1zM736.6 537.7h1.1v1.8h-1.1zM737.1 538.8h2.1v1.6h-2.1zM738.4 539.5h1.8v1.8h-1.8zM739.5 539.3h2.2v1.7h-2.2zM738.2 539.3h1.5v2.3h-1.5zM736.4 540.5h1.9v1.2h-1.9zM743.5 541.4h1.3v1.4h-1.3zM742.5 543.0h2.1v1.2h-2.1zM741.3 542.4h1.6v1.4h-1.6zM743.0 542.3h1.5v1.2h-1.5zM757.2 531.0h1.4v1.3h-1.4zM758.2 531.3h2.2v1.7h-2.2zM757.0 531.3h1.4v1.8h-1.4zM755.6 531.9h1.4v1.4h-1.4zM756.9 531.7h1.9v2.0h-1.9zM758.7 531.4h1.3v1.8h-1.3zM757.3 531.8h1.1v2.0h-1.1zM758.2 532.5h2.3v1.3h-2.3zM759.6 532.7h2.3v1.5h-2.3zM755.0 538.6h1.4v2.0h-1.4zM753.2 538.0h2.0v2.2h-2.0zM755.1 539.2h1.2v1.4h-1.2zM756.4 538.5h1.1v1.0h-1.1zM757.6 538.9h1.3v1.5h-1.3zM741.8 534.3h1.3v1.1h-1.3zM740.3 534.9h1.6v1.2h-1.6zM738.9 535.5h1.7v1.1h-1.7zM740.5 534.8h1.9v2.3h-1.9zM739.0 535.1h1.9v2.0h-1.9zM743.6 532.2h1.4v2.1h-1.4zM744.5 531.7h2.3v1.8h-2.3zM746.1 531.1h1.9v2.2h-1.9zM744.5 531.3h1.8v1.6h-1.8zM743.4 532.0h1.4v2.1h-1.4zM741.8 533.1h2.1v1.7h-2.1zM743.4 533.6h2.1v1.1h-2.1zM742.3 533.7h1.2v1.1h-1.2zM753.1 534.2h1.4v1.4h-1.4zM754.6 534.3h1.4v1.7h-1.4zM752.7 534.8h2.2v1.6h-2.2zM751.5 535.7h2.1v1.7h-2.1zM753.2 535.4h1.9v1.5h-1.9zM754.5 535.5h2.2v1.3h-2.2zM753.8 536.3h2.0v2.3h-2.0zM737.2 541.4h2.1v1.3h-2.1zM736.0 540.8h1.7v1.4h-1.7zM737.1 540.1h2.2v1.1h-2.2zM736.0 538.4h2.3v2.3h-2.3zM734.6 538.5h2.3v1.4h-2.3zM733.4 538.5h2.0v2.2h-2.0zM732.1 538.9h1.9v1.9h-1.9zM752.6 533.0h1.8v1.1h-1.8zM751.5 533.1h1.1v1.2h-1.1zM752.6 533.2h2.0v1.5h-2.0zM751.4 532.3h1.7v2.1h-1.7zM749.7 533.3h2.3v1.1h-2.3zM751.7 532.9h1.6v1.6h-1.6zM752.8 533.5h2.3v1.3h-2.3zM754.0 532.1h2.2v1.9h-2.2zM755.9 532.4h1.1v1.5h-1.1zM753.8 531.8h2.2v2.2h-2.2zM755.8 532.0h1.1v2.2h-1.1zM749.8 533.3h1.2v2.0h-1.2zM747.9 533.1h2.1v2.3h-2.1zM747.1 534.4h1.0v1.1h-1.0zM748.5 533.8h1.3v1.1h-1.3zM749.3 534.6h2.1v1.6h-2.1zM741.5 527.8h1.6v2.0h-1.6zM741.1 529.4h1.3v1.7h-1.3zM742.5 528.6h1.5v1.9h-1.5zM740.9 529.0h1.6v1.4h-1.6zM742.4 528.8h1.5v2.2h-1.5zM743.9 529.8h1.3v1.3h-1.3zM730.6 531.9h1.8v1.9h-1.8zM729.2 531.6h1.7v1.9h-1.7zM730.5 532.3h2.3v1.1h-2.3zM732.3 532.5h1.3v1.8h-1.3zM733.5 532.6h1.9v2.1h-1.9zM725.7 534.0h1.4v1.0h-1.4zM726.5 534.5h2.0v2.1h-2.0zM727.1 533.0h1.8v2.2h-1.8zM728.2 532.2h2.1v2.3h-2.1zM726.5 532.4h2.0v2.3h-2.0zM724.9 532.7h2.1v1.7h-2.1zM736.4 531.8h1.5v1.4h-1.5zM737.5 532.5h2.2v1.1h-2.2zM736.1 532.3h1.9v2.2h-1.9zM743.0 531.8h1.6v1.2h-1.6zM741.6 531.9h1.3v1.6h-1.3zM742.8 532.1h2.0v2.1h-2.0zM744.4 532.8h1.8v1.2h-1.8zM745.9 533.1h1.7v1.1h-1.7zM744.9 533.7h1.5v2.2h-1.5zM746.1 533.0h1.3v1.6h-1.3zM730.4 530.6h1.2v1.7h-1.2zM729.1 531.9h1.6v1.2h-1.6zM730.5 531.6h1.9v1.4h-1.9zM728.8 531.1h2.2v1.9h-2.2zM738.6 500.4h1.3v1.2h-1.3zM736.8 499.6h1.8v2.3h-1.8zM735.7 499.3h1.4v1.7h-1.4zM742.4 498.9h1.6v1.9h-1.6zM740.6 499.5h2.3v1.2h-2.3zM742.1 499.4h2.3v1.6h-2.3zM741.4 498.7h1.3v1.2h-1.3zM740.1 497.1h2.1v2.1h-2.1zM744.7 499.6h1.2v1.3h-1.2zM743.2 499.6h1.4v2.2h-1.4zM741.4 500.4h2.2v1.6h-2.2zM743.3 499.3h1.2v1.8h-1.2zM742.2 500.1h1.1v1.9h-1.1zM740.9 499.2h1.3v2.0h-1.3zM736.2 500.7h2.0v1.1h-2.0zM734.8 500.2h1.7v2.2h-1.7zM736.0 500.1h2.3v1.1h-2.3zM737.7 500.2h1.9v1.7h-1.9zM736.6 501.1h1.3v1.0h-1.3zM735.0 500.7h1.3v1.2h-1.3zM759.0 498.6h2.0v1.3h-2.0zM757.9 498.1h1.4v1.6h-1.4zM756.4 497.7h1.4v2.0h-1.4zM754.8 497.7h2.1v1.3h-2.1zM754.6 496.2h1.9v1.4h-1.9zM756.0 495.5h2.2v2.2h-2.2zM757.1 496.6h2.1v2.0h-2.1zM755.5 496.3h2.2v1.7h-2.2zM749.2 500.7h1.4v1.3h-1.4zM747.7 500.3h1.3v1.8h-1.3zM749.3 500.8h1.2v1.3h-1.2zM748.0 499.6h1.6v1.7h-1.6zM746.9 500.7h1.6v1.6h-1.6zM745.8 500.9h1.1v2.0h-1.1zM775.9 506.4h1.8v1.0h-1.8zM776.2 507.5h2.1v1.6h-2.1zM775.8 509.0h1.2v1.1h-1.2zM777.3 508.1h1.2v2.2h-1.2zM778.6 508.3h1.6v1.3h-1.6zM779.9 508.5h1.6v1.9h-1.6zM778.4 508.3h1.2v1.2h-1.2zM759.2 500.8h1.5v1.9h-1.5zM760.6 500.8h1.7v1.6h-1.7zM759.6 501.7h1.0v1.4h-1.0zM757.5 501.7h2.3v1.5h-2.3zM757.3 498.7h1.7v1.9h-1.7zM756.2 499.3h1.1v1.6h-1.1zM757.6 499.7h1.3v1.9h-1.3zM744.5 500.5h1.9v1.6h-1.9zM743.1 500.8h1.8v1.1h-1.8zM741.8 499.8h1.6v2.1h-1.6zM740.9 498.6h1.6v2.2h-1.6zM739.8 500.0h1.7v1.2h-1.7zM763.1 499.8h1.9v2.3h-1.9zM761.6 500.6h2.0v1.6h-2.0zM761.0 501.8h1.4v1.6h-1.4zM762.1 502.7h1.6v1.8h-1.6zM763.4 501.8h1.2v1.1h-1.2zM762.1 502.2h1.2v1.7h-1.2zM772.6 493.4h1.1v1.2h-1.1zM770.9 493.1h1.5v2.2h-1.5zM772.1 493.6h2.2v1.5h-2.2zM774.2 494.0h1.0v1.1h-1.0zM772.6 493.0h1.5v1.3h-1.5zM771.4 493.5h1.1v1.7h-1.1zM772.3 492.9h2.0v1.3h-2.0zM768.2 498.6h2.1v1.5h-2.1zM767.5 497.4h1.1v2.2h-1.1zM768.8 498.0h1.7v1.5h-1.7zM767.5 498.0h1.2v1.7h-1.2zM766.5 498.9h1.1v2.0h-1.1zM653.8 491.0h1.8v2.0h-1.8zM654.7 490.7h2.0v1.7h-2.0zM654.0 489.9h1.4v2.0h-1.4zM655.0 490.2h1.7v2.2h-1.7zM653.6 490.7h2.1v2.0h-2.1zM667.6 535.4h1.6v1.8h-1.6zM665.8 536.0h2.2v1.5h-2.2zM666.6 536.5h1.2v1.5h-1.2zM665.5 537.5h1.2v1.6h-1.2zM664.9 535.5h2.2v1.9h-2.2zM666.9 535.6h1.4v1.8h-1.4zM704.6 537.3h2.1v1.5h-2.1zM703.2 537.9h2.0v1.2h-2.0zM705.8 536.0h2.2v1.2h-2.2zM705.3 536.9h1.4v1.8h-1.4zM791.7 518.1h1.2v1.1h-1.2zM792.8 517.9h1.9v1.5h-1.9zM791.6 516.9h1.8v1.6h-1.8zM793.3 516.1h1.2v1.8h-1.2zM792.0 515.4h1.4v1.1h-1.4zM793.1 514.7h2.1v1.7h-2.1zM790.0 511.2h1.4v1.8h-1.4zM791.5 511.2h1.5v1.1h-1.5zM789.5 510.7h2.2v2.2h-2.2zM785.9 512.3h2.0v1.2h-2.0zM787.7 512.2h1.4v1.1h-1.4zM785.9 511.8h1.8v1.5h-1.8zM784.6 512.4h1.7v1.6h-1.7zM788.4 515.5h2.0v1.6h-2.0zM787.1 515.9h1.9v2.1h-1.9zM785.4 516.3h2.3v1.4h-2.3zM784.2 516.0h2.1v2.2h-2.1zM785.6 515.0h2.0v2.2h-2.0zM784.6 515.2h1.2v1.2h-1.2zM784.3 513.6h1.2v1.3h-1.2zM785.0 514.1h2.2v2.3h-2.2zM783.5 514.4h2.1v1.8h-2.1zM786.3 510.8h1.1v1.6h-1.1zM787.4 509.6h1.4v2.3h-1.4zM788.9 510.3h1.3v1.3h-1.3zM796.7 512.4h2.1v1.1h-2.1zM795.6 511.6h1.4v2.3h-1.4zM796.8 510.7h1.3v2.0h-1.3zM794.3 515.3h1.3v1.4h-1.3zM795.3 515.6h2.1v2.0h-2.1zM797.0 516.1h1.6v1.6h-1.6zM795.0 516.1h2.2v1.3h-2.2zM795.7 514.9h2.3v1.2h-2.3zM794.8 515.3h1.0v1.3h-1.0zM795.9 514.3h1.7v2.1h-1.7zM817.2 554.6h2.0v1.4h-2.0zM818.0 555.9h1.6v1.4h-1.6zM819.5 555.6h1.6v1.6h-1.6zM817.8 555.2h1.9v1.3h-1.9zM816.7 554.9h1.1v1.8h-1.1zM817.1 556.4h2.1v1.2h-2.1zM816.1 556.3h1.3v2.3h-1.3zM814.3 556.4h2.1v1.8h-2.1zM815.9 557.2h1.5v1.9h-1.5zM817.5 557.3h1.5v1.6h-1.5zM816.0 556.9h1.6v2.3h-1.6zM812.8 549.5h1.6v1.7h-1.6zM811.4 549.7h1.4v1.9h-1.4zM812.4 548.3h1.2v2.3h-1.2zM810.7 548.3h1.6v2.2h-1.6zM812.5 548.7h1.2v2.0h-1.2zM814.0 548.3h1.1v1.9h-1.1zM815.3 548.9h1.3v1.8h-1.3zM816.5 548.5h1.6v1.9h-1.6zM802.6 551.3h1.1v2.1h-1.1zM801.5 550.6h1.4v1.1h-1.4zM800.4 551.8h2.1v1.6h-2.1zM802.4 552.1h1.3v1.2h-1.3zM803.9 551.5h1.2v1.5h-1.2zM805.2 551.5h1.5v1.1h-1.5zM806.2 551.2h2.1v1.2h-2.1zM820.9 552.8h1.9v1.7h-1.9zM822.2 551.6h1.1v1.6h-1.1zM820.2 551.0h2.1v2.2h-2.1zM821.7 550.4h1.9v2.2h-1.9zM820.4 550.7h1.3v2.2h-1.3zM818.8 552.0h1.8v1.0h-1.8zM817.7 552.2h1.5v2.1h-1.5zM799.5 548.9h1.7v1.6h-1.7zM797.8 548.5h2.1v2.0h-2.1zM798.8 549.6h2.1v2.3h-2.1zM797.8 550.0h1.1v1.5h-1.1zM799.1 550.0h1.7v1.1h-1.7zM814.5 552.4h1.3v1.8h-1.3zM815.7 553.1h1.8v1.4h-1.8zM814.3 553.2h1.5v1.5h-1.5zM815.2 553.9h1.6v2.2h-1.6zM816.8 554.4h1.4v1.3h-1.4zM818.0 554.3h1.8v1.2h-1.8zM818.8 555.0h2.2v1.2h-2.2zM817.5 554.3h1.8v1.2h-1.8zM818.9 554.9h1.3v1.0h-1.3zM819.6 554.9h2.1v2.2h-2.1zM799.8 552.8h1.7v2.0h-1.7zM801.3 552.7h1.7v2.0h-1.7zM800.1 553.1h1.0v1.6h-1.0zM798.3 552.0h1.9v2.2h-1.9zM811.4 553.3h1.3v1.5h-1.3zM809.6 553.4h2.0v2.1h-2.0zM811.2 554.4h1.6v1.5h-1.6zM810.0 554.9h1.2v1.6h-1.2zM808.5 554.5h1.2v1.8h-1.2zM808.2 555.9h1.4v1.8h-1.4zM806.7 556.5h1.8v1.3h-1.8zM805.4 557.0h2.1v1.1h-2.1zM807.2 555.3h1.4v2.3h-1.4zM805.5 555.1h2.3v2.3h-2.3zM816.8 552.0h1.3v1.8h-1.3zM817.5 552.9h2.2v1.8h-2.2zM816.5 552.0h1.4v2.2h-1.4zM815.0 552.2h1.5v1.0h-1.5zM816.1 551.1h1.9v1.5h-1.9zM817.6 551.3h1.9v1.1h-1.9zM797.9 555.1h2.0v1.4h-2.0zM799.5 555.8h1.4v1.6h-1.4zM798.1 555.1h1.2v2.1h-1.2zM799.5 554.7h1.2v1.6h-1.2zM800.8 554.3h1.3v1.5h-1.3zM801.6 554.9h2.0v2.0h-2.0zM800.4 555.0h1.2v2.1h-1.2zM798.3 556.0h2.3v1.0h-2.3zM799.5 556.4h2.3v1.8h-2.3zM798.2 556.4h1.7v2.1h-1.7zM813.5 552.2h1.3v1.6h-1.3zM811.6 551.5h2.2v1.9h-2.2zM811.0 552.9h1.9v1.7h-1.9zM812.6 553.5h1.9v1.1h-1.9zM814.5 552.8h1.1v1.7h-1.1zM812.8 552.0h1.6v2.0h-1.6zM814.5 552.6h1.2v1.1h-1.2zM814.9 553.8h1.7v1.3h-1.7zM823.4 550.6h1.7v1.3h-1.7zM822.3 549.5h1.1v2.2h-1.1zM823.8 550.2h1.2v1.9h-1.2zM824.6 549.8h2.1v1.1h-2.1zM823.7 550.9h1.7v1.2h-1.7zM825.4 550.7h1.3v1.7h-1.3zM792.7 553.2h1.1v1.7h-1.1zM793.6 553.8h2.1v1.1h-2.1zM795.2 554.1h1.8v1.0h-1.8zM793.8 554.6h1.6v1.4h-1.6zM795.2 554.6h1.6v1.1h-1.6zM794.0 553.6h1.4v1.1h-1.4zM795.3 552.6h1.5v2.2h-1.5zM793.9 553.4h1.1v1.4h-1.1zM795.1 553.8h1.3v2.1h-1.3zM796.0 554.8h2.0v1.1h-2.0zM816.1 555.4h1.1v1.9h-1.1zM814.2 556.0h1.8v1.0h-1.8zM813.2 555.0h1.0v2.3h-1.0zM811.5 556.0h1.9v1.2h-1.9zM813.2 556.8h1.3v1.4h-1.3zM814.6 556.6h1.7v1.2h-1.7zM813.8 557.6h1.2v1.1h-1.2zM815.2 557.6h1.8v1.3h-1.8zM814.1 556.4h1.2v2.0h-1.2zM814.9 555.4h1.7v1.5h-1.7zM829.2 551.4h1.7v1.4h-1.7zM827.7 550.9h1.8v1.7h-1.8zM829.3 551.5h1.6v1.6h-1.6zM830.4 550.8h1.9v1.3h-1.9zM828.9 550.5h1.8v1.5h-1.8zM830.2 551.4h1.9v1.1h-1.9zM798.8 549.8h1.3v1.6h-1.3zM800.4 550.3h1.1v1.5h-1.1zM798.9 549.7h1.1v1.6h-1.1zM800.3 549.2h1.3v2.0h-1.3zM798.7 550.5h1.8v1.0h-1.8zM797.9 549.5h1.0v1.2h-1.0zM798.2 547.8h2.2v2.2h-2.2zM808.8 550.4h1.5v2.3h-1.5zM807.3 550.6h1.4v1.5h-1.4zM808.4 550.9h2.2v2.0h-2.2zM807.4 550.6h1.4v1.5h-1.4zM808.8 551.0h1.6v1.5h-1.6zM807.1 550.5h2.0v2.3h-2.0zM808.6 551.4h2.0v1.0h-2.0zM810.4 552.0h1.2v1.1h-1.2zM808.8 551.5h1.2v1.8h-1.2zM821.1 550.6h1.2v2.2h-1.2zM821.9 550.4h2.1v1.0h-2.1zM820.9 550.8h1.1v1.2h-1.1zM819.3 550.3h1.5v1.9h-1.5zM820.1 549.1h2.3v2.2h-2.3zM819.3 548.7h1.2v1.7h-1.2zM817.9 548.9h1.2v2.2h-1.2zM816.9 548.5h1.4v1.0h-1.4zM818.3 549.3h1.5v1.3h-1.5zM816.0 550.4h1.1v1.7h-1.1zM814.2 549.7h1.8v2.2h-1.8zM813.4 549.0h1.4v1.6h-1.4zM814.4 550.1h1.9v1.6h-1.9zM813.4 549.3h1.1v2.0h-1.1zM814.5 550.0h1.9v2.2h-1.9zM809.0 550.1h1.9v1.0h-1.9zM810.8 549.5h1.4v2.3h-1.4zM809.0 549.7h1.7v1.8h-1.7zM810.6 549.5h1.4v1.2h-1.4zM816.9 554.1h1.9v1.9h-1.9zM818.8 554.4h1.2v1.3h-1.2zM817.3 555.3h1.4v1.1h-1.4zM815.9 556.1h1.8v1.2h-1.8zM795.0 551.3h1.5v1.1h-1.5zM796.7 551.0h1.1v1.7h-1.1zM797.1 549.6h2.3v2.3h-2.3zM796.9 548.6h1.2v1.6h-1.2zM797.9 548.5h1.9v1.6h-1.9zM810.9 552.3h1.8v1.3h-1.8zM812.1 551.2h1.3v1.2h-1.3zM810.5 550.1h2.1v1.7h-2.1zM809.2 549.6h1.8v1.7h-1.8zM810.9 549.8h1.6v1.8h-1.6zM812.2 550.1h2.2v1.2h-2.2zM813.7 550.5h2.0v1.1h-2.0zM802.9 546.8h2.2v1.3h-2.2zM804.8 545.8h1.2v2.2h-1.2zM806.2 546.9h1.3v1.1h-1.3zM804.2 547.2h1.9v1.0h-1.9zM803.0 547.8h1.7v1.4h-1.7zM804.7 547.4h1.3v1.7h-1.3zM803.2 546.6h1.9v1.2h-1.9zM798.4 533.7h1.9v1.9h-1.9zM799.7 533.0h2.1v1.8h-2.1zM798.2 532.5h1.9v2.2h-1.9zM797.2 533.3h1.3v2.1h-1.3zM798.5 533.7h1.8v2.1h-1.8zM799.7 534.8h1.4v2.1h-1.4zM796.8 530.3h1.1v1.8h-1.1zM795.5 529.2h1.1v2.2h-1.1zM798.6 536.9h1.1v1.2h-1.1zM799.5 537.3h2.2v1.0h-2.2zM798.5 536.3h1.8v1.0h-1.8zM796.8 536.6h2.2v1.6h-2.2zM798.8 536.7h1.4v2.3h-1.4zM800.0 537.0h1.9v1.8h-1.9zM804.4 538.5h2.3v1.5h-2.3zM806.5 538.5h1.2v1.7h-1.2zM807.1 539.5h2.2v1.4h-2.2zM806.1 540.2h1.0v1.1h-1.0zM804.3 538.7h2.1v2.1h-2.1zM801.4 541.5h1.3v1.2h-1.3zM800.0 540.3h2.1v1.4h-2.1zM799.2 541.3h1.4v1.4h-1.4zM797.6 542.1h2.1v1.2h-2.1zM799.7 542.3h1.4v1.3h-1.4zM798.0 542.2h1.9v2.2h-1.9zM803.0 537.3h1.1v1.5h-1.1zM804.3 538.1h1.4v1.0h-1.4zM805.4 537.3h1.6v1.1h-1.6zM806.6 537.6h1.8v1.7h-1.8zM805.3 537.6h1.2v2.1h-1.2zM806.6 537.9h1.4v1.9h-1.4zM797.9 567.5h1.6v1.3h-1.6zM798.4 566.1h1.4v1.3h-1.4zM798.7 567.3h2.0v1.8h-2.0zM797.9 566.1h1.4v2.0h-1.4zM817.3 574.7h1.8v1.4h-1.8zM818.8 575.1h1.4v2.1h-1.4zM818.2 574.0h2.0v1.3h-2.0zM817.3 572.9h1.6v1.3h-1.6zM817.8 574.5h1.3v1.3h-1.3zM816.2 574.8h1.6v1.6h-1.6zM814.8 574.4h1.6v1.7h-1.6zM814.7 572.7h1.4v2.1h-1.4zM814.6 574.7h2.2v1.3h-2.2zM805.9 573.6h1.4v2.2h-1.4zM804.3 573.0h2.0v1.8h-2.0zM803.0 572.7h1.8v1.7h-1.8zM804.1 573.6h2.1v2.1h-2.1zM804.4 572.4h1.2v1.4h-1.2zM805.7 572.4h1.8v1.6h-1.8zM804.3 573.6h2.3v1.4h-2.3zM820.1 563.5h1.9v1.5h-1.9zM821.8 563.4h1.7v2.3h-1.7zM822.6 562.0h1.2v2.2h-1.2zM823.8 563.2h1.1v1.8h-1.1zM821.9 562.5h1.7v2.0h-1.7zM821.0 564.0h1.3v1.2h-1.3zM808.1 573.5h1.7v2.3h-1.7zM808.1 572.1h1.2v2.1h-1.2zM808.8 571.4h2.0v1.6h-2.0zM807.3 571.2h1.9v1.7h-1.9zM817.8 584.4h1.9v1.7h-1.9zM819.3 583.7h1.6v1.7h-1.6zM817.7 582.9h1.8v2.2h-1.8zM819.5 582.9h1.1v1.5h-1.1zM820.2 582.1h2.3v1.7h-2.3zM820.4 584.0h2.3v1.1h-2.3zM821.9 584.2h1.8v1.6h-1.8zM820.8 584.7h1.0v2.0h-1.0zM818.2 564.7h1.0v1.8h-1.0zM818.0 566.6h1.6v1.1h-1.6zM817.8 564.4h2.3v2.2h-2.3zM816.6 565.1h1.8v1.3h-1.8zM816.5 566.1h1.1v2.2h-1.1zM816.9 566.1h1.3v1.7h-1.3zM818.3 566.6h1.4v2.1h-1.4zM818.3 568.3h1.7v1.5h-1.7zM818.3 569.4h1.2v2.3h-1.2zM817.4 570.9h2.0v1.7h-2.0zM818.0 569.3h2.2v1.9h-2.2zM819.4 570.3h1.4v1.6h-1.4zM819.2 571.4h2.1v2.0h-2.1zM819.9 578.5h2.0v1.1h-2.0zM820.8 577.0h1.5v1.4h-1.5zM820.9 575.5h2.0v1.6h-2.0zM821.0 577.2h2.2v1.5h-2.2zM811.5 582.9h1.3v2.0h-1.3zM810.1 584.0h1.9v1.7h-1.9zM809.6 585.3h1.7v1.8h-1.7zM810.5 587.0h1.1v1.0h-1.1zM809.3 587.7h1.7v1.7h-1.7zM808.0 586.6h2.2v1.4h-2.2zM808.4 588.0h1.7v1.3h-1.7zM810.2 587.1h1.2v1.5h-1.2zM809.6 588.4h1.3v1.3h-1.3zM808.0 587.7h1.5v2.1h-1.5zM810.1 573.6h1.6v1.3h-1.6zM808.9 572.2h1.7v2.0h-1.7zM809.8 574.0h1.8v1.1h-1.8zM811.5 573.7h1.4v2.0h-1.4zM812.3 574.8h1.5v2.1h-1.5zM811.6 576.1h1.1v1.9h-1.1zM819.0 567.4h2.2v1.8h-2.2zM817.5 567.1h2.2v2.0h-2.2zM816.6 568.3h1.9v1.9h-1.9zM817.1 566.9h1.3v1.6h-1.3zM816.0 567.8h1.5v1.8h-1.5zM815.0 567.1h1.1v1.4h-1.1zM815.7 565.9h1.2v1.1h-1.2zM815.3 564.3h1.1v1.7h-1.1zM812.7 578.8h1.3v2.0h-1.3zM810.9 578.4h2.3v1.2h-2.3zM812.1 579.4h1.2v2.1h-1.2zM812.9 580.6h1.8v1.9h-1.8zM814.7 581.9h1.7v1.1h-1.7zM813.8 582.6h1.4v1.8h-1.4zM812.2 581.8h2.1v1.8h-2.1zM811.1 581.7h1.5v1.0h-1.5zM811.3 583.2h1.9v1.1h-1.9zM811.6 584.1h1.1v2.2h-1.1zM812.8 583.6h2.0v1.9h-2.0zM813.7 582.6h2.3v1.3h-2.3zM814.3 584.2h1.0v1.1h-1.0zM813.5 582.6h1.1v1.6h-1.1zM809.0 566.8h1.2v1.3h-1.2zM808.4 568.3h1.9v1.4h-1.9zM808.2 566.8h1.1v1.2h-1.1zM807.7 568.3h2.1v1.4h-2.1zM823.9 577.4h1.9v1.2h-1.9zM823.0 578.4h2.0v1.8h-2.0zM824.6 578.6h1.8v2.1h-1.8zM823.4 579.9h1.8v1.4h-1.8zM817.6 567.1h2.1v1.5h-2.1zM817.7 568.3h1.5v2.1h-1.5zM817.5 569.7h1.1v2.2h-1.1zM817.1 568.3h1.3v1.7h-1.3zM818.7 568.3h1.2v1.4h-1.2zM811.2 576.0h1.1v1.2h-1.1zM809.3 576.3h2.1v1.8h-2.1zM808.9 574.8h1.7v1.9h-1.7zM809.0 573.4h2.1v1.8h-2.1zM804.0 567.3h2.0v1.9h-2.0zM805.4 567.9h1.7v2.2h-1.7zM803.8 568.0h1.9v1.5h-1.9zM805.0 567.0h1.8v1.3h-1.8zM812.0 555.6h1.4v1.6h-1.4zM813.2 556.1h1.8v1.9h-1.8zM814.4 556.4h2.3v1.8h-2.3zM815.3 558.0h1.0v1.3h-1.0zM814.2 556.6h1.6v1.4h-1.6zM816.7 576.5h2.1v1.8h-2.1zM816.5 575.4h1.3v1.3h-1.3zM814.6 575.3h2.1v1.3h-2.1zM815.4 576.8h1.6v1.4h-1.6zM816.7 577.4h1.7v1.8h-1.7zM817.9 577.7h2.2v2.2h-2.2zM817.0 579.0h1.2v1.1h-1.2zM815.5 578.9h1.2v1.2h-1.2zM814.2 579.4h1.7v1.8h-1.7zM804.5 566.3h2.2v1.7h-2.2zM803.7 567.3h1.8v2.1h-1.8zM805.2 567.9h1.7v1.9h-1.7zM805.9 569.3h2.2v1.4h-2.2zM804.6 568.6h1.8v1.2h-1.8zM805.1 569.8h1.0v1.7h-1.0zM805.9 569.1h2.1v1.4h-2.1zM814.3 568.9h2.2v1.3h-2.2zM815.5 567.6h2.2v2.0h-2.2zM814.8 566.9h1.8v1.1h-1.8zM816.5 566.3h1.3v1.7h-1.3zM816.7 564.9h2.2v2.1h-2.2zM816.7 563.9h1.0v1.6h-1.0zM821.7 570.9h2.1v1.1h-2.1zM823.4 570.4h1.9v1.9h-1.9zM822.7 569.1h1.8v1.6h-1.8zM821.7 570.5h2.0v1.4h-2.0zM823.3 569.4h1.3v1.9h-1.3zM823.5 567.9h1.8v2.0h-1.8zM817.9 563.7h2.2v2.0h-2.2zM818.7 565.5h1.8v1.0h-1.8zM819.8 566.3h2.0v1.2h-2.0zM821.3 566.2h1.7v2.3h-1.7zM827.0 570.7h1.0v1.1h-1.0zM828.2 570.8h1.2v2.2h-1.2zM828.7 572.8h1.0v1.0h-1.0zM826.6 572.6h2.0v1.8h-2.0zM819.9 592.7h2.1v1.6h-2.1zM819.9 591.2h1.5v1.7h-1.5zM821.4 590.7h1.3v1.4h-1.3zM821.3 591.9h2.0v2.2h-2.0zM822.7 592.1h2.2v1.9h-2.2zM824.2 591.9h1.6v1.1h-1.6zM825.7 592.7h1.2v1.1h-1.2zM826.0 593.9h1.8v1.1h-1.8zM827.2 592.4h1.6v2.2h-1.6zM827.9 593.8h1.9v1.8h-1.9zM812.9 577.3h1.9v1.3h-1.9zM811.8 578.2h1.6v1.3h-1.6zM811.9 588.5h2.1v1.1h-2.1zM810.8 587.9h1.1v2.0h-1.1zM810.3 586.5h2.0v1.7h-2.0zM842.6 569.4h1.9v1.6h-1.9zM844.0 570.5h1.5v1.3h-1.5zM843.6 571.8h1.1v1.6h-1.1zM842.2 572.4h1.3v2.0h-1.3zM842.1 570.8h2.3v1.9h-2.3zM802.9 603.1h2.1v1.8h-2.1zM804.4 604.1h1.0v2.0h-1.0zM805.7 603.8h1.1v1.3h-1.1zM806.2 602.2h1.5v1.7h-1.5zM805.4 603.5h1.6v2.1h-1.6zM819.8 591.4h1.7v1.1h-1.7zM819.0 592.2h1.3v1.8h-1.3zM819.2 593.5h1.3v2.2h-1.3zM819.2 595.3h2.2v1.3h-2.2zM825.4 587.3h1.3v1.6h-1.3zM823.5 587.5h2.2v2.2h-2.2zM822.5 588.5h2.1v2.1h-2.1zM823.1 586.9h1.5v2.1h-1.5zM824.2 588.4h1.6v1.5h-1.6zM813.2 592.2h2.2v1.2h-2.2zM814.4 593.0h1.4v2.2h-1.4zM784.5 590.5h1.1v2.3h-1.1zM783.9 592.2h1.2v1.7h-1.2zM808.0 565.9h1.4v1.7h-1.4zM806.5 565.2h2.0v1.4h-2.0zM808.2 564.0h1.0v1.8h-1.0zM808.1 565.8h1.1v1.5h-1.1zM804.7 604.5h2.2v2.0h-2.2zM805.0 606.4h2.1v1.2h-2.1zM803.6 607.0h2.1v1.2h-2.1zM804.6 608.1h1.3v1.4h-1.3zM818.2 567.9h1.4v2.2h-1.4zM819.5 568.7h1.6v1.5h-1.6zM801.4 578.7h1.0v2.3h-1.0zM801.4 577.5h2.1v1.9h-2.1zM800.0 577.5h1.7v2.0h-1.7zM797.6 590.4h1.4v1.4h-1.4zM798.6 591.4h1.5v1.5h-1.5zM797.7 589.9h1.2v2.2h-1.2zM798.7 590.1h2.2v1.6h-2.2zM798.1 591.5h1.7v1.5h-1.7zM795.4 585.9h1.1v1.7h-1.1zM795.4 584.2h2.1v2.1h-2.1zM796.2 585.8h1.8v1.7h-1.8zM796.4 584.6h1.1v1.2h-1.1zM794.7 584.2h1.4v2.2h-1.4zM794.4 589.8h1.9v1.4h-1.9zM793.9 590.8h1.4v2.0h-1.4zM792.8 589.9h1.8v1.4h-1.8zM792.2 591.3h1.9v1.3h-1.9zM793.6 591.7h1.8v2.2h-1.8zM795.4 591.7h1.3v1.2h-1.3zM795.3 587.4h1.2v2.1h-1.2zM795.6 586.0h2.1v2.3h-2.1zM794.7 587.2h2.0v2.3h-2.0zM793.8 588.8h2.3v1.9h-2.3zM793.3 590.1h1.5v1.6h-1.5zM792.0 590.8h1.9v1.6h-1.9zM793.4 591.9h1.5v1.1h-1.5zM792.4 592.9h1.7v1.0h-1.7zM835.6 602.0h1.0v1.2h-1.0zM835.0 603.5h1.0v1.0h-1.0zM834.0 604.2h1.5v1.9h-1.5zM833.4 602.9h1.5v1.6h-1.5zM832.4 603.8h1.2v1.4h-1.2zM833.9 603.2h1.6v2.2h-1.6zM835.6 603.8h1.1v1.4h-1.1zM834.4 604.7h2.0v2.3h-2.0zM833.1 605.9h2.1v1.4h-2.1zM833.9 604.3h1.6v1.6h-1.6zM832.8 603.5h1.2v1.8h-1.2zM841.3 603.7h1.1v1.1h-1.1zM840.6 602.2h2.0v1.1h-2.0zM840.1 603.3h2.0v1.9h-2.0zM839.3 602.3h1.9v1.5h-1.9zM842.0 600.9h1.5v1.4h-1.5zM840.6 599.6h1.9v2.2h-1.9zM839.8 599.1h1.6v1.1h-1.6zM844.0 607.6h1.1v1.2h-1.1zM707.9 673.5h2.0v1.6h-2.0zM709.9 673.5h1.0v1.4h-1.0zM710.3 674.5h1.9v1.8h-1.9zM710.7 675.9h2.0v1.7h-2.0zM712.3 676.3h1.5v1.2h-1.5zM712.8 674.6h1.8v1.9h-1.8zM713.8 676.1h1.2v1.1h-1.2zM711.8 675.1h1.9v1.9h-1.9zM717.7 669.6h1.8v1.9h-1.8zM717.6 671.0h1.8v2.3h-1.8zM716.1 670.5h2.0v1.7h-2.0zM718.2 670.6h1.1v1.5h-1.1zM717.8 669.3h2.0v1.2h-2.0zM718.5 667.4h1.1v2.0h-1.1zM717.2 666.8h1.5v1.2h-1.5zM717.0 668.6h2.1v1.1h-2.1zM717.7 666.8h1.8v2.0h-1.8zM716.3 668.0h1.9v1.1h-1.9zM715.3 667.6h1.2v1.0h-1.2zM715.7 668.5h1.7v1.2h-1.7zM714.4 669.1h2.2v2.0h-2.2zM713.5 668.0h1.9v1.9h-1.9zM715.2 668.0h1.8v1.9h-1.8zM711.5 680.9h1.3v1.2h-1.3zM710.5 681.9h1.3v1.6h-1.3zM709.5 682.7h1.3v1.9h-1.3zM710.5 681.2h1.1v2.2h-1.1zM709.2 682.3h1.2v1.7h-1.2zM708.9 680.9h1.2v1.3h-1.2zM718.1 672.4h1.1v2.1h-1.1zM719.5 672.4h1.3v1.8h-1.3zM717.7 673.0h1.7v1.6h-1.7zM719.1 673.0h2.0v1.4h-2.0zM720.4 671.8h1.8v1.9h-1.8zM719.8 673.6h2.1v1.4h-2.1zM721.4 673.6h1.6v2.0h-1.6zM721.8 672.2h1.3v1.7h-1.3zM720.5 671.6h1.1v1.3h-1.1zM720.0 672.8h2.3v2.0h-2.3zM718.5 674.0h1.9v2.3h-1.9zM717.2 675.1h1.7v1.5h-1.7zM716.2 673.9h1.6v1.9h-1.6zM717.7 674.1h1.9v1.1h-1.9zM719.3 673.8h1.6v2.3h-1.6zM717.8 673.2h1.9v2.2h-1.9zM716.4 673.1h1.8v1.8h-1.8zM718.1 673.8h1.5v1.6h-1.5zM719.4 672.8h1.0v1.4h-1.0zM717.6 672.2h1.6v1.7h-1.6zM719.2 672.4h1.1v1.6h-1.1zM717.9 670.8h2.2v2.2h-2.2zM717.7 669.6h2.0v1.7h-2.0zM716.8 668.4h1.9v2.0h-1.9zM718.5 667.5h1.1v2.2h-1.1zM719.1 669.4h1.8v1.2h-1.8zM717.9 669.5h1.3v2.3h-1.3zM718.8 670.5h2.1v2.2h-2.1zM721.3 668.3h1.9v2.1h-1.9zM721.4 670.2h2.2v1.4h-2.2zM719.9 669.6h2.1v1.8h-2.1zM721.3 668.8h2.2v2.0h-2.2zM722.5 670.5h1.5v1.2h-1.5zM721.5 669.2h1.0v1.8h-1.0zM721.4 670.9h1.7v1.3h-1.7zM719.9 671.3h2.0v1.3h-2.0zM721.3 671.0h2.2v2.2h-2.2zM722.3 669.5h1.2v2.0h-1.2zM715.1 678.5h1.5v1.3h-1.5zM714.4 679.5h2.2v2.2h-2.2zM714.1 678.6h1.7v1.1h-1.7zM715.7 678.9h1.2v1.8h-1.2zM714.5 678.1h1.4v1.1h-1.4zM713.8 676.6h1.6v1.5h-1.6zM716.3 668.5h1.8v1.2h-1.8zM715.1 669.3h2.3v2.1h-2.3zM715.0 668.2h1.9v1.3h-1.9zM713.7 668.3h1.8v2.0h-1.8zM713.0 667.4h1.1v2.2h-1.1zM711.7 668.1h1.1v1.8h-1.1zM714.5 674.3h1.9v1.7h-1.9zM714.1 675.7h2.2v1.8h-2.2zM716.2 675.6h1.1v1.4h-1.1zM716.4 676.4h2.2v2.3h-2.2zM715.1 677.3h2.3v2.0h-2.3zM716.4 676.8h2.1v1.0h-2.1zM713.0 666.9h2.2v1.6h-2.2zM712.1 665.8h1.4v2.1h-1.4zM712.0 667.3h1.5v2.3h-1.5zM711.9 669.0h1.2v1.7h-1.2zM711.2 667.6h2.1v1.4h-2.1zM711.1 668.6h1.4v2.2h-1.4zM711.8 667.1h1.6v2.2h-1.6zM711.6 668.7h1.7v2.0h-1.7zM710.1 669.9h2.3v1.1h-2.3zM711.3 670.9h1.2v1.8h-1.2zM712.8 671.7h1.1v1.1h-1.1zM714.5 679.3h1.4v2.1h-1.4zM714.7 678.1h1.4v1.4h-1.4zM715.6 679.0h1.7v2.0h-1.7zM715.3 680.7h1.4v1.4h-1.4zM713.3 680.7h2.3v2.0h-2.3zM715.0 681.8h1.1v1.6h-1.1zM714.6 683.4h1.2v1.3h-1.2zM713.0 683.9h1.8v1.7h-1.8zM710.9 665.3h1.1v1.0h-1.1zM712.4 665.4h1.1v1.4h-1.1zM713.7 664.9h1.4v2.0h-1.4zM713.5 666.2h1.2v2.3h-1.2zM713.9 666.9h1.6v2.2h-1.6zM714.1 669.0h1.9v1.1h-1.9zM715.7 667.7h1.6v2.2h-1.6zM716.3 669.3h1.7v1.5h-1.7zM714.8 668.3h1.7v1.9h-1.7zM715.0 667.0h1.9v1.4h-1.9zM715.7 668.6h1.6v1.1h-1.6zM715.9 666.7h1.0v1.8h-1.0zM716.0 668.2h1.9v1.6h-1.9zM717.0 669.3h1.8v1.4h-1.8zM711.7 674.9h2.1v1.6h-2.1zM710.3 674.9h1.8v1.0h-1.8zM709.1 675.6h1.7v1.2h-1.7zM710.0 674.1h1.6v1.6h-1.6zM710.9 672.8h1.9v1.7h-1.9zM712.7 672.6h1.3v1.8h-1.3zM712.1 665.3h1.6v1.1h-1.6zM713.0 666.0h1.8v1.9h-1.8zM711.8 665.1h1.4v2.2h-1.4zM713.4 665.0h1.3v2.1h-1.3zM714.4 665.9h1.5v2.2h-1.5zM715.5 665.8h1.8v1.1h-1.8zM716.3 667.0h1.7v1.0h-1.7zM715.5 665.1h1.9v1.8h-1.9zM716.8 664.4h1.3v1.2h-1.3zM715.8 663.1h1.1v1.3h-1.1zM715.0 664.1h1.5v2.2h-1.5zM715.1 668.6h2.0v1.2h-2.0zM716.5 668.0h2.2v1.3h-2.2zM716.9 669.6h2.1v1.2h-2.1zM718.7 669.8h1.2v1.1h-1.2zM716.8 670.3h2.0v1.2h-2.0zM706.4 674.3h1.3v2.1h-1.3zM705.3 675.7h1.7v1.8h-1.7zM703.6 676.2h2.2v1.3h-2.2zM704.9 674.8h1.3v1.4h-1.3zM704.2 676.3h1.7v1.1h-1.7zM712.6 666.9h2.2v1.4h-2.2zM711.6 666.4h1.3v1.2h-1.3zM711.4 664.7h1.3v1.8h-1.3zM711.6 666.2h1.3v1.9h-1.3zM710.0 666.9h2.1v1.9h-2.1zM717.3 668.0h1.5v1.3h-1.5zM718.9 668.1h1.3v1.6h-1.3zM717.8 669.3h2.0v1.8h-2.0zM719.6 670.1h1.2v1.0h-1.2zM718.7 671.1h2.0v1.9h-2.0zM718.1 669.9h1.6v1.2h-1.6zM719.1 668.8h2.1v1.4h-2.1zM718.1 668.1h1.1v1.6h-1.1zM719.5 668.7h1.1v1.1h-1.1zM716.4 667.8h1.1v2.2h-1.1zM717.3 666.7h1.5v2.2h-1.5zM718.3 668.4h1.1v1.2h-1.1zM717.1 666.7h1.5v2.1h-1.5zM715.2 666.8h2.2v1.5h-2.2zM715.8 668.5h1.6v1.4h-1.6zM714.2 668.8h2.0v2.1h-2.0zM715.5 668.0h2.2v1.9h-2.2zM717.3 668.9h1.3v1.3h-1.3zM718.1 667.4h1.4v1.8h-1.4zM719.4 666.8h1.4v2.0h-1.4zM711.4 670.4h1.5v1.7h-1.5zM712.9 670.5h1.4v1.7h-1.4zM713.4 672.1h2.0v1.2h-2.0zM712.6 673.0h2.3v2.1h-2.3zM711.3 673.7h2.3v2.2h-2.3zM713.4 674.5h1.0v1.0h-1.0zM714.4 673.2h1.0v1.0h-1.0zM712.4 671.9h2.0v2.1h-2.0zM714.0 671.9h1.6v1.6h-1.6zM713.1 673.5h2.1v1.1h-2.1zM714.6 674.0h1.2v2.0h-1.2zM719.9 668.9h1.1v1.3h-1.1zM720.3 669.9h2.2v1.5h-2.2zM722.2 669.5h1.2v1.5h-1.2zM720.0 669.5h2.3v1.2h-2.3zM721.6 668.8h2.1v2.2h-2.1zM721.4 670.4h1.8v2.1h-1.8zM721.1 669.0h1.8v1.5h-1.8zM716.7 669.8h2.2v1.1h-2.2zM715.4 669.6h1.9v2.3h-1.9zM715.0 668.4h1.2v2.1h-1.2zM713.6 669.4h2.0v2.2h-2.0zM713.1 668.7h1.3v1.2h-1.3zM709.4 668.6h2.1v1.1h-2.1zM708.6 667.9h1.1v1.2h-1.1zM706.9 667.5h1.5v1.3h-1.5zM706.5 668.8h1.4v1.5h-1.4zM704.7 668.6h2.3v2.1h-2.3zM706.6 667.5h1.1v2.1h-1.1zM707.0 666.2h2.2v2.2h-2.2zM707.9 667.8h1.0v2.2h-1.0zM708.9 669.0h1.9v1.3h-1.9zM709.6 667.6h1.6v1.2h-1.6zM715.3 673.0h1.0v2.2h-1.0zM713.3 673.5h2.0v1.4h-2.0zM714.1 674.7h2.1v1.6h-2.1zM714.3 673.2h1.2v1.5h-1.2zM715.2 674.0h1.4v2.1h-1.4zM719.2 669.4h1.5v1.2h-1.5zM718.5 667.8h1.4v1.7h-1.4zM718.4 669.6h2.0v1.3h-2.0zM718.2 670.7h1.4v1.9h-1.4zM717.2 672.4h2.1v1.1h-2.1zM721.7 671.0h2.2v2.2h-2.2zM723.0 670.4h2.1v1.5h-2.1zM722.2 669.1h2.0v1.7h-2.0zM723.4 669.8h1.9v2.3h-1.9zM722.2 670.4h1.3v1.5h-1.3zM721.2 671.8h1.8v1.5h-1.8zM719.9 672.4h2.0v1.9h-2.0zM704.8 674.7h1.2v2.2h-1.2zM705.1 673.6h1.8v1.6h-1.8zM704.2 674.9h1.8v1.6h-1.8zM705.5 674.6h2.1v1.5h-2.1zM706.1 675.9h1.4v1.9h-1.4zM704.9 675.2h1.3v1.6h-1.3zM703.3 675.0h1.5v1.1h-1.5zM703.2 676.0h1.6v2.2h-1.6zM725.2 662.8h1.5v1.2h-1.5zM726.1 663.6h1.9v1.5h-1.9zM724.8 663.0h1.4v2.1h-1.4zM723.6 661.7h2.2v2.0h-2.2zM722.9 660.4h2.3v2.1h-2.3zM724.3 659.5h2.2v2.3h-2.2zM723.2 660.9h2.0v1.5h-2.0zM725.0 662.1h1.1v1.0h-1.1zM726.0 661.9h2.2v1.3h-2.2zM727.7 661.0h1.6v2.3h-1.6zM717.9 671.3h1.7v2.2h-1.7zM716.7 672.5h1.8v1.8h-1.8zM717.7 673.6h1.0v2.2h-1.0zM716.0 674.3h1.5v1.5h-1.5zM717.0 675.2h2.0v1.6h-2.0zM718.2 674.6h2.2v1.0h-2.2zM718.1 675.8h2.1v1.3h-2.1zM716.9 676.0h1.7v1.9h-1.7zM717.8 677.4h1.7v1.0h-1.7zM716.0 676.8h2.3v2.0h-2.3zM690.4 673.4h1.9v2.1h-1.9zM689.9 672.5h1.5v1.3h-1.5zM690.5 671.1h1.3v1.4h-1.3zM690.1 672.5h1.0v1.7h-1.0zM688.3 673.5h2.2v1.5h-2.2zM693.8 670.2h2.1v1.3h-2.1zM693.7 671.1h1.1v2.2h-1.1zM695.0 670.3h1.3v2.2h-1.3zM696.3 671.2h1.1v2.2h-1.1zM687.7 666.8h2.2v2.0h-2.2zM688.2 668.8h1.1v1.1h-1.1zM686.7 667.6h1.3v2.3h-1.3zM686.2 669.4h1.9v1.7h-1.9zM687.1 668.2h2.3v1.7h-2.3zM689.1 668.4h1.5v1.3h-1.5zM687.2 668.1h2.1v1.6h-2.1zM686.0 668.2h1.5v1.1h-1.5zM684.3 667.8h2.0v1.9h-2.0zM686.0 668.6h1.8v1.3h-1.8zM695.6 672.5h2.2v1.6h-2.2zM694.4 673.2h1.8v1.4h-1.8zM694.3 674.5h2.0v1.9h-2.0zM696.0 674.4h1.7v1.0h-1.7zM696.1 675.8h1.7v1.3h-1.7zM697.4 675.0h2.0v1.9h-2.0zM698.7 676.5h1.3v1.2h-1.3zM699.5 677.5h1.7v1.2h-1.7zM698.6 675.7h1.6v1.9h-1.6zM698.1 677.1h1.5v1.9h-1.5zM696.3 676.7h2.2v1.1h-2.2zM697.2 670.9h2.1v1.7h-2.1zM698.7 671.3h1.9v2.0h-1.9zM698.6 669.9h2.1v1.8h-2.1zM698.5 671.6h1.4v1.3h-1.4zM698.1 673.2h1.3v1.2h-1.3zM696.4 672.3h1.8v1.9h-1.8zM696.1 674.1h1.9v1.1h-1.9zM695.1 672.7h1.7v1.5h-1.7zM694.7 673.7h1.3v2.1h-1.3zM701.1 667.0h2.3v1.8h-2.3zM702.7 667.5h2.1v1.5h-2.1zM704.1 668.0h2.0v1.6h-2.0zM705.1 669.6h1.1v1.1h-1.1zM703.7 670.2h1.9v2.1h-1.9zM704.6 671.7h1.3v1.3h-1.3zM704.1 669.9h1.9v1.6h-1.9zM697.9 671.8h1.6v1.0h-1.6zM697.8 669.9h1.4v1.8h-1.4zM696.6 671.3h2.0v1.6h-2.0zM698.1 670.8h1.8v1.2h-1.8zM699.6 671.0h1.8v1.1h-1.8zM698.3 671.0h1.2v2.2h-1.2zM698.0 672.5h1.6v2.2h-1.6zM698.3 674.5h1.6v1.1h-1.6zM699.5 673.9h2.1v1.4h-2.1zM698.3 674.0h1.5v1.4h-1.5zM698.5 675.4h1.4v1.6h-1.4zM697.0 676.2h1.9v1.4h-1.9zM697.0 677.5h1.4v1.4h-1.4zM696.3 678.2h2.2v1.1h-2.2zM696.1 676.5h1.7v1.7h-1.7zM697.3 675.9h2.2v2.2h-2.2zM698.0 677.5h1.4v2.2h-1.4zM696.3 678.3h1.9v1.7h-1.9zM699.0 668.5h1.1v1.3h-1.1zM699.1 666.9h2.3v1.8h-2.3zM698.0 667.3h1.4v1.8h-1.4zM696.5 667.7h1.5v1.1h-1.5zM696.0 669.1h1.9v1.5h-1.9zM696.2 667.2h1.4v2.1h-1.4zM692.9 675.8h2.2v1.5h-2.2zM694.4 675.6h2.2v1.7h-2.2zM695.1 674.2h1.9v1.9h-1.9zM693.9 675.3h2.2v2.0h-2.2zM693.3 674.2h2.0v1.3h-2.0zM694.4 675.1h2.2v1.4h-2.2zM704.0 675.4h1.5v1.1h-1.5zM705.6 674.7h1.1v1.4h-1.1zM704.5 673.5h1.8v1.3h-1.8zM703.4 674.2h1.5v1.8h-1.5zM695.3 666.2h1.8v1.8h-1.8zM694.8 667.5h1.4v2.0h-1.4zM694.0 668.9h1.8v1.8h-1.8zM695.9 668.2h1.1v1.8h-1.1zM696.1 669.8h1.8v1.2h-1.8zM694.8 669.0h1.4v1.2h-1.4zM694.4 667.2h1.5v1.8h-1.5zM693.7 665.7h1.2v2.1h-1.2zM738.1 690.7L736.7 688.4L738.3 685.6L746.0 683.9L755.1 684.9L757.7 688.2L756.7 691.3L750.9 694.1L741.0 694.2zM746.2 689.5h1.8v1.7h-1.8zM744.8 690.2h2.2v2.2h-2.2zM750.0 687.1h2.1v2.2h-2.1zM750.8 686.2h2.1v1.4h-2.1zM749.5 685.4h2.3v1.4h-2.3zM748.0 685.9h2.2v1.3h-2.2zM748.1 687.9h1.1v1.3h-1.1zM749.0 688.2h2.1v2.1h-2.1zM747.4 688.0h2.1v1.5h-2.1zM746.3 688.0h1.4v1.2h-1.4zM744.8 687.8h1.6v2.2h-1.6zM746.1 688.3h2.3v1.8h-2.3zM747.5 688.9h2.3v2.1h-2.3zM757.1 685.9h2.2v2.2h-2.2zM756.2 685.0h1.7v2.2h-1.7zM757.4 684.4h2.0v2.1h-2.0zM758.4 683.0h1.2v2.3h-1.2zM756.7 683.5h1.6v1.1h-1.6zM757.9 683.1h2.2v1.3h-2.2zM752.8 689.2h2.0v1.9h-2.0zM751.9 688.6h1.2v1.4h-1.2zM750.4 688.7h1.5v1.6h-1.5zM750.4 687.3h1.4v1.5h-1.4zM744.4 688.4h2.1v2.0h-2.1zM743.7 689.3h1.3v2.0h-1.3zM742.3 689.7h1.1v1.8h-1.1zM740.6 689.9h1.9v2.1h-1.9zM739.5 690.2h1.4v1.6h-1.4zM741.2 690.6h1.5v1.3h-1.5zM748.4 684.8h1.8v1.7h-1.8zM749.8 684.2h1.9v1.7h-1.9zM748.5 684.3h1.2v1.9h-1.2zM746.6 684.3h2.2v1.1h-2.2zM748.1 684.5h2.2v1.7h-2.2zM749.9 685.2h1.5v1.4h-1.5zM751.0 684.3h1.7v1.5h-1.7zM751.9 682.9h1.5v2.0h-1.5zM753.2 682.8h1.7v2.3h-1.7zM754.4 682.7h1.9v2.3h-1.9zM755.6 683.6h1.8v1.3h-1.8zM745.1 686.6h2.3v1.4h-2.3zM746.3 687.4h1.9v1.9h-1.9zM744.8 687.3h1.8v1.6h-1.8zM746.1 688.1h1.5v2.1h-1.5zM744.5 688.0h1.6v2.1h-1.6zM743.1 687.4h2.1v1.3h-2.1zM741.9 687.3h1.7v1.0h-1.7zM740.7 686.5h1.5v2.0h-1.5zM742.0 685.6h1.6v1.8h-1.6zM743.9 686.1h1.1v1.6h-1.1zM745.2 687.2h1.1v1.2h-1.1zM743.2 689.0h2.2v2.1h-2.2zM741.6 689.1h2.2v1.3h-2.2zM743.2 689.1h2.2v2.2h-2.2zM745.1 689.7h1.3v1.9h-1.3zM742.1 687.1h2.3v1.5h-2.3zM740.9 688.3h2.3v1.1h-2.3zM740.3 688.9h1.3v2.0h-1.3zM742.0 688.2h1.1v2.0h-1.1zM743.5 688.7h1.0v1.9h-1.0zM742.3 690.1h1.3v1.1h-1.3zM743.7 689.9h1.5v1.8h-1.5zM744.9 690.8h1.7v1.1h-1.7zM746.5 690.0h1.2v2.0h-1.2zM739.6 684.0h1.0v2.2h-1.0zM741.1 684.4h1.0v1.7h-1.0zM739.5 684.3h1.1v1.4h-1.1zM740.9 683.7h1.3v1.7h-1.3zM741.4 685.2h1.6v1.3h-1.6zM742.9 685.5h1.3v1.4h-1.3zM752.9 687.0h1.7v1.1h-1.7zM754.3 685.8h1.7v2.3h-1.7zM755.8 685.9h1.8v1.7h-1.8zM757.3 686.9h1.0v1.1h-1.0zM755.1 686.7h2.2v2.2h-2.2zM753.5 686.3h2.1v2.3h-2.1zM754.9 687.1h1.8v2.2h-1.8zM753.2 687.0h2.2v1.1h-2.2zM752.0 686.3h1.8v1.9h-1.8zM753.4 686.7h2.0v1.6h-2.0zM744.1 685.1h2.0v1.0h-2.0zM742.7 685.3h1.8v1.0h-1.8zM744.1 684.8h2.3v2.0h-2.3zM743.2 684.4h1.2v1.9h-1.2zM744.6 684.2h1.4v1.2h-1.4zM745.6 684.9h1.1v2.2h-1.1zM747.0 685.4h1.2v1.2h-1.2zM747.8 685.5h2.3v1.6h-2.3zM746.8 685.9h1.0v1.3h-1.0zM747.8 686.3h1.7v1.2h-1.7zM758.6 686.4h1.8v1.5h-1.8zM757.9 685.0h1.4v2.0h-1.4zM756.3 684.9h1.9v1.1h-1.9zM757.6 684.3h2.3v1.4h-2.3zM733.3 686.5h1.2v1.6h-1.2zM731.6 686.7h1.7v2.0h-1.7zM732.8 686.3h2.2v1.8h-2.2zM734.5 687.2h1.4v1.5h-1.4zM732.9 686.8h1.5v1.7h-1.5zM732.3 688.2h1.0v1.3h-1.0zM730.6 688.2h1.6v1.2h-1.6zM731.8 688.9h1.6v1.7h-1.6zM747.6 687.5h1.6v1.6h-1.6zM748.5 688.2h2.0v2.2h-2.0zM750.4 689.0h1.1v1.3h-1.1zM751.4 687.7h1.4v2.1h-1.4zM752.2 687.0h2.0v2.1h-2.0zM753.7 686.5h1.2v1.5h-1.2zM754.3 685.4h1.1v1.3h-1.1zM752.5 685.1h1.1v1.7h-1.1zM753.0 668.9h1.3v1.4h-1.3zM751.6 670.1h1.8v1.1h-1.8zM753.2 669.0h1.6v2.0h-1.6zM751.5 669.5h2.1v2.0h-2.1zM751.7 666.2h1.6v1.9h-1.6zM750.6 665.7h1.3v1.0h-1.3zM751.0 667.2h1.6v1.0h-1.6zM749.6 667.3h1.7v2.0h-1.7zM749.9 669.0h2.2v1.5h-2.2zM752.6 666.0h2.0v1.8h-2.0zM751.9 666.9h1.3v2.3h-1.3zM750.5 668.7h1.2v1.3h-1.2zM751.4 669.5h1.3v2.3h-1.3zM752.8 669.9h1.5v1.4h-1.5zM754.1 669.5h1.4v1.1h-1.4zM752.2 669.7h2.0v1.6h-2.0zM751.2 668.3h1.6v2.2h-1.6zM752.4 677.4h1.0v1.1h-1.0zM750.4 676.7h2.2v1.9h-2.2zM748.9 676.4h2.2v1.9h-2.2zM748.2 675.6h1.7v1.6h-1.7zM747.4 676.6h1.4v1.8h-1.4zM750.6 675.3h1.2v1.5h-1.2zM748.9 675.0h1.7v1.3h-1.7zM747.8 675.4h1.6v2.3h-1.6zM748.9 676.7h1.4v2.1h-1.4zM747.0 674.2h2.2v1.8h-2.2zM745.5 674.6h2.2v1.2h-2.2zM744.6 675.5h1.8v1.5h-1.8zM743.6 674.3h1.2v2.3h-1.2zM744.5 676.0h2.0v1.1h-2.0zM745.8 674.3h1.2v1.7h-1.2zM749.7 675.2h1.9v1.1h-1.9zM751.3 674.9h1.8v1.6h-1.8zM752.7 674.4h1.7v1.6h-1.7zM753.7 675.4h1.9v1.4h-1.9zM754.9 674.7h2.1v2.1h-2.1zM755.5 676.4h1.7v1.2h-1.7zM755.0 674.5h1.5v2.0h-1.5zM733.2 668.0h1.5v1.0h-1.5zM733.5 669.2h1.4v1.6h-1.4zM732.6 667.8h1.2v2.0h-1.2zM733.7 668.1h2.2v1.5h-2.2zM741.1 662.7h2.2v2.1h-2.2zM741.8 661.3h1.4v2.0h-1.4zM740.0 662.2h1.9v1.1h-1.9zM739.1 661.0h1.4v1.7h-1.4zM730.9 664.6h1.5v1.8h-1.5zM730.0 665.9h1.9v1.8h-1.9zM728.7 666.0h1.4v1.5h-1.4zM728.7 664.4h2.0v1.4h-2.0zM737.7 661.5h1.2v2.0h-1.2zM737.7 663.1h2.0v1.9h-2.0zM736.1 663.6h2.1v1.3h-2.1zM735.1 663.2h1.2v1.5h-1.2zM733.5 663.4h1.8v1.9h-1.8zM739.7 666.6h1.3v1.8h-1.3zM739.3 665.0h1.9v2.0h-1.9zM735.8 663.1h1.5v1.2h-1.5zM737.3 663.7h1.2v1.4h-1.2zM738.1 662.6h2.3v2.2h-2.3zM737.9 664.6h1.3v1.2h-1.3zM737.9 665.7h1.8v1.6h-1.8zM834.9 677.2h2.6v2.1h-2.6zM822.6 674.4h2.7v1.5h-2.7zM815.0 670.4h1.9v1.7h-1.9zM828.8 673.8h1.1v2.0h-1.1zM821.5 663.4h2.3v1.9h-2.3zM820.7 670.7h1.7v2.2h-1.7zM821.5 677.4h2.7v1.4h-2.7zM807.5 683.5h2.0v1.3h-2.0zM841.9 683.3h1.1v1.8h-1.1zM802.9 667.6h1.9v2.1h-1.9zM802.4 666.1h2.3v1.1h-2.3zM818.6 686.1h1.4v1.6h-1.4zM802.7 671.5h1.4v1.4h-1.4zM815.2 668.3h2.4v1.8h-2.4zM803.3 682.2h1.3v1.2h-1.3zM836.5 681.5h1.2v2.2h-1.2zM808.4 665.3h2.0v1.2h-2.0zM818.6 672.3h2.6v1.4h-2.6zM820.4 686.2h2.3v1.9h-2.3zM817.5 673.6h2.2v1.9h-2.2zM810.8 681.7h1.1v1.1h-1.1zM815.2 664.4h1.2v1.6h-1.2zM826.6 669.7h1.1v1.4h-1.1zM803.7 687.0h2.2v1.2h-2.2zM818.8 670.0h1.5v1.9h-1.5zM834.9 686.1h2.4v1.6h-2.4zM832.7 684.0h2.7v1.3h-2.7zM836.4 681.8h2.0v1.8h-2.0zM799.1 665.9h2.5v1.3h-2.5zM832.1 665.3h2.7v1.1h-2.7zM821.6 683.1h2.6v2.2h-2.6zM837.7 678.0h2.4v1.3h-2.4zM827.1 684.4h1.6v1.6h-1.6zM839.9 688.4h1.9v2.2h-1.9zM833.2 685.5h2.5v2.2h-2.5zM834.3 669.9h2.7v1.4h-2.7zM805.4 675.8h1.4v1.6h-1.4zM813.0 667.6h1.5v1.8h-1.5zM826.4 688.2h1.7v1.6h-1.7zM806.6 683.2h2.4v2.0h-2.4zM822.1 679.4h1.3v1.2h-1.3zM829.9 665.4h2.5v1.2h-2.5zM815.4 674.3h2.1v1.0h-2.1zM817.1 689.1h1.7v1.3h-1.7zM811.1 672.4h1.9v1.1h-1.9zM842.7 663.7h1.9v1.5h-1.9zM829.9 683.1h1.8v1.4h-1.8zM843.4 683.1h1.0v2.0h-1.0zM808.6 689.8h1.2v1.6h-1.2zM813.7 687.1h2.2v2.0h-2.2zM802.5 672.6h2.8v2.1h-2.8zM811.8 679.3h1.1v1.5h-1.1zM801.6 681.6h2.0v1.7h-2.0zM838.6 675.9h1.5v1.9h-1.5zM810.1 690.3h1.1v1.3h-1.1zM825.1 675.8h1.8v1.9h-1.8zM803.6 680.5h1.2v1.7h-1.2zM803.6 686.7h1.8v1.4h-1.8zM827.3 686.9h2.1v1.5h-2.1zM833.7 687.9h2.3v1.4h-2.3zM827.2 682.7h1.0v2.1h-1.0zM839.1 689.8h1.0v1.5h-1.0zM802.2 681.9h1.9v1.9h-1.9zM807.8 682.7h1.8v1.1h-1.8zM817.6 679.7h2.2v2.1h-2.2zM800.9 666.4h2.0v1.3h-2.0zM833.2 688.2h1.5v2.2h-1.5zM800.0 680.8h2.3v2.1h-2.3zM822.9 669.6h1.9v1.8h-1.9zM830.4 670.6h1.6v1.2h-1.6zM813.1 676.9h2.8v2.2h-2.8zM826.6 686.7h2.2v1.6h-2.2zM812.7 681.2h2.7v1.9h-2.7zM806.1 687.2h2.6v1.4h-2.6zM825.0 667.3h1.7v1.4h-1.7zM801.7 681.5h2.2v1.6h-2.2zM831.3 677.4h1.8v2.0h-1.8zM816.4 684.7h2.2v1.3h-2.2zM813.5 675.9h2.1v1.5h-2.1zM821.3 675.3h1.9v2.1h-1.9zM804.5 681.6h1.8v2.2h-1.8zM811.1 674.8h2.7v1.5h-2.7zM813.2 674.9h2.6v2.2h-2.6zM812.6 666.7h1.3v1.5h-1.3zM815.0 688.1h1.7v2.2h-1.7zM808.0 682.2h2.0v1.3h-2.0zM818.0 683.0h2.4v1.6h-2.4zM814.9 665.7h2.2v1.9h-2.2zM801.8 688.4h1.5v2.0h-1.5zM820.7 675.5h1.7v2.1h-1.7zM804.8 682.6h2.6v1.1h-2.6zM815.5 663.2h2.1v1.9h-2.1zM833.2 678.3h1.7v1.7h-1.7zM820.4 679.3h1.1v1.8h-1.1zM831.3 675.2h1.3v1.3h-1.3zM800.2 674.6h1.3v1.8h-1.3zM835.3 678.9h1.9v1.6h-1.9zM810.0 681.9h2.6v2.0h-2.6zM828.7 670.8h2.2v2.1h-2.2zM809.5 669.3h2.4v1.8h-2.4zM804.4 672.4h1.6v1.0h-1.6zM841.1 674.7h2.2v1.3h-2.2zM813.6 686.5h2.2v1.8h-2.2zM824.2 686.9h1.0v2.1h-1.0zM836.3 686.1h1.1v1.9h-1.1zM840.0 668.7h2.2v1.1h-2.2zM801.7 666.7h2.8v2.2h-2.8zM799.7 669.2h1.8v1.3h-1.8zM809.1 665.3h1.7v1.8h-1.7zM823.5 667.5h2.0v1.9h-2.0zM816.5 687.0h2.7v1.3h-2.7zM821.7 666.5h2.3v1.5h-2.3zM826.2 667.8h1.4v1.4h-1.4zM836.3 684.5h1.1v1.9h-1.1zM806.6 686.6h1.3v1.2h-1.3zM826.8 667.8h1.5v1.4h-1.5zM822.4 681.0h1.5v1.3h-1.5zM834.1 689.4h2.3v2.2h-2.3zM815.1 673.4h1.3v1.3h-1.3zM832.6 683.3h1.1v2.1h-1.1zM841.7 687.1h2.2v1.0h-2.2zM804.9 665.5h1.2v1.6h-1.2zM801.1 668.7h1.2v1.8h-1.2zM815.8 686.5h1.5v2.0h-1.5zM808.1 667.2h2.1v1.4h-2.1zM832.0 680.1h1.2v2.1h-1.2zM841.2 672.9h2.2v1.3h-2.2zM813.7 689.1h1.8v1.4h-1.8zM833.7 690.4h1.5v1.4h-1.5zM805.3 687.7h1.6v2.2h-1.6zM834.7 684.1h1.7v1.9h-1.7zM800.3 669.6h2.7v1.6h-2.7zM802.0 679.1h1.5v1.8h-1.5zM836.3 687.3h1.2v2.2h-1.2zM833.4 664.2h2.1v1.3h-2.1zM822.8 665.8h2.5v2.1h-2.5zM815.9 669.6h2.5v1.8h-2.5zM836.8 677.1h1.1v1.4h-1.1zM815.9 674.5h1.1v1.6h-1.1zM835.1 666.4h2.5v1.5h-2.5zM817.3 679.3h2.6v1.1h-2.6zM842.4 670.8h1.2v1.3h-1.2zM804.6 681.4h2.6v1.0h-2.6zM837.4 678.5h1.6v1.1h-1.6zM827.3 675.0h1.6v1.2h-1.6zM825.5 663.8h2.4v1.0h-2.4zM836.2 689.1h1.0v1.9h-1.0zM813.4 676.0h2.0v1.0h-2.0zM840.1 669.7h2.8v1.1h-2.8zM819.9 664.1h2.7v1.9h-2.7zM805.2 683.0h1.8v2.1h-1.8zM832.9 687.6h1.5v1.3h-1.5zM812.7 675.2h1.3v1.4h-1.3zM808.4 672.3h2.4v2.2h-2.4zM819.7 665.5h2.5v1.7h-2.5zM812.1 675.4h1.7v1.1h-1.7zM819.8 667.4h1.8v1.6h-1.8zM799.6 665.4h2.5v1.9h-2.5zM820.2 663.4h1.8v2.2h-1.8zM821.8 663.8h1.5v1.8h-1.5zM820.2 663.5h1.5v2.1h-1.5zM819.1 664.9h2.3v1.9h-2.3zM820.4 665.9h1.5v2.2h-1.5zM818.9 666.5h1.4v1.2h-1.4zM819.9 664.9h1.9v1.9h-1.9zM821.0 664.0h2.1v1.9h-2.1zM815.3 680.3h2.2v2.0h-2.2zM814.1 680.2h1.8v1.0h-1.8zM815.3 681.0h1.1v2.1h-1.1zM816.3 682.0h1.7v1.7h-1.7zM814.6 682.4h2.2v1.6h-2.2zM816.1 683.1h1.9v1.8h-1.9zM817.4 683.2h2.3v1.1h-2.3zM819.3 682.6h1.2v2.0h-1.2zM820.4 682.3h1.7v2.0h-1.7zM821.9 681.8h1.2v2.1h-1.2zM822.5 682.4h2.0v2.2h-2.0zM820.7 681.9h2.3v1.5h-2.3zM834.3 679.1h2.0v2.2h-2.0zM833.1 679.1h1.5v1.3h-1.5zM831.9 678.3h1.2v2.3h-1.2zM830.4 677.7h1.6v2.2h-1.6zM829.4 677.9h1.1v1.4h-1.1zM830.2 676.6h2.1v1.9h-2.1zM829.3 676.5h1.3v2.2h-1.3zM831.1 676.9h1.1v1.1h-1.1zM829.5 676.2h2.0v1.4h-2.0zM828.4 676.4h1.7v2.0h-1.7zM830.3 676.9h1.5v1.8h-1.5zM831.8 677.5h1.9v1.6h-1.9zM839.6 675.3h1.5v1.4h-1.5zM837.8 674.7h2.3v1.5h-2.3zM837.1 673.3h1.9v1.9h-1.9zM835.9 673.0h1.9v1.4h-1.9zM836.4 674.5h2.3v1.5h-2.3zM835.8 689.3h1.5v1.6h-1.5zM836.3 690.5h2.2v1.6h-2.2zM835.3 690.7h1.1v1.1h-1.1zM821.2 675.1h2.2v1.8h-2.2zM822.4 676.4h1.9v1.6h-1.9zM821.5 675.5h1.1v1.5h-1.1zM820.1 674.4h1.6v1.7h-1.6zM818.3 674.6h2.3v1.4h-2.3zM817.4 673.8h1.7v1.7h-1.7zM824.6 659.2h1.1v1.1h-1.1zM822.6 658.9h2.1v1.6h-2.1zM821.4 658.9h1.7v1.8h-1.7zM820.3 659.1h1.1v1.7h-1.1zM819.3 658.0h2.1v1.3h-2.1zM818.2 658.1h1.8v2.1h-1.8zM820.2 657.4h1.2v2.2h-1.2zM818.8 658.8h1.7v1.0h-1.7zM820.2 657.5h1.8v1.6h-1.8zM829.5 684.0h1.7v1.6h-1.7zM830.0 685.6h1.7v1.4h-1.7zM831.0 686.4h2.2v1.2h-2.2zM832.4 686.2h2.2v2.2h-2.2zM834.0 687.5h1.0v1.3h-1.0zM832.4 686.3h1.1v2.0h-1.1zM833.4 685.8h1.5v1.4h-1.5zM815.2 677.0h2.1v1.5h-2.1zM813.8 676.7h2.1v1.1h-2.1zM812.7 675.8h1.7v1.5h-1.7zM814.1 676.4h2.2v1.1h-2.2zM815.9 676.8h1.2v2.2h-1.2zM817.1 677.3h1.8v1.0h-1.8zM827.7 669.1h1.8v2.1h-1.8zM829.4 669.3h1.3v2.1h-1.3zM830.8 669.6h1.5v2.2h-1.5zM829.3 669.1h1.4v1.8h-1.4zM827.6 669.3h1.6v2.0h-1.6zM826.4 669.2h1.1v1.5h-1.1zM824.5 668.7h2.1v1.4h-2.1zM826.5 669.1h1.4v1.3h-1.4zM815.8 672.7h1.6v1.1h-1.6zM814.0 672.7h2.0v1.6h-2.0zM815.7 672.6h1.8v1.3h-1.8zM816.5 671.1h2.1v2.0h-2.1zM818.3 670.9h1.2v1.3h-1.2zM816.9 669.7h1.7v1.9h-1.7zM817.8 670.7h2.3v1.6h-2.3zM816.5 670.4h1.7v2.1h-1.7zM814.9 670.3h1.8v1.6h-1.8zM807.6 683.3h1.3v1.1h-1.3zM808.8 682.7h1.9v1.9h-1.9zM807.5 681.9h1.5v2.2h-1.5zM805.7 681.9h2.1v2.0h-2.1zM807.3 681.7h2.1v2.2h-2.1zM806.2 682.6h1.7v1.9h-1.7zM822.2 665.1h1.5v2.2h-1.5zM823.5 664.6h1.2v1.2h-1.2zM821.9 664.1h1.5v1.6h-1.5zM823.6 663.9h1.2v1.8h-1.2zM821.8 663.1h2.0v2.2h-2.0zM820.3 663.8h2.1v2.3h-2.1zM822.4 664.0h1.1v2.2h-1.1zM823.6 665.3h1.3v1.5h-1.3zM824.7 664.2h1.4v2.0h-1.4zM823.2 664.9h1.5v2.3h-1.5zM821.6 664.7h1.9v1.1h-1.9zM818.5 675.0h1.1v1.2h-1.1zM819.5 675.1h1.9v2.2h-1.9zM820.9 675.5h1.8v2.1h-1.8zM822.6 676.1h1.1v1.7h-1.1zM820.6 675.9h1.5v1.9h-1.5zM821.8 676.4h1.9v1.4h-1.9zM823.2 675.8h1.9v2.2h-1.9zM822.3 674.6h1.5v1.9h-1.5zM823.5 675.2h1.8v1.3h-1.8zM830.5 667.3h1.7v1.2h-1.7zM829.8 665.9h1.2v1.5h-1.2zM828.6 665.2h1.1v1.7h-1.1zM826.7 665.1h1.9v2.1h-1.9zM825.6 665.6h1.6v2.0h-1.6zM824.5 665.9h1.3v2.0h-1.3zM807.8 669.9h1.5v1.0h-1.5zM806.5 668.6h1.5v2.0h-1.5zM804.8 668.9h2.1v1.2h-2.1zM804.8 667.0h1.4v2.2h-1.4zM803.3 667.4h1.8v2.1h-1.8zM832.3 681.2h1.5v2.2h-1.5zM831.1 681.7h1.2v2.2h-1.2zM829.1 681.5h2.2v2.3h-2.2zM831.2 681.7h1.2v1.0h-1.2zM830.2 682.6h1.2v1.4h-1.2zM829.0 681.6h1.4v1.4h-1.4zM816.0 670.4h1.2v1.3h-1.2zM814.2 670.5h1.9v1.6h-1.9zM813.5 668.9h2.0v2.0h-2.0zM812.9 667.7h1.6v2.1h-1.6zM814.4 668.4h2.0v1.3h-2.0zM816.0 668.1h1.9v1.7h-1.9zM817.8 668.0h1.3v1.7h-1.3zM819.1 668.5h1.5v1.3h-1.5zM821.4 663.2h1.5v1.2h-1.5zM820.1 663.6h1.5v2.2h-1.5zM818.9 664.6h1.3v1.1h-1.3zM817.8 662.9h1.5v2.2h-1.5zM816.6 662.8h1.4v1.7h-1.4zM818.3 662.3h1.2v1.1h-1.2zM817.0 662.8h1.4v1.6h-1.4zM815.7 662.0h1.8v1.8h-1.8zM809.7 674.4h2.0v1.5h-2.0zM811.2 674.6h2.0v1.1h-2.0zM809.6 674.0h2.2v1.3h-2.2zM811.5 673.0h1.2v2.0h-1.2zM809.8 674.1h2.1v1.8h-2.1zM811.6 674.0h1.5v1.7h-1.5zM809.7 674.8h2.3v1.2h-2.3zM808.4 675.4h1.9v1.1h-1.9zM807.0 675.6h2.1v1.4h-2.1zM808.7 675.3h1.8v1.6h-1.8zM829.2 667.5h2.2v2.1h-2.2zM831.0 668.2h1.2v2.2h-1.2zM829.8 669.7h1.0v1.1h-1.0zM828.1 669.4h1.4v1.2h-1.4zM826.8 669.2h1.2v1.1h-1.2zM828.3 668.0h1.2v2.1h-1.2zM826.7 667.7h1.6v1.7h-1.6zM806.0 672.0h2.2v1.9h-2.2zM805.2 672.6h1.0v2.2h-1.0zM806.0 673.6h2.3v1.4h-2.3zM807.8 673.4h1.7v1.0h-1.7zM808.9 674.3h1.5v1.1h-1.5zM807.6 673.2h1.2v1.9h-1.2zM805.7 673.7h2.0v1.6h-2.0zM804.4 673.8h1.7v1.9h-1.7zM806.1 673.4h1.4v2.1h-1.4zM807.5 673.3h1.5v1.3h-1.5zM806.0 672.6h1.8v1.2h-1.8zM823.9 665.9h2.2v1.5h-2.2zM822.9 666.6h1.8v2.0h-1.8zM824.2 667.0h2.1v2.2h-2.1zM826.0 667.3h1.4v2.0h-1.4zM824.4 667.8h1.6v1.5h-1.6zM826.2 667.7h1.1v1.2h-1.1zM827.2 666.7h1.6v1.7h-1.6zM828.4 666.7h2.0v1.5h-2.0zM829.3 667.4h2.2v1.3h-2.2zM830.9 667.2h1.6v1.0h-1.6zM831.7 667.2h2.2v1.7h-2.2zM795.2 671.2h1.4v2.2h-1.4zM794.1 673.0h1.5v1.0h-1.5zM792.9 672.3h1.2v1.2h-1.2zM793.9 672.5h2.3v1.8h-2.3zM795.7 672.4h1.9v2.1h-1.9zM794.5 671.5h2.2v1.7h-2.2zM796.4 670.9h1.2v2.1h-1.2zM797.9 671.4h1.0v2.1h-1.0zM798.7 672.0h2.1v1.6h-2.1zM800.0 672.4h2.1v1.4h-2.1zM799.0 671.0h1.6v2.0h-1.6zM797.8 671.9h1.3v1.6h-1.3zM796.5 671.2h1.3v2.0h-1.3zM797.7 672.3h1.1v2.0h-1.1zM798.8 672.9h2.0v1.3h-2.0zM835.5 666.1h1.4v1.9h-1.4zM836.5 665.8h2.1v1.2h-2.1zM835.4 666.3h1.7v2.0h-1.7zM836.6 666.9h2.1v1.8h-2.1zM838.4 667.3h1.4v1.6h-1.4zM839.0 668.5h2.0v1.3h-2.0zM829.5 682.3h2.3v1.9h-2.3zM831.5 681.6h1.3v2.3h-1.3zM832.5 682.0h2.2v1.6h-2.2zM831.1 681.5h1.7v1.7h-1.7zM832.8 681.6h1.3v1.9h-1.3zM833.8 680.9h1.5v1.7h-1.5zM831.8 680.8h2.1v1.4h-2.1zM830.6 680.7h1.4v2.1h-1.4zM831.8 680.9h1.9v2.1h-1.9zM830.6 681.7h1.0v1.0h-1.0zM831.3 680.8h2.1v1.2h-2.1zM819.6 676.1h2.0v2.1h-2.0zM818.2 676.5h1.9v2.0h-1.9zM816.7 676.7h2.0v1.5h-2.0zM818.2 676.0h2.1v1.9h-2.1zM819.8 676.0h1.9v1.2h-1.9zM821.2 675.4h2.2v1.5h-2.2zM820.1 674.5h1.9v1.4h-1.9zM833.8 684.8h2.2v1.3h-2.2zM835.4 684.5h1.9v2.2h-1.9zM837.0 685.5h1.6v1.1h-1.6zM838.1 684.3h1.0v1.1h-1.0zM839.4 684.5h1.2v1.1h-1.2zM837.6 683.7h1.2v2.2h-1.2zM827.2 668.5h1.1v2.2h-1.1zM828.4 668.9h1.8v1.6h-1.8zM827.0 668.9h1.4v1.6h-1.4zM825.2 668.5h2.1v2.0h-2.1zM824.2 668.9h1.2v1.8h-1.2zM822.4 668.2h2.2v2.1h-2.2zM825.1 664.9h2.3v2.1h-2.3zM826.9 665.2h1.7v1.2h-1.7zM828.3 665.3h1.7v1.2h-1.7zM826.7 665.3h1.8v2.1h-1.8zM825.7 664.3h1.8v1.6h-1.8zM824.5 665.0h1.2v1.6h-1.2zM823.1 663.9h1.6v2.0h-1.6zM824.4 664.7h2.2v1.2h-2.2zM813.0 682.2h2.2v1.3h-2.2zM814.4 682.5h2.2v1.8h-2.2zM815.5 683.3h2.2v2.1h-2.2zM817.0 682.4h1.8v2.2h-1.8zM818.5 683.0h1.4v1.2h-1.4zM819.4 682.6h2.1v1.9h-2.1zM820.4 681.8h1.7v1.2h-1.7zM817.1 681.7h2.1v2.1h-2.1zM818.8 681.0h1.6v2.2h-1.6zM820.2 680.3h1.1v1.8h-1.1zM821.3 680.5h1.5v1.2h-1.5zM820.1 681.4h1.2v1.5h-1.2zM818.3 681.6h1.6v1.1h-1.6zM819.1 680.4h2.0v1.5h-2.0zM818.0 680.9h1.2v2.0h-1.2zM819.5 681.1h1.3v1.4h-1.3zM820.6 681.6h1.8v1.2h-1.8zM810.0 681.4h1.6v1.3h-1.6zM808.6 682.0h2.0v1.9h-2.0zM807.5 682.5h1.7v2.0h-1.7zM806.3 682.6h1.2v2.2h-1.2zM804.9 682.0h1.9v1.5h-1.9zM803.9 681.7h1.5v1.0h-1.5zM818.7 683.7h1.3v2.2h-1.3zM817.1 684.9h1.8v1.5h-1.8zM818.7 685.2h1.9v1.1h-1.9zM817.1 684.2h2.2v1.5h-2.2zM816.2 684.8h1.5v2.0h-1.5zM817.6 684.7h2.1v1.8h-2.1zM817.0 676.6h1.2v1.1h-1.2zM815.5 676.9h1.2v1.1h-1.2zM817.0 675.8h1.1v2.0h-1.1zM815.6 677.0h1.2v1.0h-1.2zM814.3 676.1h1.1v1.7h-1.1zM815.9 676.9h1.2v1.0h-1.2zM817.0 675.6h1.7v2.1h-1.7zM835.6 678.5h1.6v2.1h-1.6zM833.9 679.0h2.1v2.2h-2.1zM835.5 680.5h1.2v1.2h-1.2zM836.6 679.5h1.7v1.5h-1.7zM835.2 679.4h1.3v2.1h-1.3zM836.3 679.7h2.1v1.2h-2.1zM834.8 679.6h2.0v1.5h-2.0zM836.8 679.5h1.0v1.1h-1.0zM837.8 679.2h2.1v1.3h-2.1zM839.7 679.5h1.0v1.2h-1.0zM820.3 672.3h1.9v1.3h-1.9zM821.8 672.8h1.8v1.5h-1.8zM820.0 672.8h2.1v1.3h-2.1zM819.1 672.2h1.2v1.1h-1.2zM820.4 671.8h1.8v1.9h-1.8zM819.3 671.6h1.0v2.2h-1.0zM817.9 673.2h1.7v1.4h-1.7zM819.3 673.1h2.3v1.1h-2.3zM819.3 671.7h1.1v1.1h-1.1zM820.8 670.9h1.0v1.5h-1.0zM818.8 670.7h2.0v1.7h-2.0zM820.6 671.5h1.3v1.3h-1.3zM834.1 667.9h2.1v2.2h-2.1zM833.1 667.2h1.3v2.2h-1.3zM831.7 666.8h1.5v2.3h-1.5zM833.4 667.7h1.0v2.2h-1.0zM831.8 668.7h1.6v1.7h-1.6zM833.1 669.5h1.7v2.0h-1.7zM832.0 669.0h1.3v1.2h-1.3zM833.7 669.5h1.1v1.1h-1.1zM832.2 670.0h1.9v2.1h-1.9zM833.8 670.1h1.9v2.2h-1.9zM839.8 677.0h1.9v2.1h-1.9zM841.5 677.1h1.6v1.7h-1.6zM839.7 677.5h2.1v1.3h-2.1zM841.3 676.5h1.4v1.5h-1.4zM842.4 677.9h1.2v1.0h-1.2zM840.8 676.8h2.0v1.1h-2.0zM842.5 676.6h1.5v2.1h-1.5zM841.0 676.8h1.1v1.3h-1.1zM839.2 677.3h1.9v1.5h-1.9zM840.8 676.5h1.0v1.2h-1.0zM839.0 676.8h1.7v1.2h-1.7zM814.4 666.0h1.2v1.3h-1.2zM815.5 665.6h1.9v2.0h-1.9zM813.9 665.3h2.0v2.3h-2.0zM812.8 665.3h1.4v1.1h-1.4zM811.2 664.9h1.6v2.3h-1.6zM812.5 664.5h2.0v1.7h-2.0zM814.0 664.5h2.2v1.8h-2.2zM815.5 664.5h2.1v1.2h-2.1zM814.1 664.1h1.9v1.3h-1.9zM830.7 678.5h2.0v2.1h-2.0zM829.3 678.9h1.8v1.0h-1.8zM831.0 679.1h1.4v1.5h-1.4zM832.0 679.3h2.3v2.2h-2.3zM831.0 678.7h1.4v2.1h-1.4zM829.9 678.2h1.1v1.3h-1.1zM821.8 675.7h2.0v1.9h-2.0zM823.7 676.2h1.1v1.9h-1.1zM824.4 675.9h2.3v1.0h-2.3zM826.0 675.5h1.9v1.6h-1.9zM824.4 676.6h2.1v1.2h-2.1zM825.2 675.0h2.2v1.9h-2.2zM824.1 676.5h2.1v1.3h-2.1zM825.8 677.2h1.3v1.2h-1.3zM823.7 677.5h2.1v1.4h-2.1zM825.2 676.9h1.9v2.0h-1.9zM806.9 665.4h1.7v1.7h-1.7zM808.5 666.2h1.2v1.7h-1.2zM809.4 667.1h1.3v2.2h-1.3zM807.7 668.3h2.0v1.3h-2.0zM807.3 669.8h2.2v1.0h-2.2zM805.8 669.7h2.2v1.6h-2.2zM842.0 685.9h1.3v1.7h-1.3zM840.1 686.4h2.2v1.4h-2.2zM838.8 686.0h2.0v1.2h-2.0zM837.6 685.8h1.6v1.9h-1.6zM839.3 686.5h1.7v1.2h-1.7zM838.6 687.9h1.9v1.2h-1.9zM838.9 689.2h1.3v1.3h-1.3zM840.3 689.3h1.5v2.2h-1.5zM816.7 684.6h1.1v1.9h-1.1zM814.9 685.0h1.6v1.3h-1.6zM813.6 684.4h1.3v2.1h-1.3zM815.0 685.1h1.9v1.6h-1.9zM816.9 684.8h1.3v1.6h-1.3zM815.3 685.3h1.4v1.5h-1.4zM816.4 685.6h2.2v2.0h-2.2zM818.0 686.0h2.0v1.7h-2.0zM819.4 686.5h1.9v1.2h-1.9zM809.8 667.0h1.4v1.6h-1.4zM811.4 666.4h1.1v2.0h-1.1zM812.2 667.4h2.2v1.1h-2.2zM813.8 666.0h1.4v2.1h-1.4zM812.0 667.0h2.0v1.9h-2.0zM810.6 666.6h1.5v2.1h-1.5zM811.3 668.2h2.3v1.0h-2.3zM809.9 667.5h1.9v1.1h-1.9zM808.5 667.8h1.7v1.1h-1.7zM807.2 667.1h1.6v1.7h-1.6zM808.7 666.5h1.8v2.1h-1.8zM809.8 667.5h1.9v2.1h-1.9zM805.1 680.9h2.2v1.4h-2.2zM803.9 680.6h1.8v1.4h-1.8zM802.8 679.8h1.5v1.4h-1.5zM804.1 680.0h2.2v1.1h-2.2zM803.0 679.9h1.5v2.0h-1.5zM801.7 679.9h1.4v1.5h-1.4zM800.3 679.5h1.6v1.6h-1.6zM792.9 663.1h1.3v1.6h-1.3zM791.4 662.8h1.5v1.0h-1.5zM790.1 662.6h1.3v1.2h-1.3zM789.5 661.1h1.4v1.6h-1.4zM790.9 660.3h1.5v1.7h-1.5zM789.5 659.7h2.2v1.1h-2.2zM791.2 658.8h1.7v1.6h-1.7zM792.0 657.6h1.7v1.8h-1.7zM790.6 657.3h1.7v1.9h-1.7zM831.0 676.4h1.3v1.2h-1.3zM832.2 676.3h1.8v2.1h-1.8zM830.8 676.5h1.4v1.2h-1.4zM829.5 675.6h1.2v1.8h-1.2zM830.6 674.6h1.3v1.6h-1.3zM831.8 675.7h1.4v1.1h-1.4zM833.2 674.6h1.5v2.3h-1.5zM831.8 674.7h1.2v1.3h-1.2zM832.1 675.7h2.2v1.8h-2.2zM826.3 686.3h1.8v1.3h-1.8zM824.5 686.2h2.3v1.6h-2.3zM826.4 685.9h1.8v2.3h-1.8zM827.8 685.2h1.2v1.7h-1.2zM825.9 685.2h1.7v1.7h-1.7zM824.7 684.4h1.5v1.9h-1.5zM823.5 684.1h1.1v2.3h-1.1zM825.1 684.6h1.3v1.4h-1.3zM823.6 684.8h1.3v1.1h-1.3zM821.9 683.9h2.3v1.6h-2.3zM820.9 684.6h1.8v1.6h-1.8zM822.5 683.5h1.4v1.9h-1.4zM791.2 674.0h2.3v1.5h-2.3zM792.9 674.2h1.8v1.3h-1.8zM791.6 673.7h1.4v2.1h-1.4zM792.7 674.0h2.2v1.1h-2.2zM793.7 672.7h2.1v1.5h-2.1zM820.9 666.4h2.1v2.0h-2.1zM819.8 665.7h1.4v2.3h-1.4zM821.1 666.0h1.9v2.2h-1.9zM819.8 666.0h1.6v2.0h-1.6zM818.6 667.1h1.8v1.7h-1.8zM794.6 687.1h1.8v1.3h-1.8zM793.6 686.0h1.2v2.1h-1.2zM792.3 687.0h1.1v1.7h-1.1zM790.8 686.3h1.7v2.0h-1.7zM792.3 685.8h1.8v2.1h-1.8zM794.0 686.5h1.6v1.8h-1.6zM792.6 687.0h1.8v2.2h-1.8zM793.9 688.2h2.2v1.0h-2.2zM795.8 687.8h1.3v1.5h-1.3zM797.3 686.9h1.1v2.2h-1.1zM795.2 686.5h2.2v2.2h-2.2zM794.7 687.8h1.1v1.9h-1.1zM819.1 675.1h2.2v1.4h-2.2zM818.0 675.2h1.5v2.3h-1.5zM819.6 675.4h1.5v1.3h-1.5zM821.1 676.1h1.2v1.5h-1.2zM822.5 676.5h1.1v1.5h-1.1zM821.0 677.0h1.2v2.2h-1.2zM819.7 678.2h1.2v1.3h-1.2zM818.1 677.4h1.5v2.1h-1.5zM822.5 668.7h2.0v1.0h-2.0zM824.1 667.9h1.8v1.9h-1.8zM822.8 668.9h1.6v1.7h-1.6zM824.3 669.4h1.4v1.5h-1.4zM822.5 669.2h1.9v1.6h-1.9zM824.1 668.9h1.7v1.9h-1.7zM825.4 669.2h1.9v1.7h-1.9zM824.1 669.4h1.3v2.0h-1.3zM824.9 668.7h2.2v1.8h-2.2zM813.9 682.4h2.2v1.6h-2.2zM815.3 682.5h2.2v1.1h-2.2zM816.5 681.4h1.8v1.1h-1.8zM815.6 682.1h1.2v1.9h-1.2zM814.1 682.0h1.2v1.2h-1.2zM815.3 681.9h1.9v1.5h-1.9zM817.1 681.7h1.1v2.2h-1.1zM815.1 681.7h1.9v2.1h-1.9zM816.4 681.9h2.1v2.0h-2.1zM815.2 682.3h1.4v2.0h-1.4zM828.3 682.6h1.5v2.2h-1.5zM830.0 683.1h1.0v2.2h-1.0zM828.6 684.2h1.3v1.7h-1.3zM827.2 684.0h1.1v1.3h-1.1zM826.0 683.0h1.1v1.4h-1.1zM824.9 681.6h2.0v1.6h-2.0zM823.7 681.8h1.6v1.0h-1.6zM822.6 681.7h1.3v1.4h-1.3zM821.4 682.0h1.3v1.1h-1.3zM823.0 682.5h1.6v1.6h-1.6zM824.8 681.8h1.4v2.3h-1.4zM826.3 682.6h1.8v1.6h-1.8zM779.9 652.1h1.7v1.7h-1.7zM781.5 651.1h1.2v2.1h-1.2zM780.6 653.1h1.6v1.1h-1.6zM778.8 652.7h2.1v1.7h-2.1zM749.8 644.4h2.3v1.3h-2.3zM749.4 645.6h1.6v1.4h-1.6zM764.4 645.6h1.2v1.7h-1.2zM765.0 644.4h1.7v1.5h-1.7zM749.1 642.7h2.1v1.6h-2.1zM751.0 642.0h1.1v2.1h-1.1zM780.1 648.1h1.5v1.9h-1.5zM779.8 649.3h1.1v2.3h-1.1zM783.0 644.4h1.4v2.0h-1.4zM784.0 644.0h2.3v1.7h-2.3zM778.4 651.7h1.5v1.8h-1.5zM777.3 650.5h1.3v2.2h-1.3zM776.9 651.9h1.0v2.3h-1.0zM789.2 664.4h1.7v2.1h-1.7zM790.3 665.2h2.3v2.0h-2.3zM791.4 664.3h2.0v1.4h-2.0zM779.5 659.1h1.6v1.6h-1.6zM780.2 660.7h1.5v1.3h-1.5zM781.8 660.8h1.4v1.1h-1.4zM784.9 651.3h1.1v1.6h-1.1zM785.7 651.8h2.2v2.1h-2.2zM786.9 653.0h1.6v1.9h-1.6zM785.6 652.2h1.2v2.2h-1.2zM784.1 636.8h1.9v2.1h-1.9zM785.3 638.0h1.3v2.2h-1.3zM777.4 650.3h2.1v2.0h-2.1zM777.2 651.9h1.5v1.7h-1.5zM777.4 653.2h1.7v1.9h-1.7zM654.8 628.5h1.1v1.6h-1.1zM658.6 630.5h1.3v1.0h-1.3zM657.8 627.4h1.9v1.8h-1.9zM659.8 626.8h2.3v1.4h-2.3zM647.7 624.0h1.7v1.5h-1.7zM657.6 631.8h1.1v1.7h-1.1zM651.3 622.6h2.1v1.7h-2.1zM655.9 630.2h1.8v1.8h-1.8zM656.8 625.5h1.7v1.3h-1.7zM650.0 623.9h2.4v1.4h-2.4zM648.1 621.7h2.4v1.9h-2.4zM657.6 630.9h1.7v2.0h-1.7zM659.0 628.8h2.5v1.8h-2.5zM653.0 629.1h1.2v1.1h-1.2zM651.6 627.4h1.2v1.7h-1.2zM655.6 624.8h1.8v1.6h-1.8zM656.0 630.6h1.8v1.9h-1.8zM664.3 637.2h2.1v1.2h-2.1zM668.7 642.0h1.0v1.5h-1.0zM671.8 633.3h1.9v1.5h-1.9zM660.2 635.8h1.6v1.8h-1.6zM664.8 634.7h1.6v1.6h-1.6zM664.6 635.0h1.7v1.3h-1.7zM661.4 636.2h1.4v1.3h-1.4zM663.7 637.8h1.7v1.0h-1.7zM667.5 634.5h1.3v1.7h-1.3zM670.4 641.5h1.0v1.9h-1.0zM663.4 635.9h1.8v1.5h-1.8zM669.3 637.6h1.4v1.5h-1.4zM665.6 640.5h1.4v1.2h-1.4zM669.4 643.4h1.5v1.1h-1.5zM665.0 635.1h1.5v1.7h-1.5zM660.2 633.9h1.3v1.4h-1.3zM671.7 634.8h1.5v1.9h-1.5zM667.7 634.8h2.1v1.9h-2.1zM671.2 640.0h2.6v1.1h-2.6zM665.2 631.8h1.1v2.1h-1.1zM673.8 640.7h1.1v1.1h-1.1zM672.8 640.5h1.7v1.5h-1.7zM682.5 651.1h1.5v1.9h-1.5zM669.5 640.5h1.7v1.1h-1.7zM678.2 653.4h2.5v1.6h-2.5zM672.4 638.9h1.5v2.1h-1.5zM676.5 643.5h1.1v1.1h-1.1zM671.9 641.3h1.5v2.0h-1.5zM677.3 650.4h1.1v1.7h-1.1zM670.8 640.5h1.4v1.5h-1.4zM677.5 643.2h2.1v1.3h-2.1zM679.8 649.6h1.3v1.4h-1.3zM681.1 645.1h2.3v1.1h-2.3zM678.6 651.2h1.9v1.8h-1.9zM676.0 642.9h1.3v1.1h-1.3zM671.3 654.5h1.7v1.8h-1.7zM676.2 649.0h2.1v1.0h-2.1zM686.9 654.7h1.3v1.0h-1.3zM683.5 654.0h2.2v2.0h-2.2zM683.6 658.8h2.4v1.9h-2.4zM689.7 659.8h1.4v1.5h-1.4zM683.5 654.1h2.4v1.1h-2.4zM686.3 658.9h1.2v1.8h-1.2zM678.5 656.9h1.2v1.3h-1.2zM684.9 659.7h1.4v1.6h-1.4zM682.8 659.6h2.5v1.6h-2.5zM685.4 666.1h1.7v1.2h-1.7zM685.6 661.0h2.4v1.6h-2.4zM685.7 654.6h2.0v1.1h-2.0zM685.6 660.3h2.5v1.8h-2.5zM683.0 657.1h2.3v1.1h-2.3zM683.8 662.4h1.6v1.1h-1.6zM686.8 663.1h1.0v1.1h-1.0zM687.9 659.4h1.0v2.0h-1.0zM685.3 660.3h1.4v2.0h-1.4zM691.5 667.3h1.8v1.4h-1.8zM685.3 666.9h1.1v1.6h-1.1zM693.0 672.0h1.3v1.4h-1.3zM693.8 670.2h1.2v1.9h-1.2zM694.7 669.1h1.3v1.2h-1.3zM696.7 671.8h2.4v1.1h-2.4zM689.2 666.4h1.5v1.2h-1.5zM692.0 669.6h1.9v1.3h-1.9zM694.5 671.6h1.2v1.4h-1.2zM691.8 671.2h1.9v1.4h-1.9zM690.9 658.9h2.3v1.0h-2.3zM694.3 674.5h1.2v1.4h-1.2zM688.1 672.5h1.6v1.0h-1.6zM695.1 669.8h1.5v1.4h-1.5zM693.4 667.3h1.2v2.1h-1.2zM690.6 669.6h1.4v1.9h-1.4zM688.3 665.0h1.4v1.1h-1.4zM694.5 672.1h1.8v1.9h-1.8zM697.1 677.6h1.9v1.1h-1.9zM664.3 640.4h1.3v2.2h-1.3zM665.2 641.3h2.1v2.0h-2.1zM666.6 642.4h1.3v2.0h-1.3zM665.2 641.2h1.4v2.1h-1.4zM666.0 642.6h1.7v1.7h-1.7zM665.4 641.0h2.2v1.7h-2.2zM675.0 642.6h1.5v1.2h-1.5zM675.8 644.0h1.5v1.1h-1.5zM676.6 644.3h2.2v2.0h-2.2zM677.2 645.7h1.7v2.0h-1.7zM676.3 644.3h1.7v1.9h-1.7zM677.6 644.8h1.8v1.9h-1.8zM674.8 645.0h2.2v2.2h-2.2zM676.0 646.2h1.9v1.9h-1.9zM676.3 647.6h1.1v2.2h-1.1zM669.6 644.2h1.1v1.9h-1.1zM669.7 643.1h1.0v1.2h-1.0zM669.7 644.2h1.6v2.0h-1.6zM671.4 642.9h1.6v1.3h-1.6zM672.1 644.2h1.7v1.4h-1.7zM673.8 643.9h1.2v2.0h-1.2zM674.2 645.5h1.8v1.3h-1.8zM673.2 644.3h1.7v1.1h-1.7zM673.2 642.7h1.7v1.1h-1.7zM675.4 643.1h2.0v1.8h-2.0zM675.6 641.6h1.4v1.7h-1.4zM676.3 643.0h1.7v1.5h-1.7zM677.7 643.9h1.1v1.6h-1.1zM676.9 642.2h1.6v2.1h-1.6zM677.9 643.5h1.4v2.1h-1.4zM679.1 644.6h1.2v1.5h-1.2zM668.7 638.4h1.6v1.1h-1.6zM669.8 638.9h1.9v1.7h-1.9zM670.8 639.6h2.1v2.2h-2.1zM670.0 638.4h1.8v1.9h-1.8zM671.6 639.3h1.2v1.2h-1.2zM671.6 640.5h1.9v1.7h-1.9zM678.6 653.3h2.0v1.7h-2.0zM678.7 652.1h1.2v1.2h-1.2zM678.3 650.5h1.3v1.5h-1.3zM679.4 651.2h2.1v1.7h-2.1zM680.7 652.1h1.7v1.9h-1.7zM679.6 651.1h2.0v1.6h-2.0zM673.7 645.7h1.0v1.7h-1.0zM672.5 644.6h1.1v2.0h-1.1zM673.1 646.2h1.1v1.7h-1.1zM665.4 638.9h1.7v1.6h-1.7zM666.7 638.9h2.1v1.8h-2.1zM665.3 638.1h2.1v1.9h-2.1zM666.6 639.1h1.7v2.0h-1.7zM668.3 639.0h1.3v2.1h-1.3zM662.8 636.4h1.8v2.1h-1.8zM664.6 637.0h1.2v1.9h-1.2zM664.4 635.7h1.4v1.3h-1.4zM670.5 645.0h2.2v1.9h-2.2zM669.0 644.8h2.3v1.1h-2.3zM667.7 644.4h2.1v2.0h-2.1zM669.5 644.7h1.7v1.9h-1.7zM670.5 646.2h1.1v1.7h-1.1zM667.5 633.4h1.6v2.2h-1.6zM667.3 632.1h1.7v2.0h-1.7zM666.4 631.3h1.0v1.7h-1.0zM670.8 646.5h1.2v1.2h-1.2zM669.0 646.9h1.9v1.1h-1.9zM667.8 645.7h1.8v1.9h-1.8zM669.0 647.0h1.3v1.9h-1.3zM670.4 648.0h1.1v1.9h-1.1zM669.8 646.6h2.0v1.5h-2.0zM670.0 648.1h1.8v1.4h-1.8zM670.4 649.4h2.3v1.6h-2.3zM564.1 595.9h1.5v1.6h-1.5zM560.5 595.6h1.9v1.1h-1.9zM568.7 596.6h2.6v2.2h-2.6zM570.7 596.2h1.1v1.5h-1.1zM573.6 598.6h1.7v1.4h-1.7zM567.2 595.6h1.6v1.8h-1.6zM575.0 599.8h2.5v1.2h-2.5zM567.7 596.3h1.7v2.0h-1.7zM572.6 600.3h2.4v1.9h-2.4zM568.1 596.1h2.3v1.8h-2.3zM572.4 597.1h1.7v1.3h-1.7zM561.5 599.1h1.6v1.3h-1.6zM573.9 599.0h1.5v1.4h-1.5zM566.5 600.1h1.7v1.5h-1.7zM562.4 595.7h2.6v1.5h-2.6zM565.5 595.8h2.4v2.2h-2.4zM564.1 597.7h2.8v1.3h-2.8zM571.6 598.3h1.9v1.9h-1.9zM590.4 601.2h1.3v2.2h-1.3zM592.6 602.8h1.1v1.8h-1.1zM579.7 599.8h1.1v2.1h-1.1zM588.6 603.0h2.3v2.1h-2.3zM581.8 601.5h1.9v1.7h-1.9zM582.6 601.7h2.0v1.4h-2.0zM586.5 604.7h2.6v1.7h-2.6zM579.3 598.8h1.5v1.6h-1.5zM586.3 601.2h2.1v1.5h-2.1zM590.6 603.4h2.0v1.2h-2.0zM591.6 604.7h2.2v1.2h-2.2zM580.5 602.2h1.9v1.6h-1.9zM579.8 599.5h2.2v2.0h-2.2zM585.8 602.7h1.7v1.7h-1.7zM590.2 599.7h2.7v1.3h-2.7zM581.0 602.2h1.2v1.1h-1.2zM591.5 604.7h1.4v1.8h-1.4zM583.4 600.4h2.5v1.6h-2.5zM582.2 600.9h1.2v2.2h-1.2zM590.8 603.3h2.6v1.3h-2.6zM598.5 600.5h1.7v2.0h-1.7zM595.9 605.7h1.3v1.2h-1.3zM600.5 605.0h1.0v2.2h-1.0zM596.7 604.9h1.6v1.1h-1.6zM602.4 605.0h1.1v2.2h-1.1zM607.8 605.4h1.0v1.9h-1.0zM608.6 605.0h1.1v1.1h-1.1zM605.8 603.1h2.3v2.1h-2.3zM606.7 603.2h2.1v2.2h-2.1zM603.7 606.8h1.6v2.2h-1.6zM592.4 604.0h1.3v1.1h-1.3zM609.7 605.8h1.9v1.3h-1.9zM610.0 604.2h1.3v1.6h-1.3zM597.2 602.6h2.6v1.2h-2.6zM601.8 605.7h1.5v2.2h-1.5zM600.1 604.4h1.6v1.4h-1.6zM596.0 604.8h2.0v1.2h-2.0zM608.5 607.3h1.9v1.8h-1.9zM600.4 603.3h1.4v1.4h-1.4zM608.0 605.6h1.7v1.8h-1.7zM612.5 605.5h2.1v1.4h-2.1zM620.2 603.6h2.4v1.8h-2.4zM623.8 608.8h1.6v1.7h-1.6zM625.5 605.4h1.8v1.3h-1.8zM618.3 606.0h2.0v2.2h-2.0zM614.8 605.5h2.1v1.6h-2.1zM615.2 607.9h2.3v1.4h-2.3zM616.1 608.4h1.2v1.6h-1.2zM623.2 611.0h2.4v1.3h-2.4zM625.9 608.9h1.6v2.1h-1.6zM609.8 604.8h2.0v1.1h-2.0zM620.3 607.4h1.9v1.9h-1.9zM623.7 608.0h1.2v1.4h-1.2zM615.1 604.6h2.0v1.4h-2.0zM613.9 601.5h2.4v1.2h-2.4zM626.9 607.7h2.0v1.1h-2.0zM633.0 612.8h1.6v1.9h-1.6zM628.2 610.8h1.3v1.3h-1.3zM626.7 606.4h1.2v1.6h-1.2zM631.1 608.2h2.1v2.2h-2.1zM630.3 608.0h1.3v1.5h-1.3zM623.9 609.1h2.4v1.5h-2.4zM630.1 608.0h2.1v1.7h-2.1zM627.2 606.7h1.6v1.8h-1.6zM626.0 606.3h2.5v1.4h-2.5zM590.5 603.8h2.3v1.1h-2.3zM592.5 603.9h1.3v1.2h-1.3zM591.0 602.3h2.2v2.1h-2.2zM592.3 601.1h1.3v2.0h-1.3zM593.8 602.0h1.1v1.1h-1.1zM591.9 601.7h1.7v1.3h-1.7zM590.4 601.8h1.5v1.3h-1.5zM588.6 601.2h2.3v1.9h-2.3zM587.8 601.0h1.1v1.8h-1.1zM588.9 601.7h2.1v1.5h-2.1zM625.7 604.5h2.1v2.0h-2.1zM624.6 605.3h1.9v2.2h-1.9zM626.4 605.5h1.3v1.7h-1.3zM624.8 605.9h1.6v1.4h-1.6zM626.1 606.2h1.9v1.8h-1.9zM627.7 605.0h1.1v2.0h-1.1zM625.6 605.1h2.1v1.9h-2.1zM624.2 604.7h1.9v2.2h-1.9zM623.2 604.0h2.0v1.2h-2.0zM584.4 603.1h1.6v1.2h-1.6zM583.2 602.6h1.1v2.2h-1.1zM581.7 602.7h1.0v2.1h-1.0zM582.6 602.0h1.7v1.3h-1.7zM584.2 603.0h1.3v1.1h-1.3zM585.6 602.6h1.5v1.3h-1.5zM584.0 602.3h1.4v2.0h-1.4zM565.9 597.8h1.2v2.2h-1.2zM564.6 597.3h1.1v1.6h-1.1zM566.0 597.3h1.6v1.3h-1.6zM564.4 596.8h1.7v1.6h-1.7zM566.0 597.2h1.8v1.2h-1.8zM569.0 598.6h2.2v1.7h-2.2zM570.3 597.5h2.2v2.2h-2.2zM568.9 598.0h2.1v2.2h-2.1zM592.3 604.7h1.9v1.9h-1.9zM594.3 605.0h1.0v1.7h-1.0zM595.4 604.7h1.6v2.1h-1.6zM593.9 604.2h1.9v1.3h-1.9zM595.2 603.2h1.5v1.5h-1.5zM596.2 602.5h1.8v1.3h-1.8zM626.5 610.2h1.7v1.8h-1.7zM625.3 609.6h1.1v2.3h-1.1zM626.1 610.9h2.1v1.4h-2.1zM624.8 610.3h1.9v1.7h-1.9zM626.6 610.4h1.4v1.7h-1.4zM625.1 610.4h1.5v1.5h-1.5zM624.0 609.3h1.3v2.0h-1.3zM625.7 610.1h1.1v1.1h-1.1zM624.0 609.5h1.7v1.4h-1.7zM625.5 610.5h1.4v1.2h-1.4zM595.5 601.7h1.4v1.4h-1.4zM593.7 601.2h2.1v1.5h-2.1zM592.4 601.1h1.9v2.0h-1.9zM591.3 600.3h1.7v2.2h-1.7zM590.4 599.9h1.0v2.0h-1.0zM589.2 600.7h1.3v1.9h-1.3zM590.7 601.3h1.3v1.7h-1.3zM589.5 602.4h1.5v1.9h-1.5zM590.8 602.9h1.7v1.7h-1.7zM592.5 603.6h1.1v1.0h-1.1zM591.0 602.5h1.4v1.0h-1.4zM591.7 603.4h1.9v1.3h-1.9zM589.9 602.9h2.1v2.0h-2.1zM626.6 606.2h1.7v1.9h-1.7zM628.0 606.5h2.0v1.2h-2.0zM626.5 606.5h1.9v2.1h-1.9zM624.8 606.1h2.3v2.2h-2.3zM626.6 607.1h1.4v1.8h-1.4zM628.1 607.4h1.5v1.3h-1.5zM629.3 608.1h1.2v1.9h-1.2zM604.5 605.2h1.3v2.0h-1.3zM606.0 605.5h1.3v2.2h-1.3zM607.3 605.7h1.6v2.2h-1.6zM605.8 605.7h1.4v1.4h-1.4zM607.0 604.8h1.3v1.3h-1.3zM608.2 604.4h1.7v1.7h-1.7zM609.7 604.1h1.3v1.6h-1.3zM610.7 604.6h1.6v1.9h-1.6zM609.0 604.2h1.7v1.1h-1.7zM574.1 599.7h1.3v1.8h-1.3zM575.6 600.5h1.1v1.5h-1.1zM576.5 600.5h2.2v1.2h-2.2zM575.1 599.5h2.0v1.5h-2.0zM573.7 598.6h1.9v2.2h-1.9zM575.1 600.1h1.4v1.4h-1.4zM632.9 609.5h1.6v2.1h-1.6zM631.6 609.2h1.5v1.2h-1.5zM630.3 608.2h1.9v1.6h-1.9zM631.7 609.0h2.2v1.0h-2.2zM633.4 608.2h1.8v1.9h-1.8zM634.7 608.8h2.1v1.5h-2.1zM633.5 608.7h1.3v1.2h-1.3zM631.6 608.5h2.2v1.1h-2.2zM633.3 608.5h2.0v1.4h-2.0zM584.9 604.7h2.1v1.6h-2.1zM586.2 605.6h2.2v1.2h-2.2zM587.4 606.0h2.2v2.0h-2.2zM588.7 605.9h2.2v1.2h-2.2zM587.6 605.1h1.3v1.7h-1.3zM588.8 605.1h1.7v1.3h-1.7zM587.1 604.1h1.9v2.1h-1.9zM588.6 604.5h1.7v2.3h-1.7zM587.3 603.9h1.2v1.8h-1.2zM585.4 603.6h2.0v1.8h-2.0zM578.0 601.0h2.3v1.5h-2.3zM580.0 601.4h1.2v1.8h-1.2zM578.1 600.8h1.8v2.2h-1.8zM576.8 600.8h1.7v1.3h-1.7zM578.6 600.3h1.1v1.6h-1.1zM579.0 601.6h2.2v1.5h-2.2zM580.7 601.0h1.4v1.7h-1.4zM581.3 599.8h2.2v2.0h-2.2zM582.9 600.0h1.7v1.6h-1.7zM546.2 595.0h1.2v1.5h-1.2zM547.4 594.4h1.7v1.9h-1.7zM549.0 594.6h1.4v1.6h-1.4zM547.2 594.4h1.7v1.3h-1.7zM545.9 593.9h1.4v1.5h-1.4zM544.3 594.0h1.5v1.2h-1.5zM545.4 594.6h2.3v1.1h-2.3zM547.4 593.6h1.0v1.8h-1.0zM594.5 605.8h1.6v1.4h-1.6zM596.1 605.2h1.6v2.0h-1.6zM597.3 605.9h2.0v1.1h-2.0zM598.5 605.6h2.2v1.3h-2.2zM600.0 605.2h1.8v1.2h-1.8zM598.8 604.1h1.0v1.8h-1.0zM600.0 604.3h1.2v1.8h-1.2zM598.3 604.7h1.2v1.5h-1.2zM596.3 604.5h1.8v2.2h-1.8zM570.8 599.1h1.9v2.3h-1.9zM572.6 599.5h1.3v1.7h-1.3zM573.4 598.9h2.2v1.2h-2.2zM571.9 598.7h1.7v1.4h-1.7zM571.0 597.7h1.0v1.7h-1.0zM569.4 597.6h1.2v1.9h-1.2zM567.8 597.8h1.6v2.0h-1.6zM567.5 596.8h1.1v1.5h-1.1zM580.0 612.4h1.4v2.0h-1.4zM581.4 613.0h1.7v1.4h-1.7zM582.6 613.8h1.4v1.7h-1.4zM581.1 613.4h1.2v1.5h-1.2zM579.4 614.0h2.0v1.9h-2.0zM580.7 615.3h1.7v1.1h-1.7zM579.1 614.9h1.8v1.8h-1.8zM582.7 612.7h2.1v1.6h-2.1zM584.3 612.9h1.9v2.1h-1.9zM583.0 613.9h1.6v1.3h-1.6zM581.4 614.3h2.0v1.4h-2.0zM580.1 614.6h1.8v1.7h-1.8zM582.1 614.5h1.2v1.8h-1.2zM580.7 615.9h1.9v1.0h-1.9zM579.7 615.5h1.0v1.4h-1.0zM579.8 611.8h1.3v1.2h-1.3zM578.1 611.4h1.6v1.7h-1.6zM579.4 611.4h2.1v1.1h-2.1zM581.1 611.5h1.6v1.7h-1.6zM583.3 611.6h1.5v2.1h-1.5zM581.9 611.6h1.4v1.6h-1.4zM582.7 610.3h1.9v1.9h-1.9zM592.7 609.3h1.9v2.2h-1.9zM594.2 610.6h1.5v1.2h-1.5zM595.9 610.6h1.0v1.7h-1.0zM596.8 610.8h1.9v2.0h-1.9zM598.3 611.1h1.5v1.4h-1.5zM596.3 611.0h1.9v1.4h-1.9zM595.5 609.4h1.1v2.0h-1.1zM596.9 609.7h1.0v1.9h-1.0zM593.0 609.2h1.1v2.2h-1.1zM593.4 610.6h2.1v1.8h-2.1zM595.3 610.8h1.3v1.7h-1.3zM597.8 610.2h1.2v1.0h-1.2zM598.8 610.1h2.1v1.0h-2.1zM600.7 609.3h1.3v2.1h-1.3zM599.2 608.2h1.9v1.8h-1.9zM592.6 609.7h2.2v1.8h-2.2zM591.5 609.6h1.3v1.3h-1.3zM592.7 610.0h2.2v1.0h-2.2zM591.6 609.6h1.4v1.8h-1.4zM589.9 609.7h1.7v2.0h-1.7zM589.1 609.2h1.1v1.3h-1.1zM612.5 614.0h1.2v1.4h-1.2zM610.8 613.7h1.6v1.8h-1.6zM612.5 614.1h1.2v1.8h-1.2zM613.2 615.4h2.1v1.0h-2.1zM612.6 613.8h1.3v1.8h-1.3zM612.2 612.5h1.5v1.4h-1.5zM614.3 612.9h2.1v1.4h-2.1zM615.4 613.7h1.9v2.1h-1.9zM614.1 613.6h1.5v1.8h-1.5zM614.7 612.2h1.3v1.5h-1.3zM615.8 611.6h2.0v1.7h-2.0zM616.6 610.3h1.3v1.6h-1.3zM611.6 614.5h1.2v1.5h-1.2zM610.0 613.6h1.9v1.6h-1.9zM608.8 614.2h1.7v1.9h-1.7zM607.4 614.1h1.7v2.1h-1.7zM608.9 615.1h1.9v1.4h-1.9zM641.4 609.2h2.0v1.2h-2.0zM643.0 607.9h1.1v1.1h-1.1zM633.5 606.4h2.0v1.1h-2.0zM637.9 608.9h1.3v1.9h-1.3zM638.1 608.7h2.4v1.3h-2.4zM633.4 602.4h1.1v1.3h-1.1zM638.5 605.5h2.5v1.7h-2.5zM644.1 607.1h1.3v2.2h-1.3zM639.6 609.3h2.3v1.3h-2.3zM639.7 603.0h1.4v1.3h-1.4zM638.1 604.1h2.6v2.0h-2.6zM632.5 599.1h1.8v1.4h-1.8zM638.8 607.7h1.9v1.5h-1.9zM637.0 607.4h2.1v1.2h-2.1zM643.9 611.0h2.6v1.1h-2.6zM640.2 608.1h1.5v1.9h-1.5zM641.7 609.5h2.1v1.7h-2.1zM642.2 611.8h1.8v1.7h-1.8zM644.5 612.3h1.3v2.2h-1.3zM640.5 607.3h2.3v2.2h-2.3zM645.5 612.5h1.5v1.6h-1.5zM646.0 614.3h1.2v2.2h-1.2zM644.5 611.5h2.0v2.0h-2.0zM643.7 618.0h1.3v1.0h-1.3zM638.7 615.6h1.5v1.1h-1.5zM638.1 612.7h2.5v2.0h-2.5zM645.3 616.1h1.9v1.4h-1.9zM649.3 620.1h2.3v1.4h-2.3zM650.8 616.9h1.6v1.3h-1.6zM644.7 618.1h1.2v1.4h-1.2zM638.6 608.8h2.6v1.3h-2.6zM646.4 618.1h2.1v1.2h-2.1zM645.5 617.8h1.8v1.3h-1.8zM647.6 626.2h2.1v1.8h-2.1zM652.8 619.3h1.7v1.7h-1.7zM652.8 623.8h1.1v1.5h-1.1zM650.7 619.5h2.1v1.1h-2.1zM650.8 619.2h2.0v1.9h-2.0zM648.7 620.4h2.2v1.9h-2.2zM646.8 615.9h2.6v2.2h-2.6zM645.9 618.8h1.9v1.1h-1.9zM652.9 626.2h2.3v1.3h-2.3zM649.9 620.2h2.5v1.6h-2.5zM649.8 616.9h2.3v2.2h-2.3zM647.5 618.6h2.0v2.0h-2.0zM649.3 620.6h1.8v1.7h-1.8zM649.1 619.3h2.8v1.8h-2.8zM651.1 622.4h1.1v2.1h-1.1zM654.9 623.2h1.3v2.1h-1.3zM654.3 624.9h1.1v1.1h-1.1zM644.8 615.4h1.6v2.2h-1.6zM645.3 616.9h1.1v2.2h-1.1zM644.5 615.9h1.0v1.5h-1.0zM643.6 614.5h1.7v1.5h-1.7zM638.6 604.1h1.3v1.3h-1.3zM637.6 602.5h1.8v1.8h-1.8zM637.5 600.9h2.1v2.2h-2.1zM637.7 602.8h2.2v1.7h-2.2zM639.4 604.2h1.0v1.1h-1.0zM644.8 619.0h1.7v1.6h-1.7zM645.6 620.6h1.0v1.3h-1.0zM645.1 618.7h2.0v2.0h-2.0zM646.9 619.5h1.1v1.6h-1.1zM647.0 620.8h2.3v1.6h-2.3zM646.3 619.5h1.5v1.6h-1.5zM645.9 617.7h2.1v2.2h-2.1zM640.8 604.6h2.3v1.5h-2.3zM642.4 605.8h1.3v1.2h-1.3zM641.6 604.2h2.1v1.4h-2.1zM641.4 605.8h1.9v1.1h-1.9zM641.3 607.0h2.3v1.6h-2.3zM642.4 608.3h2.1v1.0h-2.1zM643.7 608.8h1.6v1.7h-1.6zM643.2 607.2h1.4v1.6h-1.4zM641.8 612.2h1.8v1.6h-1.8zM643.4 613.2h1.3v1.0h-1.3zM643.7 614.1h2.3v1.8h-2.3zM645.7 614.3h1.2v1.4h-1.2zM644.6 612.8h1.1v1.8h-1.1zM643.0 612.0h1.5v1.5h-1.5zM642.3 611.0h1.2v1.1h-1.2zM639.0 606.3h2.1v1.6h-2.1zM639.6 604.9h1.8v1.6h-1.8zM638.3 603.7h2.2v1.7h-2.2zM653.3 618.9h1.8v1.1h-1.8zM653.9 616.8h1.1v2.3h-1.1zM653.7 618.4h1.9v2.1h-1.9zM654.2 620.4h1.6v1.3h-1.6zM640.6 608.0h1.5v1.4h-1.5zM641.2 608.9h1.8v2.1h-1.8zM640.3 608.0h1.4v1.6h-1.4zM648.3 614.4h1.2v1.9h-1.2zM648.2 616.0h1.1v1.8h-1.1zM646.9 614.8h1.5v1.8h-1.5zM645.5 614.0h2.0v1.7h-2.0zM644.7 613.5h1.2v1.2h-1.2zM644.2 611.8h1.4v1.8h-1.4zM644.5 610.4h1.2v1.9h-1.2zM643.6 618.5h1.4v1.8h-1.4zM642.6 617.2h1.8v1.9h-1.8zM642.1 616.0h1.4v1.9h-1.4zM641.9 617.6h2.0v2.0h-2.0zM642.5 619.0h1.9v2.1h-1.9zM561.4 566.3h1.7v1.5h-1.7zM557.8 558.7h1.9v1.6h-1.9zM558.9 564.4h1.9v1.1h-1.9zM556.9 555.8h1.5v1.5h-1.5zM554.1 556.0h1.9v1.1h-1.9zM556.9 557.5h2.0v1.3h-2.0zM561.4 564.6h1.3v1.6h-1.3zM558.0 562.6h1.4v1.5h-1.4zM556.9 558.2h1.3v1.3h-1.3zM556.4 559.0h1.7v1.8h-1.7zM569.1 569.0h1.4v1.6h-1.4zM572.8 574.7h2.1v1.6h-2.1zM565.5 571.9h1.6v1.7h-1.6zM568.8 574.4h1.8v1.5h-1.8zM569.0 571.7h1.1v1.1h-1.1zM562.4 566.0h1.6v1.2h-1.6zM570.4 570.2h1.8v1.5h-1.8zM570.3 569.7h1.9v1.4h-1.9zM563.8 565.9h2.1v1.1h-2.1zM591.5 576.7h1.3v1.1h-1.3zM593.1 580.7h1.1v1.4h-1.1zM597.6 583.2h1.4v1.6h-1.4zM591.0 574.6h2.0v1.2h-2.0zM596.8 584.4h1.2v1.7h-1.2zM588.6 572.6h1.4v1.5h-1.4zM595.4 579.5h1.7v1.5h-1.7zM590.5 579.3h1.6v1.5h-1.6zM589.9 575.8h2.1v1.5h-2.1zM602.5 584.5h2.0v1.2h-2.0zM594.7 583.5h1.9v1.2h-1.9zM600.4 585.1h1.8v1.5h-1.8zM597.4 581.6h1.2v1.0h-1.2zM601.7 582.9h2.1v1.3h-2.1zM601.8 589.1h1.5v1.7h-1.5zM599.2 585.0h1.4v1.0h-1.4zM604.3 587.8h1.4v1.1h-1.4zM608.9 588.2h1.1v1.0h-1.1zM612.6 588.5h2.2v1.6h-2.2zM610.9 587.3h1.1v1.6h-1.1zM616.1 590.4h1.4v1.2h-1.4zM604.4 586.1h1.4v1.4h-1.4zM608.9 588.5h1.4v1.1h-1.4zM605.8 587.7h2.1v1.3h-2.1zM613.8 588.6h2.2v1.5h-2.2zM508.2 656.1h1.6v1.7h-1.6zM507.3 656.3h1.3v2.0h-1.3zM506.3 655.8h1.5v1.7h-1.5zM505.3 656.1h1.5v1.6h-1.5zM506.7 655.8h1.3v2.0h-1.3zM557.4 676.0h1.7v1.7h-1.7zM558.7 676.6h1.6v2.1h-1.6zM560.0 676.5h1.8v1.5h-1.8zM558.8 677.1h1.1v1.1h-1.1zM559.7 675.7h1.7v2.2h-1.7zM558.0 675.7h2.0v1.6h-2.0zM542.1 673.3h1.6v1.1h-1.6zM543.6 673.1h1.6v1.1h-1.6zM541.8 673.0h2.2v1.8h-2.2zM541.3 672.0h1.0v1.6h-1.0zM539.5 671.7h1.7v1.6h-1.7zM540.8 672.1h2.3v1.5h-2.3zM548.0 674.0h1.9v2.1h-1.9zM546.3 674.3h2.3v2.3h-2.3zM547.7 673.7h2.1v1.9h-2.1zM546.4 674.2h1.9v1.2h-1.9zM545.8 675.1h1.3v2.0h-1.3zM544.4 675.6h1.8v2.3h-1.8zM542.9 675.7h2.1v2.2h-2.1zM542.0 675.0h2.2v1.4h-2.2zM541.0 675.0h1.6v1.3h-1.6zM542.9 674.0h1.2v1.8h-1.2zM551.1 675.1h2.0v1.6h-2.0zM553.0 674.8h1.1v1.6h-1.1zM551.0 675.0h2.0v1.4h-2.0zM549.4 674.8h2.1v2.1h-2.1zM546.2 674.3h2.0v2.1h-2.0zM545.0 674.7h1.3v1.5h-1.3zM543.2 674.7h2.1v1.3h-2.1zM545.1 674.8h1.7v1.0h-1.7zM543.7 674.6h1.6v1.4h-1.6zM543.3 673.2h2.0v1.3h-2.0zM545.0 673.1h2.0v2.2h-2.0zM545.9 674.6h2.2v1.6h-2.2zM555.0 677.9h1.0v2.2h-1.0zM555.8 677.4h1.7v1.1h-1.7zM557.2 678.3h1.4v1.0h-1.4zM558.0 678.6h2.0v2.3h-2.0zM559.4 678.0h1.1v1.3h-1.1zM556.4 668.9h1.9v1.5h-1.9zM558.4 668.7h1.0v1.4h-1.0zM559.3 669.0h1.8v1.8h-1.8zM558.2 667.9h1.9v1.6h-1.9zM559.8 667.7h1.6v1.5h-1.6zM560.4 666.5h2.2v2.1h-2.2zM562.1 666.3h1.0v1.2h-1.0zM560.5 665.4h1.2v1.7h-1.2zM552.5 670.5h1.1v1.6h-1.1zM550.9 670.5h1.4v1.2h-1.4zM549.8 669.4h1.3v1.5h-1.3zM551.4 669.3h1.5v1.5h-1.5zM552.5 670.2h1.6v1.9h-1.6zM550.8 669.5h2.1v2.2h-2.1zM549.4 670.1h2.0v1.6h-2.0zM551.0 669.6h1.9v1.1h-1.9zM559.3 676.5h1.3v2.2h-1.3zM560.4 677.0h1.9v1.5h-1.9zM562.0 677.4h1.4v2.0h-1.4zM560.7 676.6h1.9v1.1h-1.9zM559.5 676.3h1.2v1.1h-1.2zM558.0 675.7h1.4v1.3h-1.4zM556.2 675.0h2.1v2.1h-2.1zM557.8 675.5h2.2v1.4h-2.2zM559.4 675.6h2.0v1.5h-2.0zM557.2 680.5h1.3v1.7h-1.3zM558.2 680.5h2.2v2.2h-2.2zM557.2 679.9h2.0v1.3h-2.0zM556.0 679.1h1.8v1.4h-1.8zM554.9 678.5h1.3v1.6h-1.3zM556.7 678.7h1.0v1.4h-1.0zM552.0 677.4h1.0v1.5h-1.0zM553.4 678.0h1.0v1.8h-1.0zM551.9 679.1h1.6v1.5h-1.6zM550.2 679.1h1.9v1.3h-1.9zM547.7 682.7h1.6v2.0h-1.6zM549.4 683.1h1.3v1.5h-1.3zM547.6 683.2h1.6v1.3h-1.6zM548.9 683.2h2.1v1.3h-2.1zM547.7 682.4h1.6v1.7h-1.6zM549.2 681.5h1.0v1.9h-1.0zM547.8 680.6h1.2v2.2h-1.2zM546.1 680.3h1.5v2.1h-1.5zM545.2 674.1h2.0v1.2h-2.0zM546.0 672.8h2.1v1.3h-2.1zM547.5 673.8h1.5v1.3h-1.5zM537.1 678.2h1.7v1.9h-1.7zM538.4 679.5h1.4v1.5h-1.4zM539.7 680.3h1.3v1.1h-1.3zM537.9 680.1h1.6v1.6h-1.6zM539.1 679.5h2.1v2.2h-2.1zM538.0 680.3h1.3v1.6h-1.3zM536.4 680.7h1.6v1.8h-1.6zM547.2 672.0h1.3v2.0h-1.3zM545.8 672.4h1.1v1.7h-1.1zM544.2 671.5h2.1v1.6h-2.1zM557.7 675.1h2.1v1.2h-2.1zM556.6 675.0h1.1v1.2h-1.1zM557.6 675.5h2.1v1.4h-2.1zM559.4 674.6h1.3v2.1h-1.3zM557.8 674.9h1.3v1.3h-1.3zM556.2 674.6h1.5v2.2h-1.5zM557.8 675.4h1.6v1.2h-1.6zM556.3 674.8h1.4v2.1h-1.4zM555.0 674.3h2.1v1.1h-2.1zM542.2 653.4h1.9v2.1h-1.9zM543.6 653.7h2.2v1.7h-2.2zM542.3 654.2h1.6v1.6h-1.6zM541.0 654.3h1.1v1.4h-1.1zM542.1 655.5h1.4v1.0h-1.4zM544.9 659.0h1.1v2.1h-1.1zM546.3 658.8h1.1v1.8h-1.1zM544.6 659.4h1.7v2.1h-1.7zM542.9 660.0h2.3v2.0h-2.3zM539.9 656.8h1.5v2.3h-1.5zM539.1 658.2h1.2v1.9h-1.2zM539.0 656.7h1.4v1.8h-1.4zM537.3 657.8h2.3v1.2h-2.3zM539.3 657.2h1.6v1.6h-1.6zM544.1 665.0h1.3v1.4h-1.3zM545.4 664.2h1.7v2.2h-1.7zM544.4 663.5h1.5v1.5h-1.5zM543.1 663.4h1.1v1.5h-1.1zM541.1 662.8h2.3v2.1h-2.3zM539.9 662.5h2.2v1.7h-2.2zM535.1 654.7h1.0v2.0h-1.0zM534.2 656.4h1.2v1.1h-1.2zM535.4 656.6h1.5v2.0h-1.5zM566.5 653.4h1.3v1.8h-1.3zM565.8 652.1h1.6v1.7h-1.6zM565.2 658.2h1.5v1.1h-1.5zM564.3 658.7h1.0v2.1h-1.0zM564.1 657.6h2.0v1.3h-2.0zM565.5 658.3h1.8v1.5h-1.8zM564.5 657.2h1.8v1.4h-1.8zM566.0 657.9h1.3v1.9h-1.3zM563.3 651.9h1.2v2.1h-1.2zM563.0 653.3h2.3v2.2h-2.3zM562.7 654.2h1.9v1.1h-1.9zM561.3 653.4h1.8v2.0h-1.8zM562.5 652.4h1.2v1.6h-1.2zM562.8 651.2h1.4v1.3h-1.4zM577.0 674.5h1.2v2.1h-1.2zM578.5 675.1h1.3v1.1h-1.3zM579.7 674.8h1.8v1.7h-1.8zM578.5 676.4h2.2v1.0h-2.2zM577.0 675.8h2.1v1.4h-2.1zM576.1 674.6h1.1v2.2h-1.1zM583.2 674.3h1.4v2.1h-1.4zM582.7 676.3h1.6v1.2h-1.6zM581.3 676.7h1.5v1.0h-1.5zM600.0 683.2h2.4v1.9h-2.4zM599.6 683.2h2.1v1.6h-2.1zM599.6 682.5h2.3v1.6h-2.3zM585.7 647.8h1.3v2.2h-1.3zM584.3 647.2h1.7v1.6h-1.7zM583.0 647.8h1.8v1.9h-1.8zM583.9 646.8h2.2v1.6h-2.2zM585.2 648.0h2.0v1.2h-2.0zM586.5 647.7h2.2v1.9h-2.2zM585.6 648.7h1.4v1.5h-1.4zM584.9 647.6h1.3v1.1h-1.3zM577.1 669.5h1.4v1.3h-1.4zM575.9 665.8h1.7v1.3h-1.7zM577.9 669.2h1.8v1.4h-1.8zM506.6 688.8h1.6v1.6h-1.6zM507.7 689.8h1.6v1.5h-1.6zM509.3 690.2h1.4v1.3h-1.4zM507.4 689.7h1.8v1.8h-1.8zM506.2 690.4h1.6v1.7h-1.6zM502.2 689.7h1.4v1.7h-1.4zM500.4 689.7h2.0v1.7h-2.0zM499.0 690.1h1.9v1.4h-1.9zM497.6 690.0h2.0v1.3h-2.0zM499.3 689.0h1.3v1.2h-1.3zM503.2 688.1h1.9v1.3h-1.9zM501.8 687.9h1.6v1.8h-1.6zM503.1 688.9h1.8v1.6h-1.8zM504.2 688.1h2.2v1.7h-2.2zM493.3 688.0h1.1v1.2h-1.1zM491.8 688.2h1.4v2.2h-1.4zM490.1 688.0h2.2v1.3h-2.2zM489.2 688.5h1.4v1.5h-1.4zM488.0 688.4h1.3v1.8h-1.3zM489.0 687.1h2.0v2.3h-2.0zM486.1 565.6h1.3v0.9h-1.3zM481.9 568.2h1.4v1.3h-1.4zM493.3 565.3h1.3v1.4h-1.3zM464.2 577.2h1.0v1.2h-1.0zM475.6 569.0h1.7v1.0h-1.7zM492.5 571.1h1.0v1.1h-1.0zM492.6 577.2h1.7v1.3h-1.7zM495.8 570.1h0.9v1.4h-0.9zM484.0 571.9h1.1v1.1h-1.1zM475.7 566.4h1.5v0.9h-1.5zM485.7 576.0h1.6v1.0h-1.6zM495.2 561.7h1.4v1.1h-1.4zM648.4 598.2h1.6v1.0h-1.6zM647.7 611.5h1.0v1.0h-1.0zM636.6 604.4h1.2v1.3h-1.2zM630.8 625.4h1.5v1.2h-1.5zM644.2 602.3h1.4v1.2h-1.4zM648.3 622.7h1.3v0.8h-1.3zM639.5 598.6h1.2v1.1h-1.2zM629.7 600.3h1.3v0.9h-1.3zM647.6 625.8h1.8v0.9h-1.8zM638.5 586.0h1.0v0.9h-1.0z"/>
<path fill="#379427" d="M745.2 442.6L745.6 444.4L746.3 446.1L748.3 446.7L749.6 448.0L750.3 449.6L750.5 451.6L752.4 452.6L752.7 454.7L755.0 454.7L755.7 456.3L756.2 458.1L758.3 458.3L759.5 459.5L760.0 461.4L761.5 462.2L762.5 463.5L763.5 464.9L764.4 466.2L766.3 466.5L766.7 468.3L767.9 469.6L769.6 470.5L769.8 472.5L771.1 473.6L772.0 475.0L773.2 476.2L773.3 478.2L774.8 479.2L776.0 478.4L775.6 476.7L774.8 475.1L774.5 473.3L773.2 472.2L772.6 470.4L771.4 469.2L769.3 468.6L769.0 466.7L767.4 465.7L766.0 464.6L765.3 463.0L764.7 461.3L762.8 460.9L761.4 460.0L760.8 458.2L759.5 457.2L758.8 455.6L758.0 454.0L755.6 454.1L754.8 452.5L753.9 451.1L753.1 449.8L752.2 448.3L750.5 447.4L750.2 445.4L748.5 444.5L747.6 443.0L746.6 441.6z"/>
<path fill="#379427" d="M610.1 506.3h1.8v1.4h-1.8zM611.1 506.7h1.8v1.8h-1.8zM610.0 506.0h2.0v1.7h-2.0zM609.3 505.4h1.7v1.5h-1.7zM610.3 505.5h2.0v1.7h-2.0zM750.8 450.9h1.4v1.5h-1.4zM748.1 445.6h1.6v1.7h-1.6zM748.0 441.9h1.2v1.5h-1.2zM752.2 449.3h2.4v1.2h-2.4zM748.1 444.2h2.1v1.8h-2.1zM744.0 441.5h2.2v1.3h-2.2zM758.3 456.0h1.8v1.9h-1.8zM759.8 456.6h1.7v1.6h-1.7zM754.8 451.3h2.0v1.3h-2.0zM753.8 454.7h1.6v1.5h-1.6zM762.9 462.4h1.9v1.4h-1.9zM758.3 459.4h2.1v1.5h-2.1zM763.9 459.8h1.5v1.8h-1.5zM763.3 461.1h1.8v1.9h-1.8zM769.2 468.6h2.0v1.4h-2.0zM769.9 471.4h1.2v1.7h-1.2zM765.2 468.7h1.3v1.3h-1.3zM771.5 470.7h1.8v1.5h-1.8zM774.4 476.2h1.6v1.6h-1.6zM772.8 474.2h2.4v1.8h-2.4zM770.7 477.2h2.2v1.6h-2.2zM772.8 474.1h1.6v1.7h-1.6zM776.0 479.3h1.3v1.3h-1.3zM775.2 481.9h2.3v1.3h-2.3zM775.9 480.4h1.2v1.6h-1.2zM834.1 504.8L836.5 508.6L839.5 512.7L835.6 515.8L833.1 520.3L829.1 518.0L826.1 514.1L827.2 509.0L829.5 504.2zM754.5 537.2h2.3v1.6h-2.3zM756.1 536.8h1.8v1.1h-1.8zM750.9 535.5h1.1v2.1h-1.1zM752.3 535.5h1.4v2.1h-1.4zM753.2 536.8h2.1v1.2h-2.1zM751.7 536.7h1.9v1.9h-1.9zM753.2 536.7h1.6v1.8h-1.6zM754.6 537.1h1.6v1.2h-1.6zM747.0 536.8h1.0v1.8h-1.0zM748.0 536.2h1.8v2.0h-1.8zM746.5 536.0h1.9v1.5h-1.9zM745.5 536.6h1.0v1.4h-1.0zM744.0 536.3h1.1v2.2h-1.1zM745.5 536.0h1.3v1.8h-1.3zM752.9 535.4h2.3v1.1h-2.3zM751.8 534.4h1.7v1.8h-1.7zM753.7 534.8h1.1v1.6h-1.1zM752.0 534.5h1.5v1.2h-1.5zM750.8 535.2h1.4v1.2h-1.4zM818.3 571.5h1.2v2.3h-1.2zM816.3 571.7h2.2v2.2h-2.2zM818.2 571.4h1.2v1.2h-1.2zM818.0 570.0h2.2v1.1h-2.2zM822.2 571.8h1.7v1.5h-1.7zM823.5 572.0h2.0v1.7h-2.0zM823.8 573.6h1.0v1.6h-1.0zM824.4 574.7h2.3v1.1h-2.3zM825.8 574.4h1.9v2.2h-1.9zM824.7 575.5h1.2v1.4h-1.2zM821.9 571.5h1.3v1.6h-1.3zM822.6 573.1h1.3v1.2h-1.3zM820.7 572.6h2.0v1.0h-2.0zM821.4 570.5h1.7v2.2h-1.7zM822.9 570.3h1.3v1.2h-1.3zM821.4 570.7h1.8v2.2h-1.8zM821.8 569.3h1.8v2.1h-1.8zM831.0 678.3h2.0v2.1h-2.0zM832.7 678.0h1.6v2.2h-1.6zM831.0 678.7h2.1v2.0h-2.1zM833.0 679.2h1.1v1.2h-1.1zM830.9 679.2h2.1v1.1h-2.1zM832.4 678.0h1.6v1.5h-1.6zM831.1 678.6h1.2v1.8h-1.2zM831.2 681.8h1.2v2.3h-1.2zM832.5 682.8h1.5v1.3h-1.5zM831.7 683.9h2.0v1.9h-2.0zM829.3 679.3h1.1v1.3h-1.1zM830.2 678.2h2.0v2.2h-2.0zM828.8 678.4h1.6v1.6h-1.6zM827.5 678.9h1.3v1.1h-1.3zM814.0 667.2h2.1v2.0h-2.1zM815.8 667.0h1.5v1.4h-1.5zM817.3 667.1h1.3v1.7h-1.3zM815.4 667.0h1.8v1.0h-1.8zM814.0 667.2h1.8v2.0h-1.8zM815.5 667.3h1.7v2.0h-1.7zM817.0 667.9h1.5v2.0h-1.5zM830.3 674.1h1.7v2.1h-1.7zM831.3 673.2h1.8v1.7h-1.8zM829.6 672.6h2.2v2.0h-2.2zM831.1 673.6h1.4v2.2h-1.4zM840.7 673.8h1.3v1.7h-1.3zM839.0 673.0h2.2v1.5h-2.2zM837.8 672.9h1.7v1.4h-1.7zM839.7 673.5h1.0v1.7h-1.0zM838.0 674.5h2.1v1.5h-2.1zM840.0 674.7h1.3v1.1h-1.3zM840.6 675.6h1.8v1.9h-1.8zM823.9 679.0h2.2v1.1h-2.2zM822.4 678.8h2.1v1.8h-2.1zM821.2 678.3h1.9v1.7h-1.9zM820.3 679.0h1.1v1.2h-1.1zM819.2 678.2h1.2v1.2h-1.2zM806.7 680.7h1.1v1.4h-1.1zM805.7 681.9h1.2v1.3h-1.2zM804.3 681.3h1.1v1.5h-1.1zM802.9 680.9h1.3v2.1h-1.3zM801.1 681.0h2.2v1.4h-2.2zM802.5 679.6h1.0v1.2h-1.0zM840.4 675.3h2.1v2.2h-2.1zM842.1 675.8h1.7v1.9h-1.7zM843.7 676.7h1.1v1.2h-1.1zM824.4 672.1h2.2v1.4h-2.2zM826.0 673.3h1.3v1.1h-1.3zM824.4 673.4h1.5v1.6h-1.5zM826.0 674.1h1.2v1.1h-1.2zM840.2 648.1h1.6v1.4h-1.6zM841.1 647.9h2.2v2.2h-2.2zM842.4 648.0h1.6v1.9h-1.6zM843.1 647.4h1.7v1.4h-1.7zM841.7 647.3h2.0v2.3h-2.0zM843.1 647.0h1.2v2.1h-1.2zM841.5 646.9h1.8v1.7h-1.8zM840.3 647.1h1.9v2.0h-1.9zM554.0 590.3h1.5v1.5h-1.5zM554.1 588.5h1.5v2.1h-1.5zM554.8 590.2h1.9v1.4h-1.9zM553.6 590.0h1.1v1.8h-1.1zM552.3 589.1h1.5v1.7h-1.5zM554.9 593.5h2.2v2.2h-2.2zM556.6 592.8h1.4v1.8h-1.4zM555.7 594.7h2.2v1.0h-2.2zM557.4 594.6h1.5v2.0h-1.5zM558.9 594.7h1.5v1.4h-1.5zM558.7 595.8h1.9v2.1h-1.9zM553.9 591.8h2.1v1.1h-2.1zM555.3 590.4h1.7v2.1h-1.7zM554.9 592.2h1.2v1.4h-1.2zM554.9 593.7h1.0v1.4h-1.0zM555.7 594.4h2.2v1.2h-2.2zM554.6 594.9h1.6v1.5h-1.6zM553.2 595.4h1.5v1.3h-1.5zM554.7 595.1h1.8v1.9h-1.8zM555.0 593.6h1.4v2.1h-1.4zM555.0 592.5h1.9v1.3h-1.9zM556.8 592.5h1.2v1.3h-1.2zM558.2 592.6h1.4v1.6h-1.4zM556.1 592.4h2.2v1.4h-2.2zM555.6 593.6h1.2v1.6h-1.2zM554.1 594.5h2.3v2.2h-2.3zM554.9 596.5h1.4v1.0h-1.4zM553.3 596.6h1.6v1.1h-1.6zM554.3 591.7h2.1v1.8h-2.1zM552.8 591.8h2.0v1.5h-2.0zM551.3 592.0h2.3v1.8h-2.3zM550.6 590.8h1.8v1.9h-1.8zM552.7 591.3h1.0v1.0h-1.0zM553.6 592.0h1.1v2.3h-1.1zM554.3 593.3h1.2v2.2h-1.2zM554.5 592.3h1.2v1.1h-1.2zM552.9 591.3h1.9v1.4h-1.9zM553.4 592.7h1.5v1.6h-1.5zM554.3 598.6h1.5v1.8h-1.5zM555.1 598.2h2.0v1.8h-2.0zM556.4 598.5h1.5v1.6h-1.5zM557.0 598.4h2.3v2.2h-2.3zM558.3 598.1h1.7v2.4h-1.7zM568.1 615.6h1.2v1.3h-1.2zM569.6 616.1h1.0v1.3h-1.0zM570.8 615.6h1.5v1.7h-1.5zM572.2 614.8h1.3v2.2h-1.3zM573.2 615.5h1.6v2.0h-1.6zM571.4 615.2h1.9v1.2h-1.9zM569.2 616.6h2.1v1.5h-2.1zM568.0 616.1h1.4v1.5h-1.4zM569.2 615.6h2.2v1.5h-2.2zM571.1 615.5h1.4v1.8h-1.4zM569.3 616.1h1.7v1.2h-1.7zM568.2 615.4h1.1v2.2h-1.1zM569.2 617.0h1.1v1.3h-1.1zM570.2 616.1h1.6v1.3h-1.6zM571.4 615.6h1.9v1.3h-1.9zM571.6 616.7h2.1v2.2h-2.1zM566.0 615.9h2.1v2.0h-2.1zM564.8 615.5h1.5v2.2h-1.5zM563.3 615.5h1.6v1.9h-1.6zM565.1 616.2h1.2v1.7h-1.2zM566.6 615.6h1.3v2.0h-1.3zM565.1 615.9h1.3v1.5h-1.3zM563.6 615.2h1.6v1.7h-1.6zM565.0 614.7h1.9v1.6h-1.9zM563.6 614.4h1.9v1.5h-1.9zM566.8 615.7h1.8v1.6h-1.8zM567.8 616.4h2.0v2.2h-2.0zM569.5 616.6h1.6v1.7h-1.6zM570.6 616.2h2.3v1.9h-2.3zM569.0 616.0h2.0v1.4h-2.0zM570.8 615.1h1.2v2.3h-1.2zM571.6 615.7h2.2v1.3h-2.2zM573.2 615.3h1.4v2.1h-1.4zM525.8 640.7h1.9v1.2h-1.9zM527.1 640.5h1.6v2.0h-1.6zM527.3 641.4h2.3v2.1h-2.3zM526.8 642.4h1.3v1.6h-1.3zM526.6 643.3h2.2v1.8h-2.2zM527.6 643.3h2.4v1.5h-2.4zM528.3 643.9h1.5v2.1h-1.5zM550.2 676.8h1.4v1.4h-1.4zM548.5 676.4h1.8v1.2h-1.8zM547.8 677.3h1.1v1.2h-1.1zM546.0 677.0h1.8v1.1h-1.8zM545.2 675.5h1.4v2.2h-1.4zM546.5 674.6h1.1v1.8h-1.1zM545.5 676.0h1.7v1.5h-1.7zM544.1 675.6h2.2v1.5h-2.2zM543.3 674.9h1.3v2.2h-1.3zM542.4 674.5h1.4v1.2h-1.4zM541.8 675.5h1.8v2.1h-1.8zM541.0 675.9h1.3v2.2h-1.3zM540.0 676.3h1.3v2.2h-1.3zM551.5 674.7h1.3v1.0h-1.3zM553.0 674.9h1.2v1.6h-1.2zM551.4 674.0h1.4v2.1h-1.4zM550.1 674.5h1.0v1.2h-1.0zM551.4 674.2h1.6v1.8h-1.6zM550.4 673.2h1.8v1.4h-1.8zM549.2 673.2h1.3v1.4h-1.3zM548.2 674.6h1.8v1.2h-1.8zM549.6 674.1h2.2v1.7h-2.2zM548.8 675.4h1.6v1.2h-1.6zM553.5 676.9h1.4v1.5h-1.4zM551.7 676.6h1.9v1.9h-1.9zM550.8 677.2h1.3v2.1h-1.3zM549.1 677.4h1.9v1.9h-1.9zM551.1 677.4h1.4v1.4h-1.4zM552.4 676.7h1.8v1.7h-1.8zM553.7 677.2h2.0v2.2h-2.0zM555.2 677.8h2.0v1.2h-2.0zM554.0 678.1h1.2v1.3h-1.2zM555.2 677.6h1.9v2.0h-1.9zM557.8 675.2h1.1v1.5h-1.1zM559.0 674.9h1.7v1.8h-1.7zM560.3 674.6h2.0v2.2h-2.0zM561.0 673.7h2.3v1.6h-2.3zM562.5 673.8h1.9v1.7h-1.9zM564.0 674.0h1.5v1.3h-1.5zM548.0 677.6h1.4v1.1h-1.4zM549.4 678.4h1.1v1.3h-1.1zM548.0 676.7h1.7v2.2h-1.7zM548.8 678.5h1.8v1.3h-1.8zM550.3 678.2h1.7v2.2h-1.7zM548.9 678.4h1.2v1.5h-1.2zM550.1 678.4h1.8v2.1h-1.8zM548.6 678.3h1.4v1.9h-1.4zM549.4 677.4h1.7v1.1h-1.7zM550.2 676.5h2.2v1.1h-2.2zM551.8 676.0h1.9v1.8h-1.9zM553.2 676.8h1.5v1.0h-1.5zM551.5 676.5h1.3v1.9h-1.3zM550.0 672.1h1.8v2.1h-1.8zM549.5 673.7h1.5v1.7h-1.5zM548.1 674.2h1.5v1.4h-1.5zM546.9 674.5h1.2v1.5h-1.2zM548.0 673.2h1.5v1.8h-1.5zM549.3 673.0h2.2v2.0h-2.2zM542.9 678.5h1.1v1.2h-1.1zM541.1 679.0h1.8v1.6h-1.8zM542.7 678.6h1.6v1.3h-1.6zM544.2 679.3h1.0v1.4h-1.0zM545.5 679.2h1.5v1.6h-1.5zM547.0 679.6h1.2v1.0h-1.2zM548.0 680.2h1.3v1.4h-1.3zM546.2 680.0h1.4v2.3h-1.4zM547.5 679.9h1.4v1.7h-1.4zM545.7 680.1h1.6v1.3h-1.6zM544.2 679.3h1.2v2.0h-1.2zM544.8 678.5h2.2v1.5h-2.2zM543.4 677.8h1.9v1.6h-1.9zM545.8 674.6h1.7v2.3h-1.7zM547.0 675.8h1.8v1.6h-1.8zM545.4 676.2h2.0v1.3h-2.0zM547.2 675.8h1.5v1.9h-1.5zM548.1 676.6h2.3v1.5h-2.3zM549.6 676.6h2.0v1.2h-2.0zM550.8 676.4h2.2v1.9h-2.2zM552.3 676.6h1.8v1.4h-1.8zM550.7 677.1h1.6v1.4h-1.6zM548.8 677.5h2.3v1.9h-2.3zM552.1 676.7h1.1v1.6h-1.1zM553.1 675.5h1.3v2.2h-1.3zM551.5 676.4h1.5v1.0h-1.5zM550.3 676.8h1.2v1.5h-1.2zM548.5 676.4h1.9v2.1h-1.9zM550.2 676.5h1.9v1.7h-1.9zM551.6 675.6h2.0v2.1h-2.0zM551.4 675.8h1.6v2.1h-1.6zM553.0 675.5h1.1v1.3h-1.1zM553.9 675.0h2.1v2.3h-2.1zM555.5 675.1h1.6v2.1h-1.6zM554.0 675.0h1.3v1.9h-1.3zM554.9 675.4h2.3v1.6h-2.3zM554.1 676.5h1.1v1.2h-1.1zM555.5 677.9h1.9v2.0h-1.9zM557.0 678.2h1.9v1.7h-1.9zM558.3 679.0h1.8v1.4h-1.8zM559.0 680.5h1.2v1.2h-1.2zM548.0 677.6h1.4v1.0h-1.4zM549.1 676.1h1.6v2.1h-1.6zM548.2 677.6h1.6v1.7h-1.6zM546.8 677.6h1.2v2.1h-1.2zM545.4 678.9h1.7v1.2h-1.7zM543.8 677.9h2.2v2.2h-2.2zM545.5 678.5h2.2v1.6h-2.2zM546.8 677.5h2.1v1.6h-2.1zM545.4 676.8h2.2v1.8h-2.2zM547.0 677.6h2.2v1.1h-2.2zM545.8 678.0h1.8v1.2h-1.8zM546.9 674.5h1.3v1.3h-1.3zM548.0 674.2h1.9v1.0h-1.9zM549.3 674.0h2.3v1.5h-2.3zM550.5 672.9h2.2v2.3h-2.2zM549.0 673.1h2.0v1.4h-2.0zM550.6 673.8h1.4v1.1h-1.4zM550.4 675.0h1.0v1.5h-1.0zM551.2 675.7h1.8v2.0h-1.8zM552.8 676.3h1.3v1.7h-1.3zM551.5 677.7h1.6v1.0h-1.6zM549.8 677.8h2.0v1.6h-2.0zM544.1 679.9h1.4v1.0h-1.4zM545.5 679.5h1.7v1.7h-1.7zM547.1 679.2h1.1v1.3h-1.1zM545.2 678.4h1.7v2.0h-1.7zM543.9 677.6h2.2v1.5h-2.2zM545.4 678.1h2.0v1.7h-2.0zM544.1 678.6h1.5v1.1h-1.5zM542.8 677.9h1.1v1.5h-1.1zM543.9 677.6h1.8v1.1h-1.8zM545.4 677.9h1.9v1.1h-1.9zM547.1 677.2h1.2v2.0h-1.2zM545.6 675.3h1.4v1.2h-1.4zM543.6 675.1h2.2v2.1h-2.2zM542.6 675.2h1.4v1.5h-1.4zM541.3 675.0h1.3v1.9h-1.3zM542.6 675.1h2.0v1.8h-2.0zM544.3 674.6h1.8v1.9h-1.8zM543.0 675.0h1.7v1.9h-1.7zM544.7 675.6h1.2v2.1h-1.2zM541.6 672.2h1.9v2.3h-1.9zM540.1 671.5h2.2v2.2h-2.2zM542.3 671.7h1.0v1.9h-1.0zM540.3 671.7h2.1v1.9h-2.1zM539.1 670.9h2.0v1.8h-2.0zM540.4 669.7h1.5v1.9h-1.5zM551.8 676.5h1.2v1.4h-1.2zM553.4 676.4h1.1v1.3h-1.1zM554.6 676.1h1.4v1.6h-1.4zM555.9 676.9h1.3v1.4h-1.3zM554.3 676.7h1.1v2.0h-1.1zM554.8 678.9h1.2v1.7h-1.2zM555.6 679.8h1.6v2.0h-1.6zM554.0 680.8h2.0v1.2h-2.0zM555.4 680.9h2.1v1.3h-2.1zM557.3 679.8h1.1v2.2h-1.1zM555.8 679.3h1.4v2.1h-1.4zM554.4 680.2h1.4v1.2h-1.4zM556.0 679.3h1.3v2.1h-1.3zM554.7 680.1h1.0v1.5h-1.0zM555.7 679.7h2.1v1.8h-2.1z"/>
<path fill="#f3ae7b" d="M633.1 510.3h1.5v1.2h-1.5zM568.1 537.9h1.5v1.2h-1.5z"/>
<path fill="#da623e" d="M496.4 540.1h1.6v2.0h-1.6zM495.8 540.2h1.6v1.7h-1.6zM806.5 458.1h1.7v1.4h-1.7zM798.4 622.5h1.3v1.4h-1.3zM801.9 622.6h1.5v1.1h-1.5zM802.1 621.8h1.3v1.0h-1.3zM799.3 622.4h1.5v1.1h-1.5zM802.3 622.3h1.8v1.4h-1.8zM800.8 622.1h2.0v1.4h-2.0zM812.0 630.5h1.4v1.1h-1.4zM814.1 630.2h1.2v1.1h-1.2zM811.7 629.9h1.5v1.5h-1.5zM749.7 642.5h1.8v1.6h-1.8zM749.0 642.3h1.8v1.2h-1.8zM751.5 641.9h1.1v1.3h-1.1zM751.7 642.8h1.0v1.3h-1.0zM746.9 643.8h1.5v1.1h-1.5zM749.7 642.0h1.6v1.6h-1.6zM747.9 643.7h1.2v1.2h-1.2zM826.4 604.6h1.5v1.2h-1.5zM826.0 604.1h1.5v1.4h-1.5zM759.2 641.2h1.1v1.2h-1.1zM496.6 585.9h1.7v1.7h-1.7zM498.0 586.2h1.4v1.4h-1.4zM499.2 585.6h1.3v1.8h-1.3zM498.1 586.2h1.1v1.9h-1.1zM498.8 586.0h1.9v1.3h-1.9zM497.9 585.7h1.0v1.8h-1.0zM526.0 578.9h1.5v1.9h-1.5zM527.4 579.0h1.2v1.9h-1.2zM526.2 578.9h1.2v1.3h-1.2zM527.3 578.7h1.4v1.8h-1.4zM481.5 588.6h2.0v1.7h-2.0zM480.9 588.6h1.4v1.4h-1.4zM504.9 611.8h1.2v1.4h-1.2zM508.4 611.6h1.3v1.2h-1.3zM505.9 612.0h2.0v1.2h-2.0zM526.2 599.7h1.4v1.3h-1.4zM526.6 599.7h1.1v1.2h-1.1zM489.3 661.0h1.4v1.5h-1.4zM490.9 660.8h1.8v1.6h-1.8zM490.4 661.1h1.7v1.3h-1.7zM490.0 661.4h1.2v1.1h-1.2zM498.4 676.7h1.4v1.4h-1.4zM496.9 674.0h1.7v1.3h-1.7zM499.3 676.9h1.2v1.5h-1.2zM496.6 676.8h1.9v1.1h-1.9zM498.0 676.1h1.8v1.4h-1.8zM499.4 677.1h1.1v1.5h-1.1zM475.3 657.4h1.8v1.3h-1.8zM474.0 656.4h1.9v1.4h-1.9zM475.1 656.3h1.2v1.3h-1.2zM485.4 680.9h1.1v1.3h-1.1zM485.8 680.4h1.8v1.2h-1.8zM484.9 681.9h1.3v1.3h-1.3zM490.3 642.3h1.2v1.1h-1.2zM485.5 642.6h1.5v1.3h-1.5zM488.8 642.2h1.3v1.0h-1.3zM488.9 667.0h1.8v1.1h-1.8zM489.4 667.1h1.2v1.1h-1.2zM462.9 678.0h1.1v1.1h-1.1zM462.0 672.1h1.4v1.2h-1.4zM462.4 676.1h1.1v1.2h-1.1zM616.8 585.3h1.4v1.3h-1.4zM617.6 585.5h1.1v1.2h-1.1zM630.2 584.2h1.1v1.3h-1.1zM629.8 584.1h1.2v1.2h-1.2zM629.2 618.0h1.1v1.2h-1.1zM629.5 618.0h1.2v1.4h-1.2zM641.7 618.1h1.7v1.3h-1.7zM641.7 618.0h1.3v1.0h-1.3z"/>
<path fill="#be1519" d="M717.1 528.9L719.1 530.2L720.8 532.4L718.6 534.2L716.0 535.3L714.7 532.7L715.6 530.7zM776.0 521.6L778.8 520.2L781.6 521.6L782.8 523.0L779.9 523.9L776.3 524.1L775.1 522.7zM775.8 587.9L779.9 591.8L774.7 593.6L771.1 595.7L764.7 594.3L762.2 590.4L762.2 587.1L765.6 584.9L771.3 584.4zM772.6 587.4h1.7v1.6h-1.7zM771.6 588.7h2.1v1.8h-2.1zM773.6 589.0h1.1v2.1h-1.1zM774.5 589.1h2.1v1.5h-2.1zM776.4 588.6h1.3v2.1h-1.3zM768.7 590.3h1.3v1.3h-1.3zM769.1 588.9h1.4v1.2h-1.4zM767.6 589.4h1.8v1.9h-1.8zM767.6 588.3h1.4v1.2h-1.4zM766.4 587.1h1.6v1.9h-1.6zM776.7 590.0h1.4v2.2h-1.4zM777.8 589.8h2.2v1.7h-2.2zM779.0 588.3h1.1v1.9h-1.1zM777.5 589.4h1.3v1.6h-1.3zM776.2 587.9h2.1v2.2h-2.1zM777.3 587.1h1.6v1.6h-1.6zM777.3 588.9h1.9v1.3h-1.9zM777.2 587.6h1.1v1.2h-1.1zM765.7 587.4h1.1v2.1h-1.1zM767.0 588.1h1.5v1.6h-1.5zM765.7 588.8h1.5v2.0h-1.5zM764.3 588.6h1.4v1.4h-1.4zM765.5 587.5h1.3v1.2h-1.3zM764.2 587.7h1.1v1.9h-1.1zM762.7 588.4h1.4v1.8h-1.4zM761.5 588.8h1.1v1.0h-1.1zM765.7 591.7h1.6v1.4h-1.6zM764.0 591.0h2.1v2.2h-2.1zM765.4 592.1h2.2v1.2h-2.2zM767.4 591.7h1.1v1.5h-1.1zM776.9 599.8L779.6 596.5L783.2 597.6L783.8 603.7L785.0 609.6L782.1 613.6L779.0 611.7L775.5 610.8L776.2 604.7zM778.6 600.4h2.1v2.2h-2.1zM778.4 599.0h1.9v2.0h-1.9zM777.8 598.1h1.8v1.4h-1.8zM776.4 597.9h1.6v2.3h-1.6zM775.8 599.4h1.4v2.1h-1.4zM777.2 599.1h1.8v2.0h-1.8zM780.5 603.1h2.1v1.6h-2.1zM780.3 601.8h1.5v1.3h-1.5zM778.9 602.5h2.0v2.0h-2.0zM779.5 604.4h1.4v1.3h-1.4zM778.2 604.8h1.1v1.0h-1.1zM776.7 605.5h2.1v1.5h-2.1zM778.9 605.5h1.1v1.3h-1.1zM778.7 605.5h1.8v1.7h-1.8zM777.2 604.5h2.1v2.0h-2.1zM776.1 604.5h1.5v1.2h-1.5zM774.8 603.5h2.1v1.3h-2.1zM778.9 604.2h1.5v1.3h-1.5zM777.9 605.2h2.2v2.0h-2.2zM778.8 604.0h1.5v1.4h-1.5zM778.7 605.4h1.4v1.7h-1.4zM778.7 607.0h2.2v1.3h-2.2zM779.4 605.4h1.5v1.3h-1.5zM778.3 603.9h1.3v2.2h-1.3zM778.4 605.8h1.6v1.2h-1.6zM777.0 605.4h1.4v1.5h-1.4zM776.3 603.8h2.0v2.0h-2.0zM778.0 603.1h1.6v2.0h-1.6zM779.1 602.2h1.5v2.0h-1.5zM780.3 603.5h1.7v1.6h-1.7zM778.9 604.5h2.3v2.1h-2.3zM768.9 598.7h1.4v1.5h-1.4zM767.9 599.3h1.6v1.8h-1.6zM768.8 599.9h1.9v1.4h-1.9zM767.7 600.0h1.9v1.4h-1.9zM766.5 600.0h2.2v1.6h-2.2zM767.8 599.6h1.9v1.9h-1.9zM767.5 598.5h1.3v2.2h-1.3zM768.2 598.2h2.2v1.9h-2.2zM749.6 592.3h1.8v1.2h-1.8zM752.3 592.9h1.2v1.6h-1.2zM750.7 592.9h1.9v1.4h-1.9zM726.8 568.3h1.3v1.6h-1.3zM725.7 567.8h1.7v1.2h-1.7zM725.3 568.0h1.4v1.6h-1.4zM795.6 629.1h1.9v1.8h-1.9zM794.8 629.2h1.5v1.2h-1.5zM795.7 628.5h1.5v1.9h-1.5zM796.7 628.2h1.2v1.5h-1.2zM797.3 628.6h1.8v1.4h-1.8zM796.4 628.7h1.5v1.6h-1.5zM516.7 586.5L514.1 585.0L511.2 583.4L512.4 580.6L515.8 579.2L519.4 580.2L520.3 582.7L519.6 585.0zM515.4 584.0h1.4v1.3h-1.4zM514.7 582.7h1.4v1.3h-1.4zM520.0 582.9h2.2v2.1h-2.2zM518.7 583.6h2.2v2.1h-2.2zM519.2 585.4h2.3v1.4h-2.3zM522.4 582.6h2.0v2.2h-2.0zM523.2 584.1h2.1v1.7h-2.1zM524.6 584.5h2.1v1.5h-2.1zM482.6 603.4h1.5v1.6h-1.5zM481.7 602.8h1.8v1.8h-1.8zM481.2 602.6h1.3v1.3h-1.3zM479.9 602.0h2.1v2.1h-2.1zM479.6 601.7h1.3v2.2h-1.3zM508.7 607.4h1.8v1.6h-1.8zM510.5 608.6h1.8v1.2h-1.8zM510.7 607.4h1.5v1.6h-1.5zM516.7 600.2h1.9v1.2h-1.9zM517.0 599.1h1.7v1.5h-1.7zM516.3 598.7h1.5v1.3h-1.5zM462.0 616.2h1.6v1.4h-1.6zM462.4 616.8h1.4v1.5h-1.4z"/>
<g fill="none" stroke="#1b8fff" stroke-width="1.5" stroke-linejoin="round" stroke-linecap="round">
<path d="M461.5 535.4C465.6 536.6 469.0 538.8 476.9 539.8C484.8 540.8 483.5 539.3 491.0 539.3C498.5 539.3 498.3 538.1 505.0 539.8C511.7 541.5 510.3 542.9 516.3 545.5C522.3 548.1 520.8 548.6 527.5 549.7C534.2 550.8 535.6 549.5 541.6 549.7C547.6 549.9 546.2 548.1 550.0 550.3C553.8 552.5 551.9 553.8 555.7 558.1C559.5 562.4 559.2 562.5 564.1 566.6C569.0 570.7 568.7 572.1 574.0 573.6C579.3 575.1 579.3 572.6 583.8 572.2C588.3 571.8 587.8 570.0 590.8 572.2C593.8 574.4 591.7 576.8 595.1 580.6C598.5 584.4 597.5 584.4 603.5 586.3C609.5 588.2 610.9 586.6 617.6 587.7C624.3 588.8 623.9 587.5 628.8 590.5C633.7 593.5 632.9 593.3 635.9 598.9C638.9 604.5 637.1 606.0 640.1 611.6C643.1 617.2 642.6 615.9 647.1 620.0C651.6 624.1 651.4 622.2 657.0 627.1C662.6 632.0 662.6 633.4 668.2 638.3C673.8 643.2 673.6 640.5 678.1 645.4C682.6 650.3 681.7 650.6 685.1 656.6C688.5 662.6 687.5 662.7 690.7 667.9C693.9 673.1 692.7 671.3 697.0 676.0C701.3 680.7 702.4 681.2 707.0 685.7C711.6 690.2 712.2 691.1 714.1 693.0"/>
<path d="M461.5 585.6C464.9 585.8 468.5 585.0 474.1 586.3C479.7 587.6 476.5 588.6 482.5 590.5C488.5 592.4 488.3 592.2 496.6 593.3C504.9 594.4 505.3 595.8 513.5 594.7C521.7 593.6 519.6 591.0 527.5 589.1C535.4 587.2 536.2 586.2 543.0 587.7C549.8 589.2 547.3 591.3 552.9 594.7C558.5 598.1 557.4 598.8 564.1 600.3C570.8 601.8 569.9 599.4 578.2 600.3C586.5 601.2 586.1 602.2 595.1 603.7C604.1 605.2 603.7 605.0 611.9 606.0C620.1 607.0 620.7 605.2 626.0 607.4C631.3 609.6 627.8 610.7 631.6 614.4C635.4 618.1 634.1 618.4 640.1 621.4C646.1 624.4 646.6 621.2 654.1 625.7C661.6 630.2 664.4 634.9 668.2 638.3"/>
<path d="M486.7 650.4C490.8 651.3 493.6 653.6 502.2 653.8C510.8 654.0 511.6 651.9 519.1 651.0C526.6 650.1 525.0 648.9 530.3 650.4C535.6 651.9 535.0 652.7 538.8 656.6C542.6 660.5 539.9 661.3 544.4 665.1C548.9 668.9 548.2 669.4 555.7 670.7C563.2 672.0 565.1 669.1 572.6 669.8C580.1 670.5 576.3 671.8 583.8 673.5C591.3 675.2 591.7 676.3 600.7 676.3C609.7 676.3 608.6 675.4 617.6 673.5C626.6 671.6 623.9 671.5 634.4 669.3C644.9 667.1 649.9 666.2 657.0 665.1C664.1 664.0 660.1 665.1 661.2 665.1"/>
<path d="M557.1 634.7C559.0 636.0 558.5 637.6 564.1 639.7C569.7 641.8 571.5 640.2 578.2 642.5C584.9 644.8 583.4 645.2 589.4 648.2C595.4 651.2 594.7 651.2 600.7 653.8C606.7 656.4 606.6 658.4 611.9 658.0C617.2 657.6 615.1 654.4 620.4 652.4C625.7 650.4 624.9 649.7 631.6 650.4C638.3 651.1 637.8 651.3 645.7 655.2C653.6 659.1 653.7 660.2 661.2 665.1C668.7 670.0 666.9 669.4 673.8 673.5C680.7 677.6 680.4 676.1 687.0 680.5C693.6 684.9 694.2 686.7 698.4 690.0C702.6 693.3 701.6 692.2 702.7 693.0"/>
<path d="M461.5 684.0C465.6 684.6 469.0 686.0 476.9 686.2C484.8 686.4 483.5 685.3 491.0 684.8C498.5 684.3 498.3 683.1 505.0 684.2C511.7 685.3 512.2 686.7 516.3 689.0C520.4 691.3 519.4 691.9 520.5 693.0"/>
<path d="M782.5 693.0C784.4 689.5 785.4 686.5 789.6 680.0C793.8 673.5 792.9 673.5 798.2 668.6C803.5 663.7 803.1 664.5 809.6 661.5C816.1 658.5 816.3 657.6 822.4 657.2C828.5 656.8 826.1 659.2 832.4 660.1C838.7 661.0 842.4 660.5 846.0 660.7"/>
</g>
<path d="M749.7 419.3L747.1 420.7L744.0 421.4L740.7 422.9L738.3 424.1L735.5 425.1L732.9 426.5L730.9 427.3L728.4 428.7L725.7 429.8L723.9 430.7L721.3 432.2L719.0 433.2L715.8 434.8L713.9 435.7L710.7 436.7L708.7 438.0L706.4 439.5L703.4 440.6L702.2 443.4L701.5 445.4L700.1 448.0L699.1 450.7L697.2 452.6L696.5 455.0L694.0 456.3L691.8 458.3L688.5 460.0L686.2 461.2L683.8 463.0L685.8 465.1L688.4 466.0L690.6 468.0L691.5 471.8L694.2 473.7L696.6 476.0L699.2 478.4L701.3 480.1L704.2 482.0L707.1 483.5L709.7 485.8L712.0 487.5L714.4 489.1L717.1 490.5L719.5 491.8L722.0 492.4L724.9 493.7L727.2 495.3L729.7 496.1L732.3 497.2L735.3 497.9L738.3 499.2L737.4 501.9L737.0 504.8L733.8 506.2L731.2 507.5L733.2 509.6L735.6 511.9L738.5 512.3L741.5 511.8L744.0 511.9L744.3 514.7L745.0 518.0L744.9 520.0L745.5 523.2L747.0 525.9L749.0 528.2L751.2 530.5L753.3 532.2L754.5 535.1L756.6 536.8L758.4 539.1L761.1 539.0L763.6 538.9L766.5 539.1L769.7 538.9L773.1 538.1L776.0 538.1L779.7 537.6L781.2 534.1L782.4 530.5L784.5 528.1L787.6 526.0L789.7 523.3L792.6 523.3L795.0 523.1L798.5 522.4L801.3 522.1L803.8 522.0L804.3 518.8L805.9 515.0L806.3 511.8L803.9 510.7L801.3 509.9L798.3 508.9L798.1 504.9L801.9 506.2L805.2 507.5L807.8 507.7L811.0 508.8L813.6 509.2L815.6 509.2L818.6 509.7L821.0 510.5L822.4 514.6L820.9 517.2L819.8 519.7L818.9 522.0L818.0 524.7L820.9 524.9L823.6 525.7L826.8 526.1L827.1 522.4L828.0 519.0L832.5 520.4L832.1 523.1L832.3 526.1L832.4 529.1L836.7 529.0L836.9 532.0L837.0 534.6L836.7 537.6L834.2 540.5L832.4 543.1L829.1 543.6L826.3 543.8L823.5 543.7L820.6 544.1L818.4 544.0L815.3 544.9L812.3 544.7L809.8 545.5L806.4 545.8L803.5 545.8L801.4 546.2L798.5 547.3L795.3 547.6L792.6 549.2L789.6 551.0L786.9 553.3L784.4 553.1L781.5 553.2L779.0 553.8L776.5 553.8L773.6 554.0L770.4 554.0L767.7 553.9L765.3 554.2L763.9 557.6L761.6 558.8L758.4 560.2L758.0 562.7L757.9 565.6L758.4 568.8L759.8 571.1L760.8 573.6L762.5 576.1L764.4 578.5L766.5 580.8L768.3 583.0L769.7 585.6L771.6 587.4L773.9 589.6L775.5 591.8L776.8 594.2L778.4 597.3L779.8 600.2L777.0 601.9L774.0 603.2L773.4 605.6L772.4 609.1L771.2 611.6L767.3 612.7L764.0 614.6L761.0 614.7L758.1 615.5L755.5 616.8L752.9 616.9L749.7 617.8L747.2 618.7L744.0 619.3L741.2 619.6L738.3 619.7L735.9 620.6L732.6 620.9L733.1 623.8L733.0 625.9L733.4 629.0L734.2 631.5L734.4 634.1L734.8 637.5L734.6 640.6L735.4 642.6L735.5 645.7L735.0 649.0L733.8 651.2L733.4 654.7L732.7 657.2L730.3 659.3L728.6 661.5L726.7 663.4L725.1 665.3L722.8 667.1L719.4 665.4L716.9 663.0L714.4 661.4L711.6 660.8L709.2 659.6L706.3 658.6L704.1 657.3L701.8 655.7L700.1 653.7L697.7 652.1L696.5 650.0L694.2 648.6L692.2 646.8L689.6 643.9L686.9 641.5L684.1 641.6L680.9 641.1L679.9 645.7L676.4 646.4L672.8 647.4L669.9 651.6L666.5 651.5L662.9 652.4L660.6 650.6L658.5 649.6L655.9 647.9L653.2 646.4L651.2 645.3L648.7 643.6L647.0 642.7L644.9 640.9L642.5 639.8L640.0 638.4L637.6 635.7L635.1 634.0L632.9 631.3L629.8 630.7L626.6 630.0L623.2 629.9L620.5 628.9L617.4 627.8L614.9 626.5L611.4 628.1L607.6 628.9L610.9 631.4L613.3 634.1L612.3 637.6L610.6 641.0L608.2 644.1L606.3 646.8L604.9 649.9L603.4 653.8L600.7 654.9L597.8 656.5L594.9 657.6L592.1 659.0L589.5 660.1L592.5 661.0L595.1 662.7L598.0 663.6L600.3 664.7L603.5 666.8L606.2 668.0L609.3 667.5L612.3 666.1L615.0 665.5L617.5 665.1L620.4 665.4L623.0 666.2L625.7 666.8L628.7 667.8L630.5 669.7L632.7 671.7L634.4 673.5L634.0 676.5L633.2 679.8L633.0 683.3L633.8 685.7L635.2 688.3L636.3 690.7L637.2 693.1" fill="none" stroke="#111" stroke-width="1.5" stroke-linejoin="round"/>
</g>
<rect x="622.3" y="536.1" width="8.8" height="8.8" fill="none" stroke="#000" stroke-width="1.7"/>
<text transform="translate(635.6,588.3) rotate(30.5)" font-size="14" font-weight="bold">Taor River</text>
<text x="839.6" y="439.8" font-size="14.7" text-anchor="end">SPOT VGT</text>
<rect x="461.3" y="418.6" width="384.8" height="274.5" fill="none" stroke="#2e2e2a" stroke-width="1.3"/>
</g>
<g id="chartsB">
<rect x="60.8" y="706.5" width="382.0" height="95.6" fill="#fdfdfd" stroke="#3a3a3a" stroke-width="1.1"/>
<path d="M108.5 706.5v4M108.5 802.1v-4M156.3 706.5v4M156.3 802.1v-4M204.1 706.5v4M204.1 802.1v-4M251.8 706.5v4M251.8 802.1v-4M299.6 706.5v4M299.6 802.1v-4M347.3 706.5v4M347.3 802.1v-4M395.1 706.5v4M395.1 802.1v-4M60.8 716.9h4M442.8 716.9h-4M60.8 759.5h4M442.8 759.5h-4M60.8 802.1h4M442.8 802.1h-4" stroke="#3a3a3a" stroke-width="1" fill="none"/>
<path d="M64.4 795.7L68.6 796.1L72.6 789.6L76.6 779.7L80.8 768.0L84.8 755.1L88.5 741.0L92.5 731.7L96.5 735.2L100.7 758.6L104.5 782.5L108.5 780.7L112.4 785.3L116.4 786.8L120.7 780.9L124.6 778.5L128.4 768.5L132.4 756.3L136.4 743.4L140.3 734.0L144.3 744.5L148.3 773.9L152.3 777.4L156.3 792.1L160.3 795.0L164.3 793.8L168.2 781.6L172.2 778.5L176.2 768.0L180.2 755.8L184.2 751.1L188.2 736.3L192.2 748.1L196.1 769.6L200.1 778.5L204.1 784.9L208.1 785.6L212.1 784.4L216.1 780.2L220.1 780.9L224.1 752.8L228.0 746.4L232.0 732.8L236.0 728.8L240.0 738.7L244.0 772.2L248.0 783.2L252.0 791.4L250.0 787.2L252.3 791.4L255.9 794.3L259.8 792.6L263.6 783.2L267.6 782.8L271.6 775.0L275.3 755.1L279.3 735.2L283.5 725.8L287.5 739.9L291.5 769.2L295.5 782.1L299.5 790.7L303.5 789.8L307.4 789.1L311.4 781.6L315.4 780.4L319.4 763.3L323.4 743.4L327.4 728.1L331.4 722.7L335.3 730.0L339.3 756.3L343.3 777.4L347.3 785.6L351.3 796.1L355.3 792.1L359.3 780.9L363.2 777.4L367.2 750.4L371.2 734.0L375.2 729.3L379.0 723.0L382.9 737.5L386.9 759.8L390.9 777.4L394.9 783.2L398.9 785.6L402.9 776.7L406.9 779.2L410.8 778.1L414.8 743.4L418.8 730.5L422.8 724.2L426.8 717.1L430.8 729.3L434.8 765.7L438.7 772.7L442.7 780.9" stroke="#2b2b2b" stroke-width="1.05" fill="none" stroke-linejoin="round"/>
<text x="83.7" y="827.7" font-size="17.9" text-anchor="middle">1999</text>
<text x="132.9" y="827.7" font-size="17.9" text-anchor="middle">2000</text>
<text x="181.8" y="827.7" font-size="17.9" text-anchor="middle">2001</text>
<text x="228.2" y="827.7" font-size="17.9" text-anchor="middle">2002</text>
<text x="277.6" y="827.7" font-size="17.9" text-anchor="middle">2003</text>
<text x="325.1" y="827.7" font-size="17.9" text-anchor="middle">2004</text>
<text x="371.1" y="827.7" font-size="17.9" text-anchor="middle">2005</text>
<text x="420.6" y="827.7" font-size="17.9" text-anchor="middle">2006</text>
<text x="51.4" y="723.3" font-size="17.9" text-anchor="end">0.8</text>
<text x="51.4" y="765.9" font-size="17.9" text-anchor="end">0.4</text>
<text x="51.4" y="808.5" font-size="17.9" text-anchor="end">0.0</text>
<text transform="translate(17.2,755.5) rotate(-90)" font-size="18" text-anchor="middle">NDVI</text>
<rect x="460.5" y="706.5" width="381.7" height="95.6" fill="#fdfdfd" stroke="#3a3a3a" stroke-width="1.1"/>
<path d="M508.2 706.5v4M508.2 802.1v-4M555.9 706.5v4M555.9 802.1v-4M603.6 706.5v4M603.6 802.1v-4M651.3 706.5v4M651.3 802.1v-4M699.0 706.5v4M699.0 802.1v-4M746.7 706.5v4M746.7 802.1v-4M794.4 706.5v4M794.4 802.1v-4M460.5 716.9h4M842.2 716.9h-4M460.5 759.5h4M842.2 759.5h-4M460.5 802.1h4M842.2 802.1h-4" stroke="#3a3a3a" stroke-width="1" fill="none"/>
<path d="M464.4 794.5L468.4 790.3L472.1 790.3L476.1 777.4L480.1 749.2L484.1 734.7L488.1 728.1L491.8 723.4L496.0 730.5L500.0 762.1L504.0 769.9L508.0 772.0L512.0 791.4L516.0 782.1L519.9 777.4L523.9 776.2L527.9 753.9L531.9 744.5L535.9 732.8L539.9 724.2L543.9 734.0L547.8 764.5L551.8 773.9L555.8 794.3L559.8 797.3L563.8 796.1L567.8 779.7L571.8 778.5L575.8 766.8L579.7 755.1L583.7 745.7L587.5 738.2L591.5 746.4L595.4 770.3L599.4 774.6L603.4 778.1L607.4 782.5L611.4 780.9L615.4 780.4L619.4 779.0L623.3 758.6L627.3 749.2L631.3 736.3L635.3 728.8L639.3 733.5L643.3 769.9L647.3 778.5L650.0 785.6L651.2 793.8L655.2 793.3L659.1 789.1L663.1 780.4L667.1 777.4L671.1 771.5L675.1 757.4L679.1 722.3L683.1 722.3L687.0 735.2L691.0 758.6L695.0 773.9L699.0 786.8L703.0 786.3L707.0 784.9L711.0 779.7L714.9 778.1L718.9 764.0L722.9 758.6L726.9 729.3L730.9 720.4L734.9 729.3L738.9 757.4L742.8 772.7L746.8 778.5L750.8 796.1L754.8 795.0L758.8 779.7L762.8 775.7L766.8 750.4L770.8 731.2L774.7 727.7L778.5 722.7L782.5 736.3L786.5 755.1L790.4 772.7L794.4 778.1L798.4 788.6L802.4 778.5L806.4 778.5L810.4 779.7L814.4 766.8L818.3 738.7L822.3 725.8L826.3 721.8L830.3 732.8L834.3 766.4L838.3 775.0L842.3 783.2" stroke="#2b2b2b" stroke-width="1.05" fill="none" stroke-linejoin="round"/>
<text x="484.4" y="827.7" font-size="17.9" text-anchor="middle">1999</text>
<text x="533.6" y="827.7" font-size="17.9" text-anchor="middle">2000</text>
<text x="582.4" y="827.7" font-size="17.9" text-anchor="middle">2001</text>
<text x="628.8" y="827.7" font-size="17.9" text-anchor="middle">2002</text>
<text x="678.1" y="827.7" font-size="17.9" text-anchor="middle">2003</text>
<text x="725.6" y="827.7" font-size="17.9" text-anchor="middle">2004</text>
<text x="771.5" y="827.7" font-size="17.9" text-anchor="middle">2005</text>
<text x="820.9" y="827.7" font-size="17.9" text-anchor="middle">2006</text>
</g>
<g id="north">
<path d="M107.4 850v56.2" stroke="#000" stroke-width="2.3" fill="none"/>
<path d="M107.4 845.6L113.6 859.2L107.4 856.8L101.2 859.2z" fill="#000"/>
<path d="M107.4 867.6L118 878.2L107.4 888.8L96.8 878.2z" fill="#000"/>
<text x="107.7" y="883.3" font-size="14" font-weight="bold" font-style="italic" fill="#fff" text-anchor="middle">N</text>
</g>
<g id="inset">
<path d="M89.4 943.6L92.2 944.4L94.6 944.9L96.7 945.0L99.8 945.5L102.3 945.3L104.4 945.9L106.9 945.6L109.0 944.8L111.8 944.7L114.6 944.4L117.2 944.5L119.4 944.9L121.5 945.0L124.1 944.1L127.1 944.2L129.2 945.1L131.9 945.5L134.3 946.2L137.4 947.3L140.1 947.7L142.7 948.4L145.6 949.5L148.0 950.4L150.3 951.1L153.1 951.5L156.0 951.7L158.0 951.9L160.8 951.9L162.7 954.2L167.3 954.1L170.1 953.1L173.8 951.6L175.9 950.3L178.5 950.1L181.2 948.9L184.2 948.6L186.2 947.4L188.8 947.0L190.9 946.8L194.1 946.6L196.1 946.2L198.4 945.9L201.4 946.4L203.7 946.2L206.3 945.4L208.6 944.8L211.1 944.5L214.0 944.2L216.0 942.6L219.0 942.2L221.5 940.1L224.4 938.6L227.2 937.0L229.9 935.7L233.6 933.8L233.0 929.9L229.2 927.4L230.6 925.1L231.8 922.5L235.6 920.7L239.9 920.3L243.4 921.3L246.3 921.5L248.8 922.3L251.6 921.1L254.4 920.2L257.1 919.3L260.2 917.5L262.8 916.4L265.6 915.5L268.8 915.5L271.3 914.8L274.3 913.5L277.0 912.0L278.7 910.2L280.6 908.1L283.4 907.3L285.5 906.6L288.3 905.3L290.3 904.7L293.0 904.2L295.7 903.5L298.3 903.9L300.6 903.9L303.3 904.1L305.6 904.4L308.5 904.4L310.9 904.6L312.5 902.5L310.8 900.5L309.9 897.8L307.5 896.6L305.1 894.9L302.5 894.0L299.5 892.8L297.0 892.8L294.5 892.6L291.7 892.1L289.0 892.8L286.2 893.2L283.6 892.9L280.7 893.4L277.4 892.8L274.9 892.7L270.2 891.1L271.2 888.8L272.2 886.6L274.9 882.9L276.4 880.1L277.9 878.0L279.2 876.3L281.0 873.8L284.6 874.0L288.0 874.7L291.0 874.3L294.2 873.0L296.9 872.3L300.2 871.4L303.9 871.3L305.8 867.1L307.4 864.6L309.2 862.3L310.5 860.4L312.6 858.0L314.9 855.9L317.0 852.9L316.1 848.4L313.7 845.8L316.1 844.4L317.9 842.2L321.0 841.2L323.2 840.1L326.3 840.4L328.4 840.6L330.1 843.2L326.7 845.7L328.6 848.6L330.7 848.1L333.6 847.8L336.2 848.7L338.0 850.1L340.1 854.5L342.5 857.3L346.2 858.2L349.7 858.9L353.3 858.4L356.6 858.0L360.9 859.0L364.5 856.3L369.0 858.1L370.1 860.1L372.1 862.6L370.8 865.2L368.7 867.9L367.5 870.5L366.4 873.1L363.6 875.8L362.8 880.1L360.2 881.8L358.6 884.4L357.3 886.4L356.7 890.7L353.0 888.1L349.7 889.7L347.4 891.1L345.2 892.3L342.7 893.8L340.9 894.9L338.0 897.8L340.0 901.3L343.2 903.1L346.3 902.3L347.9 903.7L345.3 905.5L342.6 907.6L341.8 910.8L337.2 912.0L332.8 911.8L331.1 914.3L333.7 917.7L333.8 920.4L334.4 923.0L335.5 926.8L338.5 926.8L340.8 927.5L345.2 928.5L346.3 932.9L348.5 936.5L349.0 938.2L346.8 940.0L344.4 941.0L341.4 941.9L338.7 942.9L336.3 943.1L333.6 944.0L331.4 944.6L329.0 945.8L325.9 946.7L323.7 947.4L321.4 948.5L319.1 950.0L316.2 951.4L312.3 952.3L309.8 950.0L308.1 948.6L305.9 952.1L304.3 956.1L301.1 956.1L297.5 956.8L296.4 954.4L295.7 952.1L294.2 949.5L293.0 947.6L290.1 945.3L287.5 946.0L284.4 946.6L280.8 949.4L277.5 949.9L274.9 951.1L272.6 951.7L269.5 952.0L266.1 951.6L262.8 950.3L261.0 953.1L257.8 953.8L255.3 955.0L253.6 958.7L254.3 963.4L250.5 966.2L247.6 966.7L244.8 967.4L242.1 969.0L239.5 970.1L236.6 971.9L233.7 973.0L230.8 974.0L228.2 974.6L225.0 975.2L222.4 976.4L219.6 977.5L216.9 977.4L214.5 978.8L212.3 980.5L210.0 982.0L208.5 984.3L206.7 985.9L204.9 987.7L202.9 990.5L201.9 992.3L199.1 992.2L196.3 990.9L192.4 989.5L190.1 988.4L187.1 987.0L184.3 985.4L182.2 984.2L182.9 982.0L184.0 979.5L182.0 977.1L178.4 977.8L175.7 980.7L173.7 985.2L171.8 989.1L169.9 990.6L167.3 991.8L162.3 993.2L157.8 993.4L154.1 991.9L151.4 988.3L153.1 984.4L156.1 982.4L156.8 977.7L154.9 976.1L152.5 976.3L149.3 976.7L146.4 977.5L143.8 978.8L141.2 979.4L139.2 980.5L135.2 982.4L130.6 982.4L128.7 980.5L127.0 978.8L124.9 977.5L122.3 976.0L119.8 974.9L117.6 973.4L114.9 972.4L111.8 971.4L114.7 968.4L116.7 967.3L119.3 966.7L117.4 962.6L112.9 961.9L109.6 962.4L107.1 963.7L104.2 964.7L100.6 964.6L98.7 962.2L96.8 959.8L95.6 957.9L94.2 955.2L95.0 951.5L92.3 947.8L91.2 945.9z" fill="#fff" stroke="none"/>
<rect x="168.2" y="967.6" width="31.8" height="22" fill="#a2a59d"/>
<rect x="318.2" y="894.8" width="31.5" height="21.4" fill="#a2a59d"/>
<path d="M89.4 943.6L92.2 944.4L94.6 944.9L96.7 945.0L99.8 945.5L102.3 945.3L104.4 945.9L106.9 945.6L109.0 944.8L111.8 944.7L114.6 944.4L117.2 944.5L119.4 944.9L121.5 945.0L124.1 944.1L127.1 944.2L129.2 945.1L131.9 945.5L134.3 946.2L137.4 947.3L140.1 947.7L142.7 948.4L145.6 949.5L148.0 950.4L150.3 951.1L153.1 951.5L156.0 951.7L158.0 951.9L160.8 951.9L162.7 954.2L167.3 954.1L170.1 953.1L173.8 951.6L175.9 950.3L178.5 950.1L181.2 948.9L184.2 948.6L186.2 947.4L188.8 947.0L190.9 946.8L194.1 946.6L196.1 946.2L198.4 945.9L201.4 946.4L203.7 946.2L206.3 945.4L208.6 944.8L211.1 944.5L214.0 944.2L216.0 942.6L219.0 942.2L221.5 940.1L224.4 938.6L227.2 937.0L229.9 935.7L233.6 933.8L233.0 929.9L229.2 927.4L230.6 925.1L231.8 922.5L235.6 920.7L239.9 920.3L243.4 921.3L246.3 921.5L248.8 922.3L251.6 921.1L254.4 920.2L257.1 919.3L260.2 917.5L262.8 916.4L265.6 915.5L268.8 915.5L271.3 914.8L274.3 913.5L277.0 912.0L278.7 910.2L280.6 908.1L283.4 907.3L285.5 906.6L288.3 905.3L290.3 904.7L293.0 904.2L295.7 903.5L298.3 903.9L300.6 903.9L303.3 904.1L305.6 904.4L308.5 904.4L310.9 904.6L312.5 902.5L310.8 900.5L309.9 897.8L307.5 896.6L305.1 894.9L302.5 894.0L299.5 892.8L297.0 892.8L294.5 892.6L291.7 892.1L289.0 892.8L286.2 893.2L283.6 892.9L280.7 893.4L277.4 892.8L274.9 892.7L270.2 891.1L271.2 888.8L272.2 886.6L274.9 882.9L276.4 880.1L277.9 878.0L279.2 876.3L281.0 873.8L284.6 874.0L288.0 874.7L291.0 874.3L294.2 873.0L296.9 872.3L300.2 871.4L303.9 871.3L305.8 867.1L307.4 864.6L309.2 862.3L310.5 860.4L312.6 858.0L314.9 855.9L317.0 852.9L316.1 848.4L313.7 845.8L316.1 844.4L317.9 842.2L321.0 841.2L323.2 840.1L326.3 840.4L328.4 840.6L330.1 843.2L326.7 845.7L328.6 848.6L330.7 848.1L333.6 847.8L336.2 848.7L338.0 850.1L340.1 854.5L342.5 857.3L346.2 858.2L349.7 858.9L353.3 858.4L356.6 858.0L360.9 859.0L364.5 856.3L369.0 858.1L370.1 860.1L372.1 862.6L370.8 865.2L368.7 867.9L367.5 870.5L366.4 873.1L363.6 875.8L362.8 880.1L360.2 881.8L358.6 884.4L357.3 886.4L356.7 890.7L353.0 888.1L349.7 889.7L347.4 891.1L345.2 892.3L342.7 893.8L340.9 894.9L338.0 897.8L340.0 901.3L343.2 903.1L346.3 902.3L347.9 903.7L345.3 905.5L342.6 907.6L341.8 910.8L337.2 912.0L332.8 911.8L331.1 914.3L333.7 917.7L333.8 920.4L334.4 923.0L335.5 926.8L338.5 926.8L340.8 927.5L345.2 928.5L346.3 932.9L348.5 936.5L349.0 938.2L346.8 940.0L344.4 941.0L341.4 941.9L338.7 942.9L336.3 943.1L333.6 944.0L331.4 944.6L329.0 945.8L325.9 946.7L323.7 947.4L321.4 948.5L319.1 950.0L316.2 951.4L312.3 952.3L309.8 950.0L308.1 948.6L305.9 952.1L304.3 956.1L301.1 956.1L297.5 956.8L296.4 954.4L295.7 952.1L294.2 949.5L293.0 947.6L290.1 945.3L287.5 946.0L284.4 946.6L280.8 949.4L277.5 949.9L274.9 951.1L272.6 951.7L269.5 952.0L266.1 951.6L262.8 950.3L261.0 953.1L257.8 953.8L255.3 955.0L253.6 958.7L254.3 963.4L250.5 966.2L247.6 966.7L244.8 967.4L242.1 969.0L239.5 970.1L236.6 971.9L233.7 973.0L230.8 974.0L228.2 974.6L225.0 975.2L222.4 976.4L219.6 977.5L216.9 977.4L214.5 978.8L212.3 980.5L210.0 982.0L208.5 984.3L206.7 985.9L204.9 987.7L202.9 990.5L201.9 992.3L199.1 992.2L196.3 990.9L192.4 989.5L190.1 988.4L187.1 987.0L184.3 985.4L182.2 984.2L182.9 982.0L184.0 979.5L182.0 977.1L178.4 977.8L175.7 980.7L173.7 985.2L171.8 989.1L169.9 990.6L167.3 991.8L162.3 993.2L157.8 993.4L154.1 991.9L151.4 988.3L153.1 984.4L156.1 982.4L156.8 977.7L154.9 976.1L152.5 976.3L149.3 976.7L146.4 977.5L143.8 978.8L141.2 979.4L139.2 980.5L135.2 982.4L130.6 982.4L128.7 980.5L127.0 978.8L124.9 977.5L122.3 976.0L119.8 974.9L117.6 973.4L114.9 972.4L111.8 971.4L114.7 968.4L116.7 967.3L119.3 966.7L117.4 962.6L112.9 961.9L109.6 962.4L107.1 963.7L104.2 964.7L100.6 964.6L98.7 962.2L96.8 959.8L95.6 957.9L94.2 955.2L95.0 951.5L92.3 947.8L91.2 945.9z" fill="none" stroke="#262626" stroke-width="1.5" stroke-linejoin="round"/>
<path d="M344.6 901.6l2.4 -0.6l1.4 1.8l-1.6 1.6l-2.2 -0.8z" fill="none" stroke="#262626" stroke-width="1"/>
<text x="197.4" y="963.6" font-size="15.3">Ordos</text>
<text x="296.6" y="887.4" font-size="15.9">Hinggan</text>
</g>
<g id="legend">
<path d="M515.8 861.5L517.4 866.2L522.4 866.3L518.4 869.3L519.9 874.0L515.8 871.2L511.7 874.0L513.2 869.3L509.2 866.3L514.2 866.2z" fill="#000"/>
<rect x="511.0" y="888.3" width="10.4" height="7.7" rx="0.8" fill="none" stroke="#000" stroke-width="1.6"/>
<path d="M501.7 915h28.2" stroke="#2b9ad9" stroke-width="1.6"/>
<path d="M500.6 943.2L512.3 933.8L521.7 943.2L533.4 933.3" stroke="#000" stroke-width="1.3" fill="none"/>
<text x="543.5" y="871.7" font-size="14.6">City</text>
<text x="543.5" y="895.8" font-size="14.6">Test site</text>
<text x="543.5" y="920.9" font-size="14.6">River</text>
<text x="543.5" y="947.2" font-size="14.6">IM border</text>
<path d="M500.6 973.2V966.6H634.2V973.2M534.1 966.6v6.6M567.4 966.6v6.6M600.9 966.6v6.6" stroke="#000" stroke-width="1.4" fill="none"/>
<text x="500.6" y="986.6" font-size="12" text-anchor="middle">0</text>
<text x="534.1" y="986.6" font-size="12" text-anchor="middle">30</text>
<text x="567.4" y="986.6" font-size="12" text-anchor="middle">60</text>
<text x="624.3" y="986.6" font-size="12">120 km</text>
<rect x="702.3" y="847.80" width="14.8" height="18.21" fill="#379427"/>
<rect x="702.3" y="865.91" width="14.8" height="18.21" fill="#72b554"/>
<rect x="702.3" y="884.03" width="14.8" height="18.21" fill="#b5db86"/>
<rect x="702.3" y="902.14" width="14.8" height="18.21" fill="#ffffb8"/>
<rect x="702.3" y="920.26" width="14.8" height="18.21" fill="#f3ae7b"/>
<rect x="702.3" y="938.37" width="14.8" height="18.21" fill="#da623e"/>
<rect x="702.3" y="956.49" width="14.8" height="18.21" fill="#be1519"/>
<rect x="702.3" y="847.8" width="14.8" height="126.8" fill="none" stroke="#6e6e6e" stroke-width="1.2"/>
<path d="M702.3 865.91h14.8M702.3 884.03h14.8M702.3 902.14h14.8M702.3 920.26h14.8M702.3 938.37h14.8M702.3 956.49h14.8" stroke="#6e6e6e" stroke-width="0.8" fill="none"/>
<text x="723" y="868.6" font-size="14.5">1</text>
<text x="723" y="890.3" font-size="14.5">0.5</text>
<text x="723" y="916.3" font-size="14.5">no sign,</text>
<text x="723" y="941.6" font-size="14.5">- 0.5</text>
<text x="723" y="961.5" font-size="14.5">- 1</text>
<text x="702.3" y="991.6" font-size="14.75">NDVI change yr<tspan dy="-5" font-size="9">-1</tspan><tspan dy="5"> [%]</tspan></text>
</g>
</svg>
</body></html>
